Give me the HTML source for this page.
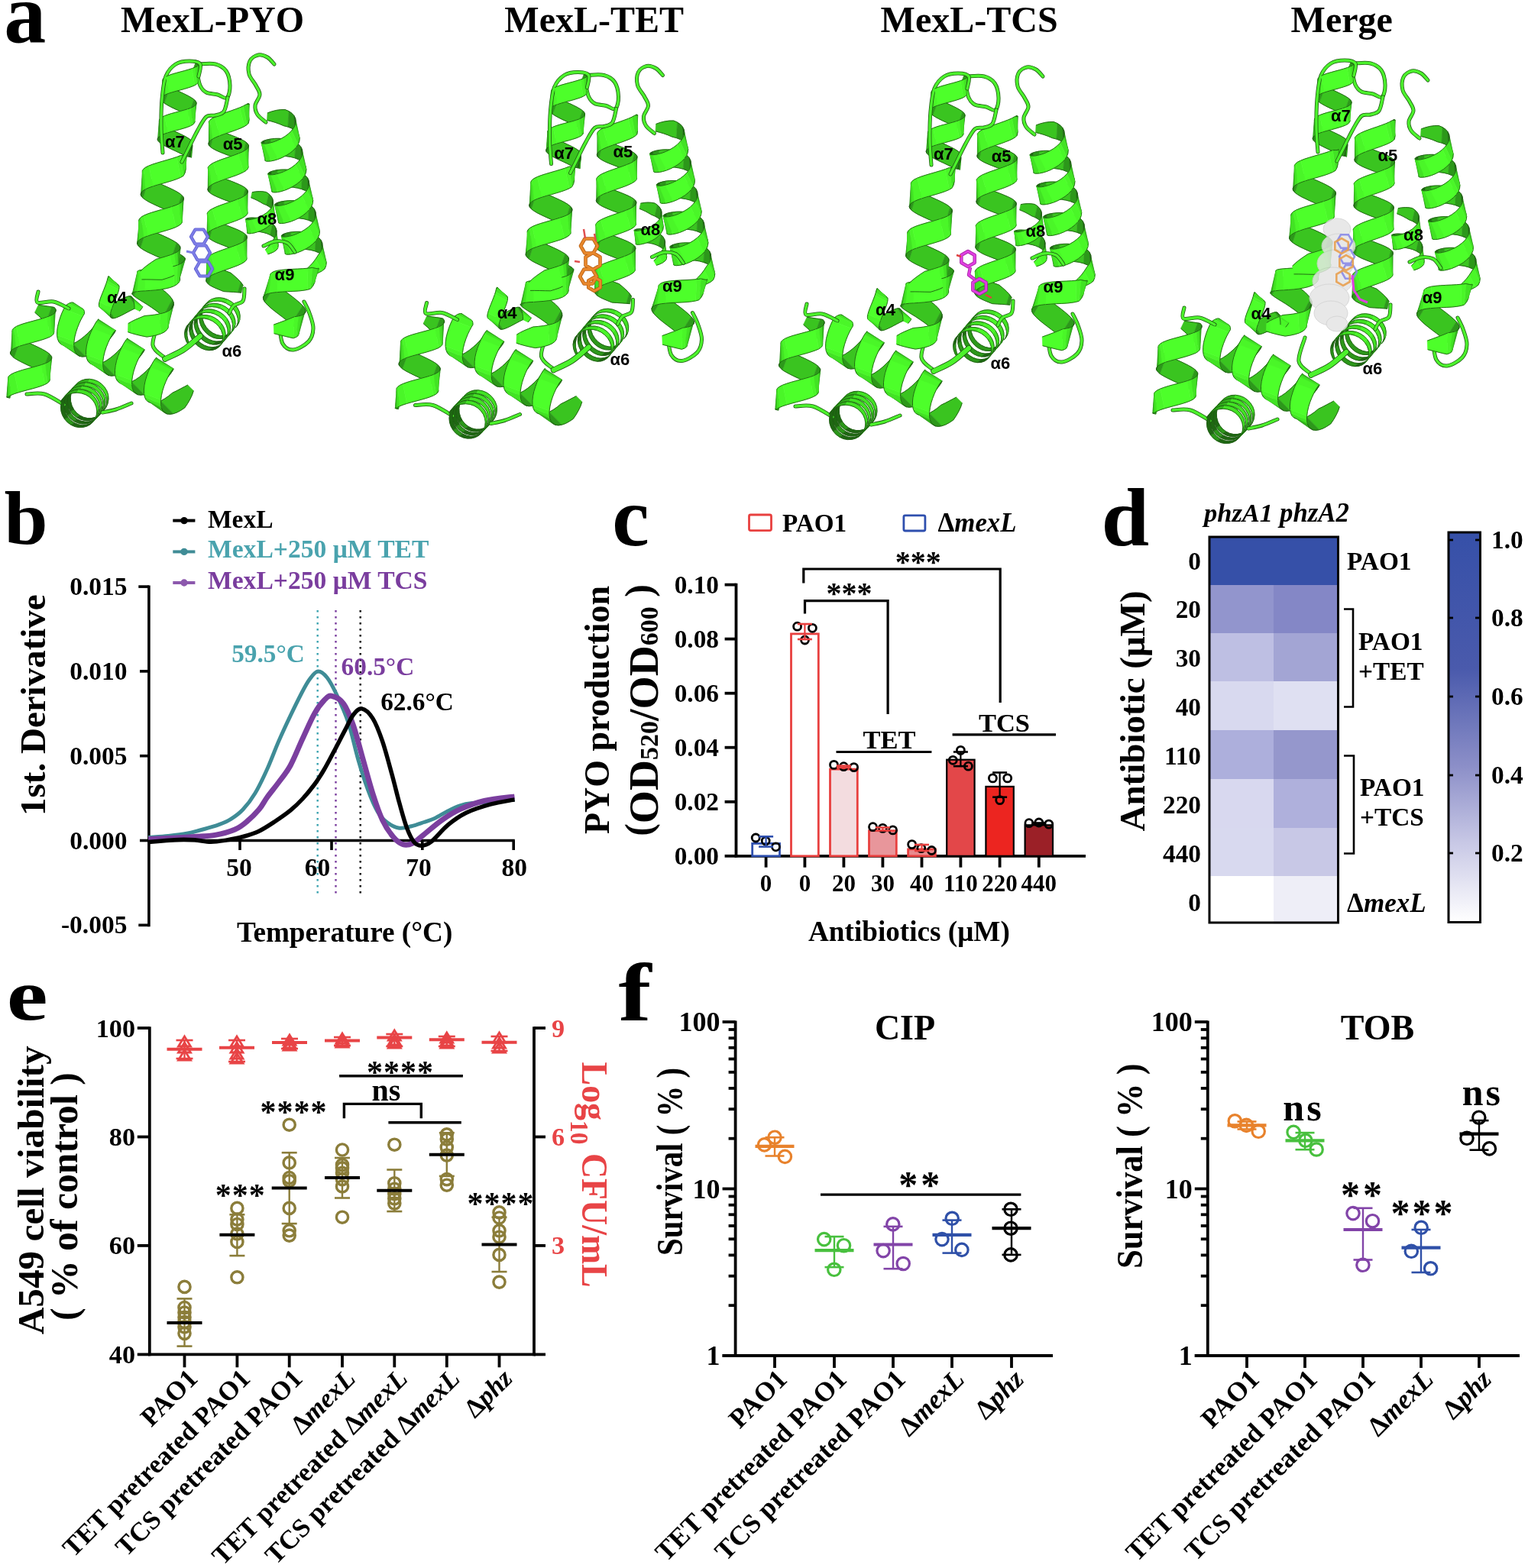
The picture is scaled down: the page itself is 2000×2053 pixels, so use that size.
<!DOCTYPE html>
<html><head><meta charset="utf-8"><title>Figure</title>
<style>html,body{margin:0;padding:0;background:#fff;} svg{display:block;}</style></head>
<body><svg width="2000" height="2053" viewBox="0 0 2000 2053">
<rect width="2000" height="2053" fill="#fff"/>
<text x="0" y="0" font-family="'Liberation Serif','Times New Roman',serif" font-size="110" font-weight="bold" fill="#000" transform="translate(5.3 54.9) scale(1.0 1)">a</text>
<text x="278.0" y="42.4" font-family="'Liberation Serif','Times New Roman',serif" font-size="48" font-weight="bold" fill="#000" text-anchor="middle">MexL-PYO</text>
<text x="777.7" y="42.4" font-family="'Liberation Serif','Times New Roman',serif" font-size="48" font-weight="bold" fill="#000" text-anchor="middle">MexL-TET</text>
<text x="1268.6" y="42.4" font-family="'Liberation Serif','Times New Roman',serif" font-size="48" font-weight="bold" fill="#000" text-anchor="middle">MexL-TCS</text>
<text x="1756.2" y="42.4" font-family="'Liberation Serif','Times New Roman',serif" font-size="48" font-weight="bold" fill="#000" text-anchor="middle">Merge</text>
<defs><g id="prot"><path d="M380.7,303.9 L386.0,303.4 L391.7,303.3 L397.6,303.7 L403.3,304.7 L408.7,306.3 L413.4,308.5 L412.4,328.9 L406.9,327.4 L401.1,326.6 L395.2,326.3 L389.6,326.5 L384.5,327.1 L380.1,328.0Z" fill="#3ac420" stroke="#3ac420" stroke-width="0.6" stroke-linejoin="round"/><path d="M380.7,303.9 L386.0,303.4 L391.7,303.3 L397.6,303.7 L403.3,304.7 L408.7,306.3 L413.4,308.5 M380.1,328.0 L384.5,327.1 L389.6,326.5 L395.2,326.3 L401.1,326.6 L406.9,327.4 L412.4,328.9" fill="none" stroke="#1c5a10" stroke-width="0.9" stroke-linejoin="round"/>
<path d="M413.4,308.5 L417.3,311.2 L420.1,314.4 L421.4,333.5 L417.3,330.9 L412.4,328.9Z" fill="#2c981a" stroke="#2c981a" stroke-width="0.6" stroke-linejoin="round"/><path d="M413.4,308.5 L417.3,311.2 L420.1,314.4 M412.4,328.9 L417.3,330.9 L421.4,333.5" fill="none" stroke="#1c5a10" stroke-width="0.9" stroke-linejoin="round"/>
<path d="M372.5,305.9 L376.2,304.8 L380.7,303.9 L380.1,328.0 L376.7,329.2 L374.4,330.4Z" fill="#2c981a" stroke="#2c981a" stroke-width="0.6" stroke-linejoin="round"/><path d="M372.5,305.9 L376.2,304.8 L380.7,303.9 M374.4,330.4 L376.7,329.2 L380.1,328.0" fill="none" stroke="#1c5a10" stroke-width="0.9" stroke-linejoin="round"/>
<path d="M420.1,314.4 L421.8,318.0 L422.2,321.9 L426.4,340.1 L424.5,336.6 L421.4,333.5Z" fill="#1e6812" stroke="#1e6812" stroke-width="0.6" stroke-linejoin="round"/><path d="M420.1,314.4 L421.8,318.0 L422.2,321.9 M421.4,333.5 L424.5,336.6 L426.4,340.1" fill="none" stroke="#1c5a10" stroke-width="0.9" stroke-linejoin="round"/>
<path d="M95.6,450.1 L100.7,447.4 L105.8,444.0 L110.7,440.1 L115.4,435.8 L119.5,431.5 L123.0,427.4 L125.8,423.8 L144.5,442.9 L140.9,447.0 L136.6,451.4 L131.9,455.6 L126.9,459.4 L121.8,462.7 L116.8,465.2 L112.0,466.7Z" fill="#3ac420" stroke="#3ac420" stroke-width="0.6" stroke-linejoin="round"/><path d="M95.6,450.1 L100.7,447.4 L105.8,444.0 L110.7,440.1 L115.4,435.8 L119.5,431.5 L123.0,427.4 L125.8,423.8 M112.0,466.7 L116.8,465.2 L121.8,462.7 L126.9,459.4 L131.9,455.6 L136.6,451.4 L140.9,447.0 L144.5,442.9" fill="none" stroke="#1c5a10" stroke-width="0.9" stroke-linejoin="round"/>
<path d="M422.2,321.9 L421.4,326.0 L427.2,344.0 L426.4,340.1Z" fill="#32b21c" stroke="#32b21c" stroke-width="0.6" stroke-linejoin="round"/><path d="M422.2,321.9 L421.4,326.0 M426.4,340.1 L427.2,344.0" fill="none" stroke="#1c5a10" stroke-width="0.9" stroke-linejoin="round"/>
<path d="M368.5,308.2 L369.9,307.1 L372.5,305.9 L374.4,330.4 L373.3,331.5 L373.4,332.4Z" fill="#1e6812" stroke="#1e6812" stroke-width="0.6" stroke-linejoin="round"/><path d="M368.5,308.2 L369.9,307.1 L372.5,305.9 M373.4,332.4 L373.3,331.5 L374.4,330.4" fill="none" stroke="#1c5a10" stroke-width="0.9" stroke-linejoin="round"/>
<path d="M371.9,263.3 L377.1,262.7 L382.8,262.6 L388.7,263.0 L394.4,264.0 L399.8,265.6 L404.6,267.8 L403.5,288.2 L398.0,286.7 L392.2,285.9 L386.3,285.6 L380.7,285.8 L375.6,286.5 L371.3,287.4Z" fill="#3ac420" stroke="#3ac420" stroke-width="0.6" stroke-linejoin="round"/><path d="M371.9,263.3 L377.1,262.7 L382.8,262.6 L388.7,263.0 L394.4,264.0 L399.8,265.6 L404.6,267.8 M371.3,287.4 L375.6,286.5 L380.7,285.8 L386.3,285.6 L392.2,285.9 L398.0,286.7 L403.5,288.2" fill="none" stroke="#1c5a10" stroke-width="0.9" stroke-linejoin="round"/>
<path d="M421.4,326.0 L419.4,330.1 L426.7,348.0 L427.2,344.0Z" fill="#42e224" stroke="#42e224" stroke-width="0.6" stroke-linejoin="round"/><path d="M421.4,326.0 L419.4,330.1 M427.2,344.0 L426.7,348.0" fill="none" stroke="#1c5a10" stroke-width="0.9" stroke-linejoin="round"/>
<path d="M86.4,452.4 L90.8,451.8 L95.6,450.1 L112.0,466.7 L107.7,467.1 L104.0,466.3Z" fill="#2c981a" stroke="#2c981a" stroke-width="0.6" stroke-linejoin="round"/><path d="M86.4,452.4 L90.8,451.8 L95.6,450.1 M104.0,466.3 L107.7,467.1 L112.0,466.7" fill="none" stroke="#1c5a10" stroke-width="0.9" stroke-linejoin="round"/>
<path d="M97.7,397.7 L95.9,396.2 L108.3,404.3 L106.4,404.1Z" fill="#1e6812" stroke="#1e6812" stroke-width="0.6" stroke-linejoin="round"/><path d="M97.7,397.7 L95.9,396.2 M106.4,404.1 L108.3,404.3" fill="none" stroke="#1c5a10" stroke-width="0.9" stroke-linejoin="round"/>
<path d="M404.6,267.8 L408.5,270.5 L411.3,273.7 L412.6,292.8 L408.4,290.2 L403.5,288.2Z" fill="#2c981a" stroke="#2c981a" stroke-width="0.6" stroke-linejoin="round"/><path d="M404.6,267.8 L408.5,270.5 L411.3,273.7 M403.5,288.2 L408.4,290.2 L412.6,292.8" fill="none" stroke="#1c5a10" stroke-width="0.9" stroke-linejoin="round"/>
<path d="M125.8,423.8 L127.7,420.9 L128.8,418.9 L149.6,436.1 L147.4,439.2 L144.5,442.9Z" fill="#2c981a" stroke="#2c981a" stroke-width="0.6" stroke-linejoin="round"/><path d="M125.8,423.8 L127.7,420.9 L128.8,418.9 M144.5,442.9 L147.4,439.2 L149.6,436.1" fill="none" stroke="#1c5a10" stroke-width="0.9" stroke-linejoin="round"/>
<path d="M264.5,413.1 L265.3,418.6 L267.2,423.9 L270.2,428.7 L274.1,432.9 L278.6,436.1 L283.6,438.4 L288.6,439.5 L293.6,439.4 L289.1,443.5 L284.1,443.3 L279.1,442.0 L274.2,439.5 L269.8,436.1 L266.1,431.8 L263.2,426.9 L261.4,421.6 L260.7,416.2Z" fill="#2c981a" stroke="#2c981a" stroke-width="0.6" stroke-linejoin="round"/><path d="M264.5,413.1 L265.3,418.6 L267.2,423.9 L270.2,428.7 L274.1,432.9 L278.6,436.1 L283.6,438.4 L288.6,439.5 L293.6,439.4 M260.7,416.2 L261.4,421.6 L263.2,426.9 L266.1,431.8 L269.8,436.1 L274.2,439.5 L279.1,442.0 L284.1,443.3 L289.1,443.5" fill="none" stroke="#1c5a10" stroke-width="0.9" stroke-linejoin="round"/>
<path d="M368.3,309.2 L368.5,308.2 L373.4,332.4 L374.7,333.0Z" fill="#32b21c" stroke="#32b21c" stroke-width="0.6" stroke-linejoin="round"/><path d="M368.3,309.2 L368.5,308.2 M374.7,333.0 L373.4,332.4" fill="none" stroke="#1c5a10" stroke-width="0.9" stroke-linejoin="round"/>
<path d="M419.4,330.1 L416.4,334.1 L413.1,339.2 L421.4,354.8 L425.0,352.1 L426.7,348.0Z" fill="#4af628" stroke="#4af628" stroke-width="0.6" stroke-linejoin="round"/><path d="M419.4,330.1 L416.4,334.1 L413.1,339.2 M426.7,348.0 L425.0,352.1 L421.4,354.8" fill="none" stroke="#1c5a10" stroke-width="0.9" stroke-linejoin="round"/>
<path d="M363.7,265.2 L367.3,264.1 L371.9,263.3 L371.3,287.4 L367.9,288.5 L365.6,289.7Z" fill="#2c981a" stroke="#2c981a" stroke-width="0.6" stroke-linejoin="round"/><path d="M363.7,265.2 L367.3,264.1 L371.9,263.3 M365.6,289.7 L367.9,288.5 L371.3,287.4" fill="none" stroke="#1c5a10" stroke-width="0.9" stroke-linejoin="round"/>
<path d="M309.8,427.3 L312.4,423.2 L313.9,418.4 L311.4,421.9 L310.3,425.8 L308.2,429.2Z" fill="#32b21c" stroke="#32b21c" stroke-width="0.6" stroke-linejoin="round"/><path d="M309.8,427.3 L312.4,423.2 L313.9,418.4 M308.2,429.2 L310.3,425.8 L311.4,421.9" fill="none" stroke="#1c5a10" stroke-width="0.9" stroke-linejoin="round"/>
<path d="M96.7,536.3 L100.3,540.6 L104.6,544.0 L100.3,546.5 L95.9,543.0 L92.3,538.6Z" fill="#2c981a" stroke="#2c981a" stroke-width="0.6" stroke-linejoin="round"/><path d="M96.7,536.3 L100.3,540.6 L104.6,544.0 M92.3,538.6 L95.9,543.0 L100.3,546.5" fill="none" stroke="#1c5a10" stroke-width="0.9" stroke-linejoin="round"/>
<path d="M95.9,396.2 L93.2,396.1 L109.6,405.5 L108.3,404.3Z" fill="#32b21c" stroke="#32b21c" stroke-width="0.6" stroke-linejoin="round"/><path d="M95.9,396.2 L93.2,396.1 M108.3,404.3 L109.6,405.5" fill="none" stroke="#1c5a10" stroke-width="0.9" stroke-linejoin="round"/>
<path d="M269.1,398.0 L266.4,402.5 L264.9,407.6 L264.5,413.1 L260.7,416.2 L261.2,411.0 L262.9,406.1 L265.8,401.8Z" fill="#1e6812" stroke="#1e6812" stroke-width="0.6" stroke-linejoin="round"/><path d="M269.1,398.0 L266.4,402.5 L264.9,407.6 L264.5,413.1 M265.8,401.8 L262.9,406.1 L261.2,411.0 L260.7,416.2" fill="none" stroke="#1c5a10" stroke-width="0.9" stroke-linejoin="round"/>
<path d="M135.9,537.4 L139.1,532.9 L141.2,527.9 L142.0,522.3 L141.6,516.7 L139.0,521.0 L139.6,525.9 L139.1,530.7 L137.3,535.1 L134.6,538.8Z" fill="#32b21c" stroke="#32b21c" stroke-width="0.6" stroke-linejoin="round"/><path d="M135.9,537.4 L139.1,532.9 L141.2,527.9 L142.0,522.3 L141.6,516.7 M134.6,538.8 L137.3,535.1 L139.1,530.7 L139.6,525.9 L139.0,521.0" fill="none" stroke="#1c5a10" stroke-width="0.9" stroke-linejoin="round"/>
<path d="M82.5,451.9 L86.4,452.4 L104.0,466.3 L100.9,464.4Z" fill="#1e6812" stroke="#1e6812" stroke-width="0.6" stroke-linejoin="round"/><path d="M82.5,451.9 L86.4,452.4 M100.9,464.4 L104.0,466.3" fill="none" stroke="#1c5a10" stroke-width="0.9" stroke-linejoin="round"/>
<path d="M133.9,475.0 L139.0,472.3 L144.1,468.8 L149.0,464.9 L153.6,460.6 L157.7,456.3 L161.2,452.2 L163.9,448.7 L182.7,467.7 L179.1,471.8 L174.9,476.1 L170.2,480.4 L165.2,484.3 L160.1,487.6 L155.1,490.1 L150.3,491.7Z" fill="#3ac420" stroke="#3ac420" stroke-width="0.6" stroke-linejoin="round"/><path d="M133.9,475.0 L139.0,472.3 L144.1,468.8 L149.0,464.9 L153.6,460.6 L157.7,456.3 L161.2,452.2 L163.9,448.7 M150.3,491.7 L155.1,490.1 L160.1,487.6 L165.2,484.3 L170.2,480.4 L174.9,476.1 L179.1,471.8 L182.7,467.7" fill="none" stroke="#1c5a10" stroke-width="0.9" stroke-linejoin="round"/>
<path d="M98.2,504.6 L95.1,509.2 L93.1,514.5 L92.3,520.1 L92.6,525.8 L94.1,531.3 L96.7,536.3 L92.3,538.6 L89.7,533.6 L88.2,528.2 L88.0,522.7 L89.0,517.4 L91.3,512.4 L94.7,508.2Z" fill="#1e6812" stroke="#1e6812" stroke-width="0.6" stroke-linejoin="round"/><path d="M98.2,504.6 L95.1,509.2 L93.1,514.5 L92.3,520.1 L92.6,525.8 L94.1,531.3 L96.7,536.3 M94.7,508.2 L91.3,512.4 L89.0,517.4 L88.0,522.7 L88.2,528.2 L89.7,533.6 L92.3,538.6" fill="none" stroke="#1c5a10" stroke-width="0.9" stroke-linejoin="round"/>
<path d="M187.1,362.3 L191.7,365.2 L196.9,368.5 L202.5,372.0 L208.2,375.9 L213.7,379.9 L218.5,383.9 L222.5,388.0 L225.5,392.0 L213.5,414.5 L209.1,410.4 L203.9,406.4 L198.3,402.5 L192.6,398.7 L187.1,395.3 L182.2,392.3 L178.1,389.6 L175.0,387.3Z" fill="#3ac420" stroke="#3ac420" stroke-width="0.6" stroke-linejoin="round"/><path d="M187.1,362.3 L191.7,365.2 L196.9,368.5 L202.5,372.0 L208.2,375.9 L213.7,379.9 L218.5,383.9 L222.5,388.0 L225.5,392.0 M175.0,387.3 L178.1,389.6 L182.2,392.3 L187.1,395.3 L192.6,398.7 L198.3,402.5 L203.9,406.4 L209.1,410.4 L213.5,414.5" fill="none" stroke="#1c5a10" stroke-width="0.9" stroke-linejoin="round"/>
<path d="M50.2,399.3 L56.7,400.2 L62.7,401.1 L67.6,401.8 L60.0,422.8 L55.5,418.2 L50.7,413.7 L45.6,409.1Z" fill="#3ac420" stroke="#3ac420" stroke-width="0.6" stroke-linejoin="round"/><path d="M50.2,399.3 L56.7,400.2 L62.7,401.1 L67.6,401.8 M45.6,409.1 L50.7,413.7 L55.5,418.2 L60.0,422.8" fill="none" stroke="#1c5a10" stroke-width="0.9" stroke-linejoin="round"/>
<path d="M411.3,273.7 L413.0,277.3 L413.5,281.2 L417.7,299.4 L415.7,295.9 L412.6,292.8Z" fill="#1e6812" stroke="#1e6812" stroke-width="0.6" stroke-linejoin="round"/><path d="M411.3,273.7 L413.0,277.3 L413.5,281.2 M412.6,292.8 L415.7,295.9 L417.7,299.4" fill="none" stroke="#1c5a10" stroke-width="0.9" stroke-linejoin="round"/>
<path d="M27.1,443.7 L32.4,446.4 L38.2,449.2 L44.2,451.9 L50.1,454.7 L55.5,457.4 L60.2,460.1 L63.9,462.7 L55.4,487.4 L50.3,484.7 L44.7,481.9 L38.7,479.2 L32.8,476.4 L27.2,473.6 L22.3,471.0 L18.2,468.4Z" fill="#3ac420" stroke="#3ac420" stroke-width="0.6" stroke-linejoin="round"/><path d="M27.1,443.7 L32.4,446.4 L38.2,449.2 L44.2,451.9 L50.1,454.7 L55.5,457.4 L60.2,460.1 L63.9,462.7 M18.2,468.4 L22.3,471.0 L27.2,473.6 L32.8,476.4 L38.7,479.2 L44.7,481.9 L50.3,484.7 L55.4,487.4" fill="none" stroke="#1c5a10" stroke-width="0.9" stroke-linejoin="round"/>
<path d="M413.1,339.2 L409.4,344.1 L405.2,348.6 L400.9,352.7 L405.5,360.6 L411.4,359.2 L416.8,357.2 L421.4,354.8Z" fill="#4dff2a" stroke="#4dff2a" stroke-width="0.6" stroke-linejoin="round"/><path d="M413.1,339.2 L409.4,344.1 L405.2,348.6 L400.9,352.7 M421.4,354.8 L416.8,357.2 L411.4,359.2 L405.5,360.6" fill="none" stroke="#1c5a10" stroke-width="0.9" stroke-linejoin="round"/>
<path d="M279.8,348.4 L284.8,350.6 L290.3,352.8 L296.2,355.1 L302.0,357.3 L306.9,361.4 L311.4,365.4 L315.2,369.5 L311.3,382.8 L305.6,382.4 L299.3,382.0 L292.7,381.6 L287.0,379.3 L281.7,377.1 L277.1,374.9 L273.5,372.7Z" fill="#3ac420" stroke="#3ac420" stroke-width="0.6" stroke-linejoin="round"/><path d="M279.8,348.4 L284.8,350.6 L290.3,352.8 L296.2,355.1 L302.0,357.3 L306.9,361.4 L311.4,365.4 L315.2,369.5 M273.5,372.7 L277.1,374.9 L281.7,377.1 L287.0,379.3 L292.7,381.6 L299.3,382.0 L305.6,382.4 L311.3,382.8" fill="none" stroke="#1c5a10" stroke-width="0.9" stroke-linejoin="round"/>
<path d="M280.8,228.3 L285.6,230.5 L291.0,232.7 L296.8,235.0 L302.7,237.2 L308.4,239.5 L313.5,241.7 L317.9,243.9 L321.3,246.1 L315.3,270.4 L310.5,268.2 L305.1,266.0 L299.3,263.7 L293.4,261.5 L287.7,259.2 L282.6,257.0 L278.2,254.8 L274.9,252.6Z" fill="#3ac420" stroke="#3ac420" stroke-width="0.6" stroke-linejoin="round"/><path d="M280.8,228.3 L285.6,230.5 L291.0,232.7 L296.8,235.0 L302.7,237.2 L308.4,239.5 L313.5,241.7 L317.9,243.9 L321.3,246.1 M274.9,252.6 L278.2,254.8 L282.6,257.0 L287.7,259.2 L293.4,261.5 L299.3,263.7 L305.1,266.0 L310.5,268.2 L315.3,270.4" fill="none" stroke="#1c5a10" stroke-width="0.9" stroke-linejoin="round"/>
<path d="M280.3,288.3 L285.2,290.5 L290.7,292.8 L296.5,295.0 L302.4,297.3 L308.0,299.5 L313.1,301.7 L317.4,304.0 L320.6,306.2 L314.8,330.5 L310.1,328.2 L304.7,326.0 L298.9,323.8 L293.0,321.5 L287.3,319.3 L282.1,317.1 L277.7,314.8 L274.2,312.6Z" fill="#3ac420" stroke="#3ac420" stroke-width="0.6" stroke-linejoin="round"/><path d="M280.3,288.3 L285.2,290.5 L290.7,292.8 L296.5,295.0 L302.4,297.3 L308.0,299.5 L313.1,301.7 L317.4,304.0 L320.6,306.2 M274.2,312.6 L277.7,314.8 L282.1,317.1 L287.3,319.3 L293.0,321.5 L298.9,323.8 L304.7,326.0 L310.1,328.2 L314.8,330.5" fill="none" stroke="#1c5a10" stroke-width="0.9" stroke-linejoin="round"/>
<path d="M281.3,168.2 L286.0,170.5 L291.4,172.7 L297.2,174.9 L303.1,177.2 L308.8,179.4 L314.0,181.6 L318.5,183.9 L322.0,186.1 L315.8,210.4 L310.9,208.2 L305.4,205.9 L299.6,203.7 L293.7,201.4 L288.1,199.2 L283.1,197.0 L278.8,194.7 L275.6,192.5Z" fill="#3ac420" stroke="#3ac420" stroke-width="0.6" stroke-linejoin="round"/><path d="M281.3,168.2 L286.0,170.5 L291.4,172.7 L297.2,174.9 L303.1,177.2 L308.8,179.4 L314.0,181.6 L318.5,183.9 L322.0,186.1 M275.6,192.5 L278.8,194.7 L283.1,197.0 L288.1,199.2 L293.7,201.4 L299.6,203.7 L305.4,205.9 L310.9,208.2 L315.8,210.4" fill="none" stroke="#1c5a10" stroke-width="0.9" stroke-linejoin="round"/>
<path d="M332.2,285.1 L336.3,285.3 L340.8,286.0 L345.2,287.1 L349.5,288.7 L353.5,290.7 L356.8,293.1 L353.6,307.6 L349.5,305.8 L345.1,304.5 L340.6,303.6 L336.3,303.1 L332.3,303.0 L329.0,303.2Z" fill="#3ac420" stroke="#3ac420" stroke-width="0.6" stroke-linejoin="round"/><path d="M332.2,285.1 L336.3,285.3 L340.8,286.0 L345.2,287.1 L349.5,288.7 L353.5,290.7 L356.8,293.1 M329.0,303.2 L332.3,303.0 L336.3,303.1 L340.6,303.6 L345.1,304.5 L349.5,305.8 L353.6,307.6" fill="none" stroke="#1c5a10" stroke-width="0.9" stroke-linejoin="round"/>
<path d="M360.9,371.4 L365.6,375.4 L370.9,379.6 L376.6,383.9 L382.3,388.2 L387.6,392.4 L392.4,396.5 L396.2,400.2 L381.1,424.0 L376.0,419.9 L370.4,415.6 L364.7,411.3 L359.1,407.0 L354.1,402.9 L349.9,399.0 L346.7,395.5Z" fill="#3ac420" stroke="#3ac420" stroke-width="0.6" stroke-linejoin="round"/><path d="M360.9,371.4 L365.6,375.4 L370.9,379.6 L376.6,383.9 L382.3,388.2 L387.6,392.4 L392.4,396.5 L396.2,400.2 M346.7,395.5 L349.9,399.0 L354.1,402.9 L359.1,407.0 L364.7,411.3 L370.4,415.6 L376.0,419.9 L381.1,424.0" fill="none" stroke="#1c5a10" stroke-width="0.9" stroke-linejoin="round"/>
<path d="M79.3,450.2 L82.5,451.9 L100.9,464.4 L98.7,461.4Z" fill="#32b21c" stroke="#32b21c" stroke-width="0.6" stroke-linejoin="round"/><path d="M79.3,450.2 L82.5,451.9 M98.7,461.4 L100.9,464.4" fill="none" stroke="#1c5a10" stroke-width="0.9" stroke-linejoin="round"/>
<path d="M222.6,114.0 L227.1,116.3 L232.1,118.7 L237.1,121.0 L242.1,123.4 L246.7,125.7 L250.7,128.0 L253.9,130.2 L246.7,151.2 L242.3,148.9 L237.5,146.6 L232.4,144.2 L227.4,141.9 L222.6,139.5 L218.4,137.2 L215.0,135.0Z" fill="#3ac420" stroke="#3ac420" stroke-width="0.6" stroke-linejoin="round"/><path d="M222.6,114.0 L227.1,116.3 L232.1,118.7 L237.1,121.0 L242.1,123.4 L246.7,125.7 L250.7,128.0 L253.9,130.2 M215.0,135.0 L218.4,137.2 L222.6,139.5 L227.4,141.9 L232.4,144.2 L237.5,146.6 L242.3,148.9 L246.7,151.2" fill="none" stroke="#1c5a10" stroke-width="0.9" stroke-linejoin="round"/>
<path d="M258.0,86.0 C258.7,85.7 258.0,84.3 262.0,84.0 C266.0,83.7 276.3,82.5 282.0,84.0 C287.7,85.5 292.8,88.3 296.0,93.0 C299.2,97.7 300.8,106.2 301.0,112.0 C301.2,117.8 299.7,126.0 297.0,128.0 C294.3,130.0 289.5,125.2 285.0,124.0 C280.5,122.8 273.8,123.0 270.0,121.0 C266.2,119.0 264.0,116.3 262.0,112.0 C260.0,107.7 258.7,97.8 258.0,95.0" fill="none" stroke="#1c5a10" stroke-width="5.0" stroke-linecap="round" stroke-linejoin="round"/><path d="M258.0,86.0 C258.7,85.7 258.0,84.3 262.0,84.0 C266.0,83.7 276.3,82.5 282.0,84.0 C287.7,85.5 292.8,88.3 296.0,93.0 C299.2,97.7 300.8,106.2 301.0,112.0 C301.2,117.8 299.7,126.0 297.0,128.0 C294.3,130.0 289.5,125.2 285.0,124.0 C280.5,122.8 273.8,123.0 270.0,121.0 C266.2,119.0 264.0,116.3 262.0,112.0 C260.0,107.7 258.7,97.8 258.0,95.0" fill="none" stroke="#4cf22c" stroke-width="3.4" stroke-linecap="round" stroke-linejoin="round"/>
<path d="M371.6,310.2 L369.3,309.9 L368.3,309.2 L374.7,333.0 L377.2,333.2 L380.7,332.9Z" fill="#42e224" stroke="#42e224" stroke-width="0.6" stroke-linejoin="round"/><path d="M371.6,310.2 L369.3,309.9 L368.3,309.2 M380.7,332.9 L377.2,333.2 L374.7,333.0" fill="none" stroke="#1c5a10" stroke-width="0.9" stroke-linejoin="round"/>
<path d="M277.1,391.7 L272.7,394.4 L269.1,398.0 L265.8,401.8 L269.6,398.3 L274.3,395.8Z" fill="#32b21c" stroke="#32b21c" stroke-width="0.6" stroke-linejoin="round"/><path d="M277.1,391.7 L272.7,394.4 L269.1,398.0 M274.3,395.8 L269.6,398.3 L265.8,401.8" fill="none" stroke="#1c5a10" stroke-width="0.9" stroke-linejoin="round"/>
<path d="M93.2,396.1 L89.8,397.4 L110.3,407.6 L109.6,405.5Z" fill="#42e224" stroke="#42e224" stroke-width="0.6" stroke-linejoin="round"/><path d="M93.2,396.1 L89.8,397.4 M109.6,405.5 L110.3,407.6" fill="none" stroke="#1c5a10" stroke-width="0.9" stroke-linejoin="round"/>
<path d="M104.6,544.0 L109.5,546.4 L114.7,547.6 L119.9,547.5 L124.9,546.2 L129.4,543.8 L133.1,540.4 L129.7,544.0 L125.8,547.3 L121.1,549.5 L116.0,550.6 L110.6,550.4 L105.3,549.1 L100.3,546.5Z" fill="#1e6812" stroke="#1e6812" stroke-width="0.6" stroke-linejoin="round"/><path d="M104.6,544.0 L109.5,546.4 L114.7,547.6 L119.9,547.5 L124.9,546.2 L129.4,543.8 L133.1,540.4 M100.3,546.5 L105.3,549.1 L110.6,550.4 L116.0,550.6 L121.1,549.5 L125.8,547.3 L129.7,544.0" fill="none" stroke="#1c5a10" stroke-width="0.9" stroke-linejoin="round"/>
<path d="M192.2,298.8 L197.6,301.5 L203.6,304.3 L209.8,307.0 L216.0,309.8 L221.9,312.6 L227.0,315.3 L231.2,317.9 L222.5,343.7 L216.9,340.9 L210.9,338.2 L204.6,335.4 L198.5,332.6 L192.8,329.9 L187.8,327.2 L183.8,324.5Z" fill="#3ac420" stroke="#3ac420" stroke-width="0.6" stroke-linejoin="round"/><path d="M192.2,298.8 L197.6,301.5 L203.6,304.3 L209.8,307.0 L216.0,309.8 L221.9,312.6 L227.0,315.3 L231.2,317.9 M183.8,324.5 L187.8,327.2 L192.8,329.9 L198.5,332.6 L204.6,335.4 L210.9,338.2 L216.9,340.9 L222.5,343.7" fill="none" stroke="#1c5a10" stroke-width="0.9" stroke-linejoin="round"/>
<path d="M117.5,496.3 L112.0,496.5 L106.8,498.1 L102.1,500.8 L98.2,504.6 L94.7,508.2 L99.1,504.8 L104.2,502.3 L109.7,501.0 L115.4,500.8Z" fill="#32b21c" stroke="#32b21c" stroke-width="0.6" stroke-linejoin="round"/><path d="M117.5,496.3 L112.0,496.5 L106.8,498.1 L102.1,500.8 L98.2,504.6 M115.4,500.8 L109.7,501.0 L104.2,502.3 L99.1,504.8 L94.7,508.2" fill="none" stroke="#1c5a10" stroke-width="0.9" stroke-linejoin="round"/>
<path d="M215.1,165.0 L219.1,167.3 L223.8,169.6 L228.8,172.0 L233.9,174.4 L238.8,176.7 L243.2,179.0 L247.0,181.3 L249.9,183.4 L243.1,204.5 L238.9,202.2 L234.2,199.9 L229.2,197.5 L224.1,195.2 L219.2,192.8 L214.9,190.5 L211.2,188.3 L208.4,186.1Z" fill="#3ac420" stroke="#3ac420" stroke-width="0.6" stroke-linejoin="round"/><path d="M215.1,165.0 L219.1,167.3 L223.8,169.6 L228.8,172.0 L233.9,174.4 L238.8,176.7 L243.2,179.0 L247.0,181.3 L249.9,183.4 M208.4,186.1 L211.2,188.3 L214.9,190.5 L219.2,192.8 L224.1,195.2 L229.2,197.5 L234.2,199.9 L238.9,202.2 L243.1,204.5" fill="none" stroke="#1c5a10" stroke-width="0.9" stroke-linejoin="round"/>
<path d="M128.8,418.9 L129.1,417.9 L128.6,418.1 L151.3,432.7 L150.8,433.9 L149.6,436.1Z" fill="#1e6812" stroke="#1e6812" stroke-width="0.6" stroke-linejoin="round"/><path d="M128.8,418.9 L129.1,417.9 L128.6,418.1 M149.6,436.1 L150.8,433.9 L151.3,432.7" fill="none" stroke="#1c5a10" stroke-width="0.9" stroke-linejoin="round"/>
<path d="M194.8,233.4 L199.8,236.1 L205.6,238.9 L211.8,241.7 L218.0,244.4 L224.1,247.2 L229.5,249.9 L234.1,252.6 L237.6,255.2 L229.9,281.0 L224.8,278.3 L219.0,275.6 L212.9,272.8 L206.6,270.0 L200.6,267.2 L195.1,264.5 L190.6,261.8 L187.1,259.3Z" fill="#3ac420" stroke="#3ac420" stroke-width="0.6" stroke-linejoin="round"/><path d="M194.8,233.4 L199.8,236.1 L205.6,238.9 L211.8,241.7 L218.0,244.4 L224.1,247.2 L229.5,249.9 L234.1,252.6 L237.6,255.2 M187.1,259.3 L190.6,261.8 L195.1,264.5 L200.6,267.2 L206.6,270.0 L212.9,272.8 L219.0,275.6 L224.8,278.3 L229.9,281.0" fill="none" stroke="#1c5a10" stroke-width="0.9" stroke-linejoin="round"/>
<path d="M356.8,293.1 L359.5,295.8 L361.2,298.9 L360.3,312.4 L357.3,309.8 L353.6,307.6Z" fill="#2c981a" stroke="#2c981a" stroke-width="0.6" stroke-linejoin="round"/><path d="M356.8,293.1 L359.5,295.8 L361.2,298.9 M353.6,307.6 L357.3,309.8 L360.3,312.4" fill="none" stroke="#1c5a10" stroke-width="0.9" stroke-linejoin="round"/>
<path d="M293.6,439.4 L298.1,438.2 L302.0,435.9 L305.1,432.7 L301.1,437.5 L297.8,440.5 L293.8,442.6 L289.1,443.5Z" fill="#1e6812" stroke="#1e6812" stroke-width="0.6" stroke-linejoin="round"/><path d="M293.6,439.4 L298.1,438.2 L302.0,435.9 L305.1,432.7 M289.1,443.5 L293.8,442.6 L297.8,440.5 L301.1,437.5" fill="none" stroke="#1c5a10" stroke-width="0.9" stroke-linejoin="round"/>
<path d="M141.6,516.7 L139.8,511.5 L136.8,506.7 L132.9,502.6 L128.3,499.4 L123.0,497.3 L117.5,496.3 L115.4,500.8 L121.0,501.8 L126.2,504.0 L130.8,507.2 L134.6,511.2 L137.4,515.9 L139.0,521.0Z" fill="#42e224" stroke="#42e224" stroke-width="0.6" stroke-linejoin="round"/><path d="M141.6,516.7 L139.8,511.5 L136.8,506.7 L132.9,502.6 L128.3,499.4 L123.0,497.3 L117.5,496.3 M139.0,521.0 L137.4,515.9 L134.6,511.2 L130.8,507.2 L126.2,504.0 L121.0,501.8 L115.4,500.8" fill="none" stroke="#1c5a10" stroke-width="0.9" stroke-linejoin="round"/>
<path d="M313.9,418.4 L314.2,413.2 L313.2,407.9 L310.9,403.2 L307.5,398.8 L304.9,403.7 L308.0,408.2 L310.2,413.0 L311.4,417.5 L311.4,421.9Z" fill="#42e224" stroke="#42e224" stroke-width="0.6" stroke-linejoin="round"/><path d="M313.9,418.4 L314.2,413.2 L313.2,407.9 L310.9,403.2 L307.5,398.8 M311.4,421.9 L311.4,417.5 L310.2,413.0 L308.0,408.2 L304.9,403.7" fill="none" stroke="#1c5a10" stroke-width="0.9" stroke-linejoin="round"/>
<path d="M225.5,392.0 L227.1,395.7 L217.0,418.5 L213.5,414.5Z" fill="#2c981a" stroke="#2c981a" stroke-width="0.6" stroke-linejoin="round"/><path d="M225.5,392.0 L227.1,395.7 M213.5,414.5 L217.0,418.5" fill="none" stroke="#1c5a10" stroke-width="0.9" stroke-linejoin="round"/>
<path d="M413.5,281.2 L412.7,285.2 L418.4,303.2 L417.7,299.4Z" fill="#32b21c" stroke="#32b21c" stroke-width="0.6" stroke-linejoin="round"/><path d="M413.5,281.2 L412.7,285.2 M417.7,299.4 L418.4,303.2" fill="none" stroke="#1c5a10" stroke-width="0.9" stroke-linejoin="round"/>
<path d="M315.2,369.5 L318.2,373.5 L316.0,383.2 L311.3,382.8Z" fill="#2c981a" stroke="#2c981a" stroke-width="0.6" stroke-linejoin="round"/><path d="M315.2,369.5 L318.2,373.5 M311.3,382.8 L316.0,383.2" fill="none" stroke="#1c5a10" stroke-width="0.9" stroke-linejoin="round"/>
<path d="M124.6,477.5 L129.1,476.8 L133.9,475.0 L150.3,491.7 L145.9,492.2 L142.1,491.5Z" fill="#2c981a" stroke="#2c981a" stroke-width="0.6" stroke-linejoin="round"/><path d="M124.6,477.5 L129.1,476.8 L133.9,475.0 M142.1,491.5 L145.9,492.2 L150.3,491.7" fill="none" stroke="#1c5a10" stroke-width="0.9" stroke-linejoin="round"/>
<path d="M359.7,267.6 L361.1,266.4 L363.7,265.2 L365.6,289.7 L364.5,290.9 L364.7,291.8Z" fill="#1e6812" stroke="#1e6812" stroke-width="0.6" stroke-linejoin="round"/><path d="M359.7,267.6 L361.1,266.4 L363.7,265.2 M364.7,291.8 L364.5,290.9 L365.6,289.7" fill="none" stroke="#1c5a10" stroke-width="0.9" stroke-linejoin="round"/>
<path d="M363.0,222.6 L368.2,222.1 L373.9,222.0 L379.8,222.4 L385.6,223.3 L391.0,224.9 L395.7,227.1 L394.6,247.5 L389.1,246.1 L383.3,245.2 L377.5,245.0 L371.9,245.2 L366.8,245.8 L362.5,246.8Z" fill="#3ac420" stroke="#3ac420" stroke-width="0.6" stroke-linejoin="round"/><path d="M363.0,222.6 L368.2,222.1 L373.9,222.0 L379.8,222.4 L385.6,223.3 L391.0,224.9 L395.7,227.1 M362.5,246.8 L366.8,245.8 L371.9,245.2 L377.5,245.0 L383.3,245.2 L389.1,246.1 L394.6,247.5" fill="none" stroke="#1c5a10" stroke-width="0.9" stroke-linejoin="round"/>
<path d="M67.6,401.8 L71.2,402.5 L72.9,404.9 L67.4,429.9 L63.9,427.3 L60.0,422.8Z" fill="#2c981a" stroke="#2c981a" stroke-width="0.6" stroke-linejoin="round"/><path d="M67.6,401.8 L71.2,402.5 L72.9,404.9 M60.0,422.8 L63.9,427.3 L67.4,429.9" fill="none" stroke="#1c5a10" stroke-width="0.9" stroke-linejoin="round"/>
<path d="M163.9,448.7 L165.8,445.8 L166.8,443.9 L187.6,461.0 L185.5,464.0 L182.7,467.7Z" fill="#2c981a" stroke="#2c981a" stroke-width="0.6" stroke-linejoin="round"/><path d="M163.9,448.7 L165.8,445.8 L166.8,443.9 M182.7,467.7 L185.5,464.0 L187.6,461.0" fill="none" stroke="#1c5a10" stroke-width="0.9" stroke-linejoin="round"/>
<path d="M298.3,392.4 L293.0,390.5 L287.5,389.7 L282.1,390.1 L277.1,391.7 L274.3,395.8 L279.5,394.4 L285.1,394.1 L290.6,394.9 L296.0,396.9Z" fill="#42e224" stroke="#42e224" stroke-width="0.6" stroke-linejoin="round"/><path d="M298.3,392.4 L293.0,390.5 L287.5,389.7 L282.1,390.1 L277.1,391.7 M296.0,396.9 L290.6,394.9 L285.1,394.1 L279.5,394.4 L274.3,395.8" fill="none" stroke="#1c5a10" stroke-width="0.9" stroke-linejoin="round"/>
<path d="M19.2,438.5 L22.6,441.0 L27.1,443.7 L18.2,468.4 L15.4,465.8 L13.7,463.5Z" fill="#2c981a" stroke="#2c981a" stroke-width="0.6" stroke-linejoin="round"/><path d="M19.2,438.5 L22.6,441.0 L27.1,443.7 M13.7,463.5 L15.4,465.8 L18.2,468.4" fill="none" stroke="#1c5a10" stroke-width="0.9" stroke-linejoin="round"/>
<path d="M325.5,285.4 L328.5,285.1 L332.2,285.1 L329.0,303.2 L326.3,303.7 L324.5,304.2Z" fill="#2c981a" stroke="#2c981a" stroke-width="0.6" stroke-linejoin="round"/><path d="M325.5,285.4 L328.5,285.1 L332.2,285.1 M324.5,304.2 L326.3,303.7 L329.0,303.2" fill="none" stroke="#1c5a10" stroke-width="0.9" stroke-linejoin="round"/>
<path d="M13.4,506.8 L16.2,511.2 L13.1,521.1 L10.1,520.5Z" fill="#2c981a" stroke="#2c981a" stroke-width="0.6" stroke-linejoin="round"/><path d="M13.4,506.8 L16.2,511.2 M10.1,520.5 L13.1,521.1" fill="none" stroke="#1c5a10" stroke-width="0.9" stroke-linejoin="round"/>
<path d="M321.3,246.1 L323.5,248.3 L319.3,272.6 L315.3,270.4Z" fill="#2c981a" stroke="#2c981a" stroke-width="0.6" stroke-linejoin="round"/><path d="M321.3,246.1 L323.5,248.3 M315.3,270.4 L319.3,272.6" fill="none" stroke="#1c5a10" stroke-width="0.9" stroke-linejoin="round"/>
<path d="M276.9,226.1 L280.8,228.3 L274.9,252.6 L272.7,250.4Z" fill="#2c981a" stroke="#2c981a" stroke-width="0.6" stroke-linejoin="round"/><path d="M276.9,226.1 L280.8,228.3 M272.7,250.4 L274.9,252.6" fill="none" stroke="#1c5a10" stroke-width="0.9" stroke-linejoin="round"/>
<path d="M232.4,331.5 L237.1,333.9 L230.2,346.3 L226.8,340.5Z" fill="#3ac420" stroke="#3ac420" stroke-width="0.6" stroke-linejoin="round"/><path d="M232.4,331.5 L237.1,333.9 M226.8,340.5 L230.2,346.3" fill="none" stroke="#1c5a10" stroke-width="0.9" stroke-linejoin="round"/>
<path d="M183.5,359.9 L187.1,362.3 L175.0,387.3 L173.2,385.5Z" fill="#2c981a" stroke="#2c981a" stroke-width="0.6" stroke-linejoin="round"/><path d="M183.5,359.9 L187.1,362.3 M173.2,385.5 L175.0,387.3" fill="none" stroke="#1c5a10" stroke-width="0.9" stroke-linejoin="round"/>
<path d="M412.7,285.2 L410.7,289.3 L417.9,307.2 L418.4,303.2Z" fill="#42e224" stroke="#42e224" stroke-width="0.6" stroke-linejoin="round"/><path d="M412.7,285.2 L410.7,289.3 M418.4,303.2 L417.9,307.2" fill="none" stroke="#1c5a10" stroke-width="0.9" stroke-linejoin="round"/>
<path d="M320.6,306.2 L322.7,308.3 L318.6,332.7 L314.8,330.5Z" fill="#2c981a" stroke="#2c981a" stroke-width="0.6" stroke-linejoin="round"/><path d="M320.6,306.2 L322.7,308.3 M314.8,330.5 L318.6,332.7" fill="none" stroke="#1c5a10" stroke-width="0.9" stroke-linejoin="round"/>
<path d="M258.1,421.8 L259.2,427.3 L261.3,432.5 L264.5,437.2 L268.5,441.2 L273.2,444.2 L278.2,446.2 L283.2,447.1 L278.7,451.0 L273.6,449.9 L268.7,447.7 L264.2,444.4 L260.3,440.3 L257.3,435.5 L255.2,430.3 L254.2,424.9Z" fill="#2c981a" stroke="#2c981a" stroke-width="0.6" stroke-linejoin="round"/><path d="M258.1,421.8 L259.2,427.3 L261.3,432.5 L264.5,437.2 L268.5,441.2 L273.2,444.2 L278.2,446.2 L283.2,447.1 M254.2,424.9 L255.2,430.3 L257.3,435.5 L260.3,440.3 L264.2,444.4 L268.7,447.7 L273.6,449.9 L278.7,451.0" fill="none" stroke="#1c5a10" stroke-width="0.9" stroke-linejoin="round"/>
<path d="M63.9,462.7 L66.5,465.2 L67.7,467.5 L62.9,492.5 L59.7,490.0 L55.4,487.4Z" fill="#2c981a" stroke="#2c981a" stroke-width="0.6" stroke-linejoin="round"/><path d="M63.9,462.7 L66.5,465.2 L67.7,467.5 M55.4,487.4 L59.7,490.0 L62.9,492.5" fill="none" stroke="#1c5a10" stroke-width="0.9" stroke-linejoin="round"/>
<path d="M307.5,398.8 L303.2,395.2 L298.3,392.4 L296.0,396.9 L300.8,399.9 L304.9,403.7Z" fill="#4af628" stroke="#4af628" stroke-width="0.6" stroke-linejoin="round"/><path d="M307.5,398.8 L303.2,395.2 L298.3,392.4 M304.9,403.7 L300.8,399.9 L296.0,396.9" fill="none" stroke="#1c5a10" stroke-width="0.9" stroke-linejoin="round"/>
<path d="M277.6,166.0 L281.3,168.2 L275.6,192.5 L273.5,190.4Z" fill="#2c981a" stroke="#2c981a" stroke-width="0.6" stroke-linejoin="round"/><path d="M277.6,166.0 L281.3,168.2 M273.5,190.4 L275.6,192.5" fill="none" stroke="#1c5a10" stroke-width="0.9" stroke-linejoin="round"/>
<path d="M361.2,298.9 L362.1,302.1 L362.0,305.5 L363.9,318.4 L362.5,315.3 L360.3,312.4Z" fill="#1e6812" stroke="#1e6812" stroke-width="0.6" stroke-linejoin="round"/><path d="M361.2,298.9 L362.1,302.1 L362.0,305.5 M360.3,312.4 L362.5,315.3 L363.9,318.4" fill="none" stroke="#1c5a10" stroke-width="0.9" stroke-linejoin="round"/>
<path d="M75.3,443.5 L76.9,447.4 L79.3,450.2 L98.7,461.4 L97.3,457.3 L96.7,452.4Z" fill="#42e224" stroke="#42e224" stroke-width="0.6" stroke-linejoin="round"/><path d="M75.3,443.5 L76.9,447.4 L79.3,450.2 M96.7,452.4 L97.3,457.3 L98.7,461.4" fill="none" stroke="#1c5a10" stroke-width="0.9" stroke-linejoin="round"/>
<path d="M215.8,109.6 L218.7,111.8 L222.6,114.0 L215.0,135.0 L212.5,132.9 L211.1,130.9Z" fill="#2c981a" stroke="#2c981a" stroke-width="0.6" stroke-linejoin="round"/><path d="M215.8,109.6 L218.7,111.8 L222.6,114.0 M211.1,130.9 L212.5,132.9 L215.0,135.0" fill="none" stroke="#1c5a10" stroke-width="0.9" stroke-linejoin="round"/>
<path d="M249.9,183.4 L251.4,187.1 L246.8,205.1 L243.1,204.5Z" fill="#2c981a" stroke="#2c981a" stroke-width="0.6" stroke-linejoin="round"/><path d="M249.9,183.4 L251.4,187.1 M243.1,204.5 L246.8,205.1" fill="none" stroke="#1c5a10" stroke-width="0.9" stroke-linejoin="round"/>
<path d="M255.5,83.2 L258.8,83.8 L260.8,84.2 L257.6,99.1 L255.4,95.4 L252.5,91.6Z" fill="#2c981a" stroke="#2c981a" stroke-width="0.6" stroke-linejoin="round"/><path d="M255.5,83.2 L258.8,83.8 L260.8,84.2 M252.5,91.6 L255.4,95.4 L257.6,99.1" fill="none" stroke="#1c5a10" stroke-width="0.9" stroke-linejoin="round"/>
<path d="M272.7,344.0 L275.7,346.1 L279.8,348.4 L273.5,372.7 L271.1,370.5 L269.9,368.3Z" fill="#2c981a" stroke="#2c981a" stroke-width="0.6" stroke-linejoin="round"/><path d="M272.7,344.0 L275.7,346.1 L279.8,348.4 M269.9,368.3 L271.1,370.5 L273.5,372.7" fill="none" stroke="#1c5a10" stroke-width="0.9" stroke-linejoin="round"/>
<path d="M395.7,227.1 L399.6,229.8 L402.5,232.9 L403.7,252.1 L399.6,249.5 L394.6,247.5Z" fill="#2c981a" stroke="#2c981a" stroke-width="0.6" stroke-linejoin="round"/><path d="M395.7,227.1 L399.6,229.8 L402.5,232.9 M394.6,247.5 L399.6,249.5 L403.7,252.1" fill="none" stroke="#1c5a10" stroke-width="0.9" stroke-linejoin="round"/>
<path d="M322.0,186.1 L324.4,188.3 L325.5,190.4 L322.8,214.8 L319.9,212.6 L315.8,210.4Z" fill="#2c981a" stroke="#2c981a" stroke-width="0.6" stroke-linejoin="round"/><path d="M322.0,186.1 L324.4,188.3 L325.5,190.4 M315.8,210.4 L319.9,212.6 L322.8,214.8" fill="none" stroke="#1c5a10" stroke-width="0.9" stroke-linejoin="round"/>
<path d="M211.8,162.9 L215.1,165.0 L208.4,186.1 L206.7,184.1Z" fill="#2c981a" stroke="#2c981a" stroke-width="0.6" stroke-linejoin="round"/><path d="M211.8,162.9 L215.1,165.0 M206.7,184.1 L208.4,186.1" fill="none" stroke="#1c5a10" stroke-width="0.9" stroke-linejoin="round"/>
<path d="M89.8,397.4 L85.9,400.0 L83.5,404.4 L108.5,413.9 L110.5,410.6 L110.3,407.6Z" fill="#4af628" stroke="#4af628" stroke-width="0.6" stroke-linejoin="round"/><path d="M89.8,397.4 L85.9,400.0 L83.5,404.4 M110.3,407.6 L110.5,410.6 L108.5,413.9" fill="none" stroke="#1c5a10" stroke-width="0.9" stroke-linejoin="round"/>
<path d="M273.4,283.9 L276.3,286.1 L280.3,288.3 L274.2,312.6 L271.9,310.4 L270.9,308.3Z" fill="#2c981a" stroke="#2c981a" stroke-width="0.6" stroke-linejoin="round"/><path d="M273.4,283.9 L276.3,286.1 L280.3,288.3 M270.9,308.3 L271.9,310.4 L274.2,312.6" fill="none" stroke="#1c5a10" stroke-width="0.9" stroke-linejoin="round"/>
<path d="M253.9,130.2 L256.0,132.3 L257.0,134.3 L252.9,155.6 L250.2,153.4 L246.7,151.2Z" fill="#2c981a" stroke="#2c981a" stroke-width="0.6" stroke-linejoin="round"/><path d="M253.9,130.2 L256.0,132.3 L257.0,134.3 M246.7,151.2 L250.2,153.4 L252.9,155.6" fill="none" stroke="#1c5a10" stroke-width="0.9" stroke-linejoin="round"/>
<path d="M396.2,400.2 L398.8,403.6 L400.1,406.5 L388.6,431.5 L385.4,427.9 L381.1,424.0Z" fill="#2c981a" stroke="#2c981a" stroke-width="0.6" stroke-linejoin="round"/><path d="M396.2,400.2 L398.8,403.6 L400.1,406.5 M381.1,424.0 L385.4,427.9 L388.6,431.5" fill="none" stroke="#1c5a10" stroke-width="0.9" stroke-linejoin="round"/>
<path d="M378.9,309.3 L374.8,310.0 L371.6,310.2 L380.7,332.9 L385.0,332.0 L389.9,330.6Z" fill="#4af628" stroke="#4af628" stroke-width="0.6" stroke-linejoin="round"/><path d="M378.9,309.3 L374.8,310.0 L371.6,310.2 M389.9,330.6 L385.0,332.0 L380.7,332.9" fill="none" stroke="#1c5a10" stroke-width="0.9" stroke-linejoin="round"/>
<path d="M120.7,477.1 L124.6,477.5 L142.1,491.5 L139.0,489.7Z" fill="#1e6812" stroke="#1e6812" stroke-width="0.6" stroke-linejoin="round"/><path d="M120.7,477.1 L124.6,477.5 M139.0,489.7 L142.1,491.5" fill="none" stroke="#1c5a10" stroke-width="0.9" stroke-linejoin="round"/>
<path d="M208.0,421.0 C206.7,426.2 198.8,444.2 200.0,452.0 C201.2,459.8 212.5,465.3 215.0,468.0" fill="none" stroke="#1c5a10" stroke-width="5.0" stroke-linecap="round" stroke-linejoin="round"/><path d="M208.0,421.0 C206.7,426.2 198.8,444.2 200.0,452.0 C201.2,459.8 212.5,465.3 215.0,468.0" fill="none" stroke="#4cf22c" stroke-width="3.4" stroke-linecap="round" stroke-linejoin="round"/>
<path d="M128.6,418.1 L127.5,419.4 L150.9,432.6 L151.3,432.7Z" fill="#32b21c" stroke="#32b21c" stroke-width="0.6" stroke-linejoin="round"/><path d="M128.6,418.1 L127.5,419.4 M151.3,432.7 L150.9,432.6" fill="none" stroke="#1c5a10" stroke-width="0.9" stroke-linejoin="round"/>
<path d="M231.2,317.9 L234.2,320.5 L235.8,322.9 L230.8,348.9 L227.2,346.3 L222.5,343.7Z" fill="#2c981a" stroke="#2c981a" stroke-width="0.6" stroke-linejoin="round"/><path d="M231.2,317.9 L234.2,320.5 L235.8,322.9 M222.5,343.7 L227.2,346.3 L230.8,348.9" fill="none" stroke="#1c5a10" stroke-width="0.9" stroke-linejoin="round"/>
<path d="M227.1,395.7 L227.4,399.2 L226.3,402.4 L220.3,426.1 L219.3,422.4 L217.0,418.5Z" fill="#1e6812" stroke="#1e6812" stroke-width="0.6" stroke-linejoin="round"/><path d="M227.1,395.7 L227.4,399.2 L226.3,402.4 M217.0,418.5 L219.3,422.4 L220.3,426.1" fill="none" stroke="#1c5a10" stroke-width="0.9" stroke-linejoin="round"/>
<path d="M323.8,135.5 L325.8,135.9 L324.2,149.3 L321.9,145.3Z" fill="#2c981a" stroke="#2c981a" stroke-width="0.6" stroke-linejoin="round"/><path d="M323.8,135.5 L325.8,135.9 M321.9,145.3 L324.2,149.3" fill="none" stroke="#1c5a10" stroke-width="0.9" stroke-linejoin="round"/>
<path d="M261.9,406.5 L259.5,411.1 L258.3,416.3 L258.1,421.8 L254.2,424.9 L254.5,419.6 L256.0,414.6 L258.6,410.2Z" fill="#1e6812" stroke="#1e6812" stroke-width="0.6" stroke-linejoin="round"/><path d="M261.9,406.5 L259.5,411.1 L258.3,416.3 L258.1,421.8 M258.6,410.2 L256.0,414.6 L254.5,419.6 L254.2,424.9" fill="none" stroke="#1c5a10" stroke-width="0.9" stroke-linejoin="round"/>
<path d="M172.2,499.9 L177.3,497.2 L182.4,493.7 L187.3,489.6 L191.9,485.4 L195.9,481.1 L199.3,477.1 L202.0,473.5 L220.8,492.5 L217.3,496.6 L213.1,500.9 L208.5,505.2 L203.5,509.1 L198.4,512.5 L193.4,515.1 L188.5,516.7Z" fill="#3ac420" stroke="#3ac420" stroke-width="0.6" stroke-linejoin="round"/><path d="M172.2,499.9 L177.3,497.2 L182.4,493.7 L187.3,489.6 L191.9,485.4 L195.9,481.1 L199.3,477.1 L202.0,473.5 M188.5,516.7 L193.4,515.1 L198.4,512.5 L203.5,509.1 L208.5,505.2 L213.1,500.9 L217.3,496.6 L220.8,492.5" fill="none" stroke="#1c5a10" stroke-width="0.9" stroke-linejoin="round"/>
<path d="M305.1,432.7 L307.2,428.7 L308.1,424.2 L304.5,429.2 L303.4,433.6 L301.1,437.5Z" fill="#32b21c" stroke="#32b21c" stroke-width="0.6" stroke-linejoin="round"/><path d="M305.1,432.7 L307.2,428.7 L308.1,424.2 M301.1,437.5 L303.4,433.6 L304.5,429.2" fill="none" stroke="#1c5a10" stroke-width="0.9" stroke-linejoin="round"/>
<path d="M237.6,255.2 L239.8,257.7 L234.0,283.6 L229.9,281.0Z" fill="#2c981a" stroke="#2c981a" stroke-width="0.6" stroke-linejoin="round"/><path d="M237.6,255.2 L239.8,257.7 M229.9,281.0 L234.0,283.6" fill="none" stroke="#1c5a10" stroke-width="0.9" stroke-linejoin="round"/>
<path d="M190.7,230.8 L194.8,233.4 L187.1,259.3 L184.9,256.8Z" fill="#2c981a" stroke="#2c981a" stroke-width="0.6" stroke-linejoin="round"/><path d="M190.7,230.8 L194.8,233.4 M184.9,256.8 L187.1,259.3" fill="none" stroke="#1c5a10" stroke-width="0.9" stroke-linejoin="round"/>
<path d="M184.4,293.5 L187.7,296.1 L192.2,298.8 L183.8,324.5 L181.1,322.0 L179.7,319.6Z" fill="#2c981a" stroke="#2c981a" stroke-width="0.6" stroke-linejoin="round"/><path d="M184.4,293.5 L187.7,296.1 L192.2,298.8 M179.7,319.6 L181.1,322.0 L183.8,324.5" fill="none" stroke="#1c5a10" stroke-width="0.9" stroke-linejoin="round"/>
<path d="M92.8,541.3 L96.5,545.5 L100.9,548.9 L96.6,551.4 L92.1,547.9 L88.4,543.6Z" fill="#2c981a" stroke="#2c981a" stroke-width="0.6" stroke-linejoin="round"/><path d="M92.8,541.3 L96.5,545.5 L100.9,548.9 M88.4,543.6 L92.1,547.9 L96.6,551.4" fill="none" stroke="#1c5a10" stroke-width="0.9" stroke-linejoin="round"/>
<path d="M359.6,268.6 L359.7,267.6 L364.7,291.8 L366.0,292.4Z" fill="#32b21c" stroke="#32b21c" stroke-width="0.6" stroke-linejoin="round"/><path d="M359.6,268.6 L359.7,267.6 M366.0,292.4 L364.7,291.8" fill="none" stroke="#1c5a10" stroke-width="0.9" stroke-linejoin="round"/>
<path d="M362.0,305.5 L360.9,308.8 L364.2,321.7 L363.9,318.4Z" fill="#32b21c" stroke="#32b21c" stroke-width="0.6" stroke-linejoin="round"/><path d="M362.0,305.5 L360.9,308.8 M363.9,318.4 L364.2,321.7" fill="none" stroke="#1c5a10" stroke-width="0.9" stroke-linejoin="round"/>
<path d="M133.1,540.4 L135.8,536.1 L137.5,531.2 L138.0,526.0 L137.2,520.6 L134.7,524.9 L135.2,530.2 L134.5,535.3 L132.6,540.0 L129.7,544.0Z" fill="#32b21c" stroke="#32b21c" stroke-width="0.6" stroke-linejoin="round"/><path d="M133.1,540.4 L135.8,536.1 L137.5,531.2 L138.0,526.0 L137.2,520.6 M129.7,544.0 L132.6,540.0 L134.5,535.3 L135.2,530.2 L134.7,524.9" fill="none" stroke="#1c5a10" stroke-width="0.9" stroke-linejoin="round"/>
<path d="M410.7,289.3 L407.7,293.3 L403.8,297.1 L413.5,315.4 L416.3,311.3 L417.9,307.2Z" fill="#4af628" stroke="#4af628" stroke-width="0.6" stroke-linejoin="round"/><path d="M410.7,289.3 L407.7,293.3 L403.8,297.1 M417.9,307.2 L416.3,311.3 L413.5,315.4" fill="none" stroke="#1c5a10" stroke-width="0.9" stroke-linejoin="round"/>
<path d="M354.7,364.3 L357.2,367.7 L360.9,371.4 L346.7,395.5 L344.8,392.4 L344.4,389.7Z" fill="#2c981a" stroke="#2c981a" stroke-width="0.6" stroke-linejoin="round"/><path d="M354.7,364.3 L357.2,367.7 L360.9,371.4 M344.4,389.7 L344.8,392.4 L346.7,395.5" fill="none" stroke="#1c5a10" stroke-width="0.9" stroke-linejoin="round"/>
<path d="M93.6,509.5 L90.6,514.2 L88.8,519.6 L88.0,525.2 L88.5,530.9 L90.1,536.4 L92.8,541.3 L88.4,543.6 L85.7,538.7 L84.1,533.3 L83.7,527.8 L84.6,522.4 L86.8,517.4 L90.1,513.1Z" fill="#1e6812" stroke="#1e6812" stroke-width="0.6" stroke-linejoin="round"/><path d="M93.6,509.5 L90.6,514.2 L88.8,519.6 L88.0,525.2 L88.5,530.9 L90.1,536.4 L92.8,541.3 M90.1,513.1 L86.8,517.4 L84.6,522.4 L83.7,527.8 L84.1,533.3 L85.7,538.7 L88.4,543.6" fill="none" stroke="#1c5a10" stroke-width="0.9" stroke-linejoin="round"/>
<path d="M354.9,224.6 L358.5,223.5 L363.0,222.6 L362.5,246.8 L359.1,247.9 L356.8,249.1Z" fill="#2c981a" stroke="#2c981a" stroke-width="0.6" stroke-linejoin="round"/><path d="M354.9,224.6 L358.5,223.5 L363.0,222.6 M356.8,249.1 L359.1,247.9 L362.5,246.8" fill="none" stroke="#1c5a10" stroke-width="0.9" stroke-linejoin="round"/>
<path d="M237.1,333.9 L240.5,336.1 L242.2,338.0 L234.7,357.6 L232.9,352.0 L230.2,346.3Z" fill="#2c981a" stroke="#2c981a" stroke-width="0.6" stroke-linejoin="round"/><path d="M237.1,333.9 L240.5,336.1 L242.2,338.0 M230.2,346.3 L232.9,352.0 L234.7,357.6" fill="none" stroke="#1c5a10" stroke-width="0.9" stroke-linejoin="round"/>
<path d="M74.6,438.8 L75.3,443.5 L96.7,452.4 L97.0,446.9Z" fill="#4af628" stroke="#4af628" stroke-width="0.6" stroke-linejoin="round"/><path d="M74.6,438.8 L75.3,443.5 M97.0,446.9 L96.7,452.4" fill="none" stroke="#1c5a10" stroke-width="0.9" stroke-linejoin="round"/>
<path d="M321.9,286.5 L323.2,285.9 L325.5,285.4 L324.5,304.2 L323.7,304.8 L323.8,305.3Z" fill="#1e6812" stroke="#1e6812" stroke-width="0.6" stroke-linejoin="round"/><path d="M321.9,286.5 L323.2,285.9 L325.5,285.4 M323.8,305.3 L323.7,304.8 L324.5,304.2" fill="none" stroke="#1c5a10" stroke-width="0.9" stroke-linejoin="round"/>
<path d="M323.5,248.3 L324.5,250.5 L324.1,252.6 L323.7,277.0 L322.1,274.8 L319.3,272.6Z" fill="#1e6812" stroke="#1e6812" stroke-width="0.6" stroke-linejoin="round"/><path d="M323.5,248.3 L324.5,250.5 L324.1,252.6 M319.3,272.6 L322.1,274.8 L323.7,277.0" fill="none" stroke="#1c5a10" stroke-width="0.9" stroke-linejoin="round"/>
<path d="M272.6,221.7 L274.1,223.9 L276.9,226.1 L272.7,250.4 L271.8,248.2 L272.3,246.1Z" fill="#1e6812" stroke="#1e6812" stroke-width="0.6" stroke-linejoin="round"/><path d="M272.6,221.7 L274.1,223.9 L276.9,226.1 M272.3,246.1 L271.8,248.2 L272.7,250.4" fill="none" stroke="#1c5a10" stroke-width="0.9" stroke-linejoin="round"/>
<path d="M360.9,308.8 L358.9,312.1 L363.6,325.1 L364.2,321.7Z" fill="#42e224" stroke="#42e224" stroke-width="0.6" stroke-linejoin="round"/><path d="M360.9,308.8 L358.9,312.1 M364.2,321.7 L363.6,325.1" fill="none" stroke="#1c5a10" stroke-width="0.9" stroke-linejoin="round"/>
<path d="M10.5,498.2 L11.4,502.4 L13.4,506.8 L10.1,520.5 L8.6,520.0 L8.9,519.7Z" fill="#1e6812" stroke="#1e6812" stroke-width="0.6" stroke-linejoin="round"/><path d="M10.5,498.2 L11.4,502.4 L13.4,506.8 M8.9,519.7 L8.6,520.0 L10.1,520.5" fill="none" stroke="#1c5a10" stroke-width="0.9" stroke-linejoin="round"/>
<path d="M251.4,187.1 L251.9,190.7 L251.6,194.2 L250.6,206.0 L249.4,205.6 L246.8,205.1Z" fill="#1e6812" stroke="#1e6812" stroke-width="0.6" stroke-linejoin="round"/><path d="M251.4,187.1 L251.9,190.7 L251.6,194.2 M246.8,205.1 L249.4,205.6 L250.6,206.0" fill="none" stroke="#1c5a10" stroke-width="0.9" stroke-linejoin="round"/>
<path d="M117.5,475.5 L120.7,477.1 L139.0,489.7 L136.7,486.7Z" fill="#32b21c" stroke="#32b21c" stroke-width="0.6" stroke-linejoin="round"/><path d="M117.5,475.5 L120.7,477.1 M136.7,486.7 L139.0,489.7" fill="none" stroke="#1c5a10" stroke-width="0.9" stroke-linejoin="round"/>
<path d="M322.7,308.3 L323.5,310.5 L323.0,312.6 L322.8,337.0 L321.3,334.9 L318.6,332.7Z" fill="#1e6812" stroke="#1e6812" stroke-width="0.6" stroke-linejoin="round"/><path d="M322.7,308.3 L323.5,310.5 L323.0,312.6 M318.6,332.7 L321.3,334.9 L322.8,337.0" fill="none" stroke="#1c5a10" stroke-width="0.9" stroke-linejoin="round"/>
<path d="M359.0,84.0 C357.5,82.5 353.5,77.0 350.0,75.0 C346.5,73.0 341.8,71.2 338.0,72.0 C334.2,72.8 329.0,75.8 327.0,80.0 C325.0,84.2 324.7,91.7 326.0,97.0 C327.3,102.3 332.7,107.5 335.0,112.0 C337.3,116.5 340.2,119.7 340.0,124.0 C339.8,128.3 334.5,133.7 334.0,138.0 C333.5,142.3 334.7,146.3 337.0,150.0 C339.3,153.7 346.2,158.3 348.0,160.0" fill="none" stroke="#1c5a10" stroke-width="5.0" stroke-linecap="round" stroke-linejoin="round"/><path d="M359.0,84.0 C357.5,82.5 353.5,77.0 350.0,75.0 C346.5,73.0 341.8,71.2 338.0,72.0 C334.2,72.8 329.0,75.8 327.0,80.0 C325.0,84.2 324.7,91.7 326.0,97.0 C327.3,102.3 332.7,107.5 335.0,112.0 C337.3,116.5 340.2,119.7 340.0,124.0 C339.8,128.3 334.5,133.7 334.0,138.0 C333.5,142.3 334.7,146.3 337.0,150.0 C339.3,153.7 346.2,158.3 348.0,160.0" fill="none" stroke="#4cf22c" stroke-width="3.4" stroke-linecap="round" stroke-linejoin="round"/>
<path d="M50.0,382.0 C49.8,384.3 45.7,393.8 49.0,396.0 C52.3,398.2 63.2,393.7 70.0,395.0 C76.8,396.3 86.7,402.5 90.0,404.0" fill="none" stroke="#1c5a10" stroke-width="5.0" stroke-linecap="round" stroke-linejoin="round"/><path d="M50.0,382.0 C49.8,384.3 45.7,393.8 49.0,396.0 C52.3,398.2 63.2,393.7 70.0,395.0 C76.8,396.3 86.7,402.5 90.0,404.0" fill="none" stroke="#4cf22c" stroke-width="3.4" stroke-linecap="round" stroke-linejoin="round"/>
<path d="M273.5,161.7 L274.9,163.8 L277.6,166.0 L273.5,190.4 L272.8,188.2 L273.4,186.1Z" fill="#1e6812" stroke="#1e6812" stroke-width="0.6" stroke-linejoin="round"/><path d="M273.5,161.7 L274.9,163.8 L277.6,166.0 M273.4,186.1 L272.8,188.2 L273.5,190.4" fill="none" stroke="#1c5a10" stroke-width="0.9" stroke-linejoin="round"/>
<path d="M67.7,467.5 L67.6,469.8 L64.8,495.0 L62.9,492.5Z" fill="#1e6812" stroke="#1e6812" stroke-width="0.6" stroke-linejoin="round"/><path d="M67.7,467.5 L67.6,469.8 M62.9,492.5 L64.8,495.0" fill="none" stroke="#1c5a10" stroke-width="0.9" stroke-linejoin="round"/>
<path d="M208.4,158.7 L209.6,160.7 L211.8,162.9 L206.7,184.1 L206.1,182.1 L206.8,180.3Z" fill="#1e6812" stroke="#1e6812" stroke-width="0.6" stroke-linejoin="round"/><path d="M208.4,158.7 L209.6,160.7 L211.8,162.9 M206.8,180.3 L206.1,182.1 L206.7,184.1" fill="none" stroke="#1c5a10" stroke-width="0.9" stroke-linejoin="round"/>
<path d="M402.5,232.9 L404.2,236.5 L404.7,240.4 L408.9,258.6 L406.9,255.1 L403.7,252.1Z" fill="#1e6812" stroke="#1e6812" stroke-width="0.6" stroke-linejoin="round"/><path d="M402.5,232.9 L404.2,236.5 L404.7,240.4 M403.7,252.1 L406.9,255.1 L408.9,258.6" fill="none" stroke="#1c5a10" stroke-width="0.9" stroke-linejoin="round"/>
<path d="M325.8,135.9 L326.2,136.2 L325.6,153.3 L324.2,149.3Z" fill="#1e6812" stroke="#1e6812" stroke-width="0.6" stroke-linejoin="round"/><path d="M325.8,135.9 L326.2,136.2 M324.2,149.3 L325.6,153.3" fill="none" stroke="#1c5a10" stroke-width="0.9" stroke-linejoin="round"/>
<path d="M403.8,297.1 L399.1,300.6 L394.1,303.6 L388.8,306.0 L383.7,308.0 L378.9,309.3 L389.9,330.6 L395.0,328.5 L400.3,325.9 L405.3,322.8 L409.7,319.2 L413.5,315.4Z" fill="#4dff2a" stroke="#4dff2a" stroke-width="0.6" stroke-linejoin="round"/><path d="M403.8,297.1 L399.1,300.6 L394.1,303.6 L388.8,306.0 L383.7,308.0 L378.9,309.3 M413.5,315.4 L409.7,319.2 L405.3,322.8 L400.3,325.9 L395.0,328.5 L389.9,330.6" fill="none" stroke="#1c5a10" stroke-width="0.9" stroke-linejoin="round"/>
<path d="M257.0,134.3 L256.9,136.2 L254.5,157.6 L252.9,155.6Z" fill="#1e6812" stroke="#1e6812" stroke-width="0.6" stroke-linejoin="round"/><path d="M257.0,134.3 L256.9,136.2 M252.9,155.6 L254.5,157.6" fill="none" stroke="#1c5a10" stroke-width="0.9" stroke-linejoin="round"/>
<path d="M270.8,341.8 L272.7,344.0 L269.9,368.3 L270.0,366.2Z" fill="#1e6812" stroke="#1e6812" stroke-width="0.6" stroke-linejoin="round"/><path d="M270.8,341.8 L272.7,344.0 M270.0,366.2 L269.9,368.3" fill="none" stroke="#1c5a10" stroke-width="0.9" stroke-linejoin="round"/>
<path d="M179.9,356.2 L181.0,357.8 L183.5,359.9 L173.2,385.5 L172.7,384.1 L173.7,383.0Z" fill="#1e6812" stroke="#1e6812" stroke-width="0.6" stroke-linejoin="round"/><path d="M179.9,356.2 L181.0,357.8 L183.5,359.9 M173.7,383.0 L172.7,384.1 L173.2,385.5" fill="none" stroke="#1c5a10" stroke-width="0.9" stroke-linejoin="round"/>
<path d="M139.2,401.6 L142.8,400.0 L146.7,398.0 L150.8,395.8 L154.9,393.7 L158.9,391.6 L162.6,389.9 L165.9,388.6 L168.6,387.8 L179.3,402.7 L175.8,404.2 L171.9,406.1 L167.9,408.2 L163.8,410.4 L159.8,412.5 L156.0,414.3 L152.6,415.7 L149.7,416.6Z" fill="#3ac420" stroke="#3ac420" stroke-width="0.6" stroke-linejoin="round"/><path d="M139.2,401.6 L142.8,400.0 L146.7,398.0 L150.8,395.8 L154.9,393.7 L158.9,391.6 L162.6,389.9 L165.9,388.6 L168.6,387.8 M149.7,416.6 L152.6,415.7 L156.0,414.3 L159.8,412.5 L163.8,410.4 L167.9,408.2 L171.9,406.1 L175.8,404.2 L179.3,402.7" fill="none" stroke="#1c5a10" stroke-width="0.9" stroke-linejoin="round"/>
<path d="M127.5,419.4 L125.7,421.9 L149.9,433.7 L150.9,432.6Z" fill="#42e224" stroke="#42e224" stroke-width="0.6" stroke-linejoin="round"/><path d="M127.5,419.4 L125.7,421.9 M150.9,432.6 L149.9,433.7" fill="none" stroke="#1c5a10" stroke-width="0.9" stroke-linejoin="round"/>
<path d="M72.9,404.9 L73.2,407.2 L72.1,409.3 L70.7,434.7 L69.7,432.3 L67.4,429.9Z" fill="#1e6812" stroke="#1e6812" stroke-width="0.6" stroke-linejoin="round"/><path d="M72.9,404.9 L73.2,407.2 L72.1,409.3 M67.4,429.9 L69.7,432.3 L70.7,434.7" fill="none" stroke="#1c5a10" stroke-width="0.9" stroke-linejoin="round"/>
<path d="M325.5,190.4 L325.2,192.6 L324.6,217.0 L322.8,214.8Z" fill="#1e6812" stroke="#1e6812" stroke-width="0.6" stroke-linejoin="round"/><path d="M325.5,190.4 L325.2,192.6 M322.8,214.8 L324.6,217.0" fill="none" stroke="#1c5a10" stroke-width="0.9" stroke-linejoin="round"/>
<path d="M16.0,433.7 L16.9,436.0 L19.2,438.5 L13.7,463.5 L13.5,461.2 L14.7,459.0Z" fill="#1e6812" stroke="#1e6812" stroke-width="0.6" stroke-linejoin="round"/><path d="M16.0,433.7 L16.9,436.0 L19.2,438.5 M14.7,459.0 L13.5,461.2 L13.7,463.5" fill="none" stroke="#1c5a10" stroke-width="0.9" stroke-linejoin="round"/>
<path d="M166.8,443.9 L167.0,443.0 L166.5,443.2 L189.2,457.8 L188.8,458.9 L187.6,461.0Z" fill="#1e6812" stroke="#1e6812" stroke-width="0.6" stroke-linejoin="round"/><path d="M166.8,443.9 L167.0,443.0 L166.5,443.2 M187.6,461.0 L188.8,458.9 L189.2,457.8" fill="none" stroke="#1c5a10" stroke-width="0.9" stroke-linejoin="round"/>
<path d="M271.7,281.7 L273.4,283.9 L270.9,308.3 L271.1,306.1Z" fill="#1e6812" stroke="#1e6812" stroke-width="0.6" stroke-linejoin="round"/><path d="M271.7,281.7 L273.4,283.9 M271.1,306.1 L270.9,308.3" fill="none" stroke="#1c5a10" stroke-width="0.9" stroke-linejoin="round"/>
<path d="M212.9,105.5 L213.8,107.5 L215.8,109.6 L211.1,130.9 L210.8,128.9 L211.8,127.1Z" fill="#1e6812" stroke="#1e6812" stroke-width="0.6" stroke-linejoin="round"/><path d="M212.9,105.5 L213.8,107.5 L215.8,109.6 M211.8,127.1 L210.8,128.9 L211.1,130.9" fill="none" stroke="#1c5a10" stroke-width="0.9" stroke-linejoin="round"/>
<path d="M274.5,397.9 L269.6,399.7 L265.4,402.6 L261.9,406.5 L258.6,410.2 L262.3,406.6 L266.8,403.8 L271.9,402.1Z" fill="#32b21c" stroke="#32b21c" stroke-width="0.6" stroke-linejoin="round"/><path d="M274.5,397.9 L269.6,399.7 L265.4,402.6 L261.9,406.5 M271.9,402.1 L266.8,403.8 L262.3,406.6 L258.6,410.2" fill="none" stroke="#1c5a10" stroke-width="0.9" stroke-linejoin="round"/>
<path d="M283.2,447.1 L288.1,446.8 L292.5,445.4 L296.3,442.9 L299.2,439.5 L295.2,444.3 L292.1,447.5 L288.2,449.8 L283.7,451.0 L278.7,451.0Z" fill="#1e6812" stroke="#1e6812" stroke-width="0.6" stroke-linejoin="round"/><path d="M283.2,447.1 L288.1,446.8 L292.5,445.4 L296.3,442.9 L299.2,439.5 M278.7,451.0 L283.7,451.0 L288.2,449.8 L292.1,447.5 L295.2,444.3" fill="none" stroke="#1c5a10" stroke-width="0.9" stroke-linejoin="round"/>
<path d="M260.8,84.2 L261.5,84.6 L260.6,84.8 L259.6,106.4 L259.0,102.8 L257.6,99.1Z" fill="#1e6812" stroke="#1e6812" stroke-width="0.6" stroke-linejoin="round"/><path d="M260.8,84.2 L261.5,84.6 L260.6,84.8 M257.6,99.1 L259.0,102.8 L259.6,106.4" fill="none" stroke="#1c5a10" stroke-width="0.9" stroke-linejoin="round"/>
<path d="M83.5,404.4 L81.1,409.6 L78.9,415.3 L77.0,421.4 L75.5,427.5 L74.7,433.4 L74.6,438.8 L97.0,446.9 L97.9,440.9 L99.5,434.8 L101.5,428.8 L103.8,423.1 L106.2,418.1 L108.5,413.9Z" fill="#4dff2a" stroke="#4dff2a" stroke-width="0.6" stroke-linejoin="round"/><path d="M83.5,404.4 L81.1,409.6 L78.9,415.3 L77.0,421.4 L75.5,427.5 L74.7,433.4 L74.6,438.8 M108.5,413.9 L106.2,418.1 L103.8,423.1 L101.5,428.8 L99.5,434.8 L97.9,440.9 L97.0,446.9" fill="none" stroke="#1c5a10" stroke-width="0.9" stroke-linejoin="round"/>
<path d="M112.7,500.8 L107.2,501.2 L102.1,502.8 L97.4,505.6 L93.6,509.5 L90.1,513.1 L94.4,509.6 L99.4,507.0 L104.9,505.6 L110.6,505.3Z" fill="#32b21c" stroke="#32b21c" stroke-width="0.6" stroke-linejoin="round"/><path d="M112.7,500.8 L107.2,501.2 L102.1,502.8 L97.4,505.6 L93.6,509.5 M110.6,505.3 L104.9,505.6 L99.4,507.0 L94.4,509.6 L90.1,513.1" fill="none" stroke="#1c5a10" stroke-width="0.9" stroke-linejoin="round"/>
<path d="M100.9,548.9 L105.8,551.1 L111.1,552.1 L116.3,551.9 L121.2,550.5 L125.6,548.0 L129.2,544.5 L125.8,548.2 L122.0,551.5 L117.4,553.8 L112.3,555.0 L107.0,555.0 L101.6,553.8 L96.6,551.4Z" fill="#1e6812" stroke="#1e6812" stroke-width="0.6" stroke-linejoin="round"/><path d="M100.9,548.9 L105.8,551.1 L111.1,552.1 L116.3,551.9 L121.2,550.5 L125.6,548.0 L129.2,544.5 M96.6,551.4 L101.6,553.8 L107.0,555.0 L112.3,555.0 L117.4,553.8 L122.0,551.5 L125.8,548.2" fill="none" stroke="#1c5a10" stroke-width="0.9" stroke-linejoin="round"/>
<path d="M330.0,251.7 L334.6,250.9 L339.4,250.6 L344.1,250.8 L348.4,251.5 L351.9,253.8 L348.5,268.4 L344.3,266.7 L340.2,264.3 L336.1,262.1 L332.2,260.3 L328.5,258.8Z" fill="#3ac420" stroke="#3ac420" stroke-width="0.6" stroke-linejoin="round"/><path d="M330.0,251.7 L334.6,250.9 L339.4,250.6 L344.1,250.8 L348.4,251.5 L351.9,253.8 M328.5,258.8 L332.2,260.3 L336.1,262.1 L340.2,264.3 L344.3,266.7 L348.5,268.4" fill="none" stroke="#1c5a10" stroke-width="0.9" stroke-linejoin="round"/>
<path d="M162.8,502.6 L167.3,501.8 L172.2,499.9 L188.5,516.7 L184.1,517.3 L180.3,516.7Z" fill="#2c981a" stroke="#2c981a" stroke-width="0.6" stroke-linejoin="round"/><path d="M162.8,502.6 L167.3,501.8 L172.2,499.9 M180.3,516.7 L184.1,517.3 L188.5,516.7" fill="none" stroke="#1c5a10" stroke-width="0.9" stroke-linejoin="round"/>
<path d="M308.1,424.2 L307.8,419.3 L306.4,414.4 L303.8,409.8 L301.0,414.7 L303.3,419.5 L304.5,424.4 L304.5,429.2Z" fill="#42e224" stroke="#42e224" stroke-width="0.6" stroke-linejoin="round"/><path d="M308.1,424.2 L307.8,419.3 L306.4,414.4 L303.8,409.8 M304.5,429.2 L304.5,424.4 L303.3,419.5 L301.0,414.7" fill="none" stroke="#1c5a10" stroke-width="0.9" stroke-linejoin="round"/>
<path d="M358.9,312.1 L356.6,316.2 L353.8,320.1 L358.7,329.6 L361.7,327.5 L363.6,325.1Z" fill="#4af628" stroke="#4af628" stroke-width="0.6" stroke-linejoin="round"/><path d="M358.9,312.1 L356.6,316.2 L353.8,320.1 M363.6,325.1 L361.7,327.5 L358.7,329.6" fill="none" stroke="#1c5a10" stroke-width="0.9" stroke-linejoin="round"/>
<path d="M235.8,322.9 L236.0,325.3 L233.1,351.4 L230.8,348.9Z" fill="#1e6812" stroke="#1e6812" stroke-width="0.6" stroke-linejoin="round"/><path d="M235.8,322.9 L236.0,325.3 M230.8,348.9 L233.1,351.4" fill="none" stroke="#1c5a10" stroke-width="0.9" stroke-linejoin="round"/>
<path d="M226.3,402.4 L223.8,405.1 L219.9,429.4 L220.3,426.1Z" fill="#32b21c" stroke="#32b21c" stroke-width="0.6" stroke-linejoin="round"/><path d="M226.3,402.4 L223.8,405.1 M220.3,426.1 L219.9,429.4" fill="none" stroke="#1c5a10" stroke-width="0.9" stroke-linejoin="round"/>
<path d="M137.2,520.6 L135.3,515.5 L132.2,510.8 L128.2,506.8 L123.5,503.6 L118.2,501.6 L112.7,500.8 L110.6,505.3 L116.2,506.2 L121.5,508.2 L126.2,511.3 L130.1,515.3 L132.9,519.9 L134.7,524.9Z" fill="#42e224" stroke="#42e224" stroke-width="0.6" stroke-linejoin="round"/><path d="M137.2,520.6 L135.3,515.5 L132.2,510.8 L128.2,506.8 L123.5,503.6 L118.2,501.6 L112.7,500.8 M134.7,524.9 L132.9,519.9 L130.1,515.3 L126.2,511.3 L121.5,508.2 L116.2,506.2 L110.6,505.3" fill="none" stroke="#1c5a10" stroke-width="0.9" stroke-linejoin="round"/>
<path d="M239.8,257.7 L240.6,260.1 L240.0,262.4 L238.3,288.6 L236.8,286.2 L234.0,283.6Z" fill="#1e6812" stroke="#1e6812" stroke-width="0.6" stroke-linejoin="round"/><path d="M239.8,257.7 L240.6,260.1 L240.0,262.4 M234.0,283.6 L236.8,286.2 L238.3,288.6" fill="none" stroke="#1c5a10" stroke-width="0.9" stroke-linejoin="round"/>
<path d="M186.4,225.8 L187.9,228.3 L190.7,230.8 L184.9,256.8 L184.1,254.4 L184.8,252.1Z" fill="#1e6812" stroke="#1e6812" stroke-width="0.6" stroke-linejoin="round"/><path d="M186.4,225.8 L187.9,228.3 L190.7,230.8 M184.8,252.1 L184.1,254.4 L184.9,256.8" fill="none" stroke="#1c5a10" stroke-width="0.9" stroke-linejoin="round"/>
<path d="M416.6,351.2 L417.3,351.8 L412.5,366.0 L412.3,361.2Z" fill="#1e6812" stroke="#1e6812" stroke-width="0.6" stroke-linejoin="round"/><path d="M416.6,351.2 L417.3,351.8 M412.3,361.2 L412.5,366.0" fill="none" stroke="#1c5a10" stroke-width="0.9" stroke-linejoin="round"/>
<path d="M362.9,269.5 L360.6,269.3 L359.6,268.6 L366.0,292.4 L368.5,292.6 L372.1,292.2Z" fill="#42e224" stroke="#42e224" stroke-width="0.6" stroke-linejoin="round"/><path d="M362.9,269.5 L360.6,269.3 L359.6,268.6 M372.1,292.2 L368.5,292.6 L366.0,292.4" fill="none" stroke="#1c5a10" stroke-width="0.9" stroke-linejoin="round"/>
<path d="M243.6,202.7 L244.4,203.1 L243.0,217.5 L241.7,213.1Z" fill="#1e6812" stroke="#1e6812" stroke-width="0.6" stroke-linejoin="round"/><path d="M243.6,202.7 L244.4,203.1 M241.7,213.1 L243.0,217.5" fill="none" stroke="#1c5a10" stroke-width="0.9" stroke-linejoin="round"/>
<path d="M182.3,291.1 L184.4,293.5 L179.7,319.6 L179.8,317.2Z" fill="#1e6812" stroke="#1e6812" stroke-width="0.6" stroke-linejoin="round"/><path d="M182.3,291.1 L184.4,293.5 M179.8,317.2 L179.7,319.6" fill="none" stroke="#1c5a10" stroke-width="0.9" stroke-linejoin="round"/>
<path d="M321.5,287.1 L321.9,286.5 L323.8,305.3 L324.9,305.7Z" fill="#32b21c" stroke="#32b21c" stroke-width="0.6" stroke-linejoin="round"/><path d="M321.5,287.1 L321.9,286.5 M324.9,305.7 L323.8,305.3" fill="none" stroke="#1c5a10" stroke-width="0.9" stroke-linejoin="round"/>
<path d="M351.9,253.8 L354.6,256.5 L356.5,259.6 L355.4,273.1 L352.3,270.6 L348.5,268.4Z" fill="#2c981a" stroke="#2c981a" stroke-width="0.6" stroke-linejoin="round"/><path d="M351.9,253.8 L354.6,256.5 L356.5,259.6 M348.5,268.4 L352.3,270.6 L355.4,273.1" fill="none" stroke="#1c5a10" stroke-width="0.9" stroke-linejoin="round"/>
<path d="M202.0,473.5 L203.8,470.8 L204.8,468.9 L225.6,485.9 L223.6,488.9 L220.8,492.5Z" fill="#2c981a" stroke="#2c981a" stroke-width="0.6" stroke-linejoin="round"/><path d="M202.0,473.5 L203.8,470.8 L204.8,468.9 M220.8,492.5 L223.6,488.9 L225.6,485.9" fill="none" stroke="#1c5a10" stroke-width="0.9" stroke-linejoin="round"/>
<path d="M400.1,406.5 L399.9,409.0 L398.2,411.1 L391.0,437.3 L390.5,434.6 L388.6,431.5Z" fill="#1e6812" stroke="#1e6812" stroke-width="0.6" stroke-linejoin="round"/><path d="M400.1,406.5 L399.9,409.0 L398.2,411.1 M388.6,431.5 L390.5,434.6 L391.0,437.3" fill="none" stroke="#1c5a10" stroke-width="0.9" stroke-linejoin="round"/>
<path d="M242.2,338.0 L242.3,339.6 L235.5,363.0 L234.7,357.6Z" fill="#1e6812" stroke="#1e6812" stroke-width="0.6" stroke-linejoin="round"/><path d="M242.2,338.0 L242.3,339.6 M234.7,357.6 L235.5,363.0" fill="none" stroke="#1c5a10" stroke-width="0.9" stroke-linejoin="round"/>
<path d="M256.9,136.2 L255.6,138.0 L255.0,159.6 L254.5,157.6Z" fill="#32b21c" stroke="#32b21c" stroke-width="0.6" stroke-linejoin="round"/><path d="M256.9,136.2 L255.6,138.0 M254.5,157.6 L255.0,159.6" fill="none" stroke="#1c5a10" stroke-width="0.9" stroke-linejoin="round"/>
<path d="M353.8,320.1 L350.7,323.7 L347.3,327.0 L350.6,332.9 L354.9,331.4 L358.7,329.6Z" fill="#4dff2a" stroke="#4dff2a" stroke-width="0.6" stroke-linejoin="round"/><path d="M353.8,320.1 L350.7,323.7 L347.3,327.0 M358.7,329.6 L354.9,331.4 L350.6,332.9" fill="none" stroke="#1c5a10" stroke-width="0.9" stroke-linejoin="round"/>
<path d="M67.6,469.8 L66.0,471.9 L65.3,497.3 L64.8,495.0Z" fill="#32b21c" stroke="#32b21c" stroke-width="0.6" stroke-linejoin="round"/><path d="M67.6,469.8 L66.0,471.9 M64.8,495.0 L65.3,497.3" fill="none" stroke="#1c5a10" stroke-width="0.9" stroke-linejoin="round"/>
<path d="M353.5,361.4 L354.7,364.3 L344.4,389.7 L345.4,387.4Z" fill="#1e6812" stroke="#1e6812" stroke-width="0.6" stroke-linejoin="round"/><path d="M353.5,361.4 L354.7,364.3 M345.4,387.4 L344.4,389.7" fill="none" stroke="#1c5a10" stroke-width="0.9" stroke-linejoin="round"/>
<path d="M326.2,136.2 L325.0,136.5 L326.0,157.2 L325.6,153.3Z" fill="#32b21c" stroke="#32b21c" stroke-width="0.6" stroke-linejoin="round"/><path d="M326.2,136.2 L325.0,136.5 M325.6,153.3 L326.0,157.2" fill="none" stroke="#1c5a10" stroke-width="0.9" stroke-linejoin="round"/>
<path d="M136.1,402.7 L139.2,401.6 L149.7,416.6 L147.4,416.8Z" fill="#2c981a" stroke="#2c981a" stroke-width="0.6" stroke-linejoin="round"/><path d="M136.1,402.7 L139.2,401.6 M147.4,416.8 L149.7,416.6" fill="none" stroke="#1c5a10" stroke-width="0.9" stroke-linejoin="round"/>
<path d="M270.3,339.6 L270.8,341.8 L270.0,366.2 L271.5,364.1Z" fill="#32b21c" stroke="#32b21c" stroke-width="0.6" stroke-linejoin="round"/><path d="M270.3,339.6 L270.8,341.8 M271.5,364.1 L270.0,366.2" fill="none" stroke="#1c5a10" stroke-width="0.9" stroke-linejoin="round"/>
<path d="M290.7,399.4 L285.3,397.8 L279.8,397.2 L274.5,397.9 L271.9,402.1 L277.4,401.6 L283.0,402.2 L288.4,403.9Z" fill="#42e224" stroke="#42e224" stroke-width="0.6" stroke-linejoin="round"/><path d="M290.7,399.4 L285.3,397.8 L279.8,397.2 L274.5,397.9 M288.4,403.9 L283.0,402.2 L277.4,401.6 L271.9,402.1" fill="none" stroke="#1c5a10" stroke-width="0.9" stroke-linejoin="round"/>
<path d="M404.7,240.4 L404.0,244.5 L409.7,262.5 L408.9,258.6Z" fill="#32b21c" stroke="#32b21c" stroke-width="0.6" stroke-linejoin="round"/><path d="M404.7,240.4 L404.0,244.5 M408.9,258.6 L409.7,262.5" fill="none" stroke="#1c5a10" stroke-width="0.9" stroke-linejoin="round"/>
<path d="M325.2,192.6 L323.7,194.7 L325.0,219.1 L324.6,217.0Z" fill="#32b21c" stroke="#32b21c" stroke-width="0.6" stroke-linejoin="round"/><path d="M325.2,192.6 L323.7,194.7 M324.6,217.0 L325.0,219.1" fill="none" stroke="#1c5a10" stroke-width="0.9" stroke-linejoin="round"/>
<path d="M113.4,469.0 L115.0,472.7 L117.5,475.5 L136.7,486.7 L135.3,482.8 L134.7,477.9Z" fill="#42e224" stroke="#42e224" stroke-width="0.6" stroke-linejoin="round"/><path d="M113.4,469.0 L115.0,472.7 L117.5,475.5 M134.7,477.9 L135.3,482.8 L136.7,486.7" fill="none" stroke="#1c5a10" stroke-width="0.9" stroke-linejoin="round"/>
<path d="M271.3,279.6 L271.7,281.7 L271.1,306.1 L272.7,304.0Z" fill="#32b21c" stroke="#32b21c" stroke-width="0.6" stroke-linejoin="round"/><path d="M271.3,279.6 L271.7,281.7 M272.7,304.0 L271.1,306.1" fill="none" stroke="#1c5a10" stroke-width="0.9" stroke-linejoin="round"/>
<path d="M168.6,387.8 L170.8,387.8 L182.4,401.6 L179.3,402.7Z" fill="#2c981a" stroke="#2c981a" stroke-width="0.6" stroke-linejoin="round"/><path d="M168.6,387.8 L170.8,387.8 M179.3,402.7 L182.4,401.6" fill="none" stroke="#1c5a10" stroke-width="0.9" stroke-linejoin="round"/>
<path d="M251.6,194.2 L250.4,197.6 L250.3,206.3 L250.6,206.0Z" fill="#32b21c" stroke="#32b21c" stroke-width="0.6" stroke-linejoin="round"/><path d="M251.6,194.2 L250.4,197.6 M250.6,206.0 L250.3,206.3" fill="none" stroke="#1c5a10" stroke-width="0.9" stroke-linejoin="round"/>
<path d="M303.8,409.8 L300.2,405.6 L295.8,402.1 L290.7,399.4 L288.4,403.9 L293.3,406.7 L297.6,410.4 L301.0,414.7Z" fill="#4af628" stroke="#4af628" stroke-width="0.6" stroke-linejoin="round"/><path d="M303.8,409.8 L300.2,405.6 L295.8,402.1 L290.7,399.4 M301.0,414.7 L297.6,410.4 L293.3,406.7 L288.4,403.9" fill="none" stroke="#1c5a10" stroke-width="0.9" stroke-linejoin="round"/>
<path d="M350.9,227.0 L352.3,225.8 L354.9,224.6 L356.8,249.1 L355.8,250.2 L355.9,251.1Z" fill="#1e6812" stroke="#1e6812" stroke-width="0.6" stroke-linejoin="round"/><path d="M350.9,227.0 L352.3,225.8 L354.9,224.6 M355.9,251.1 L355.8,250.2 L356.8,249.1" fill="none" stroke="#1c5a10" stroke-width="0.9" stroke-linejoin="round"/>
<path d="M324.1,252.6 L322.4,254.7 L324.0,279.2 L323.7,277.0Z" fill="#32b21c" stroke="#32b21c" stroke-width="0.6" stroke-linejoin="round"/><path d="M324.1,252.6 L322.4,254.7 M323.7,277.0 L324.0,279.2" fill="none" stroke="#1c5a10" stroke-width="0.9" stroke-linejoin="round"/>
<path d="M251.8,430.5 L253.0,436.0 L255.4,441.1 L258.8,445.7 L263.0,449.5 L267.7,452.3 L272.8,454.1 L277.8,454.7 L273.3,458.7 L268.2,457.8 L263.3,455.8 L258.6,452.7 L254.6,448.8 L251.4,444.1 L249.1,439.0 L247.9,433.6Z" fill="#2c981a" stroke="#2c981a" stroke-width="0.6" stroke-linejoin="round"/><path d="M251.8,430.5 L253.0,436.0 L255.4,441.1 L258.8,445.7 L263.0,449.5 L267.7,452.3 L272.8,454.1 L277.8,454.7 M247.9,433.6 L249.1,439.0 L251.4,444.1 L254.6,448.8 L258.6,452.7 L263.3,455.8 L268.2,457.8 L273.3,458.7" fill="none" stroke="#1c5a10" stroke-width="0.9" stroke-linejoin="round"/>
<path d="M272.3,219.5 L272.6,221.7 L272.3,246.1 L274.0,244.0Z" fill="#32b21c" stroke="#32b21c" stroke-width="0.6" stroke-linejoin="round"/><path d="M272.3,219.5 L272.6,221.7 M274.0,244.0 L272.3,246.1" fill="none" stroke="#1c5a10" stroke-width="0.9" stroke-linejoin="round"/>
<path d="M208.5,156.8 L208.4,158.7 L206.8,180.3 L208.6,178.5Z" fill="#32b21c" stroke="#32b21c" stroke-width="0.6" stroke-linejoin="round"/><path d="M208.5,156.8 L208.4,158.7 M208.6,178.5 L206.8,180.3" fill="none" stroke="#1c5a10" stroke-width="0.9" stroke-linejoin="round"/>
<path d="M354.2,182.0 L359.4,181.4 L365.0,181.3 L370.9,181.7 L376.7,182.7 L382.1,184.2 L386.9,186.3 L385.8,206.8 L380.2,205.4 L374.4,204.6 L368.6,204.3 L363.0,204.6 L357.9,205.2 L353.6,206.2Z" fill="#3ac420" stroke="#3ac420" stroke-width="0.6" stroke-linejoin="round"/><path d="M354.2,182.0 L359.4,181.4 L365.0,181.3 L370.9,181.7 L376.7,182.7 L382.1,184.2 L386.9,186.3 M353.6,206.2 L357.9,205.2 L363.0,204.6 L368.6,204.3 L374.4,204.6 L380.2,205.4 L385.8,206.8" fill="none" stroke="#1c5a10" stroke-width="0.9" stroke-linejoin="round"/>
<path d="M323.0,312.6 L321.1,314.7 L322.9,339.2 L322.8,337.0Z" fill="#32b21c" stroke="#32b21c" stroke-width="0.6" stroke-linejoin="round"/><path d="M323.0,312.6 L321.1,314.7 M322.8,337.0 L322.9,339.2" fill="none" stroke="#1c5a10" stroke-width="0.9" stroke-linejoin="round"/>
<path d="M10.7,494.0 L10.5,498.2 L8.9,519.7 L10.8,519.5Z" fill="#32b21c" stroke="#32b21c" stroke-width="0.6" stroke-linejoin="round"/><path d="M10.7,494.0 L10.5,498.2 M10.8,519.5 L8.9,519.7" fill="none" stroke="#1c5a10" stroke-width="0.9" stroke-linejoin="round"/>
<path d="M273.4,159.5 L273.5,161.7 L273.4,186.1 L275.3,184.0Z" fill="#32b21c" stroke="#32b21c" stroke-width="0.6" stroke-linejoin="round"/><path d="M273.4,159.5 L273.5,161.7 M275.3,184.0 L273.4,186.1" fill="none" stroke="#1c5a10" stroke-width="0.9" stroke-linejoin="round"/>
<path d="M125.7,421.9 L123.6,425.4 L121.3,429.9 L146.2,439.3 L148.3,435.9 L149.9,433.7Z" fill="#4af628" stroke="#4af628" stroke-width="0.6" stroke-linejoin="round"/><path d="M125.7,421.9 L123.6,425.4 L121.3,429.9 M149.9,433.7 L148.3,435.9 L146.2,439.3" fill="none" stroke="#1c5a10" stroke-width="0.9" stroke-linejoin="round"/>
<path d="M223.8,405.1 L220.0,407.5 L218.1,432.3 L219.9,429.4Z" fill="#42e224" stroke="#42e224" stroke-width="0.6" stroke-linejoin="round"/><path d="M223.8,405.1 L220.0,407.5 M219.9,429.4 L218.1,432.3" fill="none" stroke="#1c5a10" stroke-width="0.9" stroke-linejoin="round"/>
<path d="M213.3,103.6 L212.9,105.5 L211.8,127.1 L213.8,125.4Z" fill="#32b21c" stroke="#32b21c" stroke-width="0.6" stroke-linejoin="round"/><path d="M213.3,103.6 L212.9,105.5 M213.8,125.4 L211.8,127.1" fill="none" stroke="#1c5a10" stroke-width="0.9" stroke-linejoin="round"/>
<path d="M158.9,502.3 L162.8,502.6 L180.3,516.7 L177.2,515.0Z" fill="#1e6812" stroke="#1e6812" stroke-width="0.6" stroke-linejoin="round"/><path d="M158.9,502.3 L162.8,502.6 M177.2,515.0 L180.3,516.7" fill="none" stroke="#1c5a10" stroke-width="0.9" stroke-linejoin="round"/>
<path d="M140.9,362.8 L142.1,361.8 L148.7,369.1 L145.4,368.5Z" fill="#2c981a" stroke="#2c981a" stroke-width="0.6" stroke-linejoin="round"/><path d="M140.9,362.8 L142.1,361.8 M145.4,368.5 L148.7,369.1" fill="none" stroke="#1c5a10" stroke-width="0.9" stroke-linejoin="round"/>
<path d="M260.6,84.8 L258.5,86.5 L259.2,108.3 L259.6,106.4Z" fill="#32b21c" stroke="#32b21c" stroke-width="0.6" stroke-linejoin="round"/><path d="M260.6,84.8 L258.5,86.5 M259.6,106.4 L259.2,108.3" fill="none" stroke="#1c5a10" stroke-width="0.9" stroke-linejoin="round"/>
<path d="M366.0,428.0 C366.7,431.7 367.0,445.0 370.0,450.0 C373.0,455.0 378.3,458.5 384.0,458.0 C389.7,457.5 399.7,451.7 404.0,447.0 C408.3,442.3 409.8,436.2 410.0,430.0 C410.2,423.8 407.0,415.8 405.0,410.0 C403.0,404.2 399.2,397.5 398.0,395.0" fill="none" stroke="#1c5a10" stroke-width="5.0" stroke-linecap="round" stroke-linejoin="round"/><path d="M366.0,428.0 C366.7,431.7 367.0,445.0 370.0,450.0 C373.0,455.0 378.3,458.5 384.0,458.0 C389.7,457.5 399.7,451.7 404.0,447.0 C408.3,442.3 409.8,436.2 410.0,430.0 C410.2,423.8 407.0,415.8 405.0,410.0 C403.0,404.2 399.2,397.5 398.0,395.0" fill="none" stroke="#4cf22c" stroke-width="3.4" stroke-linecap="round" stroke-linejoin="round"/>
<path d="M320.0,378.0 C319.7,380.7 320.3,390.3 318.0,394.0 C315.7,397.7 309.0,397.3 306.0,400.0 C303.0,402.7 301.0,408.3 300.0,410.0" fill="none" stroke="#1c5a10" stroke-width="5.0" stroke-linecap="round" stroke-linejoin="round"/><path d="M320.0,378.0 C319.7,380.7 320.3,390.3 318.0,394.0 C315.7,397.7 309.0,397.3 306.0,400.0 C303.0,402.7 301.0,408.3 300.0,410.0" fill="none" stroke="#4cf22c" stroke-width="3.4" stroke-linecap="round" stroke-linejoin="round"/>
<path d="M35.0,516.0 C38.8,516.0 49.8,513.7 58.0,516.0 C66.2,518.3 79.7,527.7 84.0,530.0" fill="none" stroke="#1c5a10" stroke-width="5.0" stroke-linecap="round" stroke-linejoin="round"/><path d="M35.0,516.0 C38.8,516.0 49.8,513.7 58.0,516.0 C66.2,518.3 79.7,527.7 84.0,530.0" fill="none" stroke="#4cf22c" stroke-width="3.4" stroke-linecap="round" stroke-linejoin="round"/>
<path d="M134.0,540.0 C137.0,539.3 145.7,538.0 152.0,536.0 C158.3,534.0 168.7,529.3 172.0,528.0" fill="none" stroke="#1c5a10" stroke-width="5.0" stroke-linecap="round" stroke-linejoin="round"/><path d="M134.0,540.0 C137.0,539.3 145.7,538.0 152.0,536.0 C158.3,534.0 168.7,529.3 172.0,528.0" fill="none" stroke="#4cf22c" stroke-width="3.4" stroke-linecap="round" stroke-linejoin="round"/>
<path d="M345.0,322.0 C347.5,321.0 354.8,316.7 360.0,316.0 C365.2,315.3 371.7,315.7 376.0,318.0 C380.3,320.3 384.3,328.0 386.0,330.0" fill="none" stroke="#1c5a10" stroke-width="5.0" stroke-linecap="round" stroke-linejoin="round"/><path d="M345.0,322.0 C347.5,321.0 354.8,316.7 360.0,316.0 C365.2,315.3 371.7,315.7 376.0,318.0 C380.3,320.3 384.3,328.0 386.0,330.0" fill="none" stroke="#4cf22c" stroke-width="3.4" stroke-linecap="round" stroke-linejoin="round"/>
<path d="M72.1,409.3 L69.7,411.4 L70.3,436.9 L70.7,434.7Z" fill="#32b21c" stroke="#32b21c" stroke-width="0.6" stroke-linejoin="round"/><path d="M72.1,409.3 L69.7,411.4 M70.7,434.7 L70.3,436.9" fill="none" stroke="#1c5a10" stroke-width="0.9" stroke-linejoin="round"/>
<path d="M16.4,431.5 L16.0,433.7 L14.7,459.0 L17.2,457.0Z" fill="#32b21c" stroke="#32b21c" stroke-width="0.6" stroke-linejoin="round"/><path d="M16.4,431.5 L16.0,433.7 M17.2,457.0 L14.7,459.0" fill="none" stroke="#1c5a10" stroke-width="0.9" stroke-linejoin="round"/>
<path d="M210.5,524.9 L215.6,522.0 L220.7,518.5 L225.6,514.4 L231.4,511.6 L236.7,508.8 L241.5,506.3 L245.7,504.1 L253.3,511.6 L251.5,517.0 L248.8,522.7 L245.5,528.5 L241.8,533.9 L236.7,537.3 L231.7,540.0 L226.8,541.7Z" fill="#3ac420" stroke="#3ac420" stroke-width="0.6" stroke-linejoin="round"/><path d="M210.5,524.9 L215.6,522.0 L220.7,518.5 L225.6,514.4 L231.4,511.6 L236.7,508.8 L241.5,506.3 L245.7,504.1 M226.8,541.7 L231.7,540.0 L236.7,537.3 L241.8,533.9 L245.5,528.5 L248.8,522.7 L251.5,517.0 L253.3,511.6" fill="none" stroke="#1c5a10" stroke-width="0.9" stroke-linejoin="round"/>
<path d="M180.1,355.0 L179.9,356.2 L173.7,383.0 L176.0,382.2Z" fill="#32b21c" stroke="#32b21c" stroke-width="0.6" stroke-linejoin="round"/><path d="M180.1,355.0 L179.9,356.2 M176.0,382.2 L173.7,383.0" fill="none" stroke="#1c5a10" stroke-width="0.9" stroke-linejoin="round"/>
<path d="M166.5,443.2 L165.3,444.6 L188.8,457.8 L189.2,457.8Z" fill="#32b21c" stroke="#32b21c" stroke-width="0.6" stroke-linejoin="round"/><path d="M166.5,443.2 L165.3,444.6 M189.2,457.8 L188.8,457.8" fill="none" stroke="#1c5a10" stroke-width="0.9" stroke-linejoin="round"/>
<path d="M244.4,203.1 L243.4,203.4 L243.1,221.8 L243.0,217.5Z" fill="#32b21c" stroke="#32b21c" stroke-width="0.6" stroke-linejoin="round"/><path d="M244.4,203.1 L243.4,203.4 M243.0,217.5 L243.1,221.8" fill="none" stroke="#1c5a10" stroke-width="0.9" stroke-linejoin="round"/>
<path d="M356.5,259.6 L357.5,262.8 L357.5,266.1 L359.2,279.1 L357.8,276.0 L355.4,273.1Z" fill="#1e6812" stroke="#1e6812" stroke-width="0.6" stroke-linejoin="round"/><path d="M356.5,259.6 L357.5,262.8 L357.5,266.1 M355.4,273.1 L357.8,276.0 L359.2,279.1" fill="none" stroke="#1c5a10" stroke-width="0.9" stroke-linejoin="round"/>
<path d="M181.7,288.7 L182.3,291.1 L179.8,317.2 L181.4,315.0Z" fill="#32b21c" stroke="#32b21c" stroke-width="0.6" stroke-linejoin="round"/><path d="M181.7,288.7 L182.3,291.1 M181.4,315.0 L179.8,317.2" fill="none" stroke="#1c5a10" stroke-width="0.9" stroke-linejoin="round"/>
<path d="M417.3,351.8 L416.2,351.9 L411.6,370.4 L412.5,366.0Z" fill="#32b21c" stroke="#32b21c" stroke-width="0.6" stroke-linejoin="round"/><path d="M417.3,351.8 L416.2,351.9 M412.5,366.0 L411.6,370.4" fill="none" stroke="#1c5a10" stroke-width="0.9" stroke-linejoin="round"/>
<path d="M404.0,244.5 L402.1,248.6 L409.2,266.5 L409.7,262.5Z" fill="#42e224" stroke="#42e224" stroke-width="0.6" stroke-linejoin="round"/><path d="M404.0,244.5 L402.1,248.6 M409.7,262.5 L409.2,266.5" fill="none" stroke="#1c5a10" stroke-width="0.9" stroke-linejoin="round"/>
<path d="M323.6,287.8 L322.1,287.5 L321.5,287.1 L324.9,305.7 L326.8,305.8 L329.6,305.5Z" fill="#42e224" stroke="#42e224" stroke-width="0.6" stroke-linejoin="round"/><path d="M323.6,287.8 L322.1,287.5 L321.5,287.1 M329.6,305.5 L326.8,305.8 L324.9,305.7" fill="none" stroke="#1c5a10" stroke-width="0.9" stroke-linejoin="round"/>
<path d="M258.1,410.9 L254.9,415.0 L252.7,419.8 L251.7,425.0 L251.8,430.5 L247.9,433.6 L247.9,428.3 L249.1,423.2 L251.5,418.7 L254.9,414.8Z" fill="#1e6812" stroke="#1e6812" stroke-width="0.6" stroke-linejoin="round"/><path d="M258.1,410.9 L254.9,415.0 L252.7,419.8 L251.7,425.0 L251.8,430.5 M254.9,414.8 L251.5,418.7 L249.1,423.2 L247.9,428.3 L247.9,433.6" fill="none" stroke="#1c5a10" stroke-width="0.9" stroke-linejoin="round"/>
<path d="M299.2,439.5 L301.0,435.3 L301.6,430.7 L298.2,435.7 L297.2,440.3 L295.2,444.3Z" fill="#32b21c" stroke="#32b21c" stroke-width="0.6" stroke-linejoin="round"/><path d="M299.2,439.5 L301.0,435.3 L301.6,430.7 M295.2,444.3 L297.2,440.3 L298.2,435.7" fill="none" stroke="#1c5a10" stroke-width="0.9" stroke-linejoin="round"/>
<path d="M386.9,186.3 L390.8,189.0 L393.7,192.2 L394.9,211.3 L390.7,208.8 L385.8,206.8Z" fill="#2c981a" stroke="#2c981a" stroke-width="0.6" stroke-linejoin="round"/><path d="M386.9,186.3 L390.8,189.0 L393.7,192.2 M385.8,206.8 L390.7,208.8 L394.9,211.3" fill="none" stroke="#1c5a10" stroke-width="0.9" stroke-linejoin="round"/>
<path d="M131.5,403.1 L133.5,403.2 L136.1,402.7 L147.4,416.8 L145.8,416.3 L144.7,415.0Z" fill="#1e6812" stroke="#1e6812" stroke-width="0.6" stroke-linejoin="round"/><path d="M131.5,403.1 L133.5,403.2 L136.1,402.7 M144.7,415.0 L145.8,416.3 L147.4,416.8" fill="none" stroke="#1c5a10" stroke-width="0.9" stroke-linejoin="round"/>
<path d="M129.2,544.5 L131.8,540.1 L133.4,535.2 L133.7,529.9 L131.0,534.1 L130.4,539.2 L128.7,544.0 L125.8,548.2Z" fill="#32b21c" stroke="#32b21c" stroke-width="0.6" stroke-linejoin="round"/><path d="M129.2,544.5 L131.8,540.1 L133.4,535.2 L133.7,529.9 M125.8,548.2 L128.7,544.0 L130.4,539.2 L131.0,534.1" fill="none" stroke="#1c5a10" stroke-width="0.9" stroke-linejoin="round"/>
<path d="M323.7,194.7 L320.9,196.8 L324.2,221.2 L325.0,219.1Z" fill="#42e224" stroke="#42e224" stroke-width="0.6" stroke-linejoin="round"/><path d="M323.7,194.7 L320.9,196.8 M325.0,219.1 L324.2,221.2" fill="none" stroke="#1c5a10" stroke-width="0.9" stroke-linejoin="round"/>
<path d="M353.8,359.0 L353.5,361.4 L345.4,387.4 L347.9,385.6Z" fill="#32b21c" stroke="#32b21c" stroke-width="0.6" stroke-linejoin="round"/><path d="M353.8,359.0 L353.5,361.4 M347.9,385.6 L345.4,387.4" fill="none" stroke="#1c5a10" stroke-width="0.9" stroke-linejoin="round"/>
<path d="M236.0,325.3 L234.8,327.5 L232.1,329.7 L233.5,356.1 L234.0,353.8 L233.1,351.4Z" fill="#32b21c" stroke="#32b21c" stroke-width="0.6" stroke-linejoin="round"/><path d="M236.0,325.3 L234.8,327.5 L232.1,329.7 M233.1,351.4 L234.0,353.8 L233.5,356.1" fill="none" stroke="#1c5a10" stroke-width="0.9" stroke-linejoin="round"/>
<path d="M272.2,277.5 L271.3,279.6 L272.7,304.0 L275.6,301.9Z" fill="#42e224" stroke="#42e224" stroke-width="0.6" stroke-linejoin="round"/><path d="M272.2,277.5 L271.3,279.6 M275.6,301.9 L272.7,304.0" fill="none" stroke="#1c5a10" stroke-width="0.9" stroke-linejoin="round"/>
<path d="M88.9,546.3 L92.7,550.4 L97.2,553.6 L92.9,556.2 L88.3,552.9 L84.5,548.6Z" fill="#2c981a" stroke="#2c981a" stroke-width="0.6" stroke-linejoin="round"/><path d="M88.9,546.3 L92.7,550.4 L97.2,553.6 M84.5,548.6 L88.3,552.9 L92.9,556.2" fill="none" stroke="#1c5a10" stroke-width="0.9" stroke-linejoin="round"/>
<path d="M209.7,155.0 L208.5,156.8 L208.6,178.5 L211.4,176.8Z" fill="#42e224" stroke="#42e224" stroke-width="0.6" stroke-linejoin="round"/><path d="M209.7,155.0 L208.5,156.8 M211.4,176.8 L208.6,178.5" fill="none" stroke="#1c5a10" stroke-width="0.9" stroke-linejoin="round"/>
<path d="M170.8,387.8 L172.4,388.4 L173.3,389.8 L186.7,401.5 L184.8,401.2 L182.4,401.6Z" fill="#1e6812" stroke="#1e6812" stroke-width="0.6" stroke-linejoin="round"/><path d="M170.8,387.8 L172.4,388.4 L173.3,389.8 M182.4,401.6 L184.8,401.2 L186.7,401.5" fill="none" stroke="#1c5a10" stroke-width="0.9" stroke-linejoin="round"/>
<path d="M322.4,254.7 L319.5,256.8 L323.0,281.3 L324.0,279.2Z" fill="#42e224" stroke="#42e224" stroke-width="0.6" stroke-linejoin="round"/><path d="M322.4,254.7 L319.5,256.8 M324.0,279.2 L323.0,281.3" fill="none" stroke="#1c5a10" stroke-width="0.9" stroke-linejoin="round"/>
<path d="M255.6,138.0 L253.1,139.7 L249.7,141.3 L252.3,163.2 L254.2,161.4 L255.0,159.6Z" fill="#42e224" stroke="#42e224" stroke-width="0.6" stroke-linejoin="round"/><path d="M255.6,138.0 L253.1,139.7 L249.7,141.3 M255.0,159.6 L254.2,161.4 L252.3,163.2" fill="none" stroke="#1c5a10" stroke-width="0.9" stroke-linejoin="round"/>
<path d="M240.0,262.4 L237.9,264.6 L238.4,291.0 L238.3,288.6Z" fill="#32b21c" stroke="#32b21c" stroke-width="0.6" stroke-linejoin="round"/><path d="M240.0,262.4 L237.9,264.6 M238.3,288.6 L238.4,291.0" fill="none" stroke="#1c5a10" stroke-width="0.9" stroke-linejoin="round"/>
<path d="M112.6,464.3 L113.4,469.0 L134.7,477.9 L134.8,472.4Z" fill="#4af628" stroke="#4af628" stroke-width="0.6" stroke-linejoin="round"/><path d="M112.6,464.3 L113.4,469.0 M134.8,472.4 L134.7,477.9" fill="none" stroke="#1c5a10" stroke-width="0.9" stroke-linejoin="round"/>
<path d="M273.4,217.4 L272.3,219.5 L274.0,244.0 L277.0,241.9Z" fill="#42e224" stroke="#42e224" stroke-width="0.6" stroke-linejoin="round"/><path d="M273.4,217.4 L272.3,219.5 M277.0,241.9 L274.0,244.0" fill="none" stroke="#1c5a10" stroke-width="0.9" stroke-linejoin="round"/>
<path d="M186.4,223.5 L186.4,225.8 L184.8,252.1 L186.9,249.9Z" fill="#32b21c" stroke="#32b21c" stroke-width="0.6" stroke-linejoin="round"/><path d="M186.4,223.5 L186.4,225.8 M186.9,249.9 L184.8,252.1" fill="none" stroke="#1c5a10" stroke-width="0.9" stroke-linejoin="round"/>
<path d="M142.1,361.8 L142.5,361.8 L151.6,370.3 L148.7,369.1Z" fill="#1e6812" stroke="#1e6812" stroke-width="0.6" stroke-linejoin="round"/><path d="M142.1,361.8 L142.5,361.8 M148.7,369.1 L151.6,370.3" fill="none" stroke="#1c5a10" stroke-width="0.9" stroke-linejoin="round"/>
<path d="M89.0,514.5 L86.2,519.3 L84.4,524.7 L83.8,530.3 L84.4,536.0 L86.1,541.4 L88.9,546.3 L84.5,548.6 L81.7,543.7 L80.0,538.4 L79.5,532.9 L80.3,527.5 L82.3,522.5 L85.5,518.0Z" fill="#1e6812" stroke="#1e6812" stroke-width="0.6" stroke-linejoin="round"/><path d="M89.0,514.5 L86.2,519.3 L84.4,524.7 L83.8,530.3 L84.4,536.0 L86.1,541.4 L88.9,546.3 M85.5,518.0 L82.3,522.5 L80.3,527.5 L79.5,532.9 L80.0,538.4 L81.7,543.7 L84.5,548.6" fill="none" stroke="#1c5a10" stroke-width="0.9" stroke-linejoin="round"/>
<path d="M370.3,268.6 L366.2,269.3 L362.9,269.5 L372.1,292.2 L376.4,291.3 L381.2,289.9Z" fill="#4af628" stroke="#4af628" stroke-width="0.6" stroke-linejoin="round"/><path d="M370.3,268.6 L366.2,269.3 L362.9,269.5 M381.2,289.9 L376.4,291.3 L372.1,292.2" fill="none" stroke="#1c5a10" stroke-width="0.9" stroke-linejoin="round"/>
<path d="M321.1,314.7 L318.1,316.8 L321.8,341.3 L322.9,339.2Z" fill="#42e224" stroke="#42e224" stroke-width="0.6" stroke-linejoin="round"/><path d="M321.1,314.7 L318.1,316.8 M322.9,339.2 L321.8,341.3" fill="none" stroke="#1c5a10" stroke-width="0.9" stroke-linejoin="round"/>
<path d="M274.6,157.4 L273.4,159.5 L275.3,184.0 L278.4,181.9Z" fill="#42e224" stroke="#42e224" stroke-width="0.6" stroke-linejoin="round"/><path d="M274.6,157.4 L273.4,159.5 M278.4,181.9 L275.3,184.0" fill="none" stroke="#1c5a10" stroke-width="0.9" stroke-linejoin="round"/>
<path d="M214.8,101.8 L213.3,103.6 L213.8,125.4 L217.0,123.7Z" fill="#42e224" stroke="#42e224" stroke-width="0.6" stroke-linejoin="round"/><path d="M214.8,101.8 L213.3,103.6 M217.0,123.7 L213.8,125.4" fill="none" stroke="#1c5a10" stroke-width="0.9" stroke-linejoin="round"/>
<path d="M12.1,491.9 L10.7,494.0 L10.8,519.5 L14.2,517.5Z" fill="#42e224" stroke="#42e224" stroke-width="0.6" stroke-linejoin="round"/><path d="M12.1,491.9 L10.7,494.0 M14.2,517.5 L10.8,519.5" fill="none" stroke="#1c5a10" stroke-width="0.9" stroke-linejoin="round"/>
<path d="M242.3,339.6 L240.3,342.5 L237.0,345.0 L234.3,369.6 L235.6,366.5 L235.5,363.0Z" fill="#32b21c" stroke="#32b21c" stroke-width="0.6" stroke-linejoin="round"/><path d="M242.3,339.6 L240.3,342.5 L237.0,345.0 M235.5,363.0 L235.6,366.5 L234.3,369.6" fill="none" stroke="#1c5a10" stroke-width="0.9" stroke-linejoin="round"/>
<path d="M258.5,86.5 L255.3,88.2 L257.6,110.0 L259.2,108.3Z" fill="#42e224" stroke="#42e224" stroke-width="0.6" stroke-linejoin="round"/><path d="M258.5,86.5 L255.3,88.2 M259.2,108.3 L257.6,110.0" fill="none" stroke="#1c5a10" stroke-width="0.9" stroke-linejoin="round"/>
<path d="M155.6,500.8 L158.9,502.3 L177.2,515.0 L174.8,512.1Z" fill="#32b21c" stroke="#32b21c" stroke-width="0.6" stroke-linejoin="round"/><path d="M155.6,500.8 L158.9,502.3 M174.8,512.1 L177.2,515.0" fill="none" stroke="#1c5a10" stroke-width="0.9" stroke-linejoin="round"/>
<path d="M325.0,136.5 L322.2,136.7 L318.5,138.8 L323.3,163.3 L325.3,161.2 L326.0,157.2Z" fill="#42e224" stroke="#42e224" stroke-width="0.6" stroke-linejoin="round"/><path d="M325.0,136.5 L322.2,136.7 L318.5,138.8 M326.0,157.2 L325.3,161.2 L323.3,163.3" fill="none" stroke="#1c5a10" stroke-width="0.9" stroke-linejoin="round"/>
<path d="M66.0,471.9 L63.2,473.9 L59.1,475.8 L62.2,501.5 L64.5,499.4 L65.3,497.3Z" fill="#42e224" stroke="#42e224" stroke-width="0.6" stroke-linejoin="round"/><path d="M66.0,471.9 L63.2,473.9 L59.1,475.8 M65.3,497.3 L64.5,499.4 L62.2,501.5" fill="none" stroke="#1c5a10" stroke-width="0.9" stroke-linejoin="round"/>
<path d="M273.1,335.4 L271.1,337.5 L270.3,339.6 L271.5,364.1 L274.2,362.0 L278.0,359.9Z" fill="#42e224" stroke="#42e224" stroke-width="0.6" stroke-linejoin="round"/><path d="M273.1,335.4 L271.1,337.5 L270.3,339.6 M278.0,359.9 L274.2,362.0 L271.5,364.1" fill="none" stroke="#1c5a10" stroke-width="0.9" stroke-linejoin="round"/>
<path d="M357.5,266.1 L356.6,269.5 L359.7,282.4 L359.2,279.1Z" fill="#32b21c" stroke="#32b21c" stroke-width="0.6" stroke-linejoin="round"/><path d="M357.5,266.1 L356.6,269.5 M359.2,279.1 L359.7,282.4" fill="none" stroke="#1c5a10" stroke-width="0.9" stroke-linejoin="round"/>
<path d="M398.2,411.1 L395.2,412.7 L390.1,439.6 L391.0,437.3Z" fill="#32b21c" stroke="#32b21c" stroke-width="0.6" stroke-linejoin="round"/><path d="M398.2,411.1 L395.2,412.7 M391.0,437.3 L390.1,439.6" fill="none" stroke="#1c5a10" stroke-width="0.9" stroke-linejoin="round"/>
<path d="M172.1,421.0 L167.8,423.6 L167.4,434.7 L172.4,436.4Z" fill="#4af628" stroke="#4af628" stroke-width="0.6" stroke-linejoin="round"/><path d="M172.1,421.0 L167.8,423.6 M172.4,436.4 L167.4,434.7" fill="none" stroke="#1c5a10" stroke-width="0.9" stroke-linejoin="round"/>
<path d="M69.7,411.4 L66.0,413.3 L68.5,439.0 L70.3,436.9Z" fill="#42e224" stroke="#42e224" stroke-width="0.6" stroke-linejoin="round"/><path d="M69.7,411.4 L66.0,413.3 M70.3,436.9 L68.5,439.0" fill="none" stroke="#1c5a10" stroke-width="0.9" stroke-linejoin="round"/>
<path d="M350.8,227.9 L350.9,227.0 L355.9,251.1 L357.3,251.7Z" fill="#32b21c" stroke="#32b21c" stroke-width="0.6" stroke-linejoin="round"/><path d="M350.8,227.9 L350.9,227.0 M357.3,251.7 L355.9,251.1" fill="none" stroke="#1c5a10" stroke-width="0.9" stroke-linejoin="round"/>
<path d="M18.3,429.4 L16.4,431.5 L17.2,457.0 L20.9,455.1Z" fill="#42e224" stroke="#42e224" stroke-width="0.6" stroke-linejoin="round"/><path d="M18.3,429.4 L16.4,431.5 M20.9,455.1 L17.2,457.0" fill="none" stroke="#1c5a10" stroke-width="0.9" stroke-linejoin="round"/>
<path d="M402.1,248.6 L399.0,252.6 L395.1,256.4 L404.8,274.6 L407.6,270.6 L409.2,266.5Z" fill="#4af628" stroke="#4af628" stroke-width="0.6" stroke-linejoin="round"/><path d="M402.1,248.6 L399.0,252.6 L395.1,256.4 M409.2,266.5 L407.6,270.6 L404.8,274.6" fill="none" stroke="#1c5a10" stroke-width="0.9" stroke-linejoin="round"/>
<path d="M220.0,407.5 L215.0,409.4 L209.2,410.9 L210.5,437.0 L214.9,434.9 L218.1,432.3Z" fill="#4af628" stroke="#4af628" stroke-width="0.6" stroke-linejoin="round"/><path d="M220.0,407.5 L215.0,409.4 L209.2,410.9 M218.1,432.3 L214.9,434.9 L210.5,437.0" fill="none" stroke="#1c5a10" stroke-width="0.9" stroke-linejoin="round"/>
<path d="M165.3,444.6 L163.5,447.2 L187.7,458.9 L188.8,457.8Z" fill="#42e224" stroke="#42e224" stroke-width="0.6" stroke-linejoin="round"/><path d="M165.3,444.6 L163.5,447.2 M188.8,457.8 L187.7,458.9" fill="none" stroke="#1c5a10" stroke-width="0.9" stroke-linejoin="round"/>
<path d="M181.8,354.1 L180.1,355.0 L176.0,382.2 L179.7,381.7Z" fill="#42e224" stroke="#42e224" stroke-width="0.6" stroke-linejoin="round"/><path d="M181.8,354.1 L180.1,355.0 M179.7,381.7 L176.0,382.2" fill="none" stroke="#1c5a10" stroke-width="0.9" stroke-linejoin="round"/>
<path d="M277.8,454.7 L282.6,454.1 L286.9,452.5 L290.5,449.8 L286.4,454.4 L282.6,456.9 L278.2,458.4 L273.3,458.7Z" fill="#1e6812" stroke="#1e6812" stroke-width="0.6" stroke-linejoin="round"/><path d="M277.8,454.7 L282.6,454.1 L286.9,452.5 L290.5,449.8 M273.3,458.7 L278.2,458.4 L282.6,456.9 L286.4,454.4" fill="none" stroke="#1c5a10" stroke-width="0.9" stroke-linejoin="round"/>
<path d="M346.0,184.0 L349.6,182.9 L354.2,182.0 L353.6,206.2 L350.3,207.3 L348.0,208.5Z" fill="#2c981a" stroke="#2c981a" stroke-width="0.6" stroke-linejoin="round"/><path d="M346.0,184.0 L349.6,182.9 L354.2,182.0 M348.0,208.5 L350.3,207.3 L353.6,206.2" fill="none" stroke="#1c5a10" stroke-width="0.9" stroke-linejoin="round"/>
<path d="M204.8,468.9 L204.9,468.1 L204.3,468.4 L227.1,482.8 L226.8,483.9 L225.6,485.9Z" fill="#1e6812" stroke="#1e6812" stroke-width="0.6" stroke-linejoin="round"/><path d="M204.8,468.9 L204.9,468.1 L204.3,468.4 M225.6,485.9 L226.8,483.9 L227.1,482.8" fill="none" stroke="#1c5a10" stroke-width="0.9" stroke-linejoin="round"/>
<path d="M201.1,527.7 L205.6,526.8 L210.5,524.9 L226.8,541.7 L222.4,542.4 L218.5,541.9Z" fill="#2c981a" stroke="#2c981a" stroke-width="0.6" stroke-linejoin="round"/><path d="M201.1,527.7 L205.6,526.8 L210.5,524.9 M218.5,541.9 L222.4,542.4 L226.8,541.7" fill="none" stroke="#1c5a10" stroke-width="0.9" stroke-linejoin="round"/>
<path d="M121.3,429.9 L118.9,435.1 L116.6,440.9 L114.7,446.9 L113.3,453.0 L112.6,458.9 L112.6,464.3 L134.8,472.4 L135.7,466.5 L137.2,460.4 L139.2,454.4 L141.5,448.7 L143.9,443.6 L146.2,439.3Z" fill="#4dff2a" stroke="#4dff2a" stroke-width="0.6" stroke-linejoin="round"/><path d="M121.3,429.9 L118.9,435.1 L116.6,440.9 L114.7,446.9 L113.3,453.0 L112.6,458.9 L112.6,464.3 M146.2,439.3 L143.9,443.6 L141.5,448.7 L139.2,454.4 L137.2,460.4 L135.7,466.5 L134.8,472.4" fill="none" stroke="#1c5a10" stroke-width="0.9" stroke-linejoin="round"/>
<path d="M142.5,361.8 L142.1,362.6 L154.0,372.0 L151.6,370.3Z" fill="#32b21c" stroke="#32b21c" stroke-width="0.6" stroke-linejoin="round"/><path d="M142.5,361.8 L142.1,362.6 M151.6,370.3 L154.0,372.0" fill="none" stroke="#1c5a10" stroke-width="0.9" stroke-linejoin="round"/>
<path d="M267.0,405.7 L262.2,407.8 L258.1,410.9 L254.9,414.8 L259.3,411.9 L264.3,410.0Z" fill="#32b21c" stroke="#32b21c" stroke-width="0.6" stroke-linejoin="round"/><path d="M267.0,405.7 L262.2,407.8 L258.1,410.9 M264.3,410.0 L259.3,411.9 L254.9,414.8" fill="none" stroke="#1c5a10" stroke-width="0.9" stroke-linejoin="round"/>
<path d="M217.4,100.2 L214.8,101.8 L217.0,123.7 L221.0,122.2Z" fill="#4af628" stroke="#4af628" stroke-width="0.6" stroke-linejoin="round"/><path d="M217.4,100.2 L214.8,101.8 M221.0,122.2 L217.0,123.7" fill="none" stroke="#1c5a10" stroke-width="0.9" stroke-linejoin="round"/>
<path d="M130.1,402.2 L131.5,403.1 L144.7,415.0 L144.4,413.1Z" fill="#32b21c" stroke="#32b21c" stroke-width="0.6" stroke-linejoin="round"/><path d="M130.1,402.2 L131.5,403.1 M144.4,413.1 L144.7,415.0" fill="none" stroke="#1c5a10" stroke-width="0.9" stroke-linejoin="round"/>
<path d="M255.3,88.2 L251.2,89.7 L254.9,111.7 L257.6,110.0Z" fill="#4af628" stroke="#4af628" stroke-width="0.6" stroke-linejoin="round"/><path d="M255.3,88.2 L251.2,89.7 M257.6,110.0 L254.9,111.7" fill="none" stroke="#1c5a10" stroke-width="0.9" stroke-linejoin="round"/>
<path d="M107.9,505.2 L102.5,505.8 L97.3,507.6 L92.8,510.5 L89.0,514.5 L85.5,518.0 L89.7,514.4 L94.6,511.7 L100.1,510.2 L105.7,509.8Z" fill="#32b21c" stroke="#32b21c" stroke-width="0.6" stroke-linejoin="round"/><path d="M107.9,505.2 L102.5,505.8 L97.3,507.6 L92.8,510.5 L89.0,514.5 M105.7,509.8 L100.1,510.2 L94.6,511.7 L89.7,514.4 L85.5,518.0" fill="none" stroke="#1c5a10" stroke-width="0.9" stroke-linejoin="round"/>
<path d="M329.1,287.3 L326.0,287.7 L323.6,287.8 L329.6,305.5 L333.0,304.9 L336.8,303.8Z" fill="#4af628" stroke="#4af628" stroke-width="0.6" stroke-linejoin="round"/><path d="M329.1,287.3 L326.0,287.7 L323.6,287.8 M336.8,303.8 L333.0,304.9 L329.6,305.5" fill="none" stroke="#1c5a10" stroke-width="0.9" stroke-linejoin="round"/>
<path d="M355.6,357.0 L353.8,359.0 L347.9,385.6 L351.7,384.3Z" fill="#42e224" stroke="#42e224" stroke-width="0.6" stroke-linejoin="round"/><path d="M355.6,357.0 L353.8,359.0 M351.7,384.3 L347.9,385.6" fill="none" stroke="#1c5a10" stroke-width="0.9" stroke-linejoin="round"/>
<path d="M301.6,430.7 L301.1,425.8 L299.4,421.0 L296.6,416.4 L293.9,421.3 L296.4,426.0 L297.9,430.9 L298.2,435.7Z" fill="#42e224" stroke="#42e224" stroke-width="0.6" stroke-linejoin="round"/><path d="M301.6,430.7 L301.1,425.8 L299.4,421.0 L296.6,416.4 M298.2,435.7 L297.9,430.9 L296.4,426.0 L293.9,421.3" fill="none" stroke="#1c5a10" stroke-width="0.9" stroke-linejoin="round"/>
<path d="M97.2,553.6 L102.2,555.7 L107.4,556.7 L112.6,556.3 L117.4,554.8 L121.8,552.2 L125.3,548.6 L121.9,552.3 L118.2,555.7 L113.7,558.1 L108.6,559.4 L103.3,559.6 L97.9,558.5 L92.9,556.2Z" fill="#1e6812" stroke="#1e6812" stroke-width="0.6" stroke-linejoin="round"/><path d="M97.2,553.6 L102.2,555.7 L107.4,556.7 L112.6,556.3 L117.4,554.8 L121.8,552.2 L125.3,548.6 M92.9,556.2 L97.9,558.5 L103.3,559.6 L108.6,559.4 L113.7,558.1 L118.2,555.7 L121.9,552.3" fill="none" stroke="#1c5a10" stroke-width="0.9" stroke-linejoin="round"/>
<path d="M215.4,151.7 L212.0,153.3 L209.7,155.0 L211.4,176.8 L215.3,175.3 L219.8,173.7Z" fill="#4af628" stroke="#4af628" stroke-width="0.6" stroke-linejoin="round"/><path d="M215.4,151.7 L212.0,153.3 L209.7,155.0 M219.8,173.7 L215.3,175.3 L211.4,176.8" fill="none" stroke="#1c5a10" stroke-width="0.9" stroke-linejoin="round"/>
<path d="M237.9,264.6 L234.5,266.7 L237.0,293.2 L238.4,291.0Z" fill="#42e224" stroke="#42e224" stroke-width="0.6" stroke-linejoin="round"/><path d="M237.9,264.6 L234.5,266.7 M238.4,291.0 L237.0,293.2" fill="none" stroke="#1c5a10" stroke-width="0.9" stroke-linejoin="round"/>
<path d="M173.3,389.8 L174.6,392.7 L186.8,401.7 L186.7,401.5Z" fill="#32b21c" stroke="#32b21c" stroke-width="0.6" stroke-linejoin="round"/><path d="M173.3,389.8 L174.6,392.7 M186.7,401.5 L186.8,401.7" fill="none" stroke="#1c5a10" stroke-width="0.9" stroke-linejoin="round"/>
<path d="M187.8,221.3 L186.4,223.5 L186.9,249.9 L190.4,247.8Z" fill="#42e224" stroke="#42e224" stroke-width="0.6" stroke-linejoin="round"/><path d="M187.8,221.3 L186.4,223.5 M190.4,247.8 L186.9,249.9" fill="none" stroke="#1c5a10" stroke-width="0.9" stroke-linejoin="round"/>
<path d="M356.6,269.5 L354.7,272.8 L352.0,275.9 L357.8,289.1 L359.3,285.8 L359.7,282.4Z" fill="#42e224" stroke="#42e224" stroke-width="0.6" stroke-linejoin="round"/><path d="M356.6,269.5 L354.7,272.8 L352.0,275.9 M359.7,282.4 L359.3,285.8 L357.8,289.1" fill="none" stroke="#1c5a10" stroke-width="0.9" stroke-linejoin="round"/>
<path d="M249.7,141.3 L245.4,142.8 L249.4,164.8 L252.3,163.2Z" fill="#4af628" stroke="#4af628" stroke-width="0.6" stroke-linejoin="round"/><path d="M249.7,141.3 L245.4,142.8 M252.3,163.2 L249.4,164.8" fill="none" stroke="#1c5a10" stroke-width="0.9" stroke-linejoin="round"/>
<path d="M243.4,203.4 L240.7,203.6 L236.4,203.6 L240.1,230.2 L242.2,226.1 L243.1,221.8Z" fill="#42e224" stroke="#42e224" stroke-width="0.6" stroke-linejoin="round"/><path d="M243.4,203.4 L240.7,203.6 L236.4,203.6 M243.1,221.8 L242.2,226.1 L240.1,230.2" fill="none" stroke="#1c5a10" stroke-width="0.9" stroke-linejoin="round"/>
<path d="M393.7,192.2 L395.5,195.8 L396.0,199.7 L400.1,217.9 L398.1,214.4 L394.9,211.3Z" fill="#1e6812" stroke="#1e6812" stroke-width="0.6" stroke-linejoin="round"/><path d="M393.7,192.2 L395.5,195.8 L396.0,199.7 M394.9,211.3 L398.1,214.4 L400.1,217.9" fill="none" stroke="#1c5a10" stroke-width="0.9" stroke-linejoin="round"/>
<path d="M133.7,529.9 L132.8,524.6 L130.8,519.5 L127.6,514.8 L123.6,510.9 L118.7,507.9 L113.4,506.0 L107.9,505.2 L105.7,509.8 L111.4,510.5 L116.7,512.5 L121.5,515.4 L125.5,519.3 L128.5,523.9 L130.3,528.9 L131.0,534.1Z" fill="#42e224" stroke="#42e224" stroke-width="0.6" stroke-linejoin="round"/><path d="M133.7,529.9 L132.8,524.6 L130.8,519.5 L127.6,514.8 L123.6,510.9 L118.7,507.9 L113.4,506.0 L107.9,505.2 M131.0,534.1 L130.3,528.9 L128.5,523.9 L125.5,519.3 L121.5,515.4 L116.7,512.5 L111.4,510.5 L105.7,509.8" fill="none" stroke="#1c5a10" stroke-width="0.9" stroke-linejoin="round"/>
<path d="M184.8,284.2 L182.5,286.4 L181.7,288.7 L181.4,315.0 L184.3,312.9 L188.5,310.8Z" fill="#42e224" stroke="#42e224" stroke-width="0.6" stroke-linejoin="round"/><path d="M184.8,284.2 L182.5,286.4 L181.7,288.7 M188.5,310.8 L184.3,312.9 L181.4,315.0" fill="none" stroke="#1c5a10" stroke-width="0.9" stroke-linejoin="round"/>
<path d="M320.9,196.8 L317.0,198.9 L312.2,200.9 L318.6,225.4 L322.0,223.4 L324.2,221.2Z" fill="#4af628" stroke="#4af628" stroke-width="0.6" stroke-linejoin="round"/><path d="M320.9,196.8 L317.0,198.9 L312.2,200.9 M324.2,221.2 L322.0,223.4 L318.6,225.4" fill="none" stroke="#1c5a10" stroke-width="0.9" stroke-linejoin="round"/>
<path d="M395.1,256.4 L390.5,259.8 L385.4,262.8 L380.2,265.3 L375.1,267.3 L370.3,268.6 L381.2,289.9 L386.4,287.8 L391.7,285.2 L396.6,282.0 L401.1,278.5 L404.8,274.6Z" fill="#4dff2a" stroke="#4dff2a" stroke-width="0.6" stroke-linejoin="round"/><path d="M395.1,256.4 L390.5,259.8 L385.4,262.8 L380.2,265.3 L375.1,267.3 L370.3,268.6 M404.8,274.6 L401.1,278.5 L396.6,282.0 L391.7,285.2 L386.4,287.8 L381.2,289.9" fill="none" stroke="#1c5a10" stroke-width="0.9" stroke-linejoin="round"/>
<path d="M277.9,273.3 L274.5,275.3 L272.2,277.5 L275.6,301.9 L279.5,299.9 L284.4,297.8Z" fill="#4af628" stroke="#4af628" stroke-width="0.6" stroke-linejoin="round"/><path d="M277.9,273.3 L274.5,275.3 L272.2,277.5 M284.4,297.8 L279.5,299.9 L275.6,301.9" fill="none" stroke="#1c5a10" stroke-width="0.9" stroke-linejoin="round"/>
<path d="M416.2,351.9 L413.3,351.4 L408.9,350.4 L406.4,378.2 L409.6,374.5 L411.6,370.4Z" fill="#42e224" stroke="#42e224" stroke-width="0.6" stroke-linejoin="round"/><path d="M416.2,351.9 L413.3,351.4 L408.9,350.4 M411.6,370.4 L409.6,374.5 L406.4,378.2" fill="none" stroke="#1c5a10" stroke-width="0.9" stroke-linejoin="round"/>
<path d="M319.5,256.8 L315.5,258.9 L310.6,260.9 L317.2,285.5 L320.6,283.4 L323.0,281.3Z" fill="#4af628" stroke="#4af628" stroke-width="0.6" stroke-linejoin="round"/><path d="M319.5,256.8 L315.5,258.9 L310.6,260.9 M323.0,281.3 L320.6,283.4 L317.2,285.5" fill="none" stroke="#1c5a10" stroke-width="0.9" stroke-linejoin="round"/>
<path d="M279.3,213.2 L275.8,215.3 L273.4,217.4 L277.0,241.9 L281.0,239.8 L286.0,237.8Z" fill="#4af628" stroke="#4af628" stroke-width="0.6" stroke-linejoin="round"/><path d="M279.3,213.2 L275.8,215.3 L273.4,217.4 M286.0,237.8 L281.0,239.8 L277.0,241.9" fill="none" stroke="#1c5a10" stroke-width="0.9" stroke-linejoin="round"/>
<path d="M66.0,413.3 L61.2,415.1 L65.5,441.0 L68.5,439.0Z" fill="#4af628" stroke="#4af628" stroke-width="0.6" stroke-linejoin="round"/><path d="M66.0,413.3 L61.2,415.1 M68.5,439.0 L65.5,441.0" fill="none" stroke="#1c5a10" stroke-width="0.9" stroke-linejoin="round"/>
<path d="M318.1,316.8 L313.9,318.9 L308.9,321.0 L315.7,345.5 L319.3,343.4 L321.8,341.3Z" fill="#4af628" stroke="#4af628" stroke-width="0.6" stroke-linejoin="round"/><path d="M318.1,316.8 L313.9,318.9 L308.9,321.0 M321.8,341.3 L319.3,343.4 L315.7,345.5" fill="none" stroke="#1c5a10" stroke-width="0.9" stroke-linejoin="round"/>
<path d="M21.4,427.4 L18.3,429.4 L20.9,455.1 L25.7,453.2Z" fill="#4af628" stroke="#4af628" stroke-width="0.6" stroke-linejoin="round"/><path d="M21.4,427.4 L18.3,429.4 M25.7,453.2 L20.9,455.1" fill="none" stroke="#1c5a10" stroke-width="0.9" stroke-linejoin="round"/>
<path d="M280.8,153.2 L277.1,155.3 L274.6,157.4 L278.4,181.9 L282.6,179.8 L287.6,177.7Z" fill="#4af628" stroke="#4af628" stroke-width="0.6" stroke-linejoin="round"/><path d="M280.8,153.2 L277.1,155.3 L274.6,157.4 M287.6,177.7 L282.6,179.8 L278.4,181.9" fill="none" stroke="#1c5a10" stroke-width="0.9" stroke-linejoin="round"/>
<path d="M395.2,412.7 L390.8,413.9 L387.7,441.4 L390.1,439.6Z" fill="#42e224" stroke="#42e224" stroke-width="0.6" stroke-linejoin="round"/><path d="M395.2,412.7 L390.8,413.9 M390.1,439.6 L387.7,441.4" fill="none" stroke="#1c5a10" stroke-width="0.9" stroke-linejoin="round"/>
<path d="M232.1,329.7 L228.2,331.7 L231.5,358.3 L233.5,356.1Z" fill="#42e224" stroke="#42e224" stroke-width="0.6" stroke-linejoin="round"/><path d="M232.1,329.7 L228.2,331.7 M233.5,356.1 L231.5,358.3" fill="none" stroke="#1c5a10" stroke-width="0.9" stroke-linejoin="round"/>
<path d="M18.8,488.0 L14.9,489.9 L12.1,491.9 L14.2,517.5 L18.6,515.7 L24.0,513.9Z" fill="#4af628" stroke="#4af628" stroke-width="0.6" stroke-linejoin="round"/><path d="M18.8,488.0 L14.9,489.9 L12.1,491.9 M24.0,513.9 L18.6,515.7 L14.2,517.5" fill="none" stroke="#1c5a10" stroke-width="0.9" stroke-linejoin="round"/>
<path d="M151.4,494.4 L153.1,498.1 L155.6,500.8 L174.8,512.1 L173.3,508.2 L172.6,503.4Z" fill="#42e224" stroke="#42e224" stroke-width="0.6" stroke-linejoin="round"/><path d="M151.4,494.4 L153.1,498.1 L155.6,500.8 M172.6,503.4 L173.3,508.2 L174.8,512.1" fill="none" stroke="#1c5a10" stroke-width="0.9" stroke-linejoin="round"/>
<path d="M318.5,138.8 L313.7,140.9 L320.1,165.4 L323.3,163.3Z" fill="#4af628" stroke="#4af628" stroke-width="0.6" stroke-linejoin="round"/><path d="M318.5,138.8 L313.7,140.9 M323.3,163.3 L320.1,165.4" fill="none" stroke="#1c5a10" stroke-width="0.9" stroke-linejoin="round"/>
<path d="M276.4,333.3 L273.1,335.4 L278.0,359.9 L282.8,357.8Z" fill="#4af628" stroke="#4af628" stroke-width="0.6" stroke-linejoin="round"/><path d="M276.4,333.3 L273.1,335.4 M282.8,357.8 L278.0,359.9" fill="none" stroke="#1c5a10" stroke-width="0.9" stroke-linejoin="round"/>
<path d="M59.1,475.8 L54.1,477.6 L58.8,503.4 L62.2,501.5Z" fill="#4af628" stroke="#4af628" stroke-width="0.6" stroke-linejoin="round"/><path d="M59.1,475.8 L54.1,477.6 M62.2,501.5 L58.8,503.4" fill="none" stroke="#1c5a10" stroke-width="0.9" stroke-linejoin="round"/>
<path d="M283.1,406.6 L277.7,405.1 L272.2,404.8 L267.0,405.7 L264.3,410.0 L269.7,409.2 L275.3,409.5 L280.8,411.0Z" fill="#42e224" stroke="#42e224" stroke-width="0.6" stroke-linejoin="round"/><path d="M283.1,406.6 L277.7,405.1 L272.2,404.8 L267.0,405.7 M280.8,411.0 L275.3,409.5 L269.7,409.2 L264.3,410.0" fill="none" stroke="#1c5a10" stroke-width="0.9" stroke-linejoin="round"/>
<path d="M237.0,345.0 L232.4,347.1 L231.6,372.3 L234.3,369.6Z" fill="#42e224" stroke="#42e224" stroke-width="0.6" stroke-linejoin="round"/><path d="M237.0,345.0 L232.4,347.1 M234.3,369.6 L231.6,372.3" fill="none" stroke="#1c5a10" stroke-width="0.9" stroke-linejoin="round"/>
<path d="M129.5,400.6 L130.1,402.2 L144.4,413.1 L144.6,410.4Z" fill="#42e224" stroke="#42e224" stroke-width="0.6" stroke-linejoin="round"/><path d="M129.5,400.6 L130.1,402.2 M144.6,410.4 L144.4,413.1" fill="none" stroke="#1c5a10" stroke-width="0.9" stroke-linejoin="round"/>
<path d="M209.2,410.9 L202.7,412.1 L196.0,412.9 L189.2,413.5 L182.9,416.1 L177.2,418.5 L172.1,421.0 L172.4,436.4 L178.5,438.1 L185.2,439.7 L192.2,441.1 L198.9,440.1 L205.1,438.7 L210.5,437.0Z" fill="#4dff2a" stroke="#4dff2a" stroke-width="0.6" stroke-linejoin="round"/><path d="M209.2,410.9 L202.7,412.1 L196.0,412.9 L189.2,413.5 L182.9,416.1 L177.2,418.5 L172.1,421.0 M210.5,437.0 L205.1,438.7 L198.9,440.1 L192.2,441.1 L185.2,439.7 L178.5,438.1 L172.4,436.4" fill="none" stroke="#1c5a10" stroke-width="0.9" stroke-linejoin="round"/>
<path d="M352.0,275.9 L348.7,278.8 L355.6,292.3 L357.8,289.1Z" fill="#4af628" stroke="#4af628" stroke-width="0.6" stroke-linejoin="round"/><path d="M352.0,275.9 L348.7,278.8 M357.8,289.1 L355.6,292.3" fill="none" stroke="#1c5a10" stroke-width="0.9" stroke-linejoin="round"/>
<path d="M244.8,434.0 L244.9,439.7 L246.1,445.3 L248.4,450.6 L246.7,451.8 L243.9,447.0 L242.1,441.9 L241.6,436.7Z" fill="#2c981a" stroke="#2c981a" stroke-width="0.6" stroke-linejoin="round"/><path d="M244.8,434.0 L244.9,439.7 L246.1,445.3 L248.4,450.6 M241.6,436.7 L242.1,441.9 L243.9,447.0 L246.7,451.8" fill="none" stroke="#1c5a10" stroke-width="0.9" stroke-linejoin="round"/>
<path d="M296.6,416.4 L292.8,412.3 L288.3,409.0 L283.1,406.6 L280.8,411.0 L285.9,413.6 L290.3,417.1 L293.9,421.3Z" fill="#4af628" stroke="#4af628" stroke-width="0.6" stroke-linejoin="round"/><path d="M296.6,416.4 L292.8,412.3 L288.3,409.0 L283.1,406.6 M293.9,421.3 L290.3,417.1 L285.9,413.6 L280.8,411.0" fill="none" stroke="#1c5a10" stroke-width="0.9" stroke-linejoin="round"/>
<path d="M174.6,392.7 L175.4,396.1 L186.2,402.8 L186.8,401.7Z" fill="#42e224" stroke="#42e224" stroke-width="0.6" stroke-linejoin="round"/><path d="M174.6,392.7 L175.4,396.1 M186.8,401.7 L186.2,402.8" fill="none" stroke="#1c5a10" stroke-width="0.9" stroke-linejoin="round"/>
<path d="M142.1,362.6 L140.9,364.3 L140.2,367.4 L156.0,376.5 L155.9,374.3 L154.0,372.0Z" fill="#42e224" stroke="#42e224" stroke-width="0.6" stroke-linejoin="round"/><path d="M142.1,362.6 L140.9,364.3 L140.2,367.4 M154.0,372.0 L155.9,374.3 L156.0,376.5" fill="none" stroke="#1c5a10" stroke-width="0.9" stroke-linejoin="round"/>
<path d="M354.2,228.9 L351.9,228.6 L350.8,227.9 L357.3,251.7 L359.9,251.9 L363.4,251.6Z" fill="#42e224" stroke="#42e224" stroke-width="0.6" stroke-linejoin="round"/><path d="M354.2,228.9 L351.9,228.6 L350.8,227.9 M363.4,251.6 L359.9,251.9 L357.3,251.7" fill="none" stroke="#1c5a10" stroke-width="0.9" stroke-linejoin="round"/>
<path d="M197.1,527.4 L201.1,527.7 L218.5,541.9 L215.3,540.3Z" fill="#1e6812" stroke="#1e6812" stroke-width="0.6" stroke-linejoin="round"/><path d="M197.1,527.4 L201.1,527.7 M215.3,540.3 L218.5,541.9" fill="none" stroke="#1c5a10" stroke-width="0.9" stroke-linejoin="round"/>
<path d="M163.5,447.2 L161.3,450.8 L159.0,455.4 L184.0,464.7 L186.0,461.3 L187.7,458.9Z" fill="#4af628" stroke="#4af628" stroke-width="0.6" stroke-linejoin="round"/><path d="M163.5,447.2 L161.3,450.8 L159.0,455.4 M187.7,458.9 L186.0,461.3 L184.0,464.7" fill="none" stroke="#1c5a10" stroke-width="0.9" stroke-linejoin="round"/>
<path d="M348.7,278.8 L344.9,281.3 L340.8,283.5 L336.7,285.2 L332.7,286.5 L329.1,287.3 L336.8,303.8 L340.9,302.3 L345.0,300.4 L349.0,298.1 L352.6,295.3 L355.6,292.3Z" fill="#4dff2a" stroke="#4dff2a" stroke-width="0.6" stroke-linejoin="round"/><path d="M348.7,278.8 L344.9,281.3 L340.8,283.5 L336.7,285.2 L332.7,286.5 L329.1,287.3 M355.6,292.3 L352.6,295.3 L349.0,298.1 L345.0,300.4 L340.9,302.3 L336.8,303.8" fill="none" stroke="#1c5a10" stroke-width="0.9" stroke-linejoin="round"/>
<path d="M213.0,200.0 C212.7,195.0 211.2,181.7 211.0,170.0 C210.8,158.3 211.0,141.7 212.0,130.0 C213.0,118.3 214.0,107.7 217.0,100.0 C220.0,92.3 224.8,87.3 230.0,84.0 C235.2,80.7 242.7,80.0 248.0,80.0 C253.3,80.0 260.0,80.7 262.0,84.0 C264.0,87.3 260.3,97.3 260.0,100.0" fill="none" stroke="#1c5a10" stroke-width="5.0" stroke-linecap="round" stroke-linejoin="round"/><path d="M213.0,200.0 C212.7,195.0 211.2,181.7 211.0,170.0 C210.8,158.3 211.0,141.7 212.0,130.0 C213.0,118.3 214.0,107.7 217.0,100.0 C220.0,92.3 224.8,87.3 230.0,84.0 C235.2,80.7 242.7,80.0 248.0,80.0 C253.3,80.0 260.0,80.7 262.0,84.0 C264.0,87.3 260.3,97.3 260.0,100.0" fill="none" stroke="#4cf22c" stroke-width="3.4" stroke-linecap="round" stroke-linejoin="round"/>
<path d="M262.0,440.0 C258.3,443.0 247.7,453.0 240.0,458.0 C232.3,463.0 220.0,468.0 216.0,470.0" fill="none" stroke="#1c5a10" stroke-width="7.6" stroke-linecap="round" stroke-linejoin="round"/><path d="M262.0,440.0 C258.3,443.0 247.7,453.0 240.0,458.0 C232.3,463.0 220.0,468.0 216.0,470.0" fill="none" stroke="#4cf22c" stroke-width="6" stroke-linecap="round" stroke-linejoin="round"/>
<path d="M251.2,89.7 L246.4,91.2 L241.2,92.7 L235.8,94.1 L230.4,95.6 L225.4,97.0 L221.0,98.6 L217.4,100.2 L221.0,122.2 L225.8,120.7 L231.0,119.2 L236.4,117.8 L241.7,116.3 L246.7,114.8 L251.2,113.3 L254.9,111.7Z" fill="#4dff2a" stroke="#4dff2a" stroke-width="0.6" stroke-linejoin="round"/><path d="M251.2,89.7 L246.4,91.2 L241.2,92.7 L235.8,94.1 L230.4,95.6 L225.4,97.0 L221.0,98.6 L217.4,100.2 M254.9,111.7 L251.2,113.3 L246.7,114.8 L241.7,116.3 L236.4,117.8 L231.0,119.2 L225.8,120.7 L221.0,122.2" fill="none" stroke="#1c5a10" stroke-width="0.9" stroke-linejoin="round"/>
<path d="M189.1,352.9 L184.8,353.4 L181.8,354.1 L179.7,381.7 L184.5,381.2 L190.2,380.9Z" fill="#4af628" stroke="#4af628" stroke-width="0.6" stroke-linejoin="round"/><path d="M189.1,352.9 L184.8,353.4 L181.8,354.1 M190.2,380.9 L184.5,381.2 L179.7,381.7" fill="none" stroke="#1c5a10" stroke-width="0.9" stroke-linejoin="round"/>
<path d="M245.4,142.8 L240.4,144.3 L235.1,145.7 L229.7,147.2 L224.4,148.6 L219.6,150.1 L215.4,151.7 L219.8,173.7 L224.9,172.3 L230.3,170.8 L235.7,169.4 L240.8,167.9 L245.5,166.4 L249.4,164.8Z" fill="#4dff2a" stroke="#4dff2a" stroke-width="0.6" stroke-linejoin="round"/><path d="M245.4,142.8 L240.4,144.3 L235.1,145.7 L229.7,147.2 L224.4,148.6 L219.6,150.1 L215.4,151.7 M249.4,164.8 L245.5,166.4 L240.8,167.9 L235.7,169.4 L230.3,170.8 L224.9,172.3 L219.8,173.7" fill="none" stroke="#1c5a10" stroke-width="0.9" stroke-linejoin="round"/>
<path d="M396.0,199.7 L395.3,203.7 L400.9,221.7 L400.1,217.9Z" fill="#32b21c" stroke="#32b21c" stroke-width="0.6" stroke-linejoin="round"/><path d="M396.0,199.7 L395.3,203.7 M400.1,217.9 L400.9,221.7" fill="none" stroke="#1c5a10" stroke-width="0.9" stroke-linejoin="round"/>
<path d="M204.3,468.4 L203.1,469.9 L226.7,482.9 L227.1,482.8Z" fill="#32b21c" stroke="#32b21c" stroke-width="0.6" stroke-linejoin="round"/><path d="M204.3,468.4 L203.1,469.9 M227.1,482.8 L226.7,482.9" fill="none" stroke="#1c5a10" stroke-width="0.9" stroke-linejoin="round"/>
<path d="M290.5,449.8 L293.2,446.2 L294.7,441.9 L295.2,437.2 L291.7,442.3 L291.1,446.9 L289.2,451.0 L286.4,454.4Z" fill="#32b21c" stroke="#32b21c" stroke-width="0.6" stroke-linejoin="round"/><path d="M290.5,449.8 L293.2,446.2 L294.7,441.9 L295.2,437.2 M286.4,454.4 L289.2,451.0 L291.1,446.9 L291.7,442.3" fill="none" stroke="#1c5a10" stroke-width="0.9" stroke-linejoin="round"/>
<path d="M350.1,147.9 L355.7,145.9 L361.7,144.4 L367.6,143.6 L373.2,143.5 L378.0,145.6 L376.9,166.1 L371.4,164.7 L365.7,162.3 L360.1,160.3 L354.6,158.7 L349.5,157.4Z" fill="#3ac420" stroke="#3ac420" stroke-width="0.6" stroke-linejoin="round"/><path d="M350.1,147.9 L355.7,145.9 L361.7,144.4 L367.6,143.6 L373.2,143.5 L378.0,145.6 M349.5,157.4 L354.6,158.7 L360.1,160.3 L365.7,162.3 L371.4,164.7 L376.9,166.1" fill="none" stroke="#1c5a10" stroke-width="0.9" stroke-linejoin="round"/>
<path d="M228.2,331.7 L223.1,333.7 L228.2,360.4 L231.5,358.3Z" fill="#4af628" stroke="#4af628" stroke-width="0.6" stroke-linejoin="round"/><path d="M228.2,331.7 L223.1,333.7 M231.5,358.3 L228.2,360.4" fill="none" stroke="#1c5a10" stroke-width="0.9" stroke-linejoin="round"/>
<path d="M342.2,186.3 L343.5,185.2 L346.0,184.0 L348.0,208.5 L347.0,209.6 L347.2,210.5Z" fill="#1e6812" stroke="#1e6812" stroke-width="0.6" stroke-linejoin="round"/><path d="M342.2,186.3 L343.5,185.2 L346.0,184.0 M347.2,210.5 L347.0,209.6 L348.0,208.5" fill="none" stroke="#1c5a10" stroke-width="0.9" stroke-linejoin="round"/>
<path d="M390.8,413.9 L385.3,414.7 L383.9,442.8 L387.7,441.4Z" fill="#4af628" stroke="#4af628" stroke-width="0.6" stroke-linejoin="round"/><path d="M390.8,413.9 L385.3,414.7 M387.7,441.4 L383.9,442.8" fill="none" stroke="#1c5a10" stroke-width="0.9" stroke-linejoin="round"/>
<path d="M234.5,266.7 L229.9,268.7 L224.3,270.6 L230.2,297.4 L234.2,295.3 L237.0,293.2Z" fill="#4af628" stroke="#4af628" stroke-width="0.6" stroke-linejoin="round"/><path d="M234.5,266.7 L229.9,268.7 L224.3,270.6 M237.0,293.2 L234.2,295.3 L230.2,297.4" fill="none" stroke="#1c5a10" stroke-width="0.9" stroke-linejoin="round"/>
<path d="M194.7,217.1 L190.6,219.1 L187.8,221.3 L190.4,247.8 L195.0,245.8 L200.6,243.8Z" fill="#4af628" stroke="#4af628" stroke-width="0.6" stroke-linejoin="round"/><path d="M194.7,217.1 L190.6,219.1 L187.8,221.3 M200.6,243.8 L195.0,245.8 L190.4,247.8" fill="none" stroke="#1c5a10" stroke-width="0.9" stroke-linejoin="round"/>
<path d="M363.3,354.2 L358.8,355.4 L355.6,357.0 L351.7,384.3 L356.8,383.3 L362.8,382.6Z" fill="#4af628" stroke="#4af628" stroke-width="0.6" stroke-linejoin="round"/><path d="M363.3,354.2 L358.8,355.4 L355.6,357.0 M362.8,382.6 L356.8,383.3 L351.7,384.3" fill="none" stroke="#1c5a10" stroke-width="0.9" stroke-linejoin="round"/>
<path d="M232.4,347.1 L226.9,348.7 L227.7,374.6 L231.6,372.3Z" fill="#4af628" stroke="#4af628" stroke-width="0.6" stroke-linejoin="round"/><path d="M232.4,347.1 L226.9,348.7 M231.6,372.3 L227.7,374.6" fill="none" stroke="#1c5a10" stroke-width="0.9" stroke-linejoin="round"/>
<path d="M313.7,140.9 L308.3,142.9 L302.5,145.0 L296.5,147.0 L290.7,149.1 L285.4,151.1 L280.8,153.2 L287.6,177.7 L293.2,175.7 L299.1,173.6 L305.1,171.6 L310.7,169.5 L315.8,167.5 L320.1,165.4Z" fill="#4dff2a" stroke="#4dff2a" stroke-width="0.6" stroke-linejoin="round"/><path d="M313.7,140.9 L308.3,142.9 L302.5,145.0 L296.5,147.0 L290.7,149.1 L285.4,151.1 L280.8,153.2 M320.1,165.4 L315.8,167.5 L310.7,169.5 L305.1,171.6 L299.1,173.6 L293.2,175.7 L287.6,177.7" fill="none" stroke="#1c5a10" stroke-width="0.9" stroke-linejoin="round"/>
<path d="M308.9,321.0 L303.4,323.0 L297.4,325.1 L291.5,327.1 L285.8,329.2 L280.7,331.2 L276.4,333.3 L282.8,357.8 L288.2,355.8 L294.1,353.7 L300.0,351.7 L305.8,349.6 L311.1,347.6 L315.7,345.5Z" fill="#4dff2a" stroke="#4dff2a" stroke-width="0.6" stroke-linejoin="round"/><path d="M308.9,321.0 L303.4,323.0 L297.4,325.1 L291.5,327.1 L285.8,329.2 L280.7,331.2 L276.4,333.3 M315.7,345.5 L311.1,347.6 L305.8,349.6 L300.0,351.7 L294.1,353.7 L288.2,355.8 L282.8,357.8" fill="none" stroke="#1c5a10" stroke-width="0.9" stroke-linejoin="round"/>
<path d="M312.2,200.9 L306.7,203.0 L300.8,205.0 L294.9,207.1 L289.1,209.1 L283.8,211.2 L279.3,213.2 L286.0,237.8 L291.5,235.7 L297.4,233.7 L303.4,231.6 L309.1,229.6 L314.2,227.5 L318.6,225.4Z" fill="#4dff2a" stroke="#4dff2a" stroke-width="0.6" stroke-linejoin="round"/><path d="M312.2,200.9 L306.7,203.0 L300.8,205.0 L294.9,207.1 L289.1,209.1 L283.8,211.2 L279.3,213.2 M318.6,225.4 L314.2,227.5 L309.1,229.6 L303.4,231.6 L297.4,233.7 L291.5,235.7 L286.0,237.8" fill="none" stroke="#1c5a10" stroke-width="0.9" stroke-linejoin="round"/>
<path d="M310.6,260.9 L305.0,263.0 L299.1,265.0 L293.2,267.1 L287.5,269.1 L282.3,271.2 L277.9,273.3 L284.4,297.8 L289.9,295.7 L295.7,293.7 L301.7,291.6 L307.4,289.6 L312.7,287.5 L317.2,285.5Z" fill="#4dff2a" stroke="#4dff2a" stroke-width="0.6" stroke-linejoin="round"/><path d="M310.6,260.9 L305.0,263.0 L299.1,265.0 L293.2,267.1 L287.5,269.1 L282.3,271.2 L277.9,273.3 M317.2,285.5 L312.7,287.5 L307.4,289.6 L301.7,291.6 L295.7,293.7 L289.9,295.7 L284.4,297.8" fill="none" stroke="#1c5a10" stroke-width="0.9" stroke-linejoin="round"/>
<path d="M236.4,203.6 L231.2,205.6 L236.5,232.3 L240.1,230.2Z" fill="#4af628" stroke="#4af628" stroke-width="0.6" stroke-linejoin="round"/><path d="M236.4,203.6 L231.2,205.6 M240.1,230.2 L236.5,232.3" fill="none" stroke="#1c5a10" stroke-width="0.9" stroke-linejoin="round"/>
<path d="M61.2,415.1 L55.7,416.9 L49.5,418.6 L43.2,420.3 L36.9,422.0 L31.0,423.7 L25.7,425.5 L21.4,427.4 L25.7,453.2 L31.3,451.5 L37.5,449.8 L43.9,448.1 L50.1,446.4 L56.0,444.6 L61.2,442.8 L65.5,441.0Z" fill="#4dff2a" stroke="#4dff2a" stroke-width="0.6" stroke-linejoin="round"/><path d="M61.2,415.1 L55.7,416.9 L49.5,418.6 L43.2,420.3 L36.9,422.0 L31.0,423.7 L25.7,425.5 L21.4,427.4 M65.5,441.0 L61.2,442.8 L56.0,444.6 L50.1,446.4 L43.9,448.1 L37.5,449.8 L31.3,451.5 L25.7,453.2" fill="none" stroke="#1c5a10" stroke-width="0.9" stroke-linejoin="round"/>
<path d="M188.4,282.1 L184.8,284.2 L188.5,310.8 L193.7,308.9Z" fill="#4af628" stroke="#4af628" stroke-width="0.6" stroke-linejoin="round"/><path d="M188.4,282.1 L184.8,284.2 M193.7,308.9 L188.5,310.8" fill="none" stroke="#1c5a10" stroke-width="0.9" stroke-linejoin="round"/>
<path d="M130.0,395.3 L129.4,398.3 L129.5,400.6 L144.6,410.4 L145.4,407.2 L146.7,403.4Z" fill="#4af628" stroke="#4af628" stroke-width="0.6" stroke-linejoin="round"/><path d="M130.0,395.3 L129.4,398.3 L129.5,400.6 M146.7,403.4 L145.4,407.2 L144.6,410.4" fill="none" stroke="#1c5a10" stroke-width="0.9" stroke-linejoin="round"/>
<path d="M250.8,419.3 L247.8,423.5 L245.9,428.4 L244.8,434.0 L241.6,436.7 L242.3,431.8 L244.4,427.1 L247.7,423.1Z" fill="#1e6812" stroke="#1e6812" stroke-width="0.6" stroke-linejoin="round"/><path d="M250.8,419.3 L247.8,423.5 L245.9,428.4 L244.8,434.0 M247.7,423.1 L244.4,427.1 L242.3,431.8 L241.6,436.7" fill="none" stroke="#1c5a10" stroke-width="0.9" stroke-linejoin="round"/>
<path d="M150.5,489.8 L151.4,494.4 L172.6,503.4 L172.7,498.0Z" fill="#4af628" stroke="#4af628" stroke-width="0.6" stroke-linejoin="round"/><path d="M150.5,489.8 L151.4,494.4 M172.7,498.0 L172.6,503.4" fill="none" stroke="#1c5a10" stroke-width="0.9" stroke-linejoin="round"/>
<path d="M54.1,477.6 L48.3,479.3 L42.1,481.0 L35.7,482.7 L29.5,484.4 L23.8,486.2 L18.8,488.0 L24.0,513.9 L30.0,512.2 L36.4,510.5 L42.7,508.8 L48.7,507.1 L54.2,505.3 L58.8,503.4Z" fill="#4dff2a" stroke="#4dff2a" stroke-width="0.6" stroke-linejoin="round"/><path d="M54.1,477.6 L48.3,479.3 L42.1,481.0 L35.7,482.7 L29.5,484.4 L23.8,486.2 L18.8,488.0 M58.8,503.4 L54.2,505.3 L48.7,507.1 L42.7,508.8 L36.4,510.5 L30.0,512.2 L24.0,513.9" fill="none" stroke="#1c5a10" stroke-width="0.9" stroke-linejoin="round"/>
<path d="M408.9,350.4 L403.1,351.2 L402.2,379.4 L406.4,378.2Z" fill="#4af628" stroke="#4af628" stroke-width="0.6" stroke-linejoin="round"/><path d="M408.9,350.4 L403.1,351.2 M406.4,378.2 L402.2,379.4" fill="none" stroke="#1c5a10" stroke-width="0.9" stroke-linejoin="round"/>
<path d="M175.4,396.1 L175.9,400.0 L176.0,404.2 L182.7,407.4 L184.8,404.8 L186.2,402.8Z" fill="#4af628" stroke="#4af628" stroke-width="0.6" stroke-linejoin="round"/><path d="M175.4,396.1 L175.9,400.0 L176.0,404.2 M186.2,402.8 L184.8,404.8 L182.7,407.4" fill="none" stroke="#1c5a10" stroke-width="0.9" stroke-linejoin="round"/>
<path d="M140.2,367.4 L139.0,371.1 L155.6,379.3 L156.0,376.5Z" fill="#4af628" stroke="#4af628" stroke-width="0.6" stroke-linejoin="round"/><path d="M140.2,367.4 L139.0,371.1 M156.0,376.5 L155.6,379.3" fill="none" stroke="#1c5a10" stroke-width="0.9" stroke-linejoin="round"/>
<path d="M298.0,128.0 C297.2,131.0 295.7,142.2 293.0,146.0 C290.3,149.8 285.8,149.8 282.0,151.0 C278.2,152.2 274.0,149.5 270.0,153.0 C266.0,156.5 262.0,164.8 258.0,172.0 C254.0,179.2 249.3,189.3 246.0,196.0 C242.7,202.7 239.3,209.3 238.0,212.0" fill="none" stroke="#1c5a10" stroke-width="5.0" stroke-linecap="round" stroke-linejoin="round"/><path d="M298.0,128.0 C297.2,131.0 295.7,142.2 293.0,146.0 C290.3,149.8 285.8,149.8 282.0,151.0 C278.2,152.2 274.0,149.5 270.0,153.0 C266.0,156.5 262.0,164.8 258.0,172.0 C254.0,179.2 249.3,189.3 246.0,196.0 C242.7,202.7 239.3,209.3 238.0,212.0" fill="none" stroke="#4cf22c" stroke-width="3.4" stroke-linecap="round" stroke-linejoin="round"/>
<path d="M125.3,548.6 L127.8,544.1 L129.2,539.2 L129.5,533.9 L126.8,538.1 L126.3,543.2 L124.7,548.0 L121.9,552.3Z" fill="#32b21c" stroke="#32b21c" stroke-width="0.6" stroke-linejoin="round"/><path d="M125.3,548.6 L127.8,544.1 L129.2,539.2 L129.5,533.9 M121.9,552.3 L124.7,548.0 L126.3,543.2 L126.8,538.1" fill="none" stroke="#1c5a10" stroke-width="0.9" stroke-linejoin="round"/>
<path d="M378.0,145.6 L382.0,148.3 L384.9,151.5 L386.1,170.6 L381.9,168.1 L376.9,166.1Z" fill="#2c981a" stroke="#2c981a" stroke-width="0.6" stroke-linejoin="round"/><path d="M378.0,145.6 L382.0,148.3 L384.9,151.5 M376.9,166.1 L381.9,168.1 L386.1,170.6" fill="none" stroke="#1c5a10" stroke-width="0.9" stroke-linejoin="round"/>
<path d="M191.1,523.4 L193.7,526.0 L197.1,527.4 L215.3,540.3 L212.9,537.5 L211.3,533.6Z" fill="#32b21c" stroke="#32b21c" stroke-width="0.6" stroke-linejoin="round"/><path d="M191.1,523.4 L193.7,526.0 L197.1,527.4 M211.3,533.6 L212.9,537.5 L215.3,540.3" fill="none" stroke="#1c5a10" stroke-width="0.9" stroke-linejoin="round"/>
<path d="M395.3,203.7 L393.4,207.8 L390.4,211.8 L398.9,229.8 L400.5,225.7 L400.9,221.7Z" fill="#42e224" stroke="#42e224" stroke-width="0.6" stroke-linejoin="round"/><path d="M395.3,203.7 L393.4,207.8 L390.4,211.8 M400.9,221.7 L400.5,225.7 L398.9,229.8" fill="none" stroke="#1c5a10" stroke-width="0.9" stroke-linejoin="round"/>
<path d="M203.1,469.9 L201.3,472.5 L225.5,484.2 L226.7,482.9Z" fill="#42e224" stroke="#42e224" stroke-width="0.6" stroke-linejoin="round"/><path d="M203.1,469.9 L201.3,472.5 M226.7,482.9 L225.5,484.2" fill="none" stroke="#1c5a10" stroke-width="0.9" stroke-linejoin="round"/>
<path d="M83.6,520.3 L80.5,525.3 L79.0,526.5 L81.7,522.2Z" fill="#1e6812" stroke="#1e6812" stroke-width="0.6" stroke-linejoin="round"/><path d="M83.6,520.3 L80.5,525.3 M81.7,522.2 L79.0,526.5" fill="none" stroke="#1c5a10" stroke-width="0.9" stroke-linejoin="round"/>
<path d="M159.0,455.4 L156.6,460.6 L154.4,466.4 L152.5,472.5 L151.2,478.6 L150.5,484.4 L150.5,489.8 L172.7,498.0 L173.6,492.1 L175.0,486.0 L177.0,479.9 L179.2,474.2 L181.6,469.0 L184.0,464.7Z" fill="#4dff2a" stroke="#4dff2a" stroke-width="0.6" stroke-linejoin="round"/><path d="M159.0,455.4 L156.6,460.6 L154.4,466.4 L152.5,472.5 L151.2,478.6 L150.5,484.4 L150.5,489.8 M184.0,464.7 L181.6,469.0 L179.2,474.2 L177.0,479.9 L175.0,486.0 L173.6,492.1 L172.7,498.0" fill="none" stroke="#1c5a10" stroke-width="0.9" stroke-linejoin="round"/>
<path d="M226.9,348.7 L220.6,350.0 L213.9,351.0 L207.1,351.6 L200.5,352.1 L194.4,352.5 L189.1,352.9 L190.2,380.9 L196.6,380.4 L203.4,379.9 L210.2,379.1 L216.7,377.9 L222.6,376.5 L227.7,374.6Z" fill="#4dff2a" stroke="#4dff2a" stroke-width="0.6" stroke-linejoin="round"/><path d="M226.9,348.7 L220.6,350.0 L213.9,351.0 L207.1,351.6 L200.5,352.1 L194.4,352.5 L189.1,352.9 M227.7,374.6 L222.6,376.5 L216.7,377.9 L210.2,379.1 L203.4,379.9 L196.6,380.4 L190.2,380.9" fill="none" stroke="#1c5a10" stroke-width="0.9" stroke-linejoin="round"/>
<path d="M361.7,227.9 L357.5,228.7 L354.2,228.9 L363.4,251.6 L367.7,250.7 L372.6,249.2Z" fill="#4af628" stroke="#4af628" stroke-width="0.6" stroke-linejoin="round"/><path d="M361.7,227.9 L357.5,228.7 L354.2,228.9 M372.6,249.2 L367.7,250.7 L363.4,251.6" fill="none" stroke="#1c5a10" stroke-width="0.9" stroke-linejoin="round"/>
<path d="M139.0,371.1 L137.5,375.1 L135.8,379.4 L134.1,383.7 L132.4,387.9 L131.0,391.8 L130.0,395.3 L146.7,403.4 L148.2,399.3 L149.9,395.1 L151.7,390.8 L153.3,386.6 L154.7,382.7 L155.6,379.3Z" fill="#4dff2a" stroke="#4dff2a" stroke-width="0.6" stroke-linejoin="round"/><path d="M139.0,371.1 L137.5,375.1 L135.8,379.4 L134.1,383.7 L132.4,387.9 L131.0,391.8 L130.0,395.3 M155.6,379.3 L154.7,382.7 L153.3,386.6 L151.7,390.8 L149.9,395.1 L148.2,399.3 L146.7,403.4" fill="none" stroke="#1c5a10" stroke-width="0.9" stroke-linejoin="round"/>
<path d="M223.1,333.7 L217.3,335.6 L210.9,337.5 L204.3,339.4 L198.4,343.3 L192.9,347.2 L187.9,351.2 L183.6,355.2 L185.5,365.9 L191.2,365.9 L197.8,366.0 L204.9,366.2 L212.0,366.3 L218.2,364.4 L223.7,362.5 L228.2,360.4Z" fill="#4dff2a" stroke="#4dff2a" stroke-width="0.6" stroke-linejoin="round"/><path d="M223.1,333.7 L217.3,335.6 L210.9,337.5 L204.3,339.4 L198.4,343.3 L192.9,347.2 L187.9,351.2 L183.6,355.2 M228.2,360.4 L223.7,362.5 L218.2,364.4 L212.0,366.3 L204.9,366.2 L197.8,366.0 L191.2,365.9 L185.5,365.9" fill="none" stroke="#1c5a10" stroke-width="0.9" stroke-linejoin="round"/>
<path d="M259.4,413.6 L254.8,415.9 L250.8,419.3 L247.7,423.1 L251.8,420.0 L256.7,417.8Z" fill="#32b21c" stroke="#32b21c" stroke-width="0.6" stroke-linejoin="round"/><path d="M259.4,413.6 L254.8,415.9 L250.8,419.3 M256.7,417.8 L251.8,420.0 L247.7,423.1" fill="none" stroke="#1c5a10" stroke-width="0.9" stroke-linejoin="round"/>
<path d="M231.2,205.6 L225.2,207.5 L218.8,209.4 L212.2,211.3 L205.8,213.2 L199.8,215.1 L194.7,217.1 L200.6,243.8 L206.8,241.9 L213.4,240.1 L219.9,238.2 L226.2,236.3 L231.8,234.3 L236.5,232.3Z" fill="#4dff2a" stroke="#4dff2a" stroke-width="0.6" stroke-linejoin="round"/><path d="M231.2,205.6 L225.2,207.5 L218.8,209.4 L212.2,211.3 L205.8,213.2 L199.8,215.1 L194.7,217.1 M236.5,232.3 L231.8,234.3 L226.2,236.3 L219.9,238.2 L213.4,240.1 L206.8,241.9 L200.6,243.8" fill="none" stroke="#1c5a10" stroke-width="0.9" stroke-linejoin="round"/>
<path d="M224.3,270.6 L218.1,272.5 L211.6,274.4 L205.0,276.3 L198.7,278.2 L193.1,280.1 L188.4,282.1 L193.7,308.9 L199.7,306.9 L206.1,305.1 L212.7,303.2 L219.1,301.3 L225.1,299.4 L230.2,297.4Z" fill="#4dff2a" stroke="#4dff2a" stroke-width="0.6" stroke-linejoin="round"/><path d="M224.3,270.6 L218.1,272.5 L211.6,274.4 L205.0,276.3 L198.7,278.2 L193.1,280.1 L188.4,282.1 M230.2,297.4 L225.1,299.4 L219.1,301.3 L212.7,303.2 L206.1,305.1 L199.7,306.9 L193.7,308.9" fill="none" stroke="#1c5a10" stroke-width="0.9" stroke-linejoin="round"/>
<path d="M385.3,414.7 L378.9,417.4 L372.1,420.0 L365.1,422.6 L358.2,425.1 L358.7,436.7 L365.9,438.5 L372.8,440.2 L378.9,441.7 L383.9,442.8Z" fill="#4dff2a" stroke="#4dff2a" stroke-width="0.6" stroke-linejoin="round"/><path d="M385.3,414.7 L378.9,417.4 L372.1,420.0 L365.1,422.6 L358.2,425.1 M383.9,442.8 L378.9,441.7 L372.8,440.2 L365.9,438.5 L358.7,436.7" fill="none" stroke="#1c5a10" stroke-width="0.9" stroke-linejoin="round"/>
<path d="M403.1,351.2 L396.5,351.7 L389.5,352.1 L382.3,352.4 L375.4,352.8 L368.9,353.4 L363.3,354.2 L362.8,382.6 L369.5,382.1 L376.6,381.7 L383.8,381.4 L390.6,381.0 L396.9,380.3 L402.2,379.4Z" fill="#4dff2a" stroke="#4dff2a" stroke-width="0.6" stroke-linejoin="round"/><path d="M403.1,351.2 L396.5,351.7 L389.5,352.1 L382.3,352.4 L375.4,352.8 L368.9,353.4 L363.3,354.2 M402.2,379.4 L396.9,380.3 L390.6,381.0 L383.8,381.4 L376.6,381.7 L369.5,382.1 L362.8,382.6" fill="none" stroke="#1c5a10" stroke-width="0.9" stroke-linejoin="round"/>
<path d="M103.1,509.8 L97.7,510.4 L92.4,512.6 L87.6,516.0 L83.6,520.3 L81.7,522.2 L85.4,518.7 L90.0,516.2 L95.2,514.8 L100.9,514.2Z" fill="#32b21c" stroke="#32b21c" stroke-width="0.6" stroke-linejoin="round"/><path d="M103.1,509.8 L97.7,510.4 L92.4,512.6 L87.6,516.0 L83.6,520.3 M100.9,514.2 L95.2,514.8 L90.0,516.2 L85.4,518.7 L81.7,522.2" fill="none" stroke="#1c5a10" stroke-width="0.9" stroke-linejoin="round"/>
<path d="M342.1,187.3 L342.2,186.3 L347.2,210.5 L348.6,211.1Z" fill="#32b21c" stroke="#32b21c" stroke-width="0.6" stroke-linejoin="round"/><path d="M342.1,187.3 L342.2,186.3 M348.6,211.1 L347.2,210.5" fill="none" stroke="#1c5a10" stroke-width="0.9" stroke-linejoin="round"/>
<path d="M295.2,437.2 L294.4,432.3 L292.4,427.5 L289.4,423.0 L286.7,427.9 L289.5,432.5 L291.2,437.4 L291.7,442.3Z" fill="#42e224" stroke="#42e224" stroke-width="0.6" stroke-linejoin="round"/><path d="M295.2,437.2 L294.4,432.3 L292.4,427.5 L289.4,423.0 M291.7,442.3 L291.2,437.4 L289.5,432.5 L286.7,427.9" fill="none" stroke="#1c5a10" stroke-width="0.9" stroke-linejoin="round"/>
<path d="M129.5,533.9 L128.5,528.5 L126.3,523.5 L123.0,518.9 L118.9,515.0 L114.0,512.1 L108.6,510.3 L103.1,509.8 L100.9,514.2 L106.6,514.9 L112.0,516.7 L116.8,519.6 L120.9,523.4 L124.0,527.9 L126.0,532.9 L126.8,538.1Z" fill="#42e224" stroke="#42e224" stroke-width="0.6" stroke-linejoin="round"/><path d="M129.5,533.9 L128.5,528.5 L126.3,523.5 L123.0,518.9 L118.9,515.0 L114.0,512.1 L108.6,510.3 L103.1,509.8 M126.8,538.1 L126.0,532.9 L124.0,527.9 L120.9,523.4 L116.8,519.6 L112.0,516.7 L106.6,514.9 L100.9,514.2" fill="none" stroke="#1c5a10" stroke-width="0.9" stroke-linejoin="round"/>
<path d="M390.4,211.8 L386.5,215.6 L396.1,233.9 L398.9,229.8Z" fill="#4af628" stroke="#4af628" stroke-width="0.6" stroke-linejoin="round"/><path d="M390.4,211.8 L386.5,215.6 M398.9,229.8 L396.1,233.9" fill="none" stroke="#1c5a10" stroke-width="0.9" stroke-linejoin="round"/>
<path d="M275.5,413.7 L270.1,412.5 L264.6,412.5 L259.4,413.6 L256.7,417.8 L262.1,416.8 L267.7,416.9 L273.2,418.2Z" fill="#42e224" stroke="#42e224" stroke-width="0.6" stroke-linejoin="round"/><path d="M275.5,413.7 L270.1,412.5 L264.6,412.5 L259.4,413.6 M273.2,418.2 L267.7,416.9 L262.1,416.8 L256.7,417.8" fill="none" stroke="#1c5a10" stroke-width="0.9" stroke-linejoin="round"/>
<path d="M189.4,519.8 L191.1,523.4 L211.3,533.6 L210.5,528.9Z" fill="#42e224" stroke="#42e224" stroke-width="0.6" stroke-linejoin="round"/><path d="M189.4,519.8 L191.1,523.4 M210.5,528.9 L211.3,533.6" fill="none" stroke="#1c5a10" stroke-width="0.9" stroke-linejoin="round"/>
<path d="M384.9,151.5 L386.7,155.1 L387.3,158.9 L391.3,177.2 L389.3,173.7 L386.1,170.6Z" fill="#1e6812" stroke="#1e6812" stroke-width="0.6" stroke-linejoin="round"/><path d="M384.9,151.5 L386.7,155.1 L387.3,158.9 M386.1,170.6 L389.3,173.7 L391.3,177.2" fill="none" stroke="#1c5a10" stroke-width="0.9" stroke-linejoin="round"/>
<path d="M386.5,215.6 L381.9,219.1 L376.8,222.1 L371.6,224.6 L366.4,226.6 L361.7,227.9 L372.6,249.2 L377.8,247.1 L383.0,244.4 L388.0,241.3 L392.5,237.7 L396.1,233.9Z" fill="#4dff2a" stroke="#4dff2a" stroke-width="0.6" stroke-linejoin="round"/><path d="M386.5,215.6 L381.9,219.1 L376.8,222.1 L371.6,224.6 L366.4,226.6 L361.7,227.9 M396.1,233.9 L392.5,237.7 L388.0,241.3 L383.0,244.4 L377.8,247.1 L372.6,249.2" fill="none" stroke="#1c5a10" stroke-width="0.9" stroke-linejoin="round"/>
<path d="M289.4,423.0 L285.4,419.1 L280.7,415.9 L275.5,413.7 L273.2,418.2 L278.3,420.5 L282.9,423.9 L286.7,427.9Z" fill="#4af628" stroke="#4af628" stroke-width="0.6" stroke-linejoin="round"/><path d="M289.4,423.0 L285.4,419.1 L280.7,415.9 L275.5,413.7 M286.7,427.9 L282.9,423.9 L278.3,420.5 L273.2,418.2" fill="none" stroke="#1c5a10" stroke-width="0.9" stroke-linejoin="round"/>
<path d="M201.3,472.5 L199.1,476.2 L196.7,480.8 L221.7,490.1 L223.8,486.6 L225.5,484.2Z" fill="#4af628" stroke="#4af628" stroke-width="0.6" stroke-linejoin="round"/><path d="M201.3,472.5 L199.1,476.2 L196.7,480.8 M225.5,484.2 L223.8,486.6 L221.7,490.1" fill="none" stroke="#1c5a10" stroke-width="0.9" stroke-linejoin="round"/>
<path d="M188.5,515.3 L189.4,519.8 L210.5,528.9 L210.6,523.5Z" fill="#4af628" stroke="#4af628" stroke-width="0.6" stroke-linejoin="round"/><path d="M188.5,515.3 L189.4,519.8 M210.6,523.5 L210.5,528.9" fill="none" stroke="#1c5a10" stroke-width="0.9" stroke-linejoin="round"/>
<path d="M345.5,188.2 L343.2,188.0 L342.1,187.3 L348.6,211.1 L351.2,211.2 L354.8,210.9Z" fill="#42e224" stroke="#42e224" stroke-width="0.6" stroke-linejoin="round"/><path d="M345.5,188.2 L343.2,188.0 L342.1,187.3 M354.8,210.9 L351.2,211.2 L348.6,211.1" fill="none" stroke="#1c5a10" stroke-width="0.9" stroke-linejoin="round"/>
<path d="M387.3,158.9 L386.6,163.0 L392.2,181.0 L391.3,177.2Z" fill="#32b21c" stroke="#32b21c" stroke-width="0.6" stroke-linejoin="round"/><path d="M387.3,158.9 L386.6,163.0 M391.3,177.2 L392.2,181.0" fill="none" stroke="#1c5a10" stroke-width="0.9" stroke-linejoin="round"/>
<path d="M196.7,480.8 L194.3,486.2 L192.2,492.0 L190.3,498.1 L189.0,504.2 L188.4,510.0 L188.5,515.3 L210.6,523.5 L211.4,517.6 L212.8,511.5 L214.7,505.5 L217.0,499.7 L219.4,494.5 L221.7,490.1Z" fill="#4dff2a" stroke="#4dff2a" stroke-width="0.6" stroke-linejoin="round"/><path d="M196.7,480.8 L194.3,486.2 L192.2,492.0 L190.3,498.1 L189.0,504.2 L188.4,510.0 L188.5,515.3 M221.7,490.1 L219.4,494.5 L217.0,499.7 L214.7,505.5 L212.8,511.5 L211.4,517.6 L210.6,523.5" fill="none" stroke="#1c5a10" stroke-width="0.9" stroke-linejoin="round"/>
<path d="M386.6,163.0 L384.7,167.1 L381.7,171.1 L390.2,189.1 L391.8,185.0 L392.2,181.0Z" fill="#42e224" stroke="#42e224" stroke-width="0.6" stroke-linejoin="round"/><path d="M386.6,163.0 L384.7,167.1 L381.7,171.1 M392.2,181.0 L391.8,185.0 L390.2,189.1" fill="none" stroke="#1c5a10" stroke-width="0.9" stroke-linejoin="round"/>
<path d="M353.0,187.2 L348.9,188.0 L345.5,188.2 L354.8,210.9 L359.1,210.0 L364.0,208.5Z" fill="#4af628" stroke="#4af628" stroke-width="0.6" stroke-linejoin="round"/><path d="M353.0,187.2 L348.9,188.0 L345.5,188.2 M364.0,208.5 L359.1,210.0 L354.8,210.9" fill="none" stroke="#1c5a10" stroke-width="0.9" stroke-linejoin="round"/>
<path d="M381.7,171.1 L377.8,174.9 L387.5,193.1 L390.2,189.1Z" fill="#4af628" stroke="#4af628" stroke-width="0.6" stroke-linejoin="round"/><path d="M381.7,171.1 L377.8,174.9 M390.2,189.1 L387.5,193.1" fill="none" stroke="#1c5a10" stroke-width="0.9" stroke-linejoin="round"/>
<path d="M377.8,174.9 L373.3,178.4 L368.2,181.4 L363.0,183.9 L357.8,185.9 L353.0,187.2 L364.0,208.5 L369.2,206.4 L374.4,203.7 L379.4,200.6 L383.8,197.0 L387.5,193.1Z" fill="#4dff2a" stroke="#4dff2a" stroke-width="0.6" stroke-linejoin="round"/><path d="M377.8,174.9 L373.3,178.4 L368.2,181.4 L363.0,183.9 L357.8,185.9 L353.0,187.2 M387.5,193.1 L383.8,197.0 L379.4,200.6 L374.4,203.7 L369.2,206.4 L364.0,208.5" fill="none" stroke="#1c5a10" stroke-width="0.9" stroke-linejoin="round"/></g></defs><use href="#prot" transform="translate(0,0)"/><use href="#prot" transform="translate(508.5,14.5)"/><use href="#prot" transform="translate(1006,16)"/><g transform="translate(1500,21)"><path d="M390.7,303.9 L396.0,303.4 L401.7,303.3 L407.6,303.7 L413.3,304.7 L418.7,306.3 L423.4,308.5 L422.4,328.9 L416.9,327.4 L411.1,326.6 L405.2,326.3 L399.6,326.5 L394.5,327.1 L390.1,328.0Z" fill="#3ac420" stroke="#3ac420" stroke-width="0.6" stroke-linejoin="round"/><path d="M390.7,303.9 L396.0,303.4 L401.7,303.3 L407.6,303.7 L413.3,304.7 L418.7,306.3 L423.4,308.5 M390.1,328.0 L394.5,327.1 L399.6,326.5 L405.2,326.3 L411.1,326.6 L416.9,327.4 L422.4,328.9" fill="none" stroke="#1c5a10" stroke-width="0.9" stroke-linejoin="round"/>
<path d="M423.4,308.5 L427.3,311.2 L430.1,314.4 L431.4,333.5 L427.3,330.9 L422.4,328.9Z" fill="#2c981a" stroke="#2c981a" stroke-width="0.6" stroke-linejoin="round"/><path d="M423.4,308.5 L427.3,311.2 L430.1,314.4 M422.4,328.9 L427.3,330.9 L431.4,333.5" fill="none" stroke="#1c5a10" stroke-width="0.9" stroke-linejoin="round"/>
<path d="M382.5,305.9 L386.2,304.8 L390.7,303.9 L390.1,328.0 L386.7,329.2 L384.4,330.4Z" fill="#2c981a" stroke="#2c981a" stroke-width="0.6" stroke-linejoin="round"/><path d="M382.5,305.9 L386.2,304.8 L390.7,303.9 M384.4,330.4 L386.7,329.2 L390.1,328.0" fill="none" stroke="#1c5a10" stroke-width="0.9" stroke-linejoin="round"/>
<path d="M430.1,314.4 L431.8,318.0 L432.2,321.9 L436.4,340.1 L434.5,336.6 L431.4,333.5Z" fill="#1e6812" stroke="#1e6812" stroke-width="0.6" stroke-linejoin="round"/><path d="M430.1,314.4 L431.8,318.0 L432.2,321.9 M431.4,333.5 L434.5,336.6 L436.4,340.1" fill="none" stroke="#1c5a10" stroke-width="0.9" stroke-linejoin="round"/>
<path d="M95.6,450.1 L100.7,447.4 L105.8,444.0 L110.7,440.1 L115.4,435.8 L119.5,431.5 L123.0,427.4 L125.8,423.8 L144.5,442.9 L140.9,447.0 L136.6,451.4 L131.9,455.6 L126.9,459.4 L121.8,462.7 L116.8,465.2 L112.0,466.7Z" fill="#3ac420" stroke="#3ac420" stroke-width="0.6" stroke-linejoin="round"/><path d="M95.6,450.1 L100.7,447.4 L105.8,444.0 L110.7,440.1 L115.4,435.8 L119.5,431.5 L123.0,427.4 L125.8,423.8 M112.0,466.7 L116.8,465.2 L121.8,462.7 L126.9,459.4 L131.9,455.6 L136.6,451.4 L140.9,447.0 L144.5,442.9" fill="none" stroke="#1c5a10" stroke-width="0.9" stroke-linejoin="round"/>
<path d="M432.2,321.9 L431.4,326.0 L437.2,344.0 L436.4,340.1Z" fill="#32b21c" stroke="#32b21c" stroke-width="0.6" stroke-linejoin="round"/><path d="M432.2,321.9 L431.4,326.0 M436.4,340.1 L437.2,344.0" fill="none" stroke="#1c5a10" stroke-width="0.9" stroke-linejoin="round"/>
<path d="M378.5,308.2 L379.9,307.1 L382.5,305.9 L384.4,330.4 L383.3,331.5 L383.4,332.4Z" fill="#1e6812" stroke="#1e6812" stroke-width="0.6" stroke-linejoin="round"/><path d="M378.5,308.2 L379.9,307.1 L382.5,305.9 M383.4,332.4 L383.3,331.5 L384.4,330.4" fill="none" stroke="#1c5a10" stroke-width="0.9" stroke-linejoin="round"/>
<path d="M381.9,263.3 L387.1,262.7 L392.8,262.6 L398.7,263.0 L404.4,264.0 L409.8,265.6 L414.6,267.8 L413.5,288.2 L408.0,286.7 L402.2,285.9 L396.3,285.6 L390.7,285.8 L385.6,286.5 L381.3,287.4Z" fill="#3ac420" stroke="#3ac420" stroke-width="0.6" stroke-linejoin="round"/><path d="M381.9,263.3 L387.1,262.7 L392.8,262.6 L398.7,263.0 L404.4,264.0 L409.8,265.6 L414.6,267.8 M381.3,287.4 L385.6,286.5 L390.7,285.8 L396.3,285.6 L402.2,285.9 L408.0,286.7 L413.5,288.2" fill="none" stroke="#1c5a10" stroke-width="0.9" stroke-linejoin="round"/>
<path d="M431.4,326.0 L429.4,330.1 L436.7,348.0 L437.2,344.0Z" fill="#42e224" stroke="#42e224" stroke-width="0.6" stroke-linejoin="round"/><path d="M431.4,326.0 L429.4,330.1 M437.2,344.0 L436.7,348.0" fill="none" stroke="#1c5a10" stroke-width="0.9" stroke-linejoin="round"/>
<path d="M86.4,452.4 L90.8,451.8 L95.6,450.1 L112.0,466.7 L107.7,467.1 L104.0,466.3Z" fill="#2c981a" stroke="#2c981a" stroke-width="0.6" stroke-linejoin="round"/><path d="M86.4,452.4 L90.8,451.8 L95.6,450.1 M104.0,466.3 L107.7,467.1 L112.0,466.7" fill="none" stroke="#1c5a10" stroke-width="0.9" stroke-linejoin="round"/>
<path d="M97.7,397.7 L95.9,396.2 L108.3,404.3 L106.4,404.1Z" fill="#1e6812" stroke="#1e6812" stroke-width="0.6" stroke-linejoin="round"/><path d="M97.7,397.7 L95.9,396.2 M106.4,404.1 L108.3,404.3" fill="none" stroke="#1c5a10" stroke-width="0.9" stroke-linejoin="round"/>
<path d="M414.6,267.8 L418.5,270.5 L421.3,273.7 L422.6,292.8 L418.4,290.2 L413.5,288.2Z" fill="#2c981a" stroke="#2c981a" stroke-width="0.6" stroke-linejoin="round"/><path d="M414.6,267.8 L418.5,270.5 L421.3,273.7 M413.5,288.2 L418.4,290.2 L422.6,292.8" fill="none" stroke="#1c5a10" stroke-width="0.9" stroke-linejoin="round"/>
<path d="M125.8,423.8 L127.7,420.9 L128.8,418.9 L149.6,436.1 L147.4,439.2 L144.5,442.9Z" fill="#2c981a" stroke="#2c981a" stroke-width="0.6" stroke-linejoin="round"/><path d="M125.8,423.8 L127.7,420.9 L128.8,418.9 M144.5,442.9 L147.4,439.2 L149.6,436.1" fill="none" stroke="#1c5a10" stroke-width="0.9" stroke-linejoin="round"/>
<path d="M264.5,413.1 L265.3,418.6 L267.2,423.9 L270.2,428.7 L274.1,432.9 L278.6,436.1 L283.6,438.4 L288.6,439.5 L293.6,439.4 L289.1,443.5 L284.1,443.3 L279.1,442.0 L274.2,439.5 L269.8,436.1 L266.1,431.8 L263.2,426.9 L261.4,421.6 L260.7,416.2Z" fill="#2c981a" stroke="#2c981a" stroke-width="0.6" stroke-linejoin="round"/><path d="M264.5,413.1 L265.3,418.6 L267.2,423.9 L270.2,428.7 L274.1,432.9 L278.6,436.1 L283.6,438.4 L288.6,439.5 L293.6,439.4 M260.7,416.2 L261.4,421.6 L263.2,426.9 L266.1,431.8 L269.8,436.1 L274.2,439.5 L279.1,442.0 L284.1,443.3 L289.1,443.5" fill="none" stroke="#1c5a10" stroke-width="0.9" stroke-linejoin="round"/>
<path d="M378.3,309.2 L378.5,308.2 L383.4,332.4 L384.7,333.0Z" fill="#32b21c" stroke="#32b21c" stroke-width="0.6" stroke-linejoin="round"/><path d="M378.3,309.2 L378.5,308.2 M384.7,333.0 L383.4,332.4" fill="none" stroke="#1c5a10" stroke-width="0.9" stroke-linejoin="round"/>
<path d="M429.4,330.1 L426.4,334.1 L423.1,339.2 L431.4,354.8 L435.0,352.1 L436.7,348.0Z" fill="#4af628" stroke="#4af628" stroke-width="0.6" stroke-linejoin="round"/><path d="M429.4,330.1 L426.4,334.1 L423.1,339.2 M436.7,348.0 L435.0,352.1 L431.4,354.8" fill="none" stroke="#1c5a10" stroke-width="0.9" stroke-linejoin="round"/>
<path d="M373.7,265.2 L377.3,264.1 L381.9,263.3 L381.3,287.4 L377.9,288.5 L375.6,289.7Z" fill="#2c981a" stroke="#2c981a" stroke-width="0.6" stroke-linejoin="round"/><path d="M373.7,265.2 L377.3,264.1 L381.9,263.3 M375.6,289.7 L377.9,288.5 L381.3,287.4" fill="none" stroke="#1c5a10" stroke-width="0.9" stroke-linejoin="round"/>
<path d="M309.8,427.3 L312.4,423.2 L313.9,418.4 L311.4,421.9 L310.3,425.8 L308.2,429.2Z" fill="#32b21c" stroke="#32b21c" stroke-width="0.6" stroke-linejoin="round"/><path d="M309.8,427.3 L312.4,423.2 L313.9,418.4 M308.2,429.2 L310.3,425.8 L311.4,421.9" fill="none" stroke="#1c5a10" stroke-width="0.9" stroke-linejoin="round"/>
<path d="M96.7,536.3 L100.3,540.6 L104.6,544.0 L100.3,546.5 L95.9,543.0 L92.3,538.6Z" fill="#2c981a" stroke="#2c981a" stroke-width="0.6" stroke-linejoin="round"/><path d="M96.7,536.3 L100.3,540.6 L104.6,544.0 M92.3,538.6 L95.9,543.0 L100.3,546.5" fill="none" stroke="#1c5a10" stroke-width="0.9" stroke-linejoin="round"/>
<path d="M95.9,396.2 L93.2,396.1 L109.6,405.5 L108.3,404.3Z" fill="#32b21c" stroke="#32b21c" stroke-width="0.6" stroke-linejoin="round"/><path d="M95.9,396.2 L93.2,396.1 M108.3,404.3 L109.6,405.5" fill="none" stroke="#1c5a10" stroke-width="0.9" stroke-linejoin="round"/>
<path d="M269.1,398.0 L266.4,402.5 L264.9,407.6 L264.5,413.1 L260.7,416.2 L261.2,411.0 L262.9,406.1 L265.8,401.8Z" fill="#1e6812" stroke="#1e6812" stroke-width="0.6" stroke-linejoin="round"/><path d="M269.1,398.0 L266.4,402.5 L264.9,407.6 L264.5,413.1 M265.8,401.8 L262.9,406.1 L261.2,411.0 L260.7,416.2" fill="none" stroke="#1c5a10" stroke-width="0.9" stroke-linejoin="round"/>
<path d="M135.9,537.4 L139.1,532.9 L141.2,527.9 L142.0,522.3 L141.6,516.7 L139.0,521.0 L139.6,525.9 L139.1,530.7 L137.3,535.1 L134.6,538.8Z" fill="#32b21c" stroke="#32b21c" stroke-width="0.6" stroke-linejoin="round"/><path d="M135.9,537.4 L139.1,532.9 L141.2,527.9 L142.0,522.3 L141.6,516.7 M134.6,538.8 L137.3,535.1 L139.1,530.7 L139.6,525.9 L139.0,521.0" fill="none" stroke="#1c5a10" stroke-width="0.9" stroke-linejoin="round"/>
<path d="M82.5,451.9 L86.4,452.4 L104.0,466.3 L100.9,464.4Z" fill="#1e6812" stroke="#1e6812" stroke-width="0.6" stroke-linejoin="round"/><path d="M82.5,451.9 L86.4,452.4 M100.9,464.4 L104.0,466.3" fill="none" stroke="#1c5a10" stroke-width="0.9" stroke-linejoin="round"/>
<path d="M133.9,475.0 L139.0,472.3 L144.1,468.8 L149.0,464.9 L153.6,460.6 L157.7,456.3 L161.2,452.2 L163.9,448.7 L182.7,467.7 L179.1,471.8 L174.9,476.1 L170.2,480.4 L165.2,484.3 L160.1,487.6 L155.1,490.1 L150.3,491.7Z" fill="#3ac420" stroke="#3ac420" stroke-width="0.6" stroke-linejoin="round"/><path d="M133.9,475.0 L139.0,472.3 L144.1,468.8 L149.0,464.9 L153.6,460.6 L157.7,456.3 L161.2,452.2 L163.9,448.7 M150.3,491.7 L155.1,490.1 L160.1,487.6 L165.2,484.3 L170.2,480.4 L174.9,476.1 L179.1,471.8 L182.7,467.7" fill="none" stroke="#1c5a10" stroke-width="0.9" stroke-linejoin="round"/>
<path d="M98.2,504.6 L95.1,509.2 L93.1,514.5 L92.3,520.1 L92.6,525.8 L94.1,531.3 L96.7,536.3 L92.3,538.6 L89.7,533.6 L88.2,528.2 L88.0,522.7 L89.0,517.4 L91.3,512.4 L94.7,508.2Z" fill="#1e6812" stroke="#1e6812" stroke-width="0.6" stroke-linejoin="round"/><path d="M98.2,504.6 L95.1,509.2 L93.1,514.5 L92.3,520.1 L92.6,525.8 L94.1,531.3 L96.7,536.3 M94.7,508.2 L91.3,512.4 L89.0,517.4 L88.0,522.7 L88.2,528.2 L89.7,533.6 L92.3,538.6" fill="none" stroke="#1c5a10" stroke-width="0.9" stroke-linejoin="round"/>
<path d="M177.1,340.3 L181.7,343.2 L186.9,346.5 L192.5,350.0 L198.2,353.9 L203.7,357.9 L208.5,361.9 L212.5,366.0 L215.5,370.0 L203.5,392.5 L199.1,388.4 L193.9,384.4 L188.3,380.5 L182.6,376.7 L177.1,373.3 L172.2,370.3 L168.1,367.6 L165.0,365.3Z" fill="#3ac420" stroke="#3ac420" stroke-width="0.6" stroke-linejoin="round"/><path d="M177.1,340.3 L181.7,343.2 L186.9,346.5 L192.5,350.0 L198.2,353.9 L203.7,357.9 L208.5,361.9 L212.5,366.0 L215.5,370.0 M165.0,365.3 L168.1,367.6 L172.2,370.3 L177.1,373.3 L182.6,376.7 L188.3,380.5 L193.9,384.4 L199.1,388.4 L203.5,392.5" fill="none" stroke="#1c5a10" stroke-width="0.9" stroke-linejoin="round"/>
<path d="M50.2,399.3 L56.7,400.2 L62.7,401.1 L67.6,401.8 L60.0,422.8 L55.5,418.2 L50.7,413.7 L45.6,409.1Z" fill="#3ac420" stroke="#3ac420" stroke-width="0.6" stroke-linejoin="round"/><path d="M50.2,399.3 L56.7,400.2 L62.7,401.1 L67.6,401.8 M45.6,409.1 L50.7,413.7 L55.5,418.2 L60.0,422.8" fill="none" stroke="#1c5a10" stroke-width="0.9" stroke-linejoin="round"/>
<path d="M421.3,273.7 L423.0,277.3 L423.5,281.2 L427.7,299.4 L425.7,295.9 L422.6,292.8Z" fill="#1e6812" stroke="#1e6812" stroke-width="0.6" stroke-linejoin="round"/><path d="M421.3,273.7 L423.0,277.3 L423.5,281.2 M422.6,292.8 L425.7,295.9 L427.7,299.4" fill="none" stroke="#1c5a10" stroke-width="0.9" stroke-linejoin="round"/>
<path d="M27.1,443.7 L32.4,446.4 L38.2,449.2 L44.2,451.9 L50.1,454.7 L55.5,457.4 L60.2,460.1 L63.9,462.7 L55.4,487.4 L50.3,484.7 L44.7,481.9 L38.7,479.2 L32.8,476.4 L27.2,473.6 L22.3,471.0 L18.2,468.4Z" fill="#3ac420" stroke="#3ac420" stroke-width="0.6" stroke-linejoin="round"/><path d="M27.1,443.7 L32.4,446.4 L38.2,449.2 L44.2,451.9 L50.1,454.7 L55.5,457.4 L60.2,460.1 L63.9,462.7 M18.2,468.4 L22.3,471.0 L27.2,473.6 L32.8,476.4 L38.7,479.2 L44.7,481.9 L50.3,484.7 L55.4,487.4" fill="none" stroke="#1c5a10" stroke-width="0.9" stroke-linejoin="round"/>
<path d="M423.1,339.2 L419.4,344.1 L415.2,348.6 L410.9,352.7 L415.5,360.6 L421.4,359.2 L426.8,357.2 L431.4,354.8Z" fill="#4dff2a" stroke="#4dff2a" stroke-width="0.6" stroke-linejoin="round"/><path d="M423.1,339.2 L419.4,344.1 L415.2,348.6 L410.9,352.7 M431.4,354.8 L426.8,357.2 L421.4,359.2 L415.5,360.6" fill="none" stroke="#1c5a10" stroke-width="0.9" stroke-linejoin="round"/>
<path d="M279.8,348.4 L284.8,350.6 L290.3,352.8 L296.2,355.1 L302.0,357.3 L306.9,361.4 L311.4,365.4 L315.2,369.5 L311.3,382.8 L305.6,382.4 L299.3,382.0 L292.7,381.6 L287.0,379.3 L281.7,377.1 L277.1,374.9 L273.5,372.7Z" fill="#3ac420" stroke="#3ac420" stroke-width="0.6" stroke-linejoin="round"/><path d="M279.8,348.4 L284.8,350.6 L290.3,352.8 L296.2,355.1 L302.0,357.3 L306.9,361.4 L311.4,365.4 L315.2,369.5 M273.5,372.7 L277.1,374.9 L281.7,377.1 L287.0,379.3 L292.7,381.6 L299.3,382.0 L305.6,382.4 L311.3,382.8" fill="none" stroke="#1c5a10" stroke-width="0.9" stroke-linejoin="round"/>
<path d="M280.8,228.3 L285.6,230.5 L291.0,232.7 L296.8,235.0 L302.7,237.2 L308.4,239.5 L313.5,241.7 L317.9,243.9 L321.3,246.1 L315.3,270.4 L310.5,268.2 L305.1,266.0 L299.3,263.7 L293.4,261.5 L287.7,259.2 L282.6,257.0 L278.2,254.8 L274.9,252.6Z" fill="#3ac420" stroke="#3ac420" stroke-width="0.6" stroke-linejoin="round"/><path d="M280.8,228.3 L285.6,230.5 L291.0,232.7 L296.8,235.0 L302.7,237.2 L308.4,239.5 L313.5,241.7 L317.9,243.9 L321.3,246.1 M274.9,252.6 L278.2,254.8 L282.6,257.0 L287.7,259.2 L293.4,261.5 L299.3,263.7 L305.1,266.0 L310.5,268.2 L315.3,270.4" fill="none" stroke="#1c5a10" stroke-width="0.9" stroke-linejoin="round"/>
<path d="M280.3,288.3 L285.2,290.5 L290.7,292.8 L296.5,295.0 L302.4,297.3 L308.0,299.5 L313.1,301.7 L317.4,304.0 L320.6,306.2 L314.8,330.5 L310.1,328.2 L304.7,326.0 L298.9,323.8 L293.0,321.5 L287.3,319.3 L282.1,317.1 L277.7,314.8 L274.2,312.6Z" fill="#3ac420" stroke="#3ac420" stroke-width="0.6" stroke-linejoin="round"/><path d="M280.3,288.3 L285.2,290.5 L290.7,292.8 L296.5,295.0 L302.4,297.3 L308.0,299.5 L313.1,301.7 L317.4,304.0 L320.6,306.2 M274.2,312.6 L277.7,314.8 L282.1,317.1 L287.3,319.3 L293.0,321.5 L298.9,323.8 L304.7,326.0 L310.1,328.2 L314.8,330.5" fill="none" stroke="#1c5a10" stroke-width="0.9" stroke-linejoin="round"/>
<path d="M281.3,168.2 L286.0,170.5 L291.4,172.7 L297.2,174.9 L303.1,177.2 L308.8,179.4 L314.0,181.6 L318.5,183.9 L322.0,186.1 L315.8,210.4 L310.9,208.2 L305.4,205.9 L299.6,203.7 L293.7,201.4 L288.1,199.2 L283.1,197.0 L278.8,194.7 L275.6,192.5Z" fill="#3ac420" stroke="#3ac420" stroke-width="0.6" stroke-linejoin="round"/><path d="M281.3,168.2 L286.0,170.5 L291.4,172.7 L297.2,174.9 L303.1,177.2 L308.8,179.4 L314.0,181.6 L318.5,183.9 L322.0,186.1 M275.6,192.5 L278.8,194.7 L283.1,197.0 L288.1,199.2 L293.7,201.4 L299.6,203.7 L305.4,205.9 L310.9,208.2 L315.8,210.4" fill="none" stroke="#1c5a10" stroke-width="0.9" stroke-linejoin="round"/>
<path d="M332.2,285.1 L336.3,285.3 L340.8,286.0 L345.2,287.1 L349.5,288.7 L353.5,290.7 L356.8,293.1 L353.6,307.6 L349.5,305.8 L345.1,304.5 L340.6,303.6 L336.3,303.1 L332.3,303.0 L329.0,303.2Z" fill="#3ac420" stroke="#3ac420" stroke-width="0.6" stroke-linejoin="round"/><path d="M332.2,285.1 L336.3,285.3 L340.8,286.0 L345.2,287.1 L349.5,288.7 L353.5,290.7 L356.8,293.1 M329.0,303.2 L332.3,303.0 L336.3,303.1 L340.6,303.6 L345.1,304.5 L349.5,305.8 L353.6,307.6" fill="none" stroke="#1c5a10" stroke-width="0.9" stroke-linejoin="round"/>
<path d="M370.9,371.4 L375.6,375.4 L380.9,379.6 L386.6,383.9 L392.3,388.2 L397.6,392.4 L402.4,396.5 L406.2,400.2 L391.1,424.0 L386.0,419.9 L380.4,415.6 L374.7,411.3 L369.1,407.0 L364.1,402.9 L359.9,399.0 L356.7,395.5Z" fill="#3ac420" stroke="#3ac420" stroke-width="0.6" stroke-linejoin="round"/><path d="M370.9,371.4 L375.6,375.4 L380.9,379.6 L386.6,383.9 L392.3,388.2 L397.6,392.4 L402.4,396.5 L406.2,400.2 M356.7,395.5 L359.9,399.0 L364.1,402.9 L369.1,407.0 L374.7,411.3 L380.4,415.6 L386.0,419.9 L391.1,424.0" fill="none" stroke="#1c5a10" stroke-width="0.9" stroke-linejoin="round"/>
<path d="M79.3,450.2 L82.5,451.9 L100.9,464.4 L98.7,461.4Z" fill="#32b21c" stroke="#32b21c" stroke-width="0.6" stroke-linejoin="round"/><path d="M79.3,450.2 L82.5,451.9 M98.7,461.4 L100.9,464.4" fill="none" stroke="#1c5a10" stroke-width="0.9" stroke-linejoin="round"/>
<path d="M234.6,92.0 L239.1,94.3 L244.1,96.7 L249.1,99.0 L254.1,101.4 L258.7,103.7 L262.7,106.0 L265.9,108.2 L258.7,129.2 L254.3,126.9 L249.5,124.6 L244.4,122.2 L239.4,119.9 L234.6,117.5 L230.4,115.2 L227.0,113.0Z" fill="#3ac420" stroke="#3ac420" stroke-width="0.6" stroke-linejoin="round"/><path d="M234.6,92.0 L239.1,94.3 L244.1,96.7 L249.1,99.0 L254.1,101.4 L258.7,103.7 L262.7,106.0 L265.9,108.2 M227.0,113.0 L230.4,115.2 L234.6,117.5 L239.4,119.9 L244.4,122.2 L249.5,124.6 L254.3,126.9 L258.7,129.2" fill="none" stroke="#1c5a10" stroke-width="0.9" stroke-linejoin="round"/>
<path d="M270.0,64.0 C270.7,63.7 270.0,62.3 274.0,62.0 C278.0,61.7 288.3,60.5 294.0,62.0 C299.7,63.5 304.8,66.3 308.0,71.0 C311.2,75.7 312.8,84.2 313.0,90.0 C313.2,95.8 311.7,104.0 309.0,106.0 C306.3,108.0 301.5,103.2 297.0,102.0 C292.5,100.8 285.8,101.0 282.0,99.0 C278.2,97.0 276.0,94.3 274.0,90.0 C272.0,85.7 270.7,75.8 270.0,73.0" fill="none" stroke="#1c5a10" stroke-width="5.0" stroke-linecap="round" stroke-linejoin="round"/><path d="M270.0,64.0 C270.7,63.7 270.0,62.3 274.0,62.0 C278.0,61.7 288.3,60.5 294.0,62.0 C299.7,63.5 304.8,66.3 308.0,71.0 C311.2,75.7 312.8,84.2 313.0,90.0 C313.2,95.8 311.7,104.0 309.0,106.0 C306.3,108.0 301.5,103.2 297.0,102.0 C292.5,100.8 285.8,101.0 282.0,99.0 C278.2,97.0 276.0,94.3 274.0,90.0 C272.0,85.7 270.7,75.8 270.0,73.0" fill="none" stroke="#4cf22c" stroke-width="3.4" stroke-linecap="round" stroke-linejoin="round"/>
<path d="M381.6,310.2 L379.3,309.9 L378.3,309.2 L384.7,333.0 L387.2,333.2 L390.7,332.9Z" fill="#42e224" stroke="#42e224" stroke-width="0.6" stroke-linejoin="round"/><path d="M381.6,310.2 L379.3,309.9 L378.3,309.2 M390.7,332.9 L387.2,333.2 L384.7,333.0" fill="none" stroke="#1c5a10" stroke-width="0.9" stroke-linejoin="round"/>
<path d="M277.1,391.7 L272.7,394.4 L269.1,398.0 L265.8,401.8 L269.6,398.3 L274.3,395.8Z" fill="#32b21c" stroke="#32b21c" stroke-width="0.6" stroke-linejoin="round"/><path d="M277.1,391.7 L272.7,394.4 L269.1,398.0 M274.3,395.8 L269.6,398.3 L265.8,401.8" fill="none" stroke="#1c5a10" stroke-width="0.9" stroke-linejoin="round"/>
<path d="M93.2,396.1 L89.8,397.4 L110.3,407.6 L109.6,405.5Z" fill="#42e224" stroke="#42e224" stroke-width="0.6" stroke-linejoin="round"/><path d="M93.2,396.1 L89.8,397.4 M109.6,405.5 L110.3,407.6" fill="none" stroke="#1c5a10" stroke-width="0.9" stroke-linejoin="round"/>
<path d="M104.6,544.0 L109.5,546.4 L114.7,547.6 L119.9,547.5 L124.9,546.2 L129.4,543.8 L133.1,540.4 L129.7,544.0 L125.8,547.3 L121.1,549.5 L116.0,550.6 L110.6,550.4 L105.3,549.1 L100.3,546.5Z" fill="#1e6812" stroke="#1e6812" stroke-width="0.6" stroke-linejoin="round"/><path d="M104.6,544.0 L109.5,546.4 L114.7,547.6 L119.9,547.5 L124.9,546.2 L129.4,543.8 L133.1,540.4 M100.3,546.5 L105.3,549.1 L110.6,550.4 L116.0,550.6 L121.1,549.5 L125.8,547.3 L129.7,544.0" fill="none" stroke="#1c5a10" stroke-width="0.9" stroke-linejoin="round"/>
<path d="M200.2,270.8 L205.6,273.5 L211.6,276.3 L217.8,279.0 L224.0,281.8 L229.9,284.6 L235.0,287.3 L239.2,289.9 L230.5,315.7 L224.9,312.9 L218.9,310.2 L212.6,307.4 L206.5,304.6 L200.8,301.9 L195.8,299.2 L191.8,296.5Z" fill="#3ac420" stroke="#3ac420" stroke-width="0.6" stroke-linejoin="round"/><path d="M200.2,270.8 L205.6,273.5 L211.6,276.3 L217.8,279.0 L224.0,281.8 L229.9,284.6 L235.0,287.3 L239.2,289.9 M191.8,296.5 L195.8,299.2 L200.8,301.9 L206.5,304.6 L212.6,307.4 L218.9,310.2 L224.9,312.9 L230.5,315.7" fill="none" stroke="#1c5a10" stroke-width="0.9" stroke-linejoin="round"/>
<path d="M117.5,496.3 L112.0,496.5 L106.8,498.1 L102.1,500.8 L98.2,504.6 L94.7,508.2 L99.1,504.8 L104.2,502.3 L109.7,501.0 L115.4,500.8Z" fill="#32b21c" stroke="#32b21c" stroke-width="0.6" stroke-linejoin="round"/><path d="M117.5,496.3 L112.0,496.5 L106.8,498.1 L102.1,500.8 L98.2,504.6 M115.4,500.8 L109.7,501.0 L104.2,502.3 L99.1,504.8 L94.7,508.2" fill="none" stroke="#1c5a10" stroke-width="0.9" stroke-linejoin="round"/>
<path d="M227.1,143.0 L231.1,145.3 L235.8,147.6 L240.8,150.0 L245.9,152.4 L250.8,154.7 L255.2,157.0 L259.0,159.3 L261.9,161.4 L255.1,182.5 L250.9,180.2 L246.2,177.9 L241.2,175.5 L236.1,173.2 L231.2,170.8 L226.9,168.5 L223.2,166.3 L220.4,164.1Z" fill="#3ac420" stroke="#3ac420" stroke-width="0.6" stroke-linejoin="round"/><path d="M227.1,143.0 L231.1,145.3 L235.8,147.6 L240.8,150.0 L245.9,152.4 L250.8,154.7 L255.2,157.0 L259.0,159.3 L261.9,161.4 M220.4,164.1 L223.2,166.3 L226.9,168.5 L231.2,170.8 L236.1,173.2 L241.2,175.5 L246.2,177.9 L250.9,180.2 L255.1,182.5" fill="none" stroke="#1c5a10" stroke-width="0.9" stroke-linejoin="round"/>
<path d="M128.8,418.9 L129.1,417.9 L128.6,418.1 L151.3,432.7 L150.8,433.9 L149.6,436.1Z" fill="#1e6812" stroke="#1e6812" stroke-width="0.6" stroke-linejoin="round"/><path d="M128.8,418.9 L129.1,417.9 L128.6,418.1 M149.6,436.1 L150.8,433.9 L151.3,432.7" fill="none" stroke="#1c5a10" stroke-width="0.9" stroke-linejoin="round"/>
<path d="M202.8,205.4 L207.8,208.1 L213.6,210.9 L219.8,213.7 L226.0,216.4 L232.1,219.2 L237.5,221.9 L242.1,224.6 L245.6,227.2 L237.9,253.0 L232.8,250.3 L227.0,247.6 L220.9,244.8 L214.6,242.0 L208.6,239.2 L203.1,236.5 L198.6,233.8 L195.1,231.3Z" fill="#3ac420" stroke="#3ac420" stroke-width="0.6" stroke-linejoin="round"/><path d="M202.8,205.4 L207.8,208.1 L213.6,210.9 L219.8,213.7 L226.0,216.4 L232.1,219.2 L237.5,221.9 L242.1,224.6 L245.6,227.2 M195.1,231.3 L198.6,233.8 L203.1,236.5 L208.6,239.2 L214.6,242.0 L220.9,244.8 L227.0,247.6 L232.8,250.3 L237.9,253.0" fill="none" stroke="#1c5a10" stroke-width="0.9" stroke-linejoin="round"/>
<path d="M356.8,293.1 L359.5,295.8 L361.2,298.9 L360.3,312.4 L357.3,309.8 L353.6,307.6Z" fill="#2c981a" stroke="#2c981a" stroke-width="0.6" stroke-linejoin="round"/><path d="M356.8,293.1 L359.5,295.8 L361.2,298.9 M353.6,307.6 L357.3,309.8 L360.3,312.4" fill="none" stroke="#1c5a10" stroke-width="0.9" stroke-linejoin="round"/>
<path d="M293.6,439.4 L298.1,438.2 L302.0,435.9 L305.1,432.7 L301.1,437.5 L297.8,440.5 L293.8,442.6 L289.1,443.5Z" fill="#1e6812" stroke="#1e6812" stroke-width="0.6" stroke-linejoin="round"/><path d="M293.6,439.4 L298.1,438.2 L302.0,435.9 L305.1,432.7 M289.1,443.5 L293.8,442.6 L297.8,440.5 L301.1,437.5" fill="none" stroke="#1c5a10" stroke-width="0.9" stroke-linejoin="round"/>
<path d="M141.6,516.7 L139.8,511.5 L136.8,506.7 L132.9,502.6 L128.3,499.4 L123.0,497.3 L117.5,496.3 L115.4,500.8 L121.0,501.8 L126.2,504.0 L130.8,507.2 L134.6,511.2 L137.4,515.9 L139.0,521.0Z" fill="#42e224" stroke="#42e224" stroke-width="0.6" stroke-linejoin="round"/><path d="M141.6,516.7 L139.8,511.5 L136.8,506.7 L132.9,502.6 L128.3,499.4 L123.0,497.3 L117.5,496.3 M139.0,521.0 L137.4,515.9 L134.6,511.2 L130.8,507.2 L126.2,504.0 L121.0,501.8 L115.4,500.8" fill="none" stroke="#1c5a10" stroke-width="0.9" stroke-linejoin="round"/>
<path d="M313.9,418.4 L314.2,413.2 L313.2,407.9 L310.9,403.2 L307.5,398.8 L304.9,403.7 L308.0,408.2 L310.2,413.0 L311.4,417.5 L311.4,421.9Z" fill="#42e224" stroke="#42e224" stroke-width="0.6" stroke-linejoin="round"/><path d="M313.9,418.4 L314.2,413.2 L313.2,407.9 L310.9,403.2 L307.5,398.8 M311.4,421.9 L311.4,417.5 L310.2,413.0 L308.0,408.2 L304.9,403.7" fill="none" stroke="#1c5a10" stroke-width="0.9" stroke-linejoin="round"/>
<path d="M215.5,370.0 L217.1,373.7 L207.0,396.5 L203.5,392.5Z" fill="#2c981a" stroke="#2c981a" stroke-width="0.6" stroke-linejoin="round"/><path d="M215.5,370.0 L217.1,373.7 M203.5,392.5 L207.0,396.5" fill="none" stroke="#1c5a10" stroke-width="0.9" stroke-linejoin="round"/>
<path d="M423.5,281.2 L422.7,285.2 L428.4,303.2 L427.7,299.4Z" fill="#32b21c" stroke="#32b21c" stroke-width="0.6" stroke-linejoin="round"/><path d="M423.5,281.2 L422.7,285.2 M427.7,299.4 L428.4,303.2" fill="none" stroke="#1c5a10" stroke-width="0.9" stroke-linejoin="round"/>
<path d="M315.2,369.5 L318.2,373.5 L316.0,383.2 L311.3,382.8Z" fill="#2c981a" stroke="#2c981a" stroke-width="0.6" stroke-linejoin="round"/><path d="M315.2,369.5 L318.2,373.5 M311.3,382.8 L316.0,383.2" fill="none" stroke="#1c5a10" stroke-width="0.9" stroke-linejoin="round"/>
<path d="M124.6,477.5 L129.1,476.8 L133.9,475.0 L150.3,491.7 L145.9,492.2 L142.1,491.5Z" fill="#2c981a" stroke="#2c981a" stroke-width="0.6" stroke-linejoin="round"/><path d="M124.6,477.5 L129.1,476.8 L133.9,475.0 M142.1,491.5 L145.9,492.2 L150.3,491.7" fill="none" stroke="#1c5a10" stroke-width="0.9" stroke-linejoin="round"/>
<path d="M369.7,267.6 L371.1,266.4 L373.7,265.2 L375.6,289.7 L374.5,290.9 L374.7,291.8Z" fill="#1e6812" stroke="#1e6812" stroke-width="0.6" stroke-linejoin="round"/><path d="M369.7,267.6 L371.1,266.4 L373.7,265.2 M374.7,291.8 L374.5,290.9 L375.6,289.7" fill="none" stroke="#1c5a10" stroke-width="0.9" stroke-linejoin="round"/>
<path d="M373.0,222.6 L378.2,222.1 L383.9,222.0 L389.8,222.4 L395.6,223.3 L401.0,224.9 L405.7,227.1 L404.6,247.5 L399.1,246.1 L393.3,245.2 L387.5,245.0 L381.9,245.2 L376.8,245.8 L372.5,246.8Z" fill="#3ac420" stroke="#3ac420" stroke-width="0.6" stroke-linejoin="round"/><path d="M373.0,222.6 L378.2,222.1 L383.9,222.0 L389.8,222.4 L395.6,223.3 L401.0,224.9 L405.7,227.1 M372.5,246.8 L376.8,245.8 L381.9,245.2 L387.5,245.0 L393.3,245.2 L399.1,246.1 L404.6,247.5" fill="none" stroke="#1c5a10" stroke-width="0.9" stroke-linejoin="round"/>
<path d="M67.6,401.8 L71.2,402.5 L72.9,404.9 L67.4,429.9 L63.9,427.3 L60.0,422.8Z" fill="#2c981a" stroke="#2c981a" stroke-width="0.6" stroke-linejoin="round"/><path d="M67.6,401.8 L71.2,402.5 L72.9,404.9 M60.0,422.8 L63.9,427.3 L67.4,429.9" fill="none" stroke="#1c5a10" stroke-width="0.9" stroke-linejoin="round"/>
<path d="M163.9,448.7 L165.8,445.8 L166.8,443.9 L187.6,461.0 L185.5,464.0 L182.7,467.7Z" fill="#2c981a" stroke="#2c981a" stroke-width="0.6" stroke-linejoin="round"/><path d="M163.9,448.7 L165.8,445.8 L166.8,443.9 M182.7,467.7 L185.5,464.0 L187.6,461.0" fill="none" stroke="#1c5a10" stroke-width="0.9" stroke-linejoin="round"/>
<path d="M298.3,392.4 L293.0,390.5 L287.5,389.7 L282.1,390.1 L277.1,391.7 L274.3,395.8 L279.5,394.4 L285.1,394.1 L290.6,394.9 L296.0,396.9Z" fill="#42e224" stroke="#42e224" stroke-width="0.6" stroke-linejoin="round"/><path d="M298.3,392.4 L293.0,390.5 L287.5,389.7 L282.1,390.1 L277.1,391.7 M296.0,396.9 L290.6,394.9 L285.1,394.1 L279.5,394.4 L274.3,395.8" fill="none" stroke="#1c5a10" stroke-width="0.9" stroke-linejoin="round"/>
<path d="M19.2,438.5 L22.6,441.0 L27.1,443.7 L18.2,468.4 L15.4,465.8 L13.7,463.5Z" fill="#2c981a" stroke="#2c981a" stroke-width="0.6" stroke-linejoin="round"/><path d="M19.2,438.5 L22.6,441.0 L27.1,443.7 M13.7,463.5 L15.4,465.8 L18.2,468.4" fill="none" stroke="#1c5a10" stroke-width="0.9" stroke-linejoin="round"/>
<path d="M325.5,285.4 L328.5,285.1 L332.2,285.1 L329.0,303.2 L326.3,303.7 L324.5,304.2Z" fill="#2c981a" stroke="#2c981a" stroke-width="0.6" stroke-linejoin="round"/><path d="M325.5,285.4 L328.5,285.1 L332.2,285.1 M324.5,304.2 L326.3,303.7 L329.0,303.2" fill="none" stroke="#1c5a10" stroke-width="0.9" stroke-linejoin="round"/>
<path d="M13.4,506.8 L16.2,511.2 L13.1,521.1 L10.1,520.5Z" fill="#2c981a" stroke="#2c981a" stroke-width="0.6" stroke-linejoin="round"/><path d="M13.4,506.8 L16.2,511.2 M10.1,520.5 L13.1,521.1" fill="none" stroke="#1c5a10" stroke-width="0.9" stroke-linejoin="round"/>
<path d="M321.3,246.1 L323.5,248.3 L319.3,272.6 L315.3,270.4Z" fill="#2c981a" stroke="#2c981a" stroke-width="0.6" stroke-linejoin="round"/><path d="M321.3,246.1 L323.5,248.3 M315.3,270.4 L319.3,272.6" fill="none" stroke="#1c5a10" stroke-width="0.9" stroke-linejoin="round"/>
<path d="M276.9,226.1 L280.8,228.3 L274.9,252.6 L272.7,250.4Z" fill="#2c981a" stroke="#2c981a" stroke-width="0.6" stroke-linejoin="round"/><path d="M276.9,226.1 L280.8,228.3 M272.7,250.4 L274.9,252.6" fill="none" stroke="#1c5a10" stroke-width="0.9" stroke-linejoin="round"/>
<path d="M222.4,309.5 L227.1,311.9 L220.2,324.3 L216.8,318.5Z" fill="#3ac420" stroke="#3ac420" stroke-width="0.6" stroke-linejoin="round"/><path d="M222.4,309.5 L227.1,311.9 M216.8,318.5 L220.2,324.3" fill="none" stroke="#1c5a10" stroke-width="0.9" stroke-linejoin="round"/>
<path d="M173.5,337.9 L177.1,340.3 L165.0,365.3 L163.2,363.5Z" fill="#2c981a" stroke="#2c981a" stroke-width="0.6" stroke-linejoin="round"/><path d="M173.5,337.9 L177.1,340.3 M163.2,363.5 L165.0,365.3" fill="none" stroke="#1c5a10" stroke-width="0.9" stroke-linejoin="round"/>
<path d="M422.7,285.2 L420.7,289.3 L427.9,307.2 L428.4,303.2Z" fill="#42e224" stroke="#42e224" stroke-width="0.6" stroke-linejoin="round"/><path d="M422.7,285.2 L420.7,289.3 M428.4,303.2 L427.9,307.2" fill="none" stroke="#1c5a10" stroke-width="0.9" stroke-linejoin="round"/>
<path d="M320.6,306.2 L322.7,308.3 L318.6,332.7 L314.8,330.5Z" fill="#2c981a" stroke="#2c981a" stroke-width="0.6" stroke-linejoin="round"/><path d="M320.6,306.2 L322.7,308.3 M314.8,330.5 L318.6,332.7" fill="none" stroke="#1c5a10" stroke-width="0.9" stroke-linejoin="round"/>
<path d="M258.1,421.8 L259.2,427.3 L261.3,432.5 L264.5,437.2 L268.5,441.2 L273.2,444.2 L278.2,446.2 L283.2,447.1 L278.7,451.0 L273.6,449.9 L268.7,447.7 L264.2,444.4 L260.3,440.3 L257.3,435.5 L255.2,430.3 L254.2,424.9Z" fill="#2c981a" stroke="#2c981a" stroke-width="0.6" stroke-linejoin="round"/><path d="M258.1,421.8 L259.2,427.3 L261.3,432.5 L264.5,437.2 L268.5,441.2 L273.2,444.2 L278.2,446.2 L283.2,447.1 M254.2,424.9 L255.2,430.3 L257.3,435.5 L260.3,440.3 L264.2,444.4 L268.7,447.7 L273.6,449.9 L278.7,451.0" fill="none" stroke="#1c5a10" stroke-width="0.9" stroke-linejoin="round"/>
<path d="M63.9,462.7 L66.5,465.2 L67.7,467.5 L62.9,492.5 L59.7,490.0 L55.4,487.4Z" fill="#2c981a" stroke="#2c981a" stroke-width="0.6" stroke-linejoin="round"/><path d="M63.9,462.7 L66.5,465.2 L67.7,467.5 M55.4,487.4 L59.7,490.0 L62.9,492.5" fill="none" stroke="#1c5a10" stroke-width="0.9" stroke-linejoin="round"/>
<path d="M307.5,398.8 L303.2,395.2 L298.3,392.4 L296.0,396.9 L300.8,399.9 L304.9,403.7Z" fill="#4af628" stroke="#4af628" stroke-width="0.6" stroke-linejoin="round"/><path d="M307.5,398.8 L303.2,395.2 L298.3,392.4 M304.9,403.7 L300.8,399.9 L296.0,396.9" fill="none" stroke="#1c5a10" stroke-width="0.9" stroke-linejoin="round"/>
<path d="M277.6,166.0 L281.3,168.2 L275.6,192.5 L273.5,190.4Z" fill="#2c981a" stroke="#2c981a" stroke-width="0.6" stroke-linejoin="round"/><path d="M277.6,166.0 L281.3,168.2 M273.5,190.4 L275.6,192.5" fill="none" stroke="#1c5a10" stroke-width="0.9" stroke-linejoin="round"/>
<path d="M361.2,298.9 L362.1,302.1 L362.0,305.5 L363.9,318.4 L362.5,315.3 L360.3,312.4Z" fill="#1e6812" stroke="#1e6812" stroke-width="0.6" stroke-linejoin="round"/><path d="M361.2,298.9 L362.1,302.1 L362.0,305.5 M360.3,312.4 L362.5,315.3 L363.9,318.4" fill="none" stroke="#1c5a10" stroke-width="0.9" stroke-linejoin="round"/>
<path d="M75.3,443.5 L76.9,447.4 L79.3,450.2 L98.7,461.4 L97.3,457.3 L96.7,452.4Z" fill="#42e224" stroke="#42e224" stroke-width="0.6" stroke-linejoin="round"/><path d="M75.3,443.5 L76.9,447.4 L79.3,450.2 M96.7,452.4 L97.3,457.3 L98.7,461.4" fill="none" stroke="#1c5a10" stroke-width="0.9" stroke-linejoin="round"/>
<path d="M227.8,87.6 L230.7,89.8 L234.6,92.0 L227.0,113.0 L224.5,110.9 L223.1,108.9Z" fill="#2c981a" stroke="#2c981a" stroke-width="0.6" stroke-linejoin="round"/><path d="M227.8,87.6 L230.7,89.8 L234.6,92.0 M223.1,108.9 L224.5,110.9 L227.0,113.0" fill="none" stroke="#1c5a10" stroke-width="0.9" stroke-linejoin="round"/>
<path d="M261.9,161.4 L263.4,165.1 L258.8,183.1 L255.1,182.5Z" fill="#2c981a" stroke="#2c981a" stroke-width="0.6" stroke-linejoin="round"/><path d="M261.9,161.4 L263.4,165.1 M255.1,182.5 L258.8,183.1" fill="none" stroke="#1c5a10" stroke-width="0.9" stroke-linejoin="round"/>
<path d="M267.5,61.2 L270.8,61.8 L272.8,62.2 L269.6,77.1 L267.4,73.4 L264.5,69.6Z" fill="#2c981a" stroke="#2c981a" stroke-width="0.6" stroke-linejoin="round"/><path d="M267.5,61.2 L270.8,61.8 L272.8,62.2 M264.5,69.6 L267.4,73.4 L269.6,77.1" fill="none" stroke="#1c5a10" stroke-width="0.9" stroke-linejoin="round"/>
<path d="M272.7,344.0 L275.7,346.1 L279.8,348.4 L273.5,372.7 L271.1,370.5 L269.9,368.3Z" fill="#2c981a" stroke="#2c981a" stroke-width="0.6" stroke-linejoin="round"/><path d="M272.7,344.0 L275.7,346.1 L279.8,348.4 M269.9,368.3 L271.1,370.5 L273.5,372.7" fill="none" stroke="#1c5a10" stroke-width="0.9" stroke-linejoin="round"/>
<path d="M405.7,227.1 L409.6,229.8 L412.5,232.9 L413.7,252.1 L409.6,249.5 L404.6,247.5Z" fill="#2c981a" stroke="#2c981a" stroke-width="0.6" stroke-linejoin="round"/><path d="M405.7,227.1 L409.6,229.8 L412.5,232.9 M404.6,247.5 L409.6,249.5 L413.7,252.1" fill="none" stroke="#1c5a10" stroke-width="0.9" stroke-linejoin="round"/>
<path d="M322.0,186.1 L324.4,188.3 L325.5,190.4 L322.8,214.8 L319.9,212.6 L315.8,210.4Z" fill="#2c981a" stroke="#2c981a" stroke-width="0.6" stroke-linejoin="round"/><path d="M322.0,186.1 L324.4,188.3 L325.5,190.4 M315.8,210.4 L319.9,212.6 L322.8,214.8" fill="none" stroke="#1c5a10" stroke-width="0.9" stroke-linejoin="round"/>
<path d="M223.8,140.9 L227.1,143.0 L220.4,164.1 L218.7,162.1Z" fill="#2c981a" stroke="#2c981a" stroke-width="0.6" stroke-linejoin="round"/><path d="M223.8,140.9 L227.1,143.0 M218.7,162.1 L220.4,164.1" fill="none" stroke="#1c5a10" stroke-width="0.9" stroke-linejoin="round"/>
<path d="M89.8,397.4 L85.9,400.0 L83.5,404.4 L108.5,413.9 L110.5,410.6 L110.3,407.6Z" fill="#4af628" stroke="#4af628" stroke-width="0.6" stroke-linejoin="round"/><path d="M89.8,397.4 L85.9,400.0 L83.5,404.4 M110.3,407.6 L110.5,410.6 L108.5,413.9" fill="none" stroke="#1c5a10" stroke-width="0.9" stroke-linejoin="round"/>
<path d="M273.4,283.9 L276.3,286.1 L280.3,288.3 L274.2,312.6 L271.9,310.4 L270.9,308.3Z" fill="#2c981a" stroke="#2c981a" stroke-width="0.6" stroke-linejoin="round"/><path d="M273.4,283.9 L276.3,286.1 L280.3,288.3 M270.9,308.3 L271.9,310.4 L274.2,312.6" fill="none" stroke="#1c5a10" stroke-width="0.9" stroke-linejoin="round"/>
<path d="M265.9,108.2 L268.0,110.3 L269.0,112.3 L264.9,133.6 L262.2,131.4 L258.7,129.2Z" fill="#2c981a" stroke="#2c981a" stroke-width="0.6" stroke-linejoin="round"/><path d="M265.9,108.2 L268.0,110.3 L269.0,112.3 M258.7,129.2 L262.2,131.4 L264.9,133.6" fill="none" stroke="#1c5a10" stroke-width="0.9" stroke-linejoin="round"/>
<path d="M406.2,400.2 L408.8,403.6 L410.1,406.5 L398.6,431.5 L395.4,427.9 L391.1,424.0Z" fill="#2c981a" stroke="#2c981a" stroke-width="0.6" stroke-linejoin="round"/><path d="M406.2,400.2 L408.8,403.6 L410.1,406.5 M391.1,424.0 L395.4,427.9 L398.6,431.5" fill="none" stroke="#1c5a10" stroke-width="0.9" stroke-linejoin="round"/>
<path d="M388.9,309.3 L384.8,310.0 L381.6,310.2 L390.7,332.9 L395.0,332.0 L399.9,330.6Z" fill="#4af628" stroke="#4af628" stroke-width="0.6" stroke-linejoin="round"/><path d="M388.9,309.3 L384.8,310.0 L381.6,310.2 M399.9,330.6 L395.0,332.0 L390.7,332.9" fill="none" stroke="#1c5a10" stroke-width="0.9" stroke-linejoin="round"/>
<path d="M120.7,477.1 L124.6,477.5 L142.1,491.5 L139.0,489.7Z" fill="#1e6812" stroke="#1e6812" stroke-width="0.6" stroke-linejoin="round"/><path d="M120.7,477.1 L124.6,477.5 M139.0,489.7 L142.1,491.5" fill="none" stroke="#1c5a10" stroke-width="0.9" stroke-linejoin="round"/>
<path d="M208.0,421.0 C206.7,426.2 198.8,444.2 200.0,452.0 C201.2,459.8 212.5,465.3 215.0,468.0" fill="none" stroke="#1c5a10" stroke-width="5.0" stroke-linecap="round" stroke-linejoin="round"/><path d="M208.0,421.0 C206.7,426.2 198.8,444.2 200.0,452.0 C201.2,459.8 212.5,465.3 215.0,468.0" fill="none" stroke="#4cf22c" stroke-width="3.4" stroke-linecap="round" stroke-linejoin="round"/>
<path d="M128.6,418.1 L127.5,419.4 L150.9,432.6 L151.3,432.7Z" fill="#32b21c" stroke="#32b21c" stroke-width="0.6" stroke-linejoin="round"/><path d="M128.6,418.1 L127.5,419.4 M151.3,432.7 L150.9,432.6" fill="none" stroke="#1c5a10" stroke-width="0.9" stroke-linejoin="round"/>
<path d="M239.2,289.9 L242.2,292.5 L243.8,294.9 L238.8,320.9 L235.2,318.3 L230.5,315.7Z" fill="#2c981a" stroke="#2c981a" stroke-width="0.6" stroke-linejoin="round"/><path d="M239.2,289.9 L242.2,292.5 L243.8,294.9 M230.5,315.7 L235.2,318.3 L238.8,320.9" fill="none" stroke="#1c5a10" stroke-width="0.9" stroke-linejoin="round"/>
<path d="M217.1,373.7 L217.4,377.2 L216.3,380.4 L210.3,404.1 L209.3,400.4 L207.0,396.5Z" fill="#1e6812" stroke="#1e6812" stroke-width="0.6" stroke-linejoin="round"/><path d="M217.1,373.7 L217.4,377.2 L216.3,380.4 M207.0,396.5 L209.3,400.4 L210.3,404.1" fill="none" stroke="#1c5a10" stroke-width="0.9" stroke-linejoin="round"/>
<path d="M323.8,135.5 L325.8,135.9 L324.2,149.3 L321.9,145.3Z" fill="#2c981a" stroke="#2c981a" stroke-width="0.6" stroke-linejoin="round"/><path d="M323.8,135.5 L325.8,135.9 M321.9,145.3 L324.2,149.3" fill="none" stroke="#1c5a10" stroke-width="0.9" stroke-linejoin="round"/>
<path d="M261.9,406.5 L259.5,411.1 L258.3,416.3 L258.1,421.8 L254.2,424.9 L254.5,419.6 L256.0,414.6 L258.6,410.2Z" fill="#1e6812" stroke="#1e6812" stroke-width="0.6" stroke-linejoin="round"/><path d="M261.9,406.5 L259.5,411.1 L258.3,416.3 L258.1,421.8 M258.6,410.2 L256.0,414.6 L254.5,419.6 L254.2,424.9" fill="none" stroke="#1c5a10" stroke-width="0.9" stroke-linejoin="round"/>
<path d="M172.2,499.9 L177.3,497.2 L182.4,493.7 L187.3,489.6 L191.9,485.4 L195.9,481.1 L199.3,477.1 L202.0,473.5 L220.8,492.5 L217.3,496.6 L213.1,500.9 L208.5,505.2 L203.5,509.1 L198.4,512.5 L193.4,515.1 L188.5,516.7Z" fill="#3ac420" stroke="#3ac420" stroke-width="0.6" stroke-linejoin="round"/><path d="M172.2,499.9 L177.3,497.2 L182.4,493.7 L187.3,489.6 L191.9,485.4 L195.9,481.1 L199.3,477.1 L202.0,473.5 M188.5,516.7 L193.4,515.1 L198.4,512.5 L203.5,509.1 L208.5,505.2 L213.1,500.9 L217.3,496.6 L220.8,492.5" fill="none" stroke="#1c5a10" stroke-width="0.9" stroke-linejoin="round"/>
<path d="M305.1,432.7 L307.2,428.7 L308.1,424.2 L304.5,429.2 L303.4,433.6 L301.1,437.5Z" fill="#32b21c" stroke="#32b21c" stroke-width="0.6" stroke-linejoin="round"/><path d="M305.1,432.7 L307.2,428.7 L308.1,424.2 M301.1,437.5 L303.4,433.6 L304.5,429.2" fill="none" stroke="#1c5a10" stroke-width="0.9" stroke-linejoin="round"/>
<path d="M245.6,227.2 L247.8,229.7 L242.0,255.6 L237.9,253.0Z" fill="#2c981a" stroke="#2c981a" stroke-width="0.6" stroke-linejoin="round"/><path d="M245.6,227.2 L247.8,229.7 M237.9,253.0 L242.0,255.6" fill="none" stroke="#1c5a10" stroke-width="0.9" stroke-linejoin="round"/>
<path d="M198.7,202.8 L202.8,205.4 L195.1,231.3 L192.9,228.8Z" fill="#2c981a" stroke="#2c981a" stroke-width="0.6" stroke-linejoin="round"/><path d="M198.7,202.8 L202.8,205.4 M192.9,228.8 L195.1,231.3" fill="none" stroke="#1c5a10" stroke-width="0.9" stroke-linejoin="round"/>
<path d="M192.4,265.5 L195.7,268.1 L200.2,270.8 L191.8,296.5 L189.1,294.0 L187.7,291.6Z" fill="#2c981a" stroke="#2c981a" stroke-width="0.6" stroke-linejoin="round"/><path d="M192.4,265.5 L195.7,268.1 L200.2,270.8 M187.7,291.6 L189.1,294.0 L191.8,296.5" fill="none" stroke="#1c5a10" stroke-width="0.9" stroke-linejoin="round"/>
<path d="M92.8,541.3 L96.5,545.5 L100.9,548.9 L96.6,551.4 L92.1,547.9 L88.4,543.6Z" fill="#2c981a" stroke="#2c981a" stroke-width="0.6" stroke-linejoin="round"/><path d="M92.8,541.3 L96.5,545.5 L100.9,548.9 M88.4,543.6 L92.1,547.9 L96.6,551.4" fill="none" stroke="#1c5a10" stroke-width="0.9" stroke-linejoin="round"/>
<path d="M369.6,268.6 L369.7,267.6 L374.7,291.8 L376.0,292.4Z" fill="#32b21c" stroke="#32b21c" stroke-width="0.6" stroke-linejoin="round"/><path d="M369.6,268.6 L369.7,267.6 M376.0,292.4 L374.7,291.8" fill="none" stroke="#1c5a10" stroke-width="0.9" stroke-linejoin="round"/>
<path d="M362.0,305.5 L360.9,308.8 L364.2,321.7 L363.9,318.4Z" fill="#32b21c" stroke="#32b21c" stroke-width="0.6" stroke-linejoin="round"/><path d="M362.0,305.5 L360.9,308.8 M363.9,318.4 L364.2,321.7" fill="none" stroke="#1c5a10" stroke-width="0.9" stroke-linejoin="round"/>
<path d="M133.1,540.4 L135.8,536.1 L137.5,531.2 L138.0,526.0 L137.2,520.6 L134.7,524.9 L135.2,530.2 L134.5,535.3 L132.6,540.0 L129.7,544.0Z" fill="#32b21c" stroke="#32b21c" stroke-width="0.6" stroke-linejoin="round"/><path d="M133.1,540.4 L135.8,536.1 L137.5,531.2 L138.0,526.0 L137.2,520.6 M129.7,544.0 L132.6,540.0 L134.5,535.3 L135.2,530.2 L134.7,524.9" fill="none" stroke="#1c5a10" stroke-width="0.9" stroke-linejoin="round"/>
<path d="M420.7,289.3 L417.7,293.3 L413.8,297.1 L423.5,315.4 L426.3,311.3 L427.9,307.2Z" fill="#4af628" stroke="#4af628" stroke-width="0.6" stroke-linejoin="round"/><path d="M420.7,289.3 L417.7,293.3 L413.8,297.1 M427.9,307.2 L426.3,311.3 L423.5,315.4" fill="none" stroke="#1c5a10" stroke-width="0.9" stroke-linejoin="round"/>
<path d="M364.7,364.3 L367.2,367.7 L370.9,371.4 L356.7,395.5 L354.8,392.4 L354.4,389.7Z" fill="#2c981a" stroke="#2c981a" stroke-width="0.6" stroke-linejoin="round"/><path d="M364.7,364.3 L367.2,367.7 L370.9,371.4 M354.4,389.7 L354.8,392.4 L356.7,395.5" fill="none" stroke="#1c5a10" stroke-width="0.9" stroke-linejoin="round"/>
<path d="M93.6,509.5 L90.6,514.2 L88.8,519.6 L88.0,525.2 L88.5,530.9 L90.1,536.4 L92.8,541.3 L88.4,543.6 L85.7,538.7 L84.1,533.3 L83.7,527.8 L84.6,522.4 L86.8,517.4 L90.1,513.1Z" fill="#1e6812" stroke="#1e6812" stroke-width="0.6" stroke-linejoin="round"/><path d="M93.6,509.5 L90.6,514.2 L88.8,519.6 L88.0,525.2 L88.5,530.9 L90.1,536.4 L92.8,541.3 M90.1,513.1 L86.8,517.4 L84.6,522.4 L83.7,527.8 L84.1,533.3 L85.7,538.7 L88.4,543.6" fill="none" stroke="#1c5a10" stroke-width="0.9" stroke-linejoin="round"/>
<path d="M364.9,224.6 L368.5,223.5 L373.0,222.6 L372.5,246.8 L369.1,247.9 L366.8,249.1Z" fill="#2c981a" stroke="#2c981a" stroke-width="0.6" stroke-linejoin="round"/><path d="M364.9,224.6 L368.5,223.5 L373.0,222.6 M366.8,249.1 L369.1,247.9 L372.5,246.8" fill="none" stroke="#1c5a10" stroke-width="0.9" stroke-linejoin="round"/>
<path d="M227.1,311.9 L230.5,314.1 L232.2,316.0 L224.7,335.6 L222.9,330.0 L220.2,324.3Z" fill="#2c981a" stroke="#2c981a" stroke-width="0.6" stroke-linejoin="round"/><path d="M227.1,311.9 L230.5,314.1 L232.2,316.0 M220.2,324.3 L222.9,330.0 L224.7,335.6" fill="none" stroke="#1c5a10" stroke-width="0.9" stroke-linejoin="round"/>
<path d="M74.6,438.8 L75.3,443.5 L96.7,452.4 L97.0,446.9Z" fill="#4af628" stroke="#4af628" stroke-width="0.6" stroke-linejoin="round"/><path d="M74.6,438.8 L75.3,443.5 M97.0,446.9 L96.7,452.4" fill="none" stroke="#1c5a10" stroke-width="0.9" stroke-linejoin="round"/>
<path d="M321.9,286.5 L323.2,285.9 L325.5,285.4 L324.5,304.2 L323.7,304.8 L323.8,305.3Z" fill="#1e6812" stroke="#1e6812" stroke-width="0.6" stroke-linejoin="round"/><path d="M321.9,286.5 L323.2,285.9 L325.5,285.4 M323.8,305.3 L323.7,304.8 L324.5,304.2" fill="none" stroke="#1c5a10" stroke-width="0.9" stroke-linejoin="round"/>
<path d="M323.5,248.3 L324.5,250.5 L324.1,252.6 L323.7,277.0 L322.1,274.8 L319.3,272.6Z" fill="#1e6812" stroke="#1e6812" stroke-width="0.6" stroke-linejoin="round"/><path d="M323.5,248.3 L324.5,250.5 L324.1,252.6 M319.3,272.6 L322.1,274.8 L323.7,277.0" fill="none" stroke="#1c5a10" stroke-width="0.9" stroke-linejoin="round"/>
<path d="M272.6,221.7 L274.1,223.9 L276.9,226.1 L272.7,250.4 L271.8,248.2 L272.3,246.1Z" fill="#1e6812" stroke="#1e6812" stroke-width="0.6" stroke-linejoin="round"/><path d="M272.6,221.7 L274.1,223.9 L276.9,226.1 M272.3,246.1 L271.8,248.2 L272.7,250.4" fill="none" stroke="#1c5a10" stroke-width="0.9" stroke-linejoin="round"/>
<path d="M360.9,308.8 L358.9,312.1 L363.6,325.1 L364.2,321.7Z" fill="#42e224" stroke="#42e224" stroke-width="0.6" stroke-linejoin="round"/><path d="M360.9,308.8 L358.9,312.1 M364.2,321.7 L363.6,325.1" fill="none" stroke="#1c5a10" stroke-width="0.9" stroke-linejoin="round"/>
<path d="M10.5,498.2 L11.4,502.4 L13.4,506.8 L10.1,520.5 L8.6,520.0 L8.9,519.7Z" fill="#1e6812" stroke="#1e6812" stroke-width="0.6" stroke-linejoin="round"/><path d="M10.5,498.2 L11.4,502.4 L13.4,506.8 M8.9,519.7 L8.6,520.0 L10.1,520.5" fill="none" stroke="#1c5a10" stroke-width="0.9" stroke-linejoin="round"/>
<path d="M263.4,165.1 L263.9,168.7 L263.6,172.2 L262.6,184.0 L261.4,183.6 L258.8,183.1Z" fill="#1e6812" stroke="#1e6812" stroke-width="0.6" stroke-linejoin="round"/><path d="M263.4,165.1 L263.9,168.7 L263.6,172.2 M258.8,183.1 L261.4,183.6 L262.6,184.0" fill="none" stroke="#1c5a10" stroke-width="0.9" stroke-linejoin="round"/>
<path d="M117.5,475.5 L120.7,477.1 L139.0,489.7 L136.7,486.7Z" fill="#32b21c" stroke="#32b21c" stroke-width="0.6" stroke-linejoin="round"/><path d="M117.5,475.5 L120.7,477.1 M136.7,486.7 L139.0,489.7" fill="none" stroke="#1c5a10" stroke-width="0.9" stroke-linejoin="round"/>
<path d="M322.7,308.3 L323.5,310.5 L323.0,312.6 L322.8,337.0 L321.3,334.9 L318.6,332.7Z" fill="#1e6812" stroke="#1e6812" stroke-width="0.6" stroke-linejoin="round"/><path d="M322.7,308.3 L323.5,310.5 L323.0,312.6 M318.6,332.7 L321.3,334.9 L322.8,337.0" fill="none" stroke="#1c5a10" stroke-width="0.9" stroke-linejoin="round"/>
<path d="M369.0,84.0 C367.5,82.5 363.5,77.0 360.0,75.0 C356.5,73.0 351.8,71.2 348.0,72.0 C344.2,72.8 339.0,75.8 337.0,80.0 C335.0,84.2 334.7,91.7 336.0,97.0 C337.3,102.3 342.7,107.5 345.0,112.0 C347.3,116.5 350.2,119.7 350.0,124.0 C349.8,128.3 344.5,133.7 344.0,138.0 C343.5,142.3 344.7,146.3 347.0,150.0 C349.3,153.7 356.2,158.3 358.0,160.0" fill="none" stroke="#1c5a10" stroke-width="5.0" stroke-linecap="round" stroke-linejoin="round"/><path d="M369.0,84.0 C367.5,82.5 363.5,77.0 360.0,75.0 C356.5,73.0 351.8,71.2 348.0,72.0 C344.2,72.8 339.0,75.8 337.0,80.0 C335.0,84.2 334.7,91.7 336.0,97.0 C337.3,102.3 342.7,107.5 345.0,112.0 C347.3,116.5 350.2,119.7 350.0,124.0 C349.8,128.3 344.5,133.7 344.0,138.0 C343.5,142.3 344.7,146.3 347.0,150.0 C349.3,153.7 356.2,158.3 358.0,160.0" fill="none" stroke="#4cf22c" stroke-width="3.4" stroke-linecap="round" stroke-linejoin="round"/>
<path d="M50.0,382.0 C49.8,384.3 45.7,393.8 49.0,396.0 C52.3,398.2 63.2,393.7 70.0,395.0 C76.8,396.3 86.7,402.5 90.0,404.0" fill="none" stroke="#1c5a10" stroke-width="5.0" stroke-linecap="round" stroke-linejoin="round"/><path d="M50.0,382.0 C49.8,384.3 45.7,393.8 49.0,396.0 C52.3,398.2 63.2,393.7 70.0,395.0 C76.8,396.3 86.7,402.5 90.0,404.0" fill="none" stroke="#4cf22c" stroke-width="3.4" stroke-linecap="round" stroke-linejoin="round"/>
<path d="M273.5,161.7 L274.9,163.8 L277.6,166.0 L273.5,190.4 L272.8,188.2 L273.4,186.1Z" fill="#1e6812" stroke="#1e6812" stroke-width="0.6" stroke-linejoin="round"/><path d="M273.5,161.7 L274.9,163.8 L277.6,166.0 M273.4,186.1 L272.8,188.2 L273.5,190.4" fill="none" stroke="#1c5a10" stroke-width="0.9" stroke-linejoin="round"/>
<path d="M67.7,467.5 L67.6,469.8 L64.8,495.0 L62.9,492.5Z" fill="#1e6812" stroke="#1e6812" stroke-width="0.6" stroke-linejoin="round"/><path d="M67.7,467.5 L67.6,469.8 M62.9,492.5 L64.8,495.0" fill="none" stroke="#1c5a10" stroke-width="0.9" stroke-linejoin="round"/>
<path d="M220.4,136.7 L221.6,138.7 L223.8,140.9 L218.7,162.1 L218.1,160.1 L218.8,158.3Z" fill="#1e6812" stroke="#1e6812" stroke-width="0.6" stroke-linejoin="round"/><path d="M220.4,136.7 L221.6,138.7 L223.8,140.9 M218.8,158.3 L218.1,160.1 L218.7,162.1" fill="none" stroke="#1c5a10" stroke-width="0.9" stroke-linejoin="round"/>
<path d="M412.5,232.9 L414.2,236.5 L414.7,240.4 L418.9,258.6 L416.9,255.1 L413.7,252.1Z" fill="#1e6812" stroke="#1e6812" stroke-width="0.6" stroke-linejoin="round"/><path d="M412.5,232.9 L414.2,236.5 L414.7,240.4 M413.7,252.1 L416.9,255.1 L418.9,258.6" fill="none" stroke="#1c5a10" stroke-width="0.9" stroke-linejoin="round"/>
<path d="M325.8,135.9 L326.2,136.2 L325.6,153.3 L324.2,149.3Z" fill="#1e6812" stroke="#1e6812" stroke-width="0.6" stroke-linejoin="round"/><path d="M325.8,135.9 L326.2,136.2 M324.2,149.3 L325.6,153.3" fill="none" stroke="#1c5a10" stroke-width="0.9" stroke-linejoin="round"/>
<path d="M413.8,297.1 L409.1,300.6 L404.1,303.6 L398.8,306.0 L393.7,308.0 L388.9,309.3 L399.9,330.6 L405.0,328.5 L410.3,325.9 L415.3,322.8 L419.7,319.2 L423.5,315.4Z" fill="#4dff2a" stroke="#4dff2a" stroke-width="0.6" stroke-linejoin="round"/><path d="M413.8,297.1 L409.1,300.6 L404.1,303.6 L398.8,306.0 L393.7,308.0 L388.9,309.3 M423.5,315.4 L419.7,319.2 L415.3,322.8 L410.3,325.9 L405.0,328.5 L399.9,330.6" fill="none" stroke="#1c5a10" stroke-width="0.9" stroke-linejoin="round"/>
<path d="M269.0,112.3 L268.9,114.2 L266.5,135.6 L264.9,133.6Z" fill="#1e6812" stroke="#1e6812" stroke-width="0.6" stroke-linejoin="round"/><path d="M269.0,112.3 L268.9,114.2 M264.9,133.6 L266.5,135.6" fill="none" stroke="#1c5a10" stroke-width="0.9" stroke-linejoin="round"/>
<path d="M270.8,341.8 L272.7,344.0 L269.9,368.3 L270.0,366.2Z" fill="#1e6812" stroke="#1e6812" stroke-width="0.6" stroke-linejoin="round"/><path d="M270.8,341.8 L272.7,344.0 M270.0,366.2 L269.9,368.3" fill="none" stroke="#1c5a10" stroke-width="0.9" stroke-linejoin="round"/>
<path d="M169.9,334.2 L171.0,335.8 L173.5,337.9 L163.2,363.5 L162.7,362.1 L163.7,361.0Z" fill="#1e6812" stroke="#1e6812" stroke-width="0.6" stroke-linejoin="round"/><path d="M169.9,334.2 L171.0,335.8 L173.5,337.9 M163.7,361.0 L162.7,362.1 L163.2,363.5" fill="none" stroke="#1c5a10" stroke-width="0.9" stroke-linejoin="round"/>
<path d="M139.2,401.6 L142.8,400.0 L146.7,398.0 L150.8,395.8 L154.9,393.7 L158.9,391.6 L162.6,389.9 L165.9,388.6 L168.6,387.8 L179.3,402.7 L175.8,404.2 L171.9,406.1 L167.9,408.2 L163.8,410.4 L159.8,412.5 L156.0,414.3 L152.6,415.7 L149.7,416.6Z" fill="#3ac420" stroke="#3ac420" stroke-width="0.6" stroke-linejoin="round"/><path d="M139.2,401.6 L142.8,400.0 L146.7,398.0 L150.8,395.8 L154.9,393.7 L158.9,391.6 L162.6,389.9 L165.9,388.6 L168.6,387.8 M149.7,416.6 L152.6,415.7 L156.0,414.3 L159.8,412.5 L163.8,410.4 L167.9,408.2 L171.9,406.1 L175.8,404.2 L179.3,402.7" fill="none" stroke="#1c5a10" stroke-width="0.9" stroke-linejoin="round"/>
<path d="M127.5,419.4 L125.7,421.9 L149.9,433.7 L150.9,432.6Z" fill="#42e224" stroke="#42e224" stroke-width="0.6" stroke-linejoin="round"/><path d="M127.5,419.4 L125.7,421.9 M150.9,432.6 L149.9,433.7" fill="none" stroke="#1c5a10" stroke-width="0.9" stroke-linejoin="round"/>
<path d="M72.9,404.9 L73.2,407.2 L72.1,409.3 L70.7,434.7 L69.7,432.3 L67.4,429.9Z" fill="#1e6812" stroke="#1e6812" stroke-width="0.6" stroke-linejoin="round"/><path d="M72.9,404.9 L73.2,407.2 L72.1,409.3 M67.4,429.9 L69.7,432.3 L70.7,434.7" fill="none" stroke="#1c5a10" stroke-width="0.9" stroke-linejoin="round"/>
<path d="M325.5,190.4 L325.2,192.6 L324.6,217.0 L322.8,214.8Z" fill="#1e6812" stroke="#1e6812" stroke-width="0.6" stroke-linejoin="round"/><path d="M325.5,190.4 L325.2,192.6 M322.8,214.8 L324.6,217.0" fill="none" stroke="#1c5a10" stroke-width="0.9" stroke-linejoin="round"/>
<path d="M16.0,433.7 L16.9,436.0 L19.2,438.5 L13.7,463.5 L13.5,461.2 L14.7,459.0Z" fill="#1e6812" stroke="#1e6812" stroke-width="0.6" stroke-linejoin="round"/><path d="M16.0,433.7 L16.9,436.0 L19.2,438.5 M14.7,459.0 L13.5,461.2 L13.7,463.5" fill="none" stroke="#1c5a10" stroke-width="0.9" stroke-linejoin="round"/>
<path d="M166.8,443.9 L167.0,443.0 L166.5,443.2 L189.2,457.8 L188.8,458.9 L187.6,461.0Z" fill="#1e6812" stroke="#1e6812" stroke-width="0.6" stroke-linejoin="round"/><path d="M166.8,443.9 L167.0,443.0 L166.5,443.2 M187.6,461.0 L188.8,458.9 L189.2,457.8" fill="none" stroke="#1c5a10" stroke-width="0.9" stroke-linejoin="round"/>
<path d="M271.7,281.7 L273.4,283.9 L270.9,308.3 L271.1,306.1Z" fill="#1e6812" stroke="#1e6812" stroke-width="0.6" stroke-linejoin="round"/><path d="M271.7,281.7 L273.4,283.9 M271.1,306.1 L270.9,308.3" fill="none" stroke="#1c5a10" stroke-width="0.9" stroke-linejoin="round"/>
<path d="M224.9,83.5 L225.8,85.5 L227.8,87.6 L223.1,108.9 L222.8,106.9 L223.8,105.1Z" fill="#1e6812" stroke="#1e6812" stroke-width="0.6" stroke-linejoin="round"/><path d="M224.9,83.5 L225.8,85.5 L227.8,87.6 M223.8,105.1 L222.8,106.9 L223.1,108.9" fill="none" stroke="#1c5a10" stroke-width="0.9" stroke-linejoin="round"/>
<path d="M274.5,397.9 L269.6,399.7 L265.4,402.6 L261.9,406.5 L258.6,410.2 L262.3,406.6 L266.8,403.8 L271.9,402.1Z" fill="#32b21c" stroke="#32b21c" stroke-width="0.6" stroke-linejoin="round"/><path d="M274.5,397.9 L269.6,399.7 L265.4,402.6 L261.9,406.5 M271.9,402.1 L266.8,403.8 L262.3,406.6 L258.6,410.2" fill="none" stroke="#1c5a10" stroke-width="0.9" stroke-linejoin="round"/>
<path d="M283.2,447.1 L288.1,446.8 L292.5,445.4 L296.3,442.9 L299.2,439.5 L295.2,444.3 L292.1,447.5 L288.2,449.8 L283.7,451.0 L278.7,451.0Z" fill="#1e6812" stroke="#1e6812" stroke-width="0.6" stroke-linejoin="round"/><path d="M283.2,447.1 L288.1,446.8 L292.5,445.4 L296.3,442.9 L299.2,439.5 M278.7,451.0 L283.7,451.0 L288.2,449.8 L292.1,447.5 L295.2,444.3" fill="none" stroke="#1c5a10" stroke-width="0.9" stroke-linejoin="round"/>
<path d="M272.8,62.2 L273.5,62.6 L272.6,62.8 L271.6,84.4 L271.0,80.8 L269.6,77.1Z" fill="#1e6812" stroke="#1e6812" stroke-width="0.6" stroke-linejoin="round"/><path d="M272.8,62.2 L273.5,62.6 L272.6,62.8 M269.6,77.1 L271.0,80.8 L271.6,84.4" fill="none" stroke="#1c5a10" stroke-width="0.9" stroke-linejoin="round"/>
<path d="M83.5,404.4 L81.1,409.6 L78.9,415.3 L77.0,421.4 L75.5,427.5 L74.7,433.4 L74.6,438.8 L97.0,446.9 L97.9,440.9 L99.5,434.8 L101.5,428.8 L103.8,423.1 L106.2,418.1 L108.5,413.9Z" fill="#4dff2a" stroke="#4dff2a" stroke-width="0.6" stroke-linejoin="round"/><path d="M83.5,404.4 L81.1,409.6 L78.9,415.3 L77.0,421.4 L75.5,427.5 L74.7,433.4 L74.6,438.8 M108.5,413.9 L106.2,418.1 L103.8,423.1 L101.5,428.8 L99.5,434.8 L97.9,440.9 L97.0,446.9" fill="none" stroke="#1c5a10" stroke-width="0.9" stroke-linejoin="round"/>
<path d="M112.7,500.8 L107.2,501.2 L102.1,502.8 L97.4,505.6 L93.6,509.5 L90.1,513.1 L94.4,509.6 L99.4,507.0 L104.9,505.6 L110.6,505.3Z" fill="#32b21c" stroke="#32b21c" stroke-width="0.6" stroke-linejoin="round"/><path d="M112.7,500.8 L107.2,501.2 L102.1,502.8 L97.4,505.6 L93.6,509.5 M110.6,505.3 L104.9,505.6 L99.4,507.0 L94.4,509.6 L90.1,513.1" fill="none" stroke="#1c5a10" stroke-width="0.9" stroke-linejoin="round"/>
<path d="M100.9,548.9 L105.8,551.1 L111.1,552.1 L116.3,551.9 L121.2,550.5 L125.6,548.0 L129.2,544.5 L125.8,548.2 L122.0,551.5 L117.4,553.8 L112.3,555.0 L107.0,555.0 L101.6,553.8 L96.6,551.4Z" fill="#1e6812" stroke="#1e6812" stroke-width="0.6" stroke-linejoin="round"/><path d="M100.9,548.9 L105.8,551.1 L111.1,552.1 L116.3,551.9 L121.2,550.5 L125.6,548.0 L129.2,544.5 M96.6,551.4 L101.6,553.8 L107.0,555.0 L112.3,555.0 L117.4,553.8 L122.0,551.5 L125.8,548.2" fill="none" stroke="#1c5a10" stroke-width="0.9" stroke-linejoin="round"/>
<path d="M330.0,251.7 L334.6,250.9 L339.4,250.6 L344.1,250.8 L348.4,251.5 L351.9,253.8 L348.5,268.4 L344.3,266.7 L340.2,264.3 L336.1,262.1 L332.2,260.3 L328.5,258.8Z" fill="#3ac420" stroke="#3ac420" stroke-width="0.6" stroke-linejoin="round"/><path d="M330.0,251.7 L334.6,250.9 L339.4,250.6 L344.1,250.8 L348.4,251.5 L351.9,253.8 M328.5,258.8 L332.2,260.3 L336.1,262.1 L340.2,264.3 L344.3,266.7 L348.5,268.4" fill="none" stroke="#1c5a10" stroke-width="0.9" stroke-linejoin="round"/>
<path d="M162.8,502.6 L167.3,501.8 L172.2,499.9 L188.5,516.7 L184.1,517.3 L180.3,516.7Z" fill="#2c981a" stroke="#2c981a" stroke-width="0.6" stroke-linejoin="round"/><path d="M162.8,502.6 L167.3,501.8 L172.2,499.9 M180.3,516.7 L184.1,517.3 L188.5,516.7" fill="none" stroke="#1c5a10" stroke-width="0.9" stroke-linejoin="round"/>
<path d="M308.1,424.2 L307.8,419.3 L306.4,414.4 L303.8,409.8 L301.0,414.7 L303.3,419.5 L304.5,424.4 L304.5,429.2Z" fill="#42e224" stroke="#42e224" stroke-width="0.6" stroke-linejoin="round"/><path d="M308.1,424.2 L307.8,419.3 L306.4,414.4 L303.8,409.8 M304.5,429.2 L304.5,424.4 L303.3,419.5 L301.0,414.7" fill="none" stroke="#1c5a10" stroke-width="0.9" stroke-linejoin="round"/>
<path d="M358.9,312.1 L356.6,316.2 L353.8,320.1 L358.7,329.6 L361.7,327.5 L363.6,325.1Z" fill="#4af628" stroke="#4af628" stroke-width="0.6" stroke-linejoin="round"/><path d="M358.9,312.1 L356.6,316.2 L353.8,320.1 M363.6,325.1 L361.7,327.5 L358.7,329.6" fill="none" stroke="#1c5a10" stroke-width="0.9" stroke-linejoin="round"/>
<path d="M243.8,294.9 L244.0,297.3 L241.1,323.4 L238.8,320.9Z" fill="#1e6812" stroke="#1e6812" stroke-width="0.6" stroke-linejoin="round"/><path d="M243.8,294.9 L244.0,297.3 M238.8,320.9 L241.1,323.4" fill="none" stroke="#1c5a10" stroke-width="0.9" stroke-linejoin="round"/>
<path d="M216.3,380.4 L213.8,383.1 L209.9,407.4 L210.3,404.1Z" fill="#32b21c" stroke="#32b21c" stroke-width="0.6" stroke-linejoin="round"/><path d="M216.3,380.4 L213.8,383.1 M210.3,404.1 L209.9,407.4" fill="none" stroke="#1c5a10" stroke-width="0.9" stroke-linejoin="round"/>
<path d="M137.2,520.6 L135.3,515.5 L132.2,510.8 L128.2,506.8 L123.5,503.6 L118.2,501.6 L112.7,500.8 L110.6,505.3 L116.2,506.2 L121.5,508.2 L126.2,511.3 L130.1,515.3 L132.9,519.9 L134.7,524.9Z" fill="#42e224" stroke="#42e224" stroke-width="0.6" stroke-linejoin="round"/><path d="M137.2,520.6 L135.3,515.5 L132.2,510.8 L128.2,506.8 L123.5,503.6 L118.2,501.6 L112.7,500.8 M134.7,524.9 L132.9,519.9 L130.1,515.3 L126.2,511.3 L121.5,508.2 L116.2,506.2 L110.6,505.3" fill="none" stroke="#1c5a10" stroke-width="0.9" stroke-linejoin="round"/>
<path d="M247.8,229.7 L248.6,232.1 L248.0,234.4 L246.3,260.6 L244.8,258.2 L242.0,255.6Z" fill="#1e6812" stroke="#1e6812" stroke-width="0.6" stroke-linejoin="round"/><path d="M247.8,229.7 L248.6,232.1 L248.0,234.4 M242.0,255.6 L244.8,258.2 L246.3,260.6" fill="none" stroke="#1c5a10" stroke-width="0.9" stroke-linejoin="round"/>
<path d="M194.4,197.8 L195.9,200.3 L198.7,202.8 L192.9,228.8 L192.1,226.4 L192.8,224.1Z" fill="#1e6812" stroke="#1e6812" stroke-width="0.6" stroke-linejoin="round"/><path d="M194.4,197.8 L195.9,200.3 L198.7,202.8 M192.8,224.1 L192.1,226.4 L192.9,228.8" fill="none" stroke="#1c5a10" stroke-width="0.9" stroke-linejoin="round"/>
<path d="M426.6,351.2 L427.3,351.8 L422.5,366.0 L422.3,361.2Z" fill="#1e6812" stroke="#1e6812" stroke-width="0.6" stroke-linejoin="round"/><path d="M426.6,351.2 L427.3,351.8 M422.3,361.2 L422.5,366.0" fill="none" stroke="#1c5a10" stroke-width="0.9" stroke-linejoin="round"/>
<path d="M372.9,269.5 L370.6,269.3 L369.6,268.6 L376.0,292.4 L378.5,292.6 L382.1,292.2Z" fill="#42e224" stroke="#42e224" stroke-width="0.6" stroke-linejoin="round"/><path d="M372.9,269.5 L370.6,269.3 L369.6,268.6 M382.1,292.2 L378.5,292.6 L376.0,292.4" fill="none" stroke="#1c5a10" stroke-width="0.9" stroke-linejoin="round"/>
<path d="M251.6,174.7 L252.4,175.1 L251.0,189.5 L249.7,185.1Z" fill="#1e6812" stroke="#1e6812" stroke-width="0.6" stroke-linejoin="round"/><path d="M251.6,174.7 L252.4,175.1 M249.7,185.1 L251.0,189.5" fill="none" stroke="#1c5a10" stroke-width="0.9" stroke-linejoin="round"/>
<path d="M190.3,263.1 L192.4,265.5 L187.7,291.6 L187.8,289.2Z" fill="#1e6812" stroke="#1e6812" stroke-width="0.6" stroke-linejoin="round"/><path d="M190.3,263.1 L192.4,265.5 M187.8,289.2 L187.7,291.6" fill="none" stroke="#1c5a10" stroke-width="0.9" stroke-linejoin="round"/>
<path d="M321.5,287.1 L321.9,286.5 L323.8,305.3 L324.9,305.7Z" fill="#32b21c" stroke="#32b21c" stroke-width="0.6" stroke-linejoin="round"/><path d="M321.5,287.1 L321.9,286.5 M324.9,305.7 L323.8,305.3" fill="none" stroke="#1c5a10" stroke-width="0.9" stroke-linejoin="round"/>
<path d="M351.9,253.8 L354.6,256.5 L356.5,259.6 L355.4,273.1 L352.3,270.6 L348.5,268.4Z" fill="#2c981a" stroke="#2c981a" stroke-width="0.6" stroke-linejoin="round"/><path d="M351.9,253.8 L354.6,256.5 L356.5,259.6 M348.5,268.4 L352.3,270.6 L355.4,273.1" fill="none" stroke="#1c5a10" stroke-width="0.9" stroke-linejoin="round"/>
<path d="M202.0,473.5 L203.8,470.8 L204.8,468.9 L225.6,485.9 L223.6,488.9 L220.8,492.5Z" fill="#2c981a" stroke="#2c981a" stroke-width="0.6" stroke-linejoin="round"/><path d="M202.0,473.5 L203.8,470.8 L204.8,468.9 M220.8,492.5 L223.6,488.9 L225.6,485.9" fill="none" stroke="#1c5a10" stroke-width="0.9" stroke-linejoin="round"/>
<path d="M410.1,406.5 L409.9,409.0 L408.2,411.1 L401.0,437.3 L400.5,434.6 L398.6,431.5Z" fill="#1e6812" stroke="#1e6812" stroke-width="0.6" stroke-linejoin="round"/><path d="M410.1,406.5 L409.9,409.0 L408.2,411.1 M398.6,431.5 L400.5,434.6 L401.0,437.3" fill="none" stroke="#1c5a10" stroke-width="0.9" stroke-linejoin="round"/>
<path d="M232.2,316.0 L232.3,317.6 L225.5,341.0 L224.7,335.6Z" fill="#1e6812" stroke="#1e6812" stroke-width="0.6" stroke-linejoin="round"/><path d="M232.2,316.0 L232.3,317.6 M224.7,335.6 L225.5,341.0" fill="none" stroke="#1c5a10" stroke-width="0.9" stroke-linejoin="round"/>
<path d="M268.9,114.2 L267.6,116.0 L267.0,137.6 L266.5,135.6Z" fill="#32b21c" stroke="#32b21c" stroke-width="0.6" stroke-linejoin="round"/><path d="M268.9,114.2 L267.6,116.0 M266.5,135.6 L267.0,137.6" fill="none" stroke="#1c5a10" stroke-width="0.9" stroke-linejoin="round"/>
<path d="M353.8,320.1 L350.7,323.7 L347.3,327.0 L350.6,332.9 L354.9,331.4 L358.7,329.6Z" fill="#4dff2a" stroke="#4dff2a" stroke-width="0.6" stroke-linejoin="round"/><path d="M353.8,320.1 L350.7,323.7 L347.3,327.0 M358.7,329.6 L354.9,331.4 L350.6,332.9" fill="none" stroke="#1c5a10" stroke-width="0.9" stroke-linejoin="round"/>
<path d="M67.6,469.8 L66.0,471.9 L65.3,497.3 L64.8,495.0Z" fill="#32b21c" stroke="#32b21c" stroke-width="0.6" stroke-linejoin="round"/><path d="M67.6,469.8 L66.0,471.9 M64.8,495.0 L65.3,497.3" fill="none" stroke="#1c5a10" stroke-width="0.9" stroke-linejoin="round"/>
<path d="M363.5,361.4 L364.7,364.3 L354.4,389.7 L355.4,387.4Z" fill="#1e6812" stroke="#1e6812" stroke-width="0.6" stroke-linejoin="round"/><path d="M363.5,361.4 L364.7,364.3 M355.4,387.4 L354.4,389.7" fill="none" stroke="#1c5a10" stroke-width="0.9" stroke-linejoin="round"/>
<path d="M326.2,136.2 L325.0,136.5 L326.0,157.2 L325.6,153.3Z" fill="#32b21c" stroke="#32b21c" stroke-width="0.6" stroke-linejoin="round"/><path d="M326.2,136.2 L325.0,136.5 M325.6,153.3 L326.0,157.2" fill="none" stroke="#1c5a10" stroke-width="0.9" stroke-linejoin="round"/>
<path d="M136.1,402.7 L139.2,401.6 L149.7,416.6 L147.4,416.8Z" fill="#2c981a" stroke="#2c981a" stroke-width="0.6" stroke-linejoin="round"/><path d="M136.1,402.7 L139.2,401.6 M147.4,416.8 L149.7,416.6" fill="none" stroke="#1c5a10" stroke-width="0.9" stroke-linejoin="round"/>
<path d="M270.3,339.6 L270.8,341.8 L270.0,366.2 L271.5,364.1Z" fill="#32b21c" stroke="#32b21c" stroke-width="0.6" stroke-linejoin="round"/><path d="M270.3,339.6 L270.8,341.8 M271.5,364.1 L270.0,366.2" fill="none" stroke="#1c5a10" stroke-width="0.9" stroke-linejoin="round"/>
<path d="M290.7,399.4 L285.3,397.8 L279.8,397.2 L274.5,397.9 L271.9,402.1 L277.4,401.6 L283.0,402.2 L288.4,403.9Z" fill="#42e224" stroke="#42e224" stroke-width="0.6" stroke-linejoin="round"/><path d="M290.7,399.4 L285.3,397.8 L279.8,397.2 L274.5,397.9 M288.4,403.9 L283.0,402.2 L277.4,401.6 L271.9,402.1" fill="none" stroke="#1c5a10" stroke-width="0.9" stroke-linejoin="round"/>
<path d="M414.7,240.4 L414.0,244.5 L419.7,262.5 L418.9,258.6Z" fill="#32b21c" stroke="#32b21c" stroke-width="0.6" stroke-linejoin="round"/><path d="M414.7,240.4 L414.0,244.5 M418.9,258.6 L419.7,262.5" fill="none" stroke="#1c5a10" stroke-width="0.9" stroke-linejoin="round"/>
<path d="M325.2,192.6 L323.7,194.7 L325.0,219.1 L324.6,217.0Z" fill="#32b21c" stroke="#32b21c" stroke-width="0.6" stroke-linejoin="round"/><path d="M325.2,192.6 L323.7,194.7 M324.6,217.0 L325.0,219.1" fill="none" stroke="#1c5a10" stroke-width="0.9" stroke-linejoin="round"/>
<path d="M113.4,469.0 L115.0,472.7 L117.5,475.5 L136.7,486.7 L135.3,482.8 L134.7,477.9Z" fill="#42e224" stroke="#42e224" stroke-width="0.6" stroke-linejoin="round"/><path d="M113.4,469.0 L115.0,472.7 L117.5,475.5 M134.7,477.9 L135.3,482.8 L136.7,486.7" fill="none" stroke="#1c5a10" stroke-width="0.9" stroke-linejoin="round"/>
<path d="M271.3,279.6 L271.7,281.7 L271.1,306.1 L272.7,304.0Z" fill="#32b21c" stroke="#32b21c" stroke-width="0.6" stroke-linejoin="round"/><path d="M271.3,279.6 L271.7,281.7 M272.7,304.0 L271.1,306.1" fill="none" stroke="#1c5a10" stroke-width="0.9" stroke-linejoin="round"/>
<path d="M168.6,387.8 L170.8,387.8 L182.4,401.6 L179.3,402.7Z" fill="#2c981a" stroke="#2c981a" stroke-width="0.6" stroke-linejoin="round"/><path d="M168.6,387.8 L170.8,387.8 M179.3,402.7 L182.4,401.6" fill="none" stroke="#1c5a10" stroke-width="0.9" stroke-linejoin="round"/>
<path d="M263.6,172.2 L262.4,175.6 L262.3,184.3 L262.6,184.0Z" fill="#32b21c" stroke="#32b21c" stroke-width="0.6" stroke-linejoin="round"/><path d="M263.6,172.2 L262.4,175.6 M262.6,184.0 L262.3,184.3" fill="none" stroke="#1c5a10" stroke-width="0.9" stroke-linejoin="round"/>
<path d="M303.8,409.8 L300.2,405.6 L295.8,402.1 L290.7,399.4 L288.4,403.9 L293.3,406.7 L297.6,410.4 L301.0,414.7Z" fill="#4af628" stroke="#4af628" stroke-width="0.6" stroke-linejoin="round"/><path d="M303.8,409.8 L300.2,405.6 L295.8,402.1 L290.7,399.4 M301.0,414.7 L297.6,410.4 L293.3,406.7 L288.4,403.9" fill="none" stroke="#1c5a10" stroke-width="0.9" stroke-linejoin="round"/>
<path d="M360.9,227.0 L362.3,225.8 L364.9,224.6 L366.8,249.1 L365.8,250.2 L365.9,251.1Z" fill="#1e6812" stroke="#1e6812" stroke-width="0.6" stroke-linejoin="round"/><path d="M360.9,227.0 L362.3,225.8 L364.9,224.6 M365.9,251.1 L365.8,250.2 L366.8,249.1" fill="none" stroke="#1c5a10" stroke-width="0.9" stroke-linejoin="round"/>
<path d="M324.1,252.6 L322.4,254.7 L324.0,279.2 L323.7,277.0Z" fill="#32b21c" stroke="#32b21c" stroke-width="0.6" stroke-linejoin="round"/><path d="M324.1,252.6 L322.4,254.7 M323.7,277.0 L324.0,279.2" fill="none" stroke="#1c5a10" stroke-width="0.9" stroke-linejoin="round"/>
<path d="M251.8,430.5 L253.0,436.0 L255.4,441.1 L258.8,445.7 L263.0,449.5 L267.7,452.3 L272.8,454.1 L277.8,454.7 L273.3,458.7 L268.2,457.8 L263.3,455.8 L258.6,452.7 L254.6,448.8 L251.4,444.1 L249.1,439.0 L247.9,433.6Z" fill="#2c981a" stroke="#2c981a" stroke-width="0.6" stroke-linejoin="round"/><path d="M251.8,430.5 L253.0,436.0 L255.4,441.1 L258.8,445.7 L263.0,449.5 L267.7,452.3 L272.8,454.1 L277.8,454.7 M247.9,433.6 L249.1,439.0 L251.4,444.1 L254.6,448.8 L258.6,452.7 L263.3,455.8 L268.2,457.8 L273.3,458.7" fill="none" stroke="#1c5a10" stroke-width="0.9" stroke-linejoin="round"/>
<path d="M272.3,219.5 L272.6,221.7 L272.3,246.1 L274.0,244.0Z" fill="#32b21c" stroke="#32b21c" stroke-width="0.6" stroke-linejoin="round"/><path d="M272.3,219.5 L272.6,221.7 M274.0,244.0 L272.3,246.1" fill="none" stroke="#1c5a10" stroke-width="0.9" stroke-linejoin="round"/>
<path d="M220.5,134.8 L220.4,136.7 L218.8,158.3 L220.6,156.5Z" fill="#32b21c" stroke="#32b21c" stroke-width="0.6" stroke-linejoin="round"/><path d="M220.5,134.8 L220.4,136.7 M220.6,156.5 L218.8,158.3" fill="none" stroke="#1c5a10" stroke-width="0.9" stroke-linejoin="round"/>
<path d="M364.2,182.0 L369.4,181.4 L375.0,181.3 L380.9,181.7 L386.7,182.7 L392.1,184.2 L396.9,186.3 L395.8,206.8 L390.2,205.4 L384.4,204.6 L378.6,204.3 L373.0,204.6 L367.9,205.2 L363.6,206.2Z" fill="#3ac420" stroke="#3ac420" stroke-width="0.6" stroke-linejoin="round"/><path d="M364.2,182.0 L369.4,181.4 L375.0,181.3 L380.9,181.7 L386.7,182.7 L392.1,184.2 L396.9,186.3 M363.6,206.2 L367.9,205.2 L373.0,204.6 L378.6,204.3 L384.4,204.6 L390.2,205.4 L395.8,206.8" fill="none" stroke="#1c5a10" stroke-width="0.9" stroke-linejoin="round"/>
<path d="M323.0,312.6 L321.1,314.7 L322.9,339.2 L322.8,337.0Z" fill="#32b21c" stroke="#32b21c" stroke-width="0.6" stroke-linejoin="round"/><path d="M323.0,312.6 L321.1,314.7 M322.8,337.0 L322.9,339.2" fill="none" stroke="#1c5a10" stroke-width="0.9" stroke-linejoin="round"/>
<path d="M10.7,494.0 L10.5,498.2 L8.9,519.7 L10.8,519.5Z" fill="#32b21c" stroke="#32b21c" stroke-width="0.6" stroke-linejoin="round"/><path d="M10.7,494.0 L10.5,498.2 M10.8,519.5 L8.9,519.7" fill="none" stroke="#1c5a10" stroke-width="0.9" stroke-linejoin="round"/>
<path d="M273.4,159.5 L273.5,161.7 L273.4,186.1 L275.3,184.0Z" fill="#32b21c" stroke="#32b21c" stroke-width="0.6" stroke-linejoin="round"/><path d="M273.4,159.5 L273.5,161.7 M275.3,184.0 L273.4,186.1" fill="none" stroke="#1c5a10" stroke-width="0.9" stroke-linejoin="round"/>
<path d="M125.7,421.9 L123.6,425.4 L121.3,429.9 L146.2,439.3 L148.3,435.9 L149.9,433.7Z" fill="#4af628" stroke="#4af628" stroke-width="0.6" stroke-linejoin="round"/><path d="M125.7,421.9 L123.6,425.4 L121.3,429.9 M149.9,433.7 L148.3,435.9 L146.2,439.3" fill="none" stroke="#1c5a10" stroke-width="0.9" stroke-linejoin="round"/>
<path d="M213.8,383.1 L210.0,385.5 L208.1,410.3 L209.9,407.4Z" fill="#42e224" stroke="#42e224" stroke-width="0.6" stroke-linejoin="round"/><path d="M213.8,383.1 L210.0,385.5 M209.9,407.4 L208.1,410.3" fill="none" stroke="#1c5a10" stroke-width="0.9" stroke-linejoin="round"/>
<path d="M225.3,81.6 L224.9,83.5 L223.8,105.1 L225.8,103.4Z" fill="#32b21c" stroke="#32b21c" stroke-width="0.6" stroke-linejoin="round"/><path d="M225.3,81.6 L224.9,83.5 M225.8,103.4 L223.8,105.1" fill="none" stroke="#1c5a10" stroke-width="0.9" stroke-linejoin="round"/>
<path d="M158.9,502.3 L162.8,502.6 L180.3,516.7 L177.2,515.0Z" fill="#1e6812" stroke="#1e6812" stroke-width="0.6" stroke-linejoin="round"/><path d="M158.9,502.3 L162.8,502.6 M177.2,515.0 L180.3,516.7" fill="none" stroke="#1c5a10" stroke-width="0.9" stroke-linejoin="round"/>
<path d="M140.9,362.8 L142.1,361.8 L148.7,369.1 L145.4,368.5Z" fill="#2c981a" stroke="#2c981a" stroke-width="0.6" stroke-linejoin="round"/><path d="M140.9,362.8 L142.1,361.8 M145.4,368.5 L148.7,369.1" fill="none" stroke="#1c5a10" stroke-width="0.9" stroke-linejoin="round"/>
<path d="M272.6,62.8 L270.5,64.5 L271.2,86.3 L271.6,84.4Z" fill="#32b21c" stroke="#32b21c" stroke-width="0.6" stroke-linejoin="round"/><path d="M272.6,62.8 L270.5,64.5 M271.6,84.4 L271.2,86.3" fill="none" stroke="#1c5a10" stroke-width="0.9" stroke-linejoin="round"/>
<path d="M376.0,428.0 C376.7,431.7 377.0,445.0 380.0,450.0 C383.0,455.0 388.3,458.5 394.0,458.0 C399.7,457.5 409.7,451.7 414.0,447.0 C418.3,442.3 419.8,436.2 420.0,430.0 C420.2,423.8 417.0,415.8 415.0,410.0 C413.0,404.2 409.2,397.5 408.0,395.0" fill="none" stroke="#1c5a10" stroke-width="5.0" stroke-linecap="round" stroke-linejoin="round"/><path d="M376.0,428.0 C376.7,431.7 377.0,445.0 380.0,450.0 C383.0,455.0 388.3,458.5 394.0,458.0 C399.7,457.5 409.7,451.7 414.0,447.0 C418.3,442.3 419.8,436.2 420.0,430.0 C420.2,423.8 417.0,415.8 415.0,410.0 C413.0,404.2 409.2,397.5 408.0,395.0" fill="none" stroke="#4cf22c" stroke-width="3.4" stroke-linecap="round" stroke-linejoin="round"/>
<path d="M320.0,378.0 C319.7,380.7 320.3,390.3 318.0,394.0 C315.7,397.7 309.0,397.3 306.0,400.0 C303.0,402.7 301.0,408.3 300.0,410.0" fill="none" stroke="#1c5a10" stroke-width="5.0" stroke-linecap="round" stroke-linejoin="round"/><path d="M320.0,378.0 C319.7,380.7 320.3,390.3 318.0,394.0 C315.7,397.7 309.0,397.3 306.0,400.0 C303.0,402.7 301.0,408.3 300.0,410.0" fill="none" stroke="#4cf22c" stroke-width="3.4" stroke-linecap="round" stroke-linejoin="round"/>
<path d="M35.0,516.0 C38.8,516.0 49.8,513.7 58.0,516.0 C66.2,518.3 79.7,527.7 84.0,530.0" fill="none" stroke="#1c5a10" stroke-width="5.0" stroke-linecap="round" stroke-linejoin="round"/><path d="M35.0,516.0 C38.8,516.0 49.8,513.7 58.0,516.0 C66.2,518.3 79.7,527.7 84.0,530.0" fill="none" stroke="#4cf22c" stroke-width="3.4" stroke-linecap="round" stroke-linejoin="round"/>
<path d="M134.0,540.0 C137.0,539.3 145.7,538.0 152.0,536.0 C158.3,534.0 168.7,529.3 172.0,528.0" fill="none" stroke="#1c5a10" stroke-width="5.0" stroke-linecap="round" stroke-linejoin="round"/><path d="M134.0,540.0 C137.0,539.3 145.7,538.0 152.0,536.0 C158.3,534.0 168.7,529.3 172.0,528.0" fill="none" stroke="#4cf22c" stroke-width="3.4" stroke-linecap="round" stroke-linejoin="round"/>
<path d="M345.0,322.0 C347.5,321.0 354.8,316.7 360.0,316.0 C365.2,315.3 371.7,315.7 376.0,318.0 C380.3,320.3 384.3,328.0 386.0,330.0" fill="none" stroke="#1c5a10" stroke-width="5.0" stroke-linecap="round" stroke-linejoin="round"/><path d="M345.0,322.0 C347.5,321.0 354.8,316.7 360.0,316.0 C365.2,315.3 371.7,315.7 376.0,318.0 C380.3,320.3 384.3,328.0 386.0,330.0" fill="none" stroke="#4cf22c" stroke-width="3.4" stroke-linecap="round" stroke-linejoin="round"/>
<path d="M72.1,409.3 L69.7,411.4 L70.3,436.9 L70.7,434.7Z" fill="#32b21c" stroke="#32b21c" stroke-width="0.6" stroke-linejoin="round"/><path d="M72.1,409.3 L69.7,411.4 M70.7,434.7 L70.3,436.9" fill="none" stroke="#1c5a10" stroke-width="0.9" stroke-linejoin="round"/>
<path d="M16.4,431.5 L16.0,433.7 L14.7,459.0 L17.2,457.0Z" fill="#32b21c" stroke="#32b21c" stroke-width="0.6" stroke-linejoin="round"/><path d="M16.4,431.5 L16.0,433.7 M17.2,457.0 L14.7,459.0" fill="none" stroke="#1c5a10" stroke-width="0.9" stroke-linejoin="round"/>
<path d="M210.5,524.9 L215.6,522.0 L220.7,518.5 L225.6,514.4 L231.4,511.6 L236.7,508.8 L241.5,506.3 L245.7,504.1 L253.3,511.6 L251.5,517.0 L248.8,522.7 L245.5,528.5 L241.8,533.9 L236.7,537.3 L231.7,540.0 L226.8,541.7Z" fill="#3ac420" stroke="#3ac420" stroke-width="0.6" stroke-linejoin="round"/><path d="M210.5,524.9 L215.6,522.0 L220.7,518.5 L225.6,514.4 L231.4,511.6 L236.7,508.8 L241.5,506.3 L245.7,504.1 M226.8,541.7 L231.7,540.0 L236.7,537.3 L241.8,533.9 L245.5,528.5 L248.8,522.7 L251.5,517.0 L253.3,511.6" fill="none" stroke="#1c5a10" stroke-width="0.9" stroke-linejoin="round"/>
<path d="M170.1,333.0 L169.9,334.2 L163.7,361.0 L166.0,360.2Z" fill="#32b21c" stroke="#32b21c" stroke-width="0.6" stroke-linejoin="round"/><path d="M170.1,333.0 L169.9,334.2 M166.0,360.2 L163.7,361.0" fill="none" stroke="#1c5a10" stroke-width="0.9" stroke-linejoin="round"/>
<path d="M166.5,443.2 L165.3,444.6 L188.8,457.8 L189.2,457.8Z" fill="#32b21c" stroke="#32b21c" stroke-width="0.6" stroke-linejoin="round"/><path d="M166.5,443.2 L165.3,444.6 M189.2,457.8 L188.8,457.8" fill="none" stroke="#1c5a10" stroke-width="0.9" stroke-linejoin="round"/>
<path d="M252.4,175.1 L251.4,175.4 L251.1,193.8 L251.0,189.5Z" fill="#32b21c" stroke="#32b21c" stroke-width="0.6" stroke-linejoin="round"/><path d="M252.4,175.1 L251.4,175.4 M251.0,189.5 L251.1,193.8" fill="none" stroke="#1c5a10" stroke-width="0.9" stroke-linejoin="round"/>
<path d="M356.5,259.6 L357.5,262.8 L357.5,266.1 L359.2,279.1 L357.8,276.0 L355.4,273.1Z" fill="#1e6812" stroke="#1e6812" stroke-width="0.6" stroke-linejoin="round"/><path d="M356.5,259.6 L357.5,262.8 L357.5,266.1 M355.4,273.1 L357.8,276.0 L359.2,279.1" fill="none" stroke="#1c5a10" stroke-width="0.9" stroke-linejoin="round"/>
<path d="M189.7,260.7 L190.3,263.1 L187.8,289.2 L189.4,287.0Z" fill="#32b21c" stroke="#32b21c" stroke-width="0.6" stroke-linejoin="round"/><path d="M189.7,260.7 L190.3,263.1 M189.4,287.0 L187.8,289.2" fill="none" stroke="#1c5a10" stroke-width="0.9" stroke-linejoin="round"/>
<path d="M427.3,351.8 L426.2,351.9 L421.6,370.4 L422.5,366.0Z" fill="#32b21c" stroke="#32b21c" stroke-width="0.6" stroke-linejoin="round"/><path d="M427.3,351.8 L426.2,351.9 M422.5,366.0 L421.6,370.4" fill="none" stroke="#1c5a10" stroke-width="0.9" stroke-linejoin="round"/>
<path d="M414.0,244.5 L412.1,248.6 L419.2,266.5 L419.7,262.5Z" fill="#42e224" stroke="#42e224" stroke-width="0.6" stroke-linejoin="round"/><path d="M414.0,244.5 L412.1,248.6 M419.7,262.5 L419.2,266.5" fill="none" stroke="#1c5a10" stroke-width="0.9" stroke-linejoin="round"/>
<path d="M323.6,287.8 L322.1,287.5 L321.5,287.1 L324.9,305.7 L326.8,305.8 L329.6,305.5Z" fill="#42e224" stroke="#42e224" stroke-width="0.6" stroke-linejoin="round"/><path d="M323.6,287.8 L322.1,287.5 L321.5,287.1 M329.6,305.5 L326.8,305.8 L324.9,305.7" fill="none" stroke="#1c5a10" stroke-width="0.9" stroke-linejoin="round"/>
<path d="M258.1,410.9 L254.9,415.0 L252.7,419.8 L251.7,425.0 L251.8,430.5 L247.9,433.6 L247.9,428.3 L249.1,423.2 L251.5,418.7 L254.9,414.8Z" fill="#1e6812" stroke="#1e6812" stroke-width="0.6" stroke-linejoin="round"/><path d="M258.1,410.9 L254.9,415.0 L252.7,419.8 L251.7,425.0 L251.8,430.5 M254.9,414.8 L251.5,418.7 L249.1,423.2 L247.9,428.3 L247.9,433.6" fill="none" stroke="#1c5a10" stroke-width="0.9" stroke-linejoin="round"/>
<path d="M299.2,439.5 L301.0,435.3 L301.6,430.7 L298.2,435.7 L297.2,440.3 L295.2,444.3Z" fill="#32b21c" stroke="#32b21c" stroke-width="0.6" stroke-linejoin="round"/><path d="M299.2,439.5 L301.0,435.3 L301.6,430.7 M295.2,444.3 L297.2,440.3 L298.2,435.7" fill="none" stroke="#1c5a10" stroke-width="0.9" stroke-linejoin="round"/>
<path d="M396.9,186.3 L400.8,189.0 L403.7,192.2 L404.9,211.3 L400.7,208.8 L395.8,206.8Z" fill="#2c981a" stroke="#2c981a" stroke-width="0.6" stroke-linejoin="round"/><path d="M396.9,186.3 L400.8,189.0 L403.7,192.2 M395.8,206.8 L400.7,208.8 L404.9,211.3" fill="none" stroke="#1c5a10" stroke-width="0.9" stroke-linejoin="round"/>
<path d="M131.5,403.1 L133.5,403.2 L136.1,402.7 L147.4,416.8 L145.8,416.3 L144.7,415.0Z" fill="#1e6812" stroke="#1e6812" stroke-width="0.6" stroke-linejoin="round"/><path d="M131.5,403.1 L133.5,403.2 L136.1,402.7 M144.7,415.0 L145.8,416.3 L147.4,416.8" fill="none" stroke="#1c5a10" stroke-width="0.9" stroke-linejoin="round"/>
<path d="M129.2,544.5 L131.8,540.1 L133.4,535.2 L133.7,529.9 L131.0,534.1 L130.4,539.2 L128.7,544.0 L125.8,548.2Z" fill="#32b21c" stroke="#32b21c" stroke-width="0.6" stroke-linejoin="round"/><path d="M129.2,544.5 L131.8,540.1 L133.4,535.2 L133.7,529.9 M125.8,548.2 L128.7,544.0 L130.4,539.2 L131.0,534.1" fill="none" stroke="#1c5a10" stroke-width="0.9" stroke-linejoin="round"/>
<path d="M323.7,194.7 L320.9,196.8 L324.2,221.2 L325.0,219.1Z" fill="#42e224" stroke="#42e224" stroke-width="0.6" stroke-linejoin="round"/><path d="M323.7,194.7 L320.9,196.8 M325.0,219.1 L324.2,221.2" fill="none" stroke="#1c5a10" stroke-width="0.9" stroke-linejoin="round"/>
<path d="M363.8,359.0 L363.5,361.4 L355.4,387.4 L357.9,385.6Z" fill="#32b21c" stroke="#32b21c" stroke-width="0.6" stroke-linejoin="round"/><path d="M363.8,359.0 L363.5,361.4 M357.9,385.6 L355.4,387.4" fill="none" stroke="#1c5a10" stroke-width="0.9" stroke-linejoin="round"/>
<path d="M244.0,297.3 L242.8,299.5 L240.1,301.7 L241.5,328.1 L242.0,325.8 L241.1,323.4Z" fill="#32b21c" stroke="#32b21c" stroke-width="0.6" stroke-linejoin="round"/><path d="M244.0,297.3 L242.8,299.5 L240.1,301.7 M241.1,323.4 L242.0,325.8 L241.5,328.1" fill="none" stroke="#1c5a10" stroke-width="0.9" stroke-linejoin="round"/>
<path d="M272.2,277.5 L271.3,279.6 L272.7,304.0 L275.6,301.9Z" fill="#42e224" stroke="#42e224" stroke-width="0.6" stroke-linejoin="round"/><path d="M272.2,277.5 L271.3,279.6 M275.6,301.9 L272.7,304.0" fill="none" stroke="#1c5a10" stroke-width="0.9" stroke-linejoin="round"/>
<path d="M88.9,546.3 L92.7,550.4 L97.2,553.6 L92.9,556.2 L88.3,552.9 L84.5,548.6Z" fill="#2c981a" stroke="#2c981a" stroke-width="0.6" stroke-linejoin="round"/><path d="M88.9,546.3 L92.7,550.4 L97.2,553.6 M84.5,548.6 L88.3,552.9 L92.9,556.2" fill="none" stroke="#1c5a10" stroke-width="0.9" stroke-linejoin="round"/>
<path d="M221.7,133.0 L220.5,134.8 L220.6,156.5 L223.4,154.8Z" fill="#42e224" stroke="#42e224" stroke-width="0.6" stroke-linejoin="round"/><path d="M221.7,133.0 L220.5,134.8 M223.4,154.8 L220.6,156.5" fill="none" stroke="#1c5a10" stroke-width="0.9" stroke-linejoin="round"/>
<path d="M170.8,387.8 L172.4,388.4 L173.3,389.8 L186.7,401.5 L184.8,401.2 L182.4,401.6Z" fill="#1e6812" stroke="#1e6812" stroke-width="0.6" stroke-linejoin="round"/><path d="M170.8,387.8 L172.4,388.4 L173.3,389.8 M182.4,401.6 L184.8,401.2 L186.7,401.5" fill="none" stroke="#1c5a10" stroke-width="0.9" stroke-linejoin="round"/>
<path d="M322.4,254.7 L319.5,256.8 L323.0,281.3 L324.0,279.2Z" fill="#42e224" stroke="#42e224" stroke-width="0.6" stroke-linejoin="round"/><path d="M322.4,254.7 L319.5,256.8 M324.0,279.2 L323.0,281.3" fill="none" stroke="#1c5a10" stroke-width="0.9" stroke-linejoin="round"/>
<path d="M267.6,116.0 L265.1,117.7 L261.7,119.3 L264.3,141.2 L266.2,139.4 L267.0,137.6Z" fill="#42e224" stroke="#42e224" stroke-width="0.6" stroke-linejoin="round"/><path d="M267.6,116.0 L265.1,117.7 L261.7,119.3 M267.0,137.6 L266.2,139.4 L264.3,141.2" fill="none" stroke="#1c5a10" stroke-width="0.9" stroke-linejoin="round"/>
<path d="M248.0,234.4 L245.9,236.6 L246.4,263.0 L246.3,260.6Z" fill="#32b21c" stroke="#32b21c" stroke-width="0.6" stroke-linejoin="round"/><path d="M248.0,234.4 L245.9,236.6 M246.3,260.6 L246.4,263.0" fill="none" stroke="#1c5a10" stroke-width="0.9" stroke-linejoin="round"/>
<path d="M112.6,464.3 L113.4,469.0 L134.7,477.9 L134.8,472.4Z" fill="#4af628" stroke="#4af628" stroke-width="0.6" stroke-linejoin="round"/><path d="M112.6,464.3 L113.4,469.0 M134.8,472.4 L134.7,477.9" fill="none" stroke="#1c5a10" stroke-width="0.9" stroke-linejoin="round"/>
<path d="M273.4,217.4 L272.3,219.5 L274.0,244.0 L277.0,241.9Z" fill="#42e224" stroke="#42e224" stroke-width="0.6" stroke-linejoin="round"/><path d="M273.4,217.4 L272.3,219.5 M277.0,241.9 L274.0,244.0" fill="none" stroke="#1c5a10" stroke-width="0.9" stroke-linejoin="round"/>
<path d="M194.4,195.5 L194.4,197.8 L192.8,224.1 L194.9,221.9Z" fill="#32b21c" stroke="#32b21c" stroke-width="0.6" stroke-linejoin="round"/><path d="M194.4,195.5 L194.4,197.8 M194.9,221.9 L192.8,224.1" fill="none" stroke="#1c5a10" stroke-width="0.9" stroke-linejoin="round"/>
<path d="M142.1,361.8 L142.5,361.8 L151.6,370.3 L148.7,369.1Z" fill="#1e6812" stroke="#1e6812" stroke-width="0.6" stroke-linejoin="round"/><path d="M142.1,361.8 L142.5,361.8 M148.7,369.1 L151.6,370.3" fill="none" stroke="#1c5a10" stroke-width="0.9" stroke-linejoin="round"/>
<path d="M89.0,514.5 L86.2,519.3 L84.4,524.7 L83.8,530.3 L84.4,536.0 L86.1,541.4 L88.9,546.3 L84.5,548.6 L81.7,543.7 L80.0,538.4 L79.5,532.9 L80.3,527.5 L82.3,522.5 L85.5,518.0Z" fill="#1e6812" stroke="#1e6812" stroke-width="0.6" stroke-linejoin="round"/><path d="M89.0,514.5 L86.2,519.3 L84.4,524.7 L83.8,530.3 L84.4,536.0 L86.1,541.4 L88.9,546.3 M85.5,518.0 L82.3,522.5 L80.3,527.5 L79.5,532.9 L80.0,538.4 L81.7,543.7 L84.5,548.6" fill="none" stroke="#1c5a10" stroke-width="0.9" stroke-linejoin="round"/>
<path d="M380.3,268.6 L376.2,269.3 L372.9,269.5 L382.1,292.2 L386.4,291.3 L391.2,289.9Z" fill="#4af628" stroke="#4af628" stroke-width="0.6" stroke-linejoin="round"/><path d="M380.3,268.6 L376.2,269.3 L372.9,269.5 M391.2,289.9 L386.4,291.3 L382.1,292.2" fill="none" stroke="#1c5a10" stroke-width="0.9" stroke-linejoin="round"/>
<path d="M321.1,314.7 L318.1,316.8 L321.8,341.3 L322.9,339.2Z" fill="#42e224" stroke="#42e224" stroke-width="0.6" stroke-linejoin="round"/><path d="M321.1,314.7 L318.1,316.8 M322.9,339.2 L321.8,341.3" fill="none" stroke="#1c5a10" stroke-width="0.9" stroke-linejoin="round"/>
<path d="M274.6,157.4 L273.4,159.5 L275.3,184.0 L278.4,181.9Z" fill="#42e224" stroke="#42e224" stroke-width="0.6" stroke-linejoin="round"/><path d="M274.6,157.4 L273.4,159.5 M278.4,181.9 L275.3,184.0" fill="none" stroke="#1c5a10" stroke-width="0.9" stroke-linejoin="round"/>
<path d="M226.8,79.8 L225.3,81.6 L225.8,103.4 L229.0,101.7Z" fill="#42e224" stroke="#42e224" stroke-width="0.6" stroke-linejoin="round"/><path d="M226.8,79.8 L225.3,81.6 M229.0,101.7 L225.8,103.4" fill="none" stroke="#1c5a10" stroke-width="0.9" stroke-linejoin="round"/>
<path d="M12.1,491.9 L10.7,494.0 L10.8,519.5 L14.2,517.5Z" fill="#42e224" stroke="#42e224" stroke-width="0.6" stroke-linejoin="round"/><path d="M12.1,491.9 L10.7,494.0 M14.2,517.5 L10.8,519.5" fill="none" stroke="#1c5a10" stroke-width="0.9" stroke-linejoin="round"/>
<path d="M232.3,317.6 L230.3,320.5 L227.0,323.0 L224.3,347.6 L225.6,344.5 L225.5,341.0Z" fill="#32b21c" stroke="#32b21c" stroke-width="0.6" stroke-linejoin="round"/><path d="M232.3,317.6 L230.3,320.5 L227.0,323.0 M225.5,341.0 L225.6,344.5 L224.3,347.6" fill="none" stroke="#1c5a10" stroke-width="0.9" stroke-linejoin="round"/>
<path d="M270.5,64.5 L267.3,66.2 L269.6,88.0 L271.2,86.3Z" fill="#42e224" stroke="#42e224" stroke-width="0.6" stroke-linejoin="round"/><path d="M270.5,64.5 L267.3,66.2 M271.2,86.3 L269.6,88.0" fill="none" stroke="#1c5a10" stroke-width="0.9" stroke-linejoin="round"/>
<path d="M155.6,500.8 L158.9,502.3 L177.2,515.0 L174.8,512.1Z" fill="#32b21c" stroke="#32b21c" stroke-width="0.6" stroke-linejoin="round"/><path d="M155.6,500.8 L158.9,502.3 M174.8,512.1 L177.2,515.0" fill="none" stroke="#1c5a10" stroke-width="0.9" stroke-linejoin="round"/>
<path d="M325.0,136.5 L322.2,136.7 L318.5,138.8 L323.3,163.3 L325.3,161.2 L326.0,157.2Z" fill="#42e224" stroke="#42e224" stroke-width="0.6" stroke-linejoin="round"/><path d="M325.0,136.5 L322.2,136.7 L318.5,138.8 M326.0,157.2 L325.3,161.2 L323.3,163.3" fill="none" stroke="#1c5a10" stroke-width="0.9" stroke-linejoin="round"/>
<path d="M66.0,471.9 L63.2,473.9 L59.1,475.8 L62.2,501.5 L64.5,499.4 L65.3,497.3Z" fill="#42e224" stroke="#42e224" stroke-width="0.6" stroke-linejoin="round"/><path d="M66.0,471.9 L63.2,473.9 L59.1,475.8 M65.3,497.3 L64.5,499.4 L62.2,501.5" fill="none" stroke="#1c5a10" stroke-width="0.9" stroke-linejoin="round"/>
<path d="M273.1,335.4 L271.1,337.5 L270.3,339.6 L271.5,364.1 L274.2,362.0 L278.0,359.9Z" fill="#42e224" stroke="#42e224" stroke-width="0.6" stroke-linejoin="round"/><path d="M273.1,335.4 L271.1,337.5 L270.3,339.6 M278.0,359.9 L274.2,362.0 L271.5,364.1" fill="none" stroke="#1c5a10" stroke-width="0.9" stroke-linejoin="round"/>
<path d="M357.5,266.1 L356.6,269.5 L359.7,282.4 L359.2,279.1Z" fill="#32b21c" stroke="#32b21c" stroke-width="0.6" stroke-linejoin="round"/><path d="M357.5,266.1 L356.6,269.5 M359.2,279.1 L359.7,282.4" fill="none" stroke="#1c5a10" stroke-width="0.9" stroke-linejoin="round"/>
<path d="M408.2,411.1 L405.2,412.7 L400.1,439.6 L401.0,437.3Z" fill="#32b21c" stroke="#32b21c" stroke-width="0.6" stroke-linejoin="round"/><path d="M408.2,411.1 L405.2,412.7 M401.0,437.3 L400.1,439.6" fill="none" stroke="#1c5a10" stroke-width="0.9" stroke-linejoin="round"/>
<path d="M162.1,399.0 L157.8,401.6 L157.4,412.7 L162.4,414.4Z" fill="#4af628" stroke="#4af628" stroke-width="0.6" stroke-linejoin="round"/><path d="M162.1,399.0 L157.8,401.6 M162.4,414.4 L157.4,412.7" fill="none" stroke="#1c5a10" stroke-width="0.9" stroke-linejoin="round"/>
<path d="M69.7,411.4 L66.0,413.3 L68.5,439.0 L70.3,436.9Z" fill="#42e224" stroke="#42e224" stroke-width="0.6" stroke-linejoin="round"/><path d="M69.7,411.4 L66.0,413.3 M70.3,436.9 L68.5,439.0" fill="none" stroke="#1c5a10" stroke-width="0.9" stroke-linejoin="round"/>
<path d="M360.8,227.9 L360.9,227.0 L365.9,251.1 L367.3,251.7Z" fill="#32b21c" stroke="#32b21c" stroke-width="0.6" stroke-linejoin="round"/><path d="M360.8,227.9 L360.9,227.0 M367.3,251.7 L365.9,251.1" fill="none" stroke="#1c5a10" stroke-width="0.9" stroke-linejoin="round"/>
<path d="M18.3,429.4 L16.4,431.5 L17.2,457.0 L20.9,455.1Z" fill="#42e224" stroke="#42e224" stroke-width="0.6" stroke-linejoin="round"/><path d="M18.3,429.4 L16.4,431.5 M20.9,455.1 L17.2,457.0" fill="none" stroke="#1c5a10" stroke-width="0.9" stroke-linejoin="round"/>
<path d="M412.1,248.6 L409.0,252.6 L405.1,256.4 L414.8,274.6 L417.6,270.6 L419.2,266.5Z" fill="#4af628" stroke="#4af628" stroke-width="0.6" stroke-linejoin="round"/><path d="M412.1,248.6 L409.0,252.6 L405.1,256.4 M419.2,266.5 L417.6,270.6 L414.8,274.6" fill="none" stroke="#1c5a10" stroke-width="0.9" stroke-linejoin="round"/>
<path d="M210.0,385.5 L205.0,387.4 L199.2,388.9 L200.5,415.0 L204.9,412.9 L208.1,410.3Z" fill="#4af628" stroke="#4af628" stroke-width="0.6" stroke-linejoin="round"/><path d="M210.0,385.5 L205.0,387.4 L199.2,388.9 M208.1,410.3 L204.9,412.9 L200.5,415.0" fill="none" stroke="#1c5a10" stroke-width="0.9" stroke-linejoin="round"/>
<path d="M165.3,444.6 L163.5,447.2 L187.7,458.9 L188.8,457.8Z" fill="#42e224" stroke="#42e224" stroke-width="0.6" stroke-linejoin="round"/><path d="M165.3,444.6 L163.5,447.2 M188.8,457.8 L187.7,458.9" fill="none" stroke="#1c5a10" stroke-width="0.9" stroke-linejoin="round"/>
<path d="M171.8,332.1 L170.1,333.0 L166.0,360.2 L169.7,359.7Z" fill="#42e224" stroke="#42e224" stroke-width="0.6" stroke-linejoin="round"/><path d="M171.8,332.1 L170.1,333.0 M169.7,359.7 L166.0,360.2" fill="none" stroke="#1c5a10" stroke-width="0.9" stroke-linejoin="round"/>
<path d="M277.8,454.7 L282.6,454.1 L286.9,452.5 L290.5,449.8 L286.4,454.4 L282.6,456.9 L278.2,458.4 L273.3,458.7Z" fill="#1e6812" stroke="#1e6812" stroke-width="0.6" stroke-linejoin="round"/><path d="M277.8,454.7 L282.6,454.1 L286.9,452.5 L290.5,449.8 M273.3,458.7 L278.2,458.4 L282.6,456.9 L286.4,454.4" fill="none" stroke="#1c5a10" stroke-width="0.9" stroke-linejoin="round"/>
<path d="M356.0,184.0 L359.6,182.9 L364.2,182.0 L363.6,206.2 L360.3,207.3 L358.0,208.5Z" fill="#2c981a" stroke="#2c981a" stroke-width="0.6" stroke-linejoin="round"/><path d="M356.0,184.0 L359.6,182.9 L364.2,182.0 M358.0,208.5 L360.3,207.3 L363.6,206.2" fill="none" stroke="#1c5a10" stroke-width="0.9" stroke-linejoin="round"/>
<path d="M204.8,468.9 L204.9,468.1 L204.3,468.4 L227.1,482.8 L226.8,483.9 L225.6,485.9Z" fill="#1e6812" stroke="#1e6812" stroke-width="0.6" stroke-linejoin="round"/><path d="M204.8,468.9 L204.9,468.1 L204.3,468.4 M225.6,485.9 L226.8,483.9 L227.1,482.8" fill="none" stroke="#1c5a10" stroke-width="0.9" stroke-linejoin="round"/>
<path d="M201.1,527.7 L205.6,526.8 L210.5,524.9 L226.8,541.7 L222.4,542.4 L218.5,541.9Z" fill="#2c981a" stroke="#2c981a" stroke-width="0.6" stroke-linejoin="round"/><path d="M201.1,527.7 L205.6,526.8 L210.5,524.9 M218.5,541.9 L222.4,542.4 L226.8,541.7" fill="none" stroke="#1c5a10" stroke-width="0.9" stroke-linejoin="round"/>
<path d="M121.3,429.9 L118.9,435.1 L116.6,440.9 L114.7,446.9 L113.3,453.0 L112.6,458.9 L112.6,464.3 L134.8,472.4 L135.7,466.5 L137.2,460.4 L139.2,454.4 L141.5,448.7 L143.9,443.6 L146.2,439.3Z" fill="#4dff2a" stroke="#4dff2a" stroke-width="0.6" stroke-linejoin="round"/><path d="M121.3,429.9 L118.9,435.1 L116.6,440.9 L114.7,446.9 L113.3,453.0 L112.6,458.9 L112.6,464.3 M146.2,439.3 L143.9,443.6 L141.5,448.7 L139.2,454.4 L137.2,460.4 L135.7,466.5 L134.8,472.4" fill="none" stroke="#1c5a10" stroke-width="0.9" stroke-linejoin="round"/>
<path d="M142.5,361.8 L142.1,362.6 L154.0,372.0 L151.6,370.3Z" fill="#32b21c" stroke="#32b21c" stroke-width="0.6" stroke-linejoin="round"/><path d="M142.5,361.8 L142.1,362.6 M151.6,370.3 L154.0,372.0" fill="none" stroke="#1c5a10" stroke-width="0.9" stroke-linejoin="round"/>
<path d="M267.0,405.7 L262.2,407.8 L258.1,410.9 L254.9,414.8 L259.3,411.9 L264.3,410.0Z" fill="#32b21c" stroke="#32b21c" stroke-width="0.6" stroke-linejoin="round"/><path d="M267.0,405.7 L262.2,407.8 L258.1,410.9 M264.3,410.0 L259.3,411.9 L254.9,414.8" fill="none" stroke="#1c5a10" stroke-width="0.9" stroke-linejoin="round"/>
<path d="M229.4,78.2 L226.8,79.8 L229.0,101.7 L233.0,100.2Z" fill="#4af628" stroke="#4af628" stroke-width="0.6" stroke-linejoin="round"/><path d="M229.4,78.2 L226.8,79.8 M233.0,100.2 L229.0,101.7" fill="none" stroke="#1c5a10" stroke-width="0.9" stroke-linejoin="round"/>
<path d="M130.1,402.2 L131.5,403.1 L144.7,415.0 L144.4,413.1Z" fill="#32b21c" stroke="#32b21c" stroke-width="0.6" stroke-linejoin="round"/><path d="M130.1,402.2 L131.5,403.1 M144.4,413.1 L144.7,415.0" fill="none" stroke="#1c5a10" stroke-width="0.9" stroke-linejoin="round"/>
<path d="M267.3,66.2 L263.2,67.7 L266.9,89.7 L269.6,88.0Z" fill="#4af628" stroke="#4af628" stroke-width="0.6" stroke-linejoin="round"/><path d="M267.3,66.2 L263.2,67.7 M269.6,88.0 L266.9,89.7" fill="none" stroke="#1c5a10" stroke-width="0.9" stroke-linejoin="round"/>
<path d="M107.9,505.2 L102.5,505.8 L97.3,507.6 L92.8,510.5 L89.0,514.5 L85.5,518.0 L89.7,514.4 L94.6,511.7 L100.1,510.2 L105.7,509.8Z" fill="#32b21c" stroke="#32b21c" stroke-width="0.6" stroke-linejoin="round"/><path d="M107.9,505.2 L102.5,505.8 L97.3,507.6 L92.8,510.5 L89.0,514.5 M105.7,509.8 L100.1,510.2 L94.6,511.7 L89.7,514.4 L85.5,518.0" fill="none" stroke="#1c5a10" stroke-width="0.9" stroke-linejoin="round"/>
<path d="M329.1,287.3 L326.0,287.7 L323.6,287.8 L329.6,305.5 L333.0,304.9 L336.8,303.8Z" fill="#4af628" stroke="#4af628" stroke-width="0.6" stroke-linejoin="round"/><path d="M329.1,287.3 L326.0,287.7 L323.6,287.8 M336.8,303.8 L333.0,304.9 L329.6,305.5" fill="none" stroke="#1c5a10" stroke-width="0.9" stroke-linejoin="round"/>
<path d="M365.6,357.0 L363.8,359.0 L357.9,385.6 L361.7,384.3Z" fill="#42e224" stroke="#42e224" stroke-width="0.6" stroke-linejoin="round"/><path d="M365.6,357.0 L363.8,359.0 M361.7,384.3 L357.9,385.6" fill="none" stroke="#1c5a10" stroke-width="0.9" stroke-linejoin="round"/>
<path d="M301.6,430.7 L301.1,425.8 L299.4,421.0 L296.6,416.4 L293.9,421.3 L296.4,426.0 L297.9,430.9 L298.2,435.7Z" fill="#42e224" stroke="#42e224" stroke-width="0.6" stroke-linejoin="round"/><path d="M301.6,430.7 L301.1,425.8 L299.4,421.0 L296.6,416.4 M298.2,435.7 L297.9,430.9 L296.4,426.0 L293.9,421.3" fill="none" stroke="#1c5a10" stroke-width="0.9" stroke-linejoin="round"/>
<path d="M97.2,553.6 L102.2,555.7 L107.4,556.7 L112.6,556.3 L117.4,554.8 L121.8,552.2 L125.3,548.6 L121.9,552.3 L118.2,555.7 L113.7,558.1 L108.6,559.4 L103.3,559.6 L97.9,558.5 L92.9,556.2Z" fill="#1e6812" stroke="#1e6812" stroke-width="0.6" stroke-linejoin="round"/><path d="M97.2,553.6 L102.2,555.7 L107.4,556.7 L112.6,556.3 L117.4,554.8 L121.8,552.2 L125.3,548.6 M92.9,556.2 L97.9,558.5 L103.3,559.6 L108.6,559.4 L113.7,558.1 L118.2,555.7 L121.9,552.3" fill="none" stroke="#1c5a10" stroke-width="0.9" stroke-linejoin="round"/>
<path d="M227.4,129.7 L224.0,131.3 L221.7,133.0 L223.4,154.8 L227.3,153.3 L231.8,151.7Z" fill="#4af628" stroke="#4af628" stroke-width="0.6" stroke-linejoin="round"/><path d="M227.4,129.7 L224.0,131.3 L221.7,133.0 M231.8,151.7 L227.3,153.3 L223.4,154.8" fill="none" stroke="#1c5a10" stroke-width="0.9" stroke-linejoin="round"/>
<path d="M245.9,236.6 L242.5,238.7 L245.0,265.2 L246.4,263.0Z" fill="#42e224" stroke="#42e224" stroke-width="0.6" stroke-linejoin="round"/><path d="M245.9,236.6 L242.5,238.7 M246.4,263.0 L245.0,265.2" fill="none" stroke="#1c5a10" stroke-width="0.9" stroke-linejoin="round"/>
<path d="M173.3,389.8 L174.6,392.7 L186.8,401.7 L186.7,401.5Z" fill="#32b21c" stroke="#32b21c" stroke-width="0.6" stroke-linejoin="round"/><path d="M173.3,389.8 L174.6,392.7 M186.7,401.5 L186.8,401.7" fill="none" stroke="#1c5a10" stroke-width="0.9" stroke-linejoin="round"/>
<path d="M195.8,193.3 L194.4,195.5 L194.9,221.9 L198.4,219.8Z" fill="#42e224" stroke="#42e224" stroke-width="0.6" stroke-linejoin="round"/><path d="M195.8,193.3 L194.4,195.5 M198.4,219.8 L194.9,221.9" fill="none" stroke="#1c5a10" stroke-width="0.9" stroke-linejoin="round"/>
<path d="M356.6,269.5 L354.7,272.8 L352.0,275.9 L357.8,289.1 L359.3,285.8 L359.7,282.4Z" fill="#42e224" stroke="#42e224" stroke-width="0.6" stroke-linejoin="round"/><path d="M356.6,269.5 L354.7,272.8 L352.0,275.9 M359.7,282.4 L359.3,285.8 L357.8,289.1" fill="none" stroke="#1c5a10" stroke-width="0.9" stroke-linejoin="round"/>
<path d="M261.7,119.3 L257.4,120.8 L261.4,142.8 L264.3,141.2Z" fill="#4af628" stroke="#4af628" stroke-width="0.6" stroke-linejoin="round"/><path d="M261.7,119.3 L257.4,120.8 M264.3,141.2 L261.4,142.8" fill="none" stroke="#1c5a10" stroke-width="0.9" stroke-linejoin="round"/>
<path d="M251.4,175.4 L248.7,175.6 L244.4,175.6 L248.1,202.2 L250.2,198.1 L251.1,193.8Z" fill="#42e224" stroke="#42e224" stroke-width="0.6" stroke-linejoin="round"/><path d="M251.4,175.4 L248.7,175.6 L244.4,175.6 M251.1,193.8 L250.2,198.1 L248.1,202.2" fill="none" stroke="#1c5a10" stroke-width="0.9" stroke-linejoin="round"/>
<path d="M403.7,192.2 L405.5,195.8 L406.0,199.7 L410.1,217.9 L408.1,214.4 L404.9,211.3Z" fill="#1e6812" stroke="#1e6812" stroke-width="0.6" stroke-linejoin="round"/><path d="M403.7,192.2 L405.5,195.8 L406.0,199.7 M404.9,211.3 L408.1,214.4 L410.1,217.9" fill="none" stroke="#1c5a10" stroke-width="0.9" stroke-linejoin="round"/>
<path d="M133.7,529.9 L132.8,524.6 L130.8,519.5 L127.6,514.8 L123.6,510.9 L118.7,507.9 L113.4,506.0 L107.9,505.2 L105.7,509.8 L111.4,510.5 L116.7,512.5 L121.5,515.4 L125.5,519.3 L128.5,523.9 L130.3,528.9 L131.0,534.1Z" fill="#42e224" stroke="#42e224" stroke-width="0.6" stroke-linejoin="round"/><path d="M133.7,529.9 L132.8,524.6 L130.8,519.5 L127.6,514.8 L123.6,510.9 L118.7,507.9 L113.4,506.0 L107.9,505.2 M131.0,534.1 L130.3,528.9 L128.5,523.9 L125.5,519.3 L121.5,515.4 L116.7,512.5 L111.4,510.5 L105.7,509.8" fill="none" stroke="#1c5a10" stroke-width="0.9" stroke-linejoin="round"/>
<path d="M192.8,256.2 L190.5,258.4 L189.7,260.7 L189.4,287.0 L192.3,284.9 L196.5,282.8Z" fill="#42e224" stroke="#42e224" stroke-width="0.6" stroke-linejoin="round"/><path d="M192.8,256.2 L190.5,258.4 L189.7,260.7 M196.5,282.8 L192.3,284.9 L189.4,287.0" fill="none" stroke="#1c5a10" stroke-width="0.9" stroke-linejoin="round"/>
<path d="M320.9,196.8 L317.0,198.9 L312.2,200.9 L318.6,225.4 L322.0,223.4 L324.2,221.2Z" fill="#4af628" stroke="#4af628" stroke-width="0.6" stroke-linejoin="round"/><path d="M320.9,196.8 L317.0,198.9 L312.2,200.9 M324.2,221.2 L322.0,223.4 L318.6,225.4" fill="none" stroke="#1c5a10" stroke-width="0.9" stroke-linejoin="round"/>
<path d="M405.1,256.4 L400.5,259.8 L395.4,262.8 L390.2,265.3 L385.1,267.3 L380.3,268.6 L391.2,289.9 L396.4,287.8 L401.7,285.2 L406.6,282.0 L411.1,278.5 L414.8,274.6Z" fill="#4dff2a" stroke="#4dff2a" stroke-width="0.6" stroke-linejoin="round"/><path d="M405.1,256.4 L400.5,259.8 L395.4,262.8 L390.2,265.3 L385.1,267.3 L380.3,268.6 M414.8,274.6 L411.1,278.5 L406.6,282.0 L401.7,285.2 L396.4,287.8 L391.2,289.9" fill="none" stroke="#1c5a10" stroke-width="0.9" stroke-linejoin="round"/>
<path d="M277.9,273.3 L274.5,275.3 L272.2,277.5 L275.6,301.9 L279.5,299.9 L284.4,297.8Z" fill="#4af628" stroke="#4af628" stroke-width="0.6" stroke-linejoin="round"/><path d="M277.9,273.3 L274.5,275.3 L272.2,277.5 M284.4,297.8 L279.5,299.9 L275.6,301.9" fill="none" stroke="#1c5a10" stroke-width="0.9" stroke-linejoin="round"/>
<path d="M426.2,351.9 L423.3,351.4 L418.9,350.4 L416.4,378.2 L419.6,374.5 L421.6,370.4Z" fill="#42e224" stroke="#42e224" stroke-width="0.6" stroke-linejoin="round"/><path d="M426.2,351.9 L423.3,351.4 L418.9,350.4 M421.6,370.4 L419.6,374.5 L416.4,378.2" fill="none" stroke="#1c5a10" stroke-width="0.9" stroke-linejoin="round"/>
<path d="M319.5,256.8 L315.5,258.9 L310.6,260.9 L317.2,285.5 L320.6,283.4 L323.0,281.3Z" fill="#4af628" stroke="#4af628" stroke-width="0.6" stroke-linejoin="round"/><path d="M319.5,256.8 L315.5,258.9 L310.6,260.9 M323.0,281.3 L320.6,283.4 L317.2,285.5" fill="none" stroke="#1c5a10" stroke-width="0.9" stroke-linejoin="round"/>
<path d="M279.3,213.2 L275.8,215.3 L273.4,217.4 L277.0,241.9 L281.0,239.8 L286.0,237.8Z" fill="#4af628" stroke="#4af628" stroke-width="0.6" stroke-linejoin="round"/><path d="M279.3,213.2 L275.8,215.3 L273.4,217.4 M286.0,237.8 L281.0,239.8 L277.0,241.9" fill="none" stroke="#1c5a10" stroke-width="0.9" stroke-linejoin="round"/>
<path d="M66.0,413.3 L61.2,415.1 L65.5,441.0 L68.5,439.0Z" fill="#4af628" stroke="#4af628" stroke-width="0.6" stroke-linejoin="round"/><path d="M66.0,413.3 L61.2,415.1 M68.5,439.0 L65.5,441.0" fill="none" stroke="#1c5a10" stroke-width="0.9" stroke-linejoin="round"/>
<path d="M318.1,316.8 L313.9,318.9 L308.9,321.0 L315.7,345.5 L319.3,343.4 L321.8,341.3Z" fill="#4af628" stroke="#4af628" stroke-width="0.6" stroke-linejoin="round"/><path d="M318.1,316.8 L313.9,318.9 L308.9,321.0 M321.8,341.3 L319.3,343.4 L315.7,345.5" fill="none" stroke="#1c5a10" stroke-width="0.9" stroke-linejoin="round"/>
<path d="M21.4,427.4 L18.3,429.4 L20.9,455.1 L25.7,453.2Z" fill="#4af628" stroke="#4af628" stroke-width="0.6" stroke-linejoin="round"/><path d="M21.4,427.4 L18.3,429.4 M25.7,453.2 L20.9,455.1" fill="none" stroke="#1c5a10" stroke-width="0.9" stroke-linejoin="round"/>
<path d="M280.8,153.2 L277.1,155.3 L274.6,157.4 L278.4,181.9 L282.6,179.8 L287.6,177.7Z" fill="#4af628" stroke="#4af628" stroke-width="0.6" stroke-linejoin="round"/><path d="M280.8,153.2 L277.1,155.3 L274.6,157.4 M287.6,177.7 L282.6,179.8 L278.4,181.9" fill="none" stroke="#1c5a10" stroke-width="0.9" stroke-linejoin="round"/>
<path d="M405.2,412.7 L400.8,413.9 L397.7,441.4 L400.1,439.6Z" fill="#42e224" stroke="#42e224" stroke-width="0.6" stroke-linejoin="round"/><path d="M405.2,412.7 L400.8,413.9 M400.1,439.6 L397.7,441.4" fill="none" stroke="#1c5a10" stroke-width="0.9" stroke-linejoin="round"/>
<path d="M240.1,301.7 L236.2,303.7 L239.5,330.3 L241.5,328.1Z" fill="#42e224" stroke="#42e224" stroke-width="0.6" stroke-linejoin="round"/><path d="M240.1,301.7 L236.2,303.7 M241.5,328.1 L239.5,330.3" fill="none" stroke="#1c5a10" stroke-width="0.9" stroke-linejoin="round"/>
<path d="M18.8,488.0 L14.9,489.9 L12.1,491.9 L14.2,517.5 L18.6,515.7 L24.0,513.9Z" fill="#4af628" stroke="#4af628" stroke-width="0.6" stroke-linejoin="round"/><path d="M18.8,488.0 L14.9,489.9 L12.1,491.9 M24.0,513.9 L18.6,515.7 L14.2,517.5" fill="none" stroke="#1c5a10" stroke-width="0.9" stroke-linejoin="round"/>
<path d="M151.4,494.4 L153.1,498.1 L155.6,500.8 L174.8,512.1 L173.3,508.2 L172.6,503.4Z" fill="#42e224" stroke="#42e224" stroke-width="0.6" stroke-linejoin="round"/><path d="M151.4,494.4 L153.1,498.1 L155.6,500.8 M172.6,503.4 L173.3,508.2 L174.8,512.1" fill="none" stroke="#1c5a10" stroke-width="0.9" stroke-linejoin="round"/>
<path d="M318.5,138.8 L313.7,140.9 L320.1,165.4 L323.3,163.3Z" fill="#4af628" stroke="#4af628" stroke-width="0.6" stroke-linejoin="round"/><path d="M318.5,138.8 L313.7,140.9 M323.3,163.3 L320.1,165.4" fill="none" stroke="#1c5a10" stroke-width="0.9" stroke-linejoin="round"/>
<path d="M276.4,333.3 L273.1,335.4 L278.0,359.9 L282.8,357.8Z" fill="#4af628" stroke="#4af628" stroke-width="0.6" stroke-linejoin="round"/><path d="M276.4,333.3 L273.1,335.4 M282.8,357.8 L278.0,359.9" fill="none" stroke="#1c5a10" stroke-width="0.9" stroke-linejoin="round"/>
<path d="M59.1,475.8 L54.1,477.6 L58.8,503.4 L62.2,501.5Z" fill="#4af628" stroke="#4af628" stroke-width="0.6" stroke-linejoin="round"/><path d="M59.1,475.8 L54.1,477.6 M62.2,501.5 L58.8,503.4" fill="none" stroke="#1c5a10" stroke-width="0.9" stroke-linejoin="round"/>
<path d="M283.1,406.6 L277.7,405.1 L272.2,404.8 L267.0,405.7 L264.3,410.0 L269.7,409.2 L275.3,409.5 L280.8,411.0Z" fill="#42e224" stroke="#42e224" stroke-width="0.6" stroke-linejoin="round"/><path d="M283.1,406.6 L277.7,405.1 L272.2,404.8 L267.0,405.7 M280.8,411.0 L275.3,409.5 L269.7,409.2 L264.3,410.0" fill="none" stroke="#1c5a10" stroke-width="0.9" stroke-linejoin="round"/>
<path d="M227.0,323.0 L222.4,325.1 L221.6,350.3 L224.3,347.6Z" fill="#42e224" stroke="#42e224" stroke-width="0.6" stroke-linejoin="round"/><path d="M227.0,323.0 L222.4,325.1 M224.3,347.6 L221.6,350.3" fill="none" stroke="#1c5a10" stroke-width="0.9" stroke-linejoin="round"/>
<path d="M129.5,400.6 L130.1,402.2 L144.4,413.1 L144.6,410.4Z" fill="#42e224" stroke="#42e224" stroke-width="0.6" stroke-linejoin="round"/><path d="M129.5,400.6 L130.1,402.2 M144.6,410.4 L144.4,413.1" fill="none" stroke="#1c5a10" stroke-width="0.9" stroke-linejoin="round"/>
<path d="M199.2,388.9 L192.7,390.1 L186.0,390.9 L179.2,391.5 L172.9,394.1 L167.2,396.5 L162.1,399.0 L162.4,414.4 L168.5,416.1 L175.2,417.7 L182.2,419.1 L188.9,418.1 L195.1,416.7 L200.5,415.0Z" fill="#4dff2a" stroke="#4dff2a" stroke-width="0.6" stroke-linejoin="round"/><path d="M199.2,388.9 L192.7,390.1 L186.0,390.9 L179.2,391.5 L172.9,394.1 L167.2,396.5 L162.1,399.0 M200.5,415.0 L195.1,416.7 L188.9,418.1 L182.2,419.1 L175.2,417.7 L168.5,416.1 L162.4,414.4" fill="none" stroke="#1c5a10" stroke-width="0.9" stroke-linejoin="round"/>
<path d="M352.0,275.9 L348.7,278.8 L355.6,292.3 L357.8,289.1Z" fill="#4af628" stroke="#4af628" stroke-width="0.6" stroke-linejoin="round"/><path d="M352.0,275.9 L348.7,278.8 M357.8,289.1 L355.6,292.3" fill="none" stroke="#1c5a10" stroke-width="0.9" stroke-linejoin="round"/>
<path d="M244.8,434.0 L244.9,439.7 L246.1,445.3 L248.4,450.6 L246.7,451.8 L243.9,447.0 L242.1,441.9 L241.6,436.7Z" fill="#2c981a" stroke="#2c981a" stroke-width="0.6" stroke-linejoin="round"/><path d="M244.8,434.0 L244.9,439.7 L246.1,445.3 L248.4,450.6 M241.6,436.7 L242.1,441.9 L243.9,447.0 L246.7,451.8" fill="none" stroke="#1c5a10" stroke-width="0.9" stroke-linejoin="round"/>
<path d="M296.6,416.4 L292.8,412.3 L288.3,409.0 L283.1,406.6 L280.8,411.0 L285.9,413.6 L290.3,417.1 L293.9,421.3Z" fill="#4af628" stroke="#4af628" stroke-width="0.6" stroke-linejoin="round"/><path d="M296.6,416.4 L292.8,412.3 L288.3,409.0 L283.1,406.6 M293.9,421.3 L290.3,417.1 L285.9,413.6 L280.8,411.0" fill="none" stroke="#1c5a10" stroke-width="0.9" stroke-linejoin="round"/>
<path d="M174.6,392.7 L175.4,396.1 L186.2,402.8 L186.8,401.7Z" fill="#42e224" stroke="#42e224" stroke-width="0.6" stroke-linejoin="round"/><path d="M174.6,392.7 L175.4,396.1 M186.8,401.7 L186.2,402.8" fill="none" stroke="#1c5a10" stroke-width="0.9" stroke-linejoin="round"/>
<path d="M142.1,362.6 L140.9,364.3 L140.2,367.4 L156.0,376.5 L155.9,374.3 L154.0,372.0Z" fill="#42e224" stroke="#42e224" stroke-width="0.6" stroke-linejoin="round"/><path d="M142.1,362.6 L140.9,364.3 L140.2,367.4 M154.0,372.0 L155.9,374.3 L156.0,376.5" fill="none" stroke="#1c5a10" stroke-width="0.9" stroke-linejoin="round"/>
<path d="M364.2,228.9 L361.9,228.6 L360.8,227.9 L367.3,251.7 L369.9,251.9 L373.4,251.6Z" fill="#42e224" stroke="#42e224" stroke-width="0.6" stroke-linejoin="round"/><path d="M364.2,228.9 L361.9,228.6 L360.8,227.9 M373.4,251.6 L369.9,251.9 L367.3,251.7" fill="none" stroke="#1c5a10" stroke-width="0.9" stroke-linejoin="round"/>
<path d="M197.1,527.4 L201.1,527.7 L218.5,541.9 L215.3,540.3Z" fill="#1e6812" stroke="#1e6812" stroke-width="0.6" stroke-linejoin="round"/><path d="M197.1,527.4 L201.1,527.7 M215.3,540.3 L218.5,541.9" fill="none" stroke="#1c5a10" stroke-width="0.9" stroke-linejoin="round"/>
<path d="M163.5,447.2 L161.3,450.8 L159.0,455.4 L184.0,464.7 L186.0,461.3 L187.7,458.9Z" fill="#4af628" stroke="#4af628" stroke-width="0.6" stroke-linejoin="round"/><path d="M163.5,447.2 L161.3,450.8 L159.0,455.4 M187.7,458.9 L186.0,461.3 L184.0,464.7" fill="none" stroke="#1c5a10" stroke-width="0.9" stroke-linejoin="round"/>
<path d="M348.7,278.8 L344.9,281.3 L340.8,283.5 L336.7,285.2 L332.7,286.5 L329.1,287.3 L336.8,303.8 L340.9,302.3 L345.0,300.4 L349.0,298.1 L352.6,295.3 L355.6,292.3Z" fill="#4dff2a" stroke="#4dff2a" stroke-width="0.6" stroke-linejoin="round"/><path d="M348.7,278.8 L344.9,281.3 L340.8,283.5 L336.7,285.2 L332.7,286.5 L329.1,287.3 M355.6,292.3 L352.6,295.3 L349.0,298.1 L345.0,300.4 L340.9,302.3 L336.8,303.8" fill="none" stroke="#1c5a10" stroke-width="0.9" stroke-linejoin="round"/>
<path d="M225.0,178.0 C224.7,173.0 223.2,159.7 223.0,148.0 C222.8,136.3 223.0,119.7 224.0,108.0 C225.0,96.3 226.0,85.7 229.0,78.0 C232.0,70.3 236.8,65.3 242.0,62.0 C247.2,58.7 254.7,58.0 260.0,58.0 C265.3,58.0 272.0,58.7 274.0,62.0 C276.0,65.3 272.3,75.3 272.0,78.0" fill="none" stroke="#1c5a10" stroke-width="5.0" stroke-linecap="round" stroke-linejoin="round"/><path d="M225.0,178.0 C224.7,173.0 223.2,159.7 223.0,148.0 C222.8,136.3 223.0,119.7 224.0,108.0 C225.0,96.3 226.0,85.7 229.0,78.0 C232.0,70.3 236.8,65.3 242.0,62.0 C247.2,58.7 254.7,58.0 260.0,58.0 C265.3,58.0 272.0,58.7 274.0,62.0 C276.0,65.3 272.3,75.3 272.0,78.0" fill="none" stroke="#4cf22c" stroke-width="3.4" stroke-linecap="round" stroke-linejoin="round"/>
<path d="M262.0,440.0 C258.3,443.0 247.7,453.0 240.0,458.0 C232.3,463.0 220.0,468.0 216.0,470.0" fill="none" stroke="#1c5a10" stroke-width="7.6" stroke-linecap="round" stroke-linejoin="round"/><path d="M262.0,440.0 C258.3,443.0 247.7,453.0 240.0,458.0 C232.3,463.0 220.0,468.0 216.0,470.0" fill="none" stroke="#4cf22c" stroke-width="6" stroke-linecap="round" stroke-linejoin="round"/>
<path d="M263.2,67.7 L258.4,69.2 L253.2,70.7 L247.8,72.1 L242.4,73.6 L237.4,75.0 L233.0,76.6 L229.4,78.2 L233.0,100.2 L237.8,98.7 L243.0,97.2 L248.4,95.8 L253.7,94.3 L258.7,92.8 L263.2,91.3 L266.9,89.7Z" fill="#4dff2a" stroke="#4dff2a" stroke-width="0.6" stroke-linejoin="round"/><path d="M263.2,67.7 L258.4,69.2 L253.2,70.7 L247.8,72.1 L242.4,73.6 L237.4,75.0 L233.0,76.6 L229.4,78.2 M266.9,89.7 L263.2,91.3 L258.7,92.8 L253.7,94.3 L248.4,95.8 L243.0,97.2 L237.8,98.7 L233.0,100.2" fill="none" stroke="#1c5a10" stroke-width="0.9" stroke-linejoin="round"/>
<path d="M179.1,330.9 L174.8,331.4 L171.8,332.1 L169.7,359.7 L174.5,359.2 L180.2,358.9Z" fill="#4af628" stroke="#4af628" stroke-width="0.6" stroke-linejoin="round"/><path d="M179.1,330.9 L174.8,331.4 L171.8,332.1 M180.2,358.9 L174.5,359.2 L169.7,359.7" fill="none" stroke="#1c5a10" stroke-width="0.9" stroke-linejoin="round"/>
<path d="M257.4,120.8 L252.4,122.3 L247.1,123.7 L241.7,125.2 L236.4,126.6 L231.6,128.1 L227.4,129.7 L231.8,151.7 L236.9,150.3 L242.3,148.8 L247.7,147.4 L252.8,145.9 L257.5,144.4 L261.4,142.8Z" fill="#4dff2a" stroke="#4dff2a" stroke-width="0.6" stroke-linejoin="round"/><path d="M257.4,120.8 L252.4,122.3 L247.1,123.7 L241.7,125.2 L236.4,126.6 L231.6,128.1 L227.4,129.7 M261.4,142.8 L257.5,144.4 L252.8,145.9 L247.7,147.4 L242.3,148.8 L236.9,150.3 L231.8,151.7" fill="none" stroke="#1c5a10" stroke-width="0.9" stroke-linejoin="round"/>
<path d="M406.0,199.7 L405.3,203.7 L410.9,221.7 L410.1,217.9Z" fill="#32b21c" stroke="#32b21c" stroke-width="0.6" stroke-linejoin="round"/><path d="M406.0,199.7 L405.3,203.7 M410.1,217.9 L410.9,221.7" fill="none" stroke="#1c5a10" stroke-width="0.9" stroke-linejoin="round"/>
<path d="M204.3,468.4 L203.1,469.9 L226.7,482.9 L227.1,482.8Z" fill="#32b21c" stroke="#32b21c" stroke-width="0.6" stroke-linejoin="round"/><path d="M204.3,468.4 L203.1,469.9 M227.1,482.8 L226.7,482.9" fill="none" stroke="#1c5a10" stroke-width="0.9" stroke-linejoin="round"/>
<path d="M290.5,449.8 L293.2,446.2 L294.7,441.9 L295.2,437.2 L291.7,442.3 L291.1,446.9 L289.2,451.0 L286.4,454.4Z" fill="#32b21c" stroke="#32b21c" stroke-width="0.6" stroke-linejoin="round"/><path d="M290.5,449.8 L293.2,446.2 L294.7,441.9 L295.2,437.2 M286.4,454.4 L289.2,451.0 L291.1,446.9 L291.7,442.3" fill="none" stroke="#1c5a10" stroke-width="0.9" stroke-linejoin="round"/>
<path d="M360.1,147.9 L365.7,145.9 L371.7,144.4 L377.6,143.6 L383.2,143.5 L388.0,145.6 L386.9,166.1 L381.4,164.7 L375.7,162.3 L370.1,160.3 L364.6,158.7 L359.5,157.4Z" fill="#3ac420" stroke="#3ac420" stroke-width="0.6" stroke-linejoin="round"/><path d="M360.1,147.9 L365.7,145.9 L371.7,144.4 L377.6,143.6 L383.2,143.5 L388.0,145.6 M359.5,157.4 L364.6,158.7 L370.1,160.3 L375.7,162.3 L381.4,164.7 L386.9,166.1" fill="none" stroke="#1c5a10" stroke-width="0.9" stroke-linejoin="round"/>
<path d="M236.2,303.7 L231.1,305.7 L236.2,332.4 L239.5,330.3Z" fill="#4af628" stroke="#4af628" stroke-width="0.6" stroke-linejoin="round"/><path d="M236.2,303.7 L231.1,305.7 M239.5,330.3 L236.2,332.4" fill="none" stroke="#1c5a10" stroke-width="0.9" stroke-linejoin="round"/>
<path d="M352.2,186.3 L353.5,185.2 L356.0,184.0 L358.0,208.5 L357.0,209.6 L357.2,210.5Z" fill="#1e6812" stroke="#1e6812" stroke-width="0.6" stroke-linejoin="round"/><path d="M352.2,186.3 L353.5,185.2 L356.0,184.0 M357.2,210.5 L357.0,209.6 L358.0,208.5" fill="none" stroke="#1c5a10" stroke-width="0.9" stroke-linejoin="round"/>
<path d="M400.8,413.9 L395.3,414.7 L393.9,442.8 L397.7,441.4Z" fill="#4af628" stroke="#4af628" stroke-width="0.6" stroke-linejoin="round"/><path d="M400.8,413.9 L395.3,414.7 M397.7,441.4 L393.9,442.8" fill="none" stroke="#1c5a10" stroke-width="0.9" stroke-linejoin="round"/>
<path d="M242.5,238.7 L237.9,240.7 L232.3,242.6 L238.2,269.4 L242.2,267.3 L245.0,265.2Z" fill="#4af628" stroke="#4af628" stroke-width="0.6" stroke-linejoin="round"/><path d="M242.5,238.7 L237.9,240.7 L232.3,242.6 M245.0,265.2 L242.2,267.3 L238.2,269.4" fill="none" stroke="#1c5a10" stroke-width="0.9" stroke-linejoin="round"/>
<path d="M202.7,189.1 L198.6,191.1 L195.8,193.3 L198.4,219.8 L203.0,217.8 L208.6,215.8Z" fill="#4af628" stroke="#4af628" stroke-width="0.6" stroke-linejoin="round"/><path d="M202.7,189.1 L198.6,191.1 L195.8,193.3 M208.6,215.8 L203.0,217.8 L198.4,219.8" fill="none" stroke="#1c5a10" stroke-width="0.9" stroke-linejoin="round"/>
<path d="M373.3,354.2 L368.8,355.4 L365.6,357.0 L361.7,384.3 L366.8,383.3 L372.8,382.6Z" fill="#4af628" stroke="#4af628" stroke-width="0.6" stroke-linejoin="round"/><path d="M373.3,354.2 L368.8,355.4 L365.6,357.0 M372.8,382.6 L366.8,383.3 L361.7,384.3" fill="none" stroke="#1c5a10" stroke-width="0.9" stroke-linejoin="round"/>
<path d="M222.4,325.1 L216.9,326.7 L217.7,352.6 L221.6,350.3Z" fill="#4af628" stroke="#4af628" stroke-width="0.6" stroke-linejoin="round"/><path d="M222.4,325.1 L216.9,326.7 M221.6,350.3 L217.7,352.6" fill="none" stroke="#1c5a10" stroke-width="0.9" stroke-linejoin="round"/>
<path d="M313.7,140.9 L308.3,142.9 L302.5,145.0 L296.5,147.0 L290.7,149.1 L285.4,151.1 L280.8,153.2 L287.6,177.7 L293.2,175.7 L299.1,173.6 L305.1,171.6 L310.7,169.5 L315.8,167.5 L320.1,165.4Z" fill="#4dff2a" stroke="#4dff2a" stroke-width="0.6" stroke-linejoin="round"/><path d="M313.7,140.9 L308.3,142.9 L302.5,145.0 L296.5,147.0 L290.7,149.1 L285.4,151.1 L280.8,153.2 M320.1,165.4 L315.8,167.5 L310.7,169.5 L305.1,171.6 L299.1,173.6 L293.2,175.7 L287.6,177.7" fill="none" stroke="#1c5a10" stroke-width="0.9" stroke-linejoin="round"/>
<path d="M308.9,321.0 L303.4,323.0 L297.4,325.1 L291.5,327.1 L285.8,329.2 L280.7,331.2 L276.4,333.3 L282.8,357.8 L288.2,355.8 L294.1,353.7 L300.0,351.7 L305.8,349.6 L311.1,347.6 L315.7,345.5Z" fill="#4dff2a" stroke="#4dff2a" stroke-width="0.6" stroke-linejoin="round"/><path d="M308.9,321.0 L303.4,323.0 L297.4,325.1 L291.5,327.1 L285.8,329.2 L280.7,331.2 L276.4,333.3 M315.7,345.5 L311.1,347.6 L305.8,349.6 L300.0,351.7 L294.1,353.7 L288.2,355.8 L282.8,357.8" fill="none" stroke="#1c5a10" stroke-width="0.9" stroke-linejoin="round"/>
<path d="M312.2,200.9 L306.7,203.0 L300.8,205.0 L294.9,207.1 L289.1,209.1 L283.8,211.2 L279.3,213.2 L286.0,237.8 L291.5,235.7 L297.4,233.7 L303.4,231.6 L309.1,229.6 L314.2,227.5 L318.6,225.4Z" fill="#4dff2a" stroke="#4dff2a" stroke-width="0.6" stroke-linejoin="round"/><path d="M312.2,200.9 L306.7,203.0 L300.8,205.0 L294.9,207.1 L289.1,209.1 L283.8,211.2 L279.3,213.2 M318.6,225.4 L314.2,227.5 L309.1,229.6 L303.4,231.6 L297.4,233.7 L291.5,235.7 L286.0,237.8" fill="none" stroke="#1c5a10" stroke-width="0.9" stroke-linejoin="round"/>
<path d="M310.6,260.9 L305.0,263.0 L299.1,265.0 L293.2,267.1 L287.5,269.1 L282.3,271.2 L277.9,273.3 L284.4,297.8 L289.9,295.7 L295.7,293.7 L301.7,291.6 L307.4,289.6 L312.7,287.5 L317.2,285.5Z" fill="#4dff2a" stroke="#4dff2a" stroke-width="0.6" stroke-linejoin="round"/><path d="M310.6,260.9 L305.0,263.0 L299.1,265.0 L293.2,267.1 L287.5,269.1 L282.3,271.2 L277.9,273.3 M317.2,285.5 L312.7,287.5 L307.4,289.6 L301.7,291.6 L295.7,293.7 L289.9,295.7 L284.4,297.8" fill="none" stroke="#1c5a10" stroke-width="0.9" stroke-linejoin="round"/>
<path d="M244.4,175.6 L239.2,177.6 L244.5,204.3 L248.1,202.2Z" fill="#4af628" stroke="#4af628" stroke-width="0.6" stroke-linejoin="round"/><path d="M244.4,175.6 L239.2,177.6 M248.1,202.2 L244.5,204.3" fill="none" stroke="#1c5a10" stroke-width="0.9" stroke-linejoin="round"/>
<path d="M61.2,415.1 L55.7,416.9 L49.5,418.6 L43.2,420.3 L36.9,422.0 L31.0,423.7 L25.7,425.5 L21.4,427.4 L25.7,453.2 L31.3,451.5 L37.5,449.8 L43.9,448.1 L50.1,446.4 L56.0,444.6 L61.2,442.8 L65.5,441.0Z" fill="#4dff2a" stroke="#4dff2a" stroke-width="0.6" stroke-linejoin="round"/><path d="M61.2,415.1 L55.7,416.9 L49.5,418.6 L43.2,420.3 L36.9,422.0 L31.0,423.7 L25.7,425.5 L21.4,427.4 M65.5,441.0 L61.2,442.8 L56.0,444.6 L50.1,446.4 L43.9,448.1 L37.5,449.8 L31.3,451.5 L25.7,453.2" fill="none" stroke="#1c5a10" stroke-width="0.9" stroke-linejoin="round"/>
<path d="M196.4,254.1 L192.8,256.2 L196.5,282.8 L201.7,280.9Z" fill="#4af628" stroke="#4af628" stroke-width="0.6" stroke-linejoin="round"/><path d="M196.4,254.1 L192.8,256.2 M201.7,280.9 L196.5,282.8" fill="none" stroke="#1c5a10" stroke-width="0.9" stroke-linejoin="round"/>
<path d="M130.0,395.3 L129.4,398.3 L129.5,400.6 L144.6,410.4 L145.4,407.2 L146.7,403.4Z" fill="#4af628" stroke="#4af628" stroke-width="0.6" stroke-linejoin="round"/><path d="M130.0,395.3 L129.4,398.3 L129.5,400.6 M146.7,403.4 L145.4,407.2 L144.6,410.4" fill="none" stroke="#1c5a10" stroke-width="0.9" stroke-linejoin="round"/>
<path d="M250.8,419.3 L247.8,423.5 L245.9,428.4 L244.8,434.0 L241.6,436.7 L242.3,431.8 L244.4,427.1 L247.7,423.1Z" fill="#1e6812" stroke="#1e6812" stroke-width="0.6" stroke-linejoin="round"/><path d="M250.8,419.3 L247.8,423.5 L245.9,428.4 L244.8,434.0 M247.7,423.1 L244.4,427.1 L242.3,431.8 L241.6,436.7" fill="none" stroke="#1c5a10" stroke-width="0.9" stroke-linejoin="round"/>
<path d="M150.5,489.8 L151.4,494.4 L172.6,503.4 L172.7,498.0Z" fill="#4af628" stroke="#4af628" stroke-width="0.6" stroke-linejoin="round"/><path d="M150.5,489.8 L151.4,494.4 M172.7,498.0 L172.6,503.4" fill="none" stroke="#1c5a10" stroke-width="0.9" stroke-linejoin="round"/>
<path d="M54.1,477.6 L48.3,479.3 L42.1,481.0 L35.7,482.7 L29.5,484.4 L23.8,486.2 L18.8,488.0 L24.0,513.9 L30.0,512.2 L36.4,510.5 L42.7,508.8 L48.7,507.1 L54.2,505.3 L58.8,503.4Z" fill="#4dff2a" stroke="#4dff2a" stroke-width="0.6" stroke-linejoin="round"/><path d="M54.1,477.6 L48.3,479.3 L42.1,481.0 L35.7,482.7 L29.5,484.4 L23.8,486.2 L18.8,488.0 M58.8,503.4 L54.2,505.3 L48.7,507.1 L42.7,508.8 L36.4,510.5 L30.0,512.2 L24.0,513.9" fill="none" stroke="#1c5a10" stroke-width="0.9" stroke-linejoin="round"/>
<path d="M418.9,350.4 L413.1,351.2 L412.2,379.4 L416.4,378.2Z" fill="#4af628" stroke="#4af628" stroke-width="0.6" stroke-linejoin="round"/><path d="M418.9,350.4 L413.1,351.2 M416.4,378.2 L412.2,379.4" fill="none" stroke="#1c5a10" stroke-width="0.9" stroke-linejoin="round"/>
<path d="M175.4,396.1 L175.9,400.0 L176.0,404.2 L182.7,407.4 L184.8,404.8 L186.2,402.8Z" fill="#4af628" stroke="#4af628" stroke-width="0.6" stroke-linejoin="round"/><path d="M175.4,396.1 L175.9,400.0 L176.0,404.2 M186.2,402.8 L184.8,404.8 L182.7,407.4" fill="none" stroke="#1c5a10" stroke-width="0.9" stroke-linejoin="round"/>
<path d="M140.2,367.4 L139.0,371.1 L155.6,379.3 L156.0,376.5Z" fill="#4af628" stroke="#4af628" stroke-width="0.6" stroke-linejoin="round"/><path d="M140.2,367.4 L139.0,371.1 M156.0,376.5 L155.6,379.3" fill="none" stroke="#1c5a10" stroke-width="0.9" stroke-linejoin="round"/>
<path d="M310.0,106.0 C309.2,109.0 307.7,120.2 305.0,124.0 C302.3,127.8 297.8,127.8 294.0,129.0 C290.2,130.2 286.0,127.5 282.0,131.0 C278.0,134.5 274.0,142.8 270.0,150.0 C266.0,157.2 261.3,167.3 258.0,174.0 C254.7,180.7 251.3,187.3 250.0,190.0" fill="none" stroke="#1c5a10" stroke-width="5.0" stroke-linecap="round" stroke-linejoin="round"/><path d="M310.0,106.0 C309.2,109.0 307.7,120.2 305.0,124.0 C302.3,127.8 297.8,127.8 294.0,129.0 C290.2,130.2 286.0,127.5 282.0,131.0 C278.0,134.5 274.0,142.8 270.0,150.0 C266.0,157.2 261.3,167.3 258.0,174.0 C254.7,180.7 251.3,187.3 250.0,190.0" fill="none" stroke="#4cf22c" stroke-width="3.4" stroke-linecap="round" stroke-linejoin="round"/>
<path d="M125.3,548.6 L127.8,544.1 L129.2,539.2 L129.5,533.9 L126.8,538.1 L126.3,543.2 L124.7,548.0 L121.9,552.3Z" fill="#32b21c" stroke="#32b21c" stroke-width="0.6" stroke-linejoin="round"/><path d="M125.3,548.6 L127.8,544.1 L129.2,539.2 L129.5,533.9 M121.9,552.3 L124.7,548.0 L126.3,543.2 L126.8,538.1" fill="none" stroke="#1c5a10" stroke-width="0.9" stroke-linejoin="round"/>
<path d="M388.0,145.6 L392.0,148.3 L394.9,151.5 L396.1,170.6 L391.9,168.1 L386.9,166.1Z" fill="#2c981a" stroke="#2c981a" stroke-width="0.6" stroke-linejoin="round"/><path d="M388.0,145.6 L392.0,148.3 L394.9,151.5 M386.9,166.1 L391.9,168.1 L396.1,170.6" fill="none" stroke="#1c5a10" stroke-width="0.9" stroke-linejoin="round"/>
<path d="M191.1,523.4 L193.7,526.0 L197.1,527.4 L215.3,540.3 L212.9,537.5 L211.3,533.6Z" fill="#32b21c" stroke="#32b21c" stroke-width="0.6" stroke-linejoin="round"/><path d="M191.1,523.4 L193.7,526.0 L197.1,527.4 M211.3,533.6 L212.9,537.5 L215.3,540.3" fill="none" stroke="#1c5a10" stroke-width="0.9" stroke-linejoin="round"/>
<path d="M405.3,203.7 L403.4,207.8 L400.4,211.8 L408.9,229.8 L410.5,225.7 L410.9,221.7Z" fill="#42e224" stroke="#42e224" stroke-width="0.6" stroke-linejoin="round"/><path d="M405.3,203.7 L403.4,207.8 L400.4,211.8 M410.9,221.7 L410.5,225.7 L408.9,229.8" fill="none" stroke="#1c5a10" stroke-width="0.9" stroke-linejoin="round"/>
<path d="M203.1,469.9 L201.3,472.5 L225.5,484.2 L226.7,482.9Z" fill="#42e224" stroke="#42e224" stroke-width="0.6" stroke-linejoin="round"/><path d="M203.1,469.9 L201.3,472.5 M226.7,482.9 L225.5,484.2" fill="none" stroke="#1c5a10" stroke-width="0.9" stroke-linejoin="round"/>
<path d="M83.6,520.3 L80.5,525.3 L79.0,526.5 L81.7,522.2Z" fill="#1e6812" stroke="#1e6812" stroke-width="0.6" stroke-linejoin="round"/><path d="M83.6,520.3 L80.5,525.3 M81.7,522.2 L79.0,526.5" fill="none" stroke="#1c5a10" stroke-width="0.9" stroke-linejoin="round"/>
<path d="M159.0,455.4 L156.6,460.6 L154.4,466.4 L152.5,472.5 L151.2,478.6 L150.5,484.4 L150.5,489.8 L172.7,498.0 L173.6,492.1 L175.0,486.0 L177.0,479.9 L179.2,474.2 L181.6,469.0 L184.0,464.7Z" fill="#4dff2a" stroke="#4dff2a" stroke-width="0.6" stroke-linejoin="round"/><path d="M159.0,455.4 L156.6,460.6 L154.4,466.4 L152.5,472.5 L151.2,478.6 L150.5,484.4 L150.5,489.8 M184.0,464.7 L181.6,469.0 L179.2,474.2 L177.0,479.9 L175.0,486.0 L173.6,492.1 L172.7,498.0" fill="none" stroke="#1c5a10" stroke-width="0.9" stroke-linejoin="round"/>
<path d="M216.9,326.7 L210.6,328.0 L203.9,329.0 L197.1,329.6 L190.5,330.1 L184.4,330.5 L179.1,330.9 L180.2,358.9 L186.6,358.4 L193.4,357.9 L200.2,357.1 L206.7,355.9 L212.6,354.5 L217.7,352.6Z" fill="#4dff2a" stroke="#4dff2a" stroke-width="0.6" stroke-linejoin="round"/><path d="M216.9,326.7 L210.6,328.0 L203.9,329.0 L197.1,329.6 L190.5,330.1 L184.4,330.5 L179.1,330.9 M217.7,352.6 L212.6,354.5 L206.7,355.9 L200.2,357.1 L193.4,357.9 L186.6,358.4 L180.2,358.9" fill="none" stroke="#1c5a10" stroke-width="0.9" stroke-linejoin="round"/>
<path d="M371.7,227.9 L367.5,228.7 L364.2,228.9 L373.4,251.6 L377.7,250.7 L382.6,249.2Z" fill="#4af628" stroke="#4af628" stroke-width="0.6" stroke-linejoin="round"/><path d="M371.7,227.9 L367.5,228.7 L364.2,228.9 M382.6,249.2 L377.7,250.7 L373.4,251.6" fill="none" stroke="#1c5a10" stroke-width="0.9" stroke-linejoin="round"/>
<path d="M139.0,371.1 L137.5,375.1 L135.8,379.4 L134.1,383.7 L132.4,387.9 L131.0,391.8 L130.0,395.3 L146.7,403.4 L148.2,399.3 L149.9,395.1 L151.7,390.8 L153.3,386.6 L154.7,382.7 L155.6,379.3Z" fill="#4dff2a" stroke="#4dff2a" stroke-width="0.6" stroke-linejoin="round"/><path d="M139.0,371.1 L137.5,375.1 L135.8,379.4 L134.1,383.7 L132.4,387.9 L131.0,391.8 L130.0,395.3 M155.6,379.3 L154.7,382.7 L153.3,386.6 L151.7,390.8 L149.9,395.1 L148.2,399.3 L146.7,403.4" fill="none" stroke="#1c5a10" stroke-width="0.9" stroke-linejoin="round"/>
<path d="M231.1,305.7 L225.3,307.6 L218.9,309.5 L212.3,311.4 L206.4,315.3 L200.9,319.2 L195.9,323.2 L191.6,327.2 L193.5,337.9 L199.2,337.9 L205.8,338.0 L212.9,338.2 L220.0,338.3 L226.2,336.4 L231.7,334.5 L236.2,332.4Z" fill="#4dff2a" stroke="#4dff2a" stroke-width="0.6" stroke-linejoin="round"/><path d="M231.1,305.7 L225.3,307.6 L218.9,309.5 L212.3,311.4 L206.4,315.3 L200.9,319.2 L195.9,323.2 L191.6,327.2 M236.2,332.4 L231.7,334.5 L226.2,336.4 L220.0,338.3 L212.9,338.2 L205.8,338.0 L199.2,337.9 L193.5,337.9" fill="none" stroke="#1c5a10" stroke-width="0.9" stroke-linejoin="round"/>
<path d="M259.4,413.6 L254.8,415.9 L250.8,419.3 L247.7,423.1 L251.8,420.0 L256.7,417.8Z" fill="#32b21c" stroke="#32b21c" stroke-width="0.6" stroke-linejoin="round"/><path d="M259.4,413.6 L254.8,415.9 L250.8,419.3 M256.7,417.8 L251.8,420.0 L247.7,423.1" fill="none" stroke="#1c5a10" stroke-width="0.9" stroke-linejoin="round"/>
<path d="M239.2,177.6 L233.2,179.5 L226.8,181.4 L220.2,183.3 L213.8,185.2 L207.8,187.1 L202.7,189.1 L208.6,215.8 L214.8,213.9 L221.4,212.1 L227.9,210.2 L234.2,208.3 L239.8,206.3 L244.5,204.3Z" fill="#4dff2a" stroke="#4dff2a" stroke-width="0.6" stroke-linejoin="round"/><path d="M239.2,177.6 L233.2,179.5 L226.8,181.4 L220.2,183.3 L213.8,185.2 L207.8,187.1 L202.7,189.1 M244.5,204.3 L239.8,206.3 L234.2,208.3 L227.9,210.2 L221.4,212.1 L214.8,213.9 L208.6,215.8" fill="none" stroke="#1c5a10" stroke-width="0.9" stroke-linejoin="round"/>
<path d="M232.3,242.6 L226.1,244.5 L219.6,246.4 L213.0,248.3 L206.7,250.2 L201.1,252.1 L196.4,254.1 L201.7,280.9 L207.7,278.9 L214.1,277.1 L220.7,275.2 L227.1,273.3 L233.1,271.4 L238.2,269.4Z" fill="#4dff2a" stroke="#4dff2a" stroke-width="0.6" stroke-linejoin="round"/><path d="M232.3,242.6 L226.1,244.5 L219.6,246.4 L213.0,248.3 L206.7,250.2 L201.1,252.1 L196.4,254.1 M238.2,269.4 L233.1,271.4 L227.1,273.3 L220.7,275.2 L214.1,277.1 L207.7,278.9 L201.7,280.9" fill="none" stroke="#1c5a10" stroke-width="0.9" stroke-linejoin="round"/>
<path d="M395.3,414.7 L388.9,417.4 L382.1,420.0 L375.1,422.6 L368.2,425.1 L368.7,436.7 L375.9,438.5 L382.8,440.2 L388.9,441.7 L393.9,442.8Z" fill="#4dff2a" stroke="#4dff2a" stroke-width="0.6" stroke-linejoin="round"/><path d="M395.3,414.7 L388.9,417.4 L382.1,420.0 L375.1,422.6 L368.2,425.1 M393.9,442.8 L388.9,441.7 L382.8,440.2 L375.9,438.5 L368.7,436.7" fill="none" stroke="#1c5a10" stroke-width="0.9" stroke-linejoin="round"/>
<path d="M413.1,351.2 L406.5,351.7 L399.5,352.1 L392.3,352.4 L385.4,352.8 L378.9,353.4 L373.3,354.2 L372.8,382.6 L379.5,382.1 L386.6,381.7 L393.8,381.4 L400.6,381.0 L406.9,380.3 L412.2,379.4Z" fill="#4dff2a" stroke="#4dff2a" stroke-width="0.6" stroke-linejoin="round"/><path d="M413.1,351.2 L406.5,351.7 L399.5,352.1 L392.3,352.4 L385.4,352.8 L378.9,353.4 L373.3,354.2 M412.2,379.4 L406.9,380.3 L400.6,381.0 L393.8,381.4 L386.6,381.7 L379.5,382.1 L372.8,382.6" fill="none" stroke="#1c5a10" stroke-width="0.9" stroke-linejoin="round"/>
<path d="M103.1,509.8 L97.7,510.4 L92.4,512.6 L87.6,516.0 L83.6,520.3 L81.7,522.2 L85.4,518.7 L90.0,516.2 L95.2,514.8 L100.9,514.2Z" fill="#32b21c" stroke="#32b21c" stroke-width="0.6" stroke-linejoin="round"/><path d="M103.1,509.8 L97.7,510.4 L92.4,512.6 L87.6,516.0 L83.6,520.3 M100.9,514.2 L95.2,514.8 L90.0,516.2 L85.4,518.7 L81.7,522.2" fill="none" stroke="#1c5a10" stroke-width="0.9" stroke-linejoin="round"/>
<path d="M352.1,187.3 L352.2,186.3 L357.2,210.5 L358.6,211.1Z" fill="#32b21c" stroke="#32b21c" stroke-width="0.6" stroke-linejoin="round"/><path d="M352.1,187.3 L352.2,186.3 M358.6,211.1 L357.2,210.5" fill="none" stroke="#1c5a10" stroke-width="0.9" stroke-linejoin="round"/>
<path d="M295.2,437.2 L294.4,432.3 L292.4,427.5 L289.4,423.0 L286.7,427.9 L289.5,432.5 L291.2,437.4 L291.7,442.3Z" fill="#42e224" stroke="#42e224" stroke-width="0.6" stroke-linejoin="round"/><path d="M295.2,437.2 L294.4,432.3 L292.4,427.5 L289.4,423.0 M291.7,442.3 L291.2,437.4 L289.5,432.5 L286.7,427.9" fill="none" stroke="#1c5a10" stroke-width="0.9" stroke-linejoin="round"/>
<path d="M129.5,533.9 L128.5,528.5 L126.3,523.5 L123.0,518.9 L118.9,515.0 L114.0,512.1 L108.6,510.3 L103.1,509.8 L100.9,514.2 L106.6,514.9 L112.0,516.7 L116.8,519.6 L120.9,523.4 L124.0,527.9 L126.0,532.9 L126.8,538.1Z" fill="#42e224" stroke="#42e224" stroke-width="0.6" stroke-linejoin="round"/><path d="M129.5,533.9 L128.5,528.5 L126.3,523.5 L123.0,518.9 L118.9,515.0 L114.0,512.1 L108.6,510.3 L103.1,509.8 M126.8,538.1 L126.0,532.9 L124.0,527.9 L120.9,523.4 L116.8,519.6 L112.0,516.7 L106.6,514.9 L100.9,514.2" fill="none" stroke="#1c5a10" stroke-width="0.9" stroke-linejoin="round"/>
<path d="M400.4,211.8 L396.5,215.6 L406.1,233.9 L408.9,229.8Z" fill="#4af628" stroke="#4af628" stroke-width="0.6" stroke-linejoin="round"/><path d="M400.4,211.8 L396.5,215.6 M408.9,229.8 L406.1,233.9" fill="none" stroke="#1c5a10" stroke-width="0.9" stroke-linejoin="round"/>
<path d="M275.5,413.7 L270.1,412.5 L264.6,412.5 L259.4,413.6 L256.7,417.8 L262.1,416.8 L267.7,416.9 L273.2,418.2Z" fill="#42e224" stroke="#42e224" stroke-width="0.6" stroke-linejoin="round"/><path d="M275.5,413.7 L270.1,412.5 L264.6,412.5 L259.4,413.6 M273.2,418.2 L267.7,416.9 L262.1,416.8 L256.7,417.8" fill="none" stroke="#1c5a10" stroke-width="0.9" stroke-linejoin="round"/>
<path d="M189.4,519.8 L191.1,523.4 L211.3,533.6 L210.5,528.9Z" fill="#42e224" stroke="#42e224" stroke-width="0.6" stroke-linejoin="round"/><path d="M189.4,519.8 L191.1,523.4 M210.5,528.9 L211.3,533.6" fill="none" stroke="#1c5a10" stroke-width="0.9" stroke-linejoin="round"/>
<path d="M394.9,151.5 L396.7,155.1 L397.3,158.9 L401.3,177.2 L399.3,173.7 L396.1,170.6Z" fill="#1e6812" stroke="#1e6812" stroke-width="0.6" stroke-linejoin="round"/><path d="M394.9,151.5 L396.7,155.1 L397.3,158.9 M396.1,170.6 L399.3,173.7 L401.3,177.2" fill="none" stroke="#1c5a10" stroke-width="0.9" stroke-linejoin="round"/>
<path d="M396.5,215.6 L391.9,219.1 L386.8,222.1 L381.6,224.6 L376.4,226.6 L371.7,227.9 L382.6,249.2 L387.8,247.1 L393.0,244.4 L398.0,241.3 L402.5,237.7 L406.1,233.9Z" fill="#4dff2a" stroke="#4dff2a" stroke-width="0.6" stroke-linejoin="round"/><path d="M396.5,215.6 L391.9,219.1 L386.8,222.1 L381.6,224.6 L376.4,226.6 L371.7,227.9 M406.1,233.9 L402.5,237.7 L398.0,241.3 L393.0,244.4 L387.8,247.1 L382.6,249.2" fill="none" stroke="#1c5a10" stroke-width="0.9" stroke-linejoin="round"/>
<path d="M289.4,423.0 L285.4,419.1 L280.7,415.9 L275.5,413.7 L273.2,418.2 L278.3,420.5 L282.9,423.9 L286.7,427.9Z" fill="#4af628" stroke="#4af628" stroke-width="0.6" stroke-linejoin="round"/><path d="M289.4,423.0 L285.4,419.1 L280.7,415.9 L275.5,413.7 M286.7,427.9 L282.9,423.9 L278.3,420.5 L273.2,418.2" fill="none" stroke="#1c5a10" stroke-width="0.9" stroke-linejoin="round"/>
<path d="M201.3,472.5 L199.1,476.2 L196.7,480.8 L221.7,490.1 L223.8,486.6 L225.5,484.2Z" fill="#4af628" stroke="#4af628" stroke-width="0.6" stroke-linejoin="round"/><path d="M201.3,472.5 L199.1,476.2 L196.7,480.8 M225.5,484.2 L223.8,486.6 L221.7,490.1" fill="none" stroke="#1c5a10" stroke-width="0.9" stroke-linejoin="round"/>
<path d="M188.5,515.3 L189.4,519.8 L210.5,528.9 L210.6,523.5Z" fill="#4af628" stroke="#4af628" stroke-width="0.6" stroke-linejoin="round"/><path d="M188.5,515.3 L189.4,519.8 M210.6,523.5 L210.5,528.9" fill="none" stroke="#1c5a10" stroke-width="0.9" stroke-linejoin="round"/>
<path d="M355.5,188.2 L353.2,188.0 L352.1,187.3 L358.6,211.1 L361.2,211.2 L364.8,210.9Z" fill="#42e224" stroke="#42e224" stroke-width="0.6" stroke-linejoin="round"/><path d="M355.5,188.2 L353.2,188.0 L352.1,187.3 M364.8,210.9 L361.2,211.2 L358.6,211.1" fill="none" stroke="#1c5a10" stroke-width="0.9" stroke-linejoin="round"/>
<path d="M397.3,158.9 L396.6,163.0 L402.2,181.0 L401.3,177.2Z" fill="#32b21c" stroke="#32b21c" stroke-width="0.6" stroke-linejoin="round"/><path d="M397.3,158.9 L396.6,163.0 M401.3,177.2 L402.2,181.0" fill="none" stroke="#1c5a10" stroke-width="0.9" stroke-linejoin="round"/>
<path d="M196.7,480.8 L194.3,486.2 L192.2,492.0 L190.3,498.1 L189.0,504.2 L188.4,510.0 L188.5,515.3 L210.6,523.5 L211.4,517.6 L212.8,511.5 L214.7,505.5 L217.0,499.7 L219.4,494.5 L221.7,490.1Z" fill="#4dff2a" stroke="#4dff2a" stroke-width="0.6" stroke-linejoin="round"/><path d="M196.7,480.8 L194.3,486.2 L192.2,492.0 L190.3,498.1 L189.0,504.2 L188.4,510.0 L188.5,515.3 M221.7,490.1 L219.4,494.5 L217.0,499.7 L214.7,505.5 L212.8,511.5 L211.4,517.6 L210.6,523.5" fill="none" stroke="#1c5a10" stroke-width="0.9" stroke-linejoin="round"/>
<path d="M396.6,163.0 L394.7,167.1 L391.7,171.1 L400.2,189.1 L401.8,185.0 L402.2,181.0Z" fill="#42e224" stroke="#42e224" stroke-width="0.6" stroke-linejoin="round"/><path d="M396.6,163.0 L394.7,167.1 L391.7,171.1 M402.2,181.0 L401.8,185.0 L400.2,189.1" fill="none" stroke="#1c5a10" stroke-width="0.9" stroke-linejoin="round"/>
<path d="M363.0,187.2 L358.9,188.0 L355.5,188.2 L364.8,210.9 L369.1,210.0 L374.0,208.5Z" fill="#4af628" stroke="#4af628" stroke-width="0.6" stroke-linejoin="round"/><path d="M363.0,187.2 L358.9,188.0 L355.5,188.2 M374.0,208.5 L369.1,210.0 L364.8,210.9" fill="none" stroke="#1c5a10" stroke-width="0.9" stroke-linejoin="round"/>
<path d="M391.7,171.1 L387.8,174.9 L397.5,193.1 L400.2,189.1Z" fill="#4af628" stroke="#4af628" stroke-width="0.6" stroke-linejoin="round"/><path d="M391.7,171.1 L387.8,174.9 M400.2,189.1 L397.5,193.1" fill="none" stroke="#1c5a10" stroke-width="0.9" stroke-linejoin="round"/>
<path d="M387.8,174.9 L383.3,178.4 L378.2,181.4 L373.0,183.9 L367.8,185.9 L363.0,187.2 L374.0,208.5 L379.2,206.4 L384.4,203.7 L389.4,200.6 L393.8,197.0 L397.5,193.1Z" fill="#4dff2a" stroke="#4dff2a" stroke-width="0.6" stroke-linejoin="round"/><path d="M387.8,174.9 L383.3,178.4 L378.2,181.4 L373.0,183.9 L367.8,185.9 L363.0,187.2 M397.5,193.1 L393.8,197.0 L389.4,200.6 L384.4,203.7 L379.2,206.4 L374.0,208.5" fill="none" stroke="#1c5a10" stroke-width="0.9" stroke-linejoin="round"/></g>
<text x="228.8" y="193.0" font-family="'Liberation Sans',Arial,sans-serif" font-size="22" font-weight="bold" fill="#000" text-anchor="middle">α7</text>
<text x="304.7" y="195.7" font-family="'Liberation Sans',Arial,sans-serif" font-size="22" font-weight="bold" fill="#000" text-anchor="middle">α5</text>
<text x="349.3" y="294.2" font-family="'Liberation Sans',Arial,sans-serif" font-size="22" font-weight="bold" fill="#000" text-anchor="middle">α8</text>
<text x="372.5" y="367.4" font-family="'Liberation Sans',Arial,sans-serif" font-size="22" font-weight="bold" fill="#000" text-anchor="middle">α9</text>
<text x="153.0" y="396.6" font-family="'Liberation Sans',Arial,sans-serif" font-size="22" font-weight="bold" fill="#000" text-anchor="middle">α4</text>
<text x="303.3" y="467.0" font-family="'Liberation Sans',Arial,sans-serif" font-size="22" font-weight="bold" fill="#000" text-anchor="middle">α6</text>
<text x="738.2" y="207.7" font-family="'Liberation Sans',Arial,sans-serif" font-size="22" font-weight="bold" fill="#000" text-anchor="middle">α7</text>
<text x="815.3" y="206.4" font-family="'Liberation Sans',Arial,sans-serif" font-size="22" font-weight="bold" fill="#000" text-anchor="middle">α5</text>
<text x="851.3" y="307.5" font-family="'Liberation Sans',Arial,sans-serif" font-size="22" font-weight="bold" fill="#000" text-anchor="middle">α8</text>
<text x="879.8" y="382.0" font-family="'Liberation Sans',Arial,sans-serif" font-size="22" font-weight="bold" fill="#000" text-anchor="middle">α9</text>
<text x="663.6" y="416.6" font-family="'Liberation Sans',Arial,sans-serif" font-size="22" font-weight="bold" fill="#000" text-anchor="middle">α4</text>
<text x="811.3" y="477.8" font-family="'Liberation Sans',Arial,sans-serif" font-size="22" font-weight="bold" fill="#000" text-anchor="middle">α6</text>
<text x="1234.8" y="209.0" font-family="'Liberation Sans',Arial,sans-serif" font-size="22" font-weight="bold" fill="#000" text-anchor="middle">α7</text>
<text x="1310.7" y="211.7" font-family="'Liberation Sans',Arial,sans-serif" font-size="22" font-weight="bold" fill="#000" text-anchor="middle">α5</text>
<text x="1355.3" y="310.2" font-family="'Liberation Sans',Arial,sans-serif" font-size="22" font-weight="bold" fill="#000" text-anchor="middle">α8</text>
<text x="1378.5" y="383.4" font-family="'Liberation Sans',Arial,sans-serif" font-size="22" font-weight="bold" fill="#000" text-anchor="middle">α9</text>
<text x="1159.0" y="412.6" font-family="'Liberation Sans',Arial,sans-serif" font-size="22" font-weight="bold" fill="#000" text-anchor="middle">α4</text>
<text x="1309.3" y="483.0" font-family="'Liberation Sans',Arial,sans-serif" font-size="22" font-weight="bold" fill="#000" text-anchor="middle">α6</text>
<text x="1754.9" y="158.5" font-family="'Liberation Sans',Arial,sans-serif" font-size="22" font-weight="bold" fill="#000" text-anchor="middle">α7</text>
<text x="1816.3" y="210.7" font-family="'Liberation Sans',Arial,sans-serif" font-size="22" font-weight="bold" fill="#000" text-anchor="middle">α5</text>
<text x="1850.0" y="315.1" font-family="'Liberation Sans',Arial,sans-serif" font-size="22" font-weight="bold" fill="#000" text-anchor="middle">α8</text>
<text x="1874.7" y="396.5" font-family="'Liberation Sans',Arial,sans-serif" font-size="22" font-weight="bold" fill="#000" text-anchor="middle">α9</text>
<text x="1650.5" y="418.0" font-family="'Liberation Sans',Arial,sans-serif" font-size="22" font-weight="bold" fill="#000" text-anchor="middle">α4</text>
<text x="1796.3" y="490.2" font-family="'Liberation Sans',Arial,sans-serif" font-size="22" font-weight="bold" fill="#000" text-anchor="middle">α6</text>
<path d="M272.0,310.0 L266.5,319.5 L255.5,319.5 L250.0,310.0 L255.5,300.5 L266.5,300.5ZM275.0,331.0 L269.5,340.5 L258.5,340.5 L253.0,331.0 L258.5,321.5 L269.5,321.5ZM278.0,352.0 L272.5,361.5 L261.5,361.5 L256.0,352.0 L261.5,342.5 L272.5,342.5Z" fill="none" stroke="#5a5ad0" stroke-width="4.2" stroke-linejoin="round"/>
<path d="M272.0,310.0 L266.5,319.5 L255.5,319.5 L250.0,310.0 L255.5,300.5 L266.5,300.5ZM275.0,331.0 L269.5,340.5 L258.5,340.5 L253.0,331.0 L258.5,321.5 L269.5,321.5ZM278.0,352.0 L272.5,361.5 L261.5,361.5 L256.0,352.0 L261.5,342.5 L272.5,342.5Z" fill="none" stroke="#7d7de6" stroke-width="2.6" stroke-linejoin="round"/>
<path d="M253,331 L244,329" stroke="#7d7de6" stroke-width="3"/>
<path d="M782.0,322.0 L776.5,331.5 L765.5,331.5 L760.0,322.0 L765.5,312.5 L776.5,312.5ZM785.5,347.5 L776.0,353.0 L766.5,347.5 L766.5,336.5 L776.0,331.0 L785.5,336.5ZM781.0,362.0 L775.5,371.5 L764.5,371.5 L759.0,362.0 L764.5,352.5 L775.5,352.5ZM785.8,376.5 L778.0,381.0 L770.2,376.5 L770.2,367.5 L778.0,363.0 L785.8,367.5Z" fill="none" stroke="#b85e10" stroke-width="4.6" stroke-linejoin="round"/>
<path d="M782.0,322.0 L776.5,331.5 L765.5,331.5 L760.0,322.0 L765.5,312.5 L776.5,312.5ZM785.5,347.5 L776.0,353.0 L766.5,347.5 L766.5,336.5 L776.0,331.0 L785.5,336.5ZM781.0,362.0 L775.5,371.5 L764.5,371.5 L759.0,362.0 L764.5,352.5 L775.5,352.5ZM785.8,376.5 L778.0,381.0 L770.2,376.5 L770.2,367.5 L778.0,363.0 L785.8,367.5Z" fill="none" stroke="#e8872c" stroke-width="3" stroke-linejoin="round"/>
<path d="M766,312 L764,300 M780,316 L778,306 M759,343 L752,342" stroke="#e05050" stroke-width="2.5"/>
<path d="M1275.7,344.0 L1267.0,349.0 L1258.3,344.0 L1258.3,334.0 L1267.0,329.0 L1275.7,334.0ZM1290.7,380.0 L1282.0,385.0 L1273.3,380.0 L1273.3,370.0 L1282.0,365.0 L1290.7,370.0ZM1270,350 L1268,360 L1276,366" fill="none" stroke="#a020a0" stroke-width="4.4" stroke-linejoin="round"/>
<path d="M1275.7,344.0 L1267.0,349.0 L1258.3,344.0 L1258.3,334.0 L1267.0,329.0 L1275.7,334.0ZM1290.7,380.0 L1282.0,385.0 L1273.3,380.0 L1273.3,370.0 L1282.0,365.0 L1290.7,370.0ZM1270,350 L1268,360 L1276,366" fill="none" stroke="#e040e0" stroke-width="2.8" stroke-linejoin="round"/>
<path d="M1258,336 L1252,334 M1290,386 L1298,390" stroke="#e04040" stroke-width="2.5"/>
<g opacity="0.85">
<ellipse cx="1750" cy="300" rx="18" ry="14" fill="#e4e4e4" stroke="#d0d0d0" stroke-width="1"/>
<ellipse cx="1752" cy="322" rx="22" ry="16" fill="#e4e4e4" stroke="#d0d0d0" stroke-width="1"/>
<ellipse cx="1748" cy="345" rx="24" ry="18" fill="#e4e4e4" stroke="#d0d0d0" stroke-width="1"/>
<ellipse cx="1744" cy="368" rx="26" ry="18" fill="#e4e4e4" stroke="#d0d0d0" stroke-width="1"/>
<ellipse cx="1740" cy="390" rx="26" ry="18" fill="#e4e4e4" stroke="#d0d0d0" stroke-width="1"/>
<ellipse cx="1742" cy="410" rx="22" ry="16" fill="#e4e4e4" stroke="#d0d0d0" stroke-width="1"/>
<ellipse cx="1750" cy="424" rx="14" ry="10" fill="#e4e4e4" stroke="#d0d0d0" stroke-width="1"/>
</g>
<path d="M1770.0,316.0 L1765.0,324.7 L1755.0,324.7 L1750.0,316.0 L1755.0,307.3 L1765.0,307.3ZM1773.0,336.0 L1768.0,344.7 L1758.0,344.7 L1753.0,336.0 L1758.0,327.3 L1768.0,327.3ZM1776.0,356.0 L1771.0,364.7 L1761.0,364.7 L1756.0,356.0 L1761.0,347.3 L1771.0,347.3Z" fill="none" stroke="#8a8ae8" stroke-width="2.6" opacity="0.9"/>
<path d="M1764.7,327.0 L1756.0,332.0 L1747.3,327.0 L1747.3,317.0 L1756.0,312.0 L1764.7,317.0ZM1770.7,349.0 L1762.0,354.0 L1753.3,349.0 L1753.3,339.0 L1762.0,334.0 L1770.7,339.0ZM1766.7,369.0 L1758.0,374.0 L1749.3,369.0 L1749.3,359.0 L1758.0,354.0 L1766.7,359.0Z" fill="none" stroke="#e8a050" stroke-width="2.6" opacity="0.9"/>
<path d="M1770,360 L1772,380 L1780,392 L1790,396" fill="none" stroke="#e040e0" stroke-width="3"/>
<text x="0" y="0" font-family="'Liberation Serif','Times New Roman',serif" font-size="100" font-weight="bold" fill="#000" transform="translate(5.6 712) scale(1.026 1)">b</text>
<line x1="194.9" y1="766.6" x2="194.9" y2="1213.3" stroke="#000" stroke-width="3.6"/>
<line x1="181.3" y1="768.1" x2="194.9" y2="768.1" stroke="#000" stroke-width="3.6"/>
<line x1="183.0" y1="878.9" x2="194.9" y2="878.9" stroke="#000" stroke-width="3.6"/>
<line x1="183.0" y1="989.7" x2="194.9" y2="989.7" stroke="#000" stroke-width="3.6"/>
<line x1="183.0" y1="1100.5" x2="194.9" y2="1100.5" stroke="#000" stroke-width="3.6"/>
<line x1="181.3" y1="1211.3" x2="194.9" y2="1211.3" stroke="#000" stroke-width="3.6"/>
<line x1="193.1" y1="1100.5" x2="673.8" y2="1100.5" stroke="#000" stroke-width="3.6"/>
<line x1="314.0" y1="1100.5" x2="314.0" y2="1113.0" stroke="#000" stroke-width="3.6"/>
<line x1="434.0" y1="1100.5" x2="434.0" y2="1113.0" stroke="#000" stroke-width="3.6"/>
<line x1="552.8" y1="1100.5" x2="552.8" y2="1113.0" stroke="#000" stroke-width="3.6"/>
<line x1="672.2" y1="1100.5" x2="672.2" y2="1113.0" stroke="#000" stroke-width="3.6"/>
<text x="166.5" y="779.1" font-family="'Liberation Serif','Times New Roman',serif" font-size="33.5" font-weight="bold" fill="#000" text-anchor="end">0.015</text>
<text x="166.5" y="889.9" font-family="'Liberation Serif','Times New Roman',serif" font-size="33.5" font-weight="bold" fill="#000" text-anchor="end">0.010</text>
<text x="166.5" y="1000.7" font-family="'Liberation Serif','Times New Roman',serif" font-size="33.5" font-weight="bold" fill="#000" text-anchor="end">0.005</text>
<text x="166.5" y="1111.5" font-family="'Liberation Serif','Times New Roman',serif" font-size="33.5" font-weight="bold" fill="#000" text-anchor="end">0.000</text>
<text x="166.5" y="1222.3" font-family="'Liberation Serif','Times New Roman',serif" font-size="33.5" font-weight="bold" fill="#000" text-anchor="end">-0.005</text>
<text x="313.1" y="1146.8" font-family="'Liberation Serif','Times New Roman',serif" font-size="33.5" font-weight="bold" fill="#000" text-anchor="middle">50</text>
<text x="415.5" y="1146.8" font-family="'Liberation Serif','Times New Roman',serif" font-size="33.5" font-weight="bold" fill="#000" text-anchor="middle">60</text>
<text x="547.9" y="1146.8" font-family="'Liberation Serif','Times New Roman',serif" font-size="33.5" font-weight="bold" fill="#000" text-anchor="middle">70</text>
<text x="673.3" y="1146.8" font-family="'Liberation Serif','Times New Roman',serif" font-size="33.5" font-weight="bold" fill="#000" text-anchor="middle">80</text>
<text x="310.0" y="1232.9" font-family="'Liberation Serif','Times New Roman',serif" font-size="37.2" font-weight="bold" fill="#000" text-anchor="start">Temperature (°C)</text>
<text x="58.8" y="1068.0" font-family="'Liberation Serif','Times New Roman',serif" font-size="47" font-weight="bold" fill="#000" text-anchor="start" transform="rotate(-90 58.8 1068.0)">1st. Derivative</text>
<line x1="226.3" y1="681.6" x2="255.4" y2="681.6" stroke="#000" stroke-width="4"/>
<circle cx="241.0" cy="681.6" r="3.2" stroke="#000" stroke-width="3" fill="#000"/>
<line x1="226.3" y1="722.4" x2="255.4" y2="722.4" stroke="#3f8c96" stroke-width="4"/>
<circle cx="241.0" cy="722.4" r="3.2" stroke="#3f8c96" stroke-width="3" fill="#3f8c96"/>
<line x1="226.3" y1="763.0" x2="255.4" y2="763.0" stroke="#8c58ad" stroke-width="4"/>
<circle cx="241.0" cy="763.0" r="3.2" stroke="#8c58ad" stroke-width="3" fill="#8c58ad"/>
<text x="272.0" y="690.5" font-family="'Liberation Serif','Times New Roman',serif" font-size="33.5" font-weight="bold" fill="#000" text-anchor="start">MexL</text>
<text x="272.0" y="730.4" font-family="'Liberation Serif','Times New Roman',serif" font-size="33.6" font-weight="bold" fill="#4aa3ae" text-anchor="start">MexL+250 μM TET</text>
<text x="272.0" y="770.7" font-family="'Liberation Serif','Times New Roman',serif" font-size="33.6" font-weight="bold" fill="#7a3d9e" text-anchor="start">MexL+250 μM TCS</text>
<line x1="415.7" y1="799.0" x2="415.7" y2="1174.0" stroke="#3aa2b0" stroke-width="2.4" stroke-dasharray="2.4 5.6"/>
<line x1="439.5" y1="799.0" x2="439.5" y2="1174.0" stroke="#7a3d9e" stroke-width="2.4" stroke-dasharray="2.4 5.6"/>
<line x1="471.7" y1="799.0" x2="471.7" y2="1174.0" stroke="#000" stroke-width="2.4" stroke-dasharray="2.4 5.6"/>
<path d="M194.1,1096.6 C198.4,1096.2 211.6,1095.4 220.0,1094.5 C228.4,1093.6 236.9,1092.7 244.5,1091.3 C252.1,1089.9 258.5,1087.9 265.5,1086.0 C272.5,1084.1 280.5,1082.0 286.6,1079.7 C292.7,1077.4 297.1,1075.7 302.3,1072.4 C307.6,1069.1 312.9,1065.4 318.1,1059.8 C323.4,1054.2 328.6,1047.5 333.8,1038.8 C339.1,1030.0 344.4,1018.8 349.6,1007.3 C354.8,995.8 359.9,981.6 365.0,970.0 C370.1,958.4 375.0,947.9 380.0,937.4 C385.0,926.9 390.8,915.1 395.0,907.0 C399.2,898.9 402.0,893.7 405.5,889.0 C409.0,884.3 412.4,879.3 416.2,879.0 C419.9,878.7 424.0,882.0 428.0,887.0 C432.0,892.0 435.6,898.8 440.3,908.8 C445.0,918.8 451.4,932.7 456.2,947.0 C460.9,961.3 464.6,980.0 468.8,994.5 C473.0,1009.0 477.3,1022.6 481.5,1034.0 C485.7,1045.4 489.9,1055.5 494.2,1062.7 C498.4,1069.9 502.2,1073.4 507.0,1077.0 C511.8,1080.6 517.5,1083.4 522.8,1084.2 C528.1,1085.0 533.2,1083.1 538.6,1081.8 C544.0,1080.5 549.7,1078.3 555.0,1076.5 C560.3,1074.7 565.2,1073.1 570.4,1070.7 C575.6,1068.3 580.7,1064.7 586.0,1062.0 C591.3,1059.3 596.7,1056.5 602.0,1054.8 C607.3,1053.1 611.7,1052.3 618.0,1051.6 C624.3,1050.9 630.8,1051.3 640.0,1050.5 C649.2,1049.7 667.9,1047.5 673.5,1046.9" stroke="#3f8c96" stroke-width="5" fill="none" stroke-linejoin="round"/>
<path d="M194.1,1098.7 C199.2,1098.5 214.8,1097.7 225.0,1097.2 C235.2,1096.7 245.6,1096.1 255.0,1095.5 C264.4,1094.9 272.5,1095.0 281.3,1093.4 C290.1,1091.8 300.6,1089.0 307.6,1086.0 C314.6,1083.0 318.1,1079.9 323.3,1075.5 C328.6,1071.1 334.7,1065.0 339.1,1059.8 C343.5,1054.5 345.3,1050.0 349.6,1044.0 C353.9,1038.0 359.9,1030.9 365.0,1024.0 C370.1,1017.1 374.9,1011.9 380.0,1002.5 C385.1,993.1 390.6,978.9 395.9,967.5 C401.2,956.1 406.9,942.7 411.7,934.2 C416.4,925.8 420.7,920.6 424.4,916.8 C428.1,913.0 429.8,910.4 434.0,911.2 C438.2,912.0 445.1,915.0 449.8,921.5 C454.6,928.0 458.3,937.8 462.5,950.0 C466.7,962.2 471.0,979.7 475.2,994.5 C479.4,1009.3 483.7,1025.8 487.9,1039.0 C492.1,1052.2 496.1,1064.3 500.6,1073.8 C505.1,1083.3 510.4,1090.7 514.9,1096.0 C519.4,1101.3 523.3,1104.3 527.5,1105.6 C531.7,1106.9 535.7,1106.1 540.2,1104.0 C544.7,1101.9 548.1,1097.9 554.5,1092.9 C560.9,1087.9 570.4,1079.3 578.3,1073.8 C586.2,1068.2 592.8,1063.8 602.1,1059.6 C611.4,1055.4 622.0,1051.3 633.9,1048.5 C645.8,1045.7 666.9,1043.8 673.5,1042.9" stroke="#7b3f9f" stroke-width="7" fill="none" stroke-linejoin="round"/>
<path d="M194.0,1102.5 C197.5,1102.2 208.3,1101.3 215.0,1100.8 C221.7,1100.3 227.3,1099.6 234.0,1099.4 C240.7,1099.2 248.0,1099.3 255.0,1099.8 C262.0,1100.3 269.0,1102.3 276.0,1102.3 C283.0,1102.3 290.0,1101.0 297.0,1099.9 C304.0,1098.8 311.0,1097.5 318.0,1095.5 C325.0,1093.5 332.0,1091.5 339.0,1088.2 C346.0,1084.9 353.2,1080.0 360.0,1075.5 C366.8,1071.0 374.0,1066.1 380.0,1061.2 C386.0,1056.3 390.7,1051.7 396.0,1046.0 C401.3,1040.3 407.0,1033.3 411.7,1027.0 C416.4,1020.7 419.8,1015.2 424.0,1008.0 C428.2,1000.8 432.4,992.6 437.0,984.0 C441.6,975.4 447.1,964.4 451.4,956.4 C455.6,948.4 458.8,940.5 462.5,935.8 C466.2,931.0 469.4,927.1 473.6,927.9 C477.8,928.7 483.4,933.5 487.9,940.6 C492.4,947.7 496.4,958.3 500.6,970.7 C504.8,983.1 509.6,1001.6 513.3,1015.1 C517.0,1028.6 519.6,1040.2 522.8,1051.6 C526.0,1063.0 529.1,1074.9 532.3,1083.4 C535.5,1091.9 538.6,1098.4 541.8,1102.4 C545.0,1106.4 547.6,1107.2 551.3,1107.2 C555.0,1107.2 558.2,1106.9 564.0,1102.4 C569.8,1097.9 578.6,1086.6 586.3,1080.2 C594.0,1073.8 600.9,1068.8 610.1,1064.3 C619.4,1059.8 631.2,1056.1 641.8,1053.2 C652.4,1050.3 668.2,1048.0 673.5,1046.9" stroke="#000" stroke-width="5.5" fill="none" stroke-linejoin="round"/>
<text x="303.2" y="866.7" font-family="'Liberation Serif','Times New Roman',serif" font-size="33.3" font-weight="bold" fill="#4aa3ae" text-anchor="start">59.5°C</text>
<text x="446.6" y="883.5" font-family="'Liberation Serif','Times New Roman',serif" font-size="33.3" font-weight="bold" fill="#7a3d9e" text-anchor="start">60.5°C</text>
<text x="498.2" y="929.5" font-family="'Liberation Serif','Times New Roman',serif" font-size="33.3" font-weight="bold" fill="#000" text-anchor="start">62.6°C</text>
<text x="0" y="0" font-family="'Liberation Serif','Times New Roman',serif" font-size="111" font-weight="bold" fill="#000" transform="translate(801.2 713.7) scale(0.985 1)">c</text>
<line x1="963.5" y1="763.8" x2="963.5" y2="1122.6" stroke="#000" stroke-width="3.8"/>
<line x1="948.6" y1="1120.8" x2="963.5" y2="1120.8" stroke="#000" stroke-width="3.8"/>
<text x="941.0" y="1131.8" font-family="'Liberation Serif','Times New Roman',serif" font-size="33.3" font-weight="bold" fill="#000" text-anchor="end">0.00</text>
<line x1="948.6" y1="1049.8" x2="963.5" y2="1049.8" stroke="#000" stroke-width="3.8"/>
<text x="941.0" y="1060.8" font-family="'Liberation Serif','Times New Roman',serif" font-size="33.3" font-weight="bold" fill="#000" text-anchor="end">0.02</text>
<line x1="948.6" y1="978.7" x2="963.5" y2="978.7" stroke="#000" stroke-width="3.8"/>
<text x="941.0" y="989.7" font-family="'Liberation Serif','Times New Roman',serif" font-size="33.3" font-weight="bold" fill="#000" text-anchor="end">0.04</text>
<line x1="948.6" y1="907.7" x2="963.5" y2="907.7" stroke="#000" stroke-width="3.8"/>
<text x="941.0" y="918.7" font-family="'Liberation Serif','Times New Roman',serif" font-size="33.3" font-weight="bold" fill="#000" text-anchor="end">0.06</text>
<line x1="948.6" y1="836.6" x2="963.5" y2="836.6" stroke="#000" stroke-width="3.8"/>
<text x="941.0" y="847.6" font-family="'Liberation Serif','Times New Roman',serif" font-size="33.3" font-weight="bold" fill="#000" text-anchor="end">0.08</text>
<line x1="948.6" y1="765.6" x2="963.5" y2="765.6" stroke="#000" stroke-width="3.8"/>
<text x="941.0" y="776.6" font-family="'Liberation Serif','Times New Roman',serif" font-size="33.3" font-weight="bold" fill="#000" text-anchor="end">0.10</text>
<line x1="961.6" y1="1120.8" x2="1421.0" y2="1120.8" stroke="#000" stroke-width="3.8"/>
<line x1="1002.6" y1="1120.8" x2="1002.6" y2="1135.7" stroke="#000" stroke-width="3.8"/>
<line x1="1053.4" y1="1120.8" x2="1053.4" y2="1135.7" stroke="#000" stroke-width="3.8"/>
<line x1="1104.4" y1="1120.8" x2="1104.4" y2="1135.7" stroke="#000" stroke-width="3.8"/>
<line x1="1155.4" y1="1120.8" x2="1155.4" y2="1135.7" stroke="#000" stroke-width="3.8"/>
<line x1="1206.5" y1="1120.8" x2="1206.5" y2="1135.7" stroke="#000" stroke-width="3.8"/>
<line x1="1257.4" y1="1120.8" x2="1257.4" y2="1135.7" stroke="#000" stroke-width="3.8"/>
<line x1="1308.6" y1="1120.8" x2="1308.6" y2="1135.7" stroke="#000" stroke-width="3.8"/>
<line x1="1359.8" y1="1120.8" x2="1359.8" y2="1135.7" stroke="#000" stroke-width="3.8"/>
<text x="1002.6" y="1166.5" font-family="'Liberation Serif','Times New Roman',serif" font-size="31" font-weight="bold" fill="#000" text-anchor="middle">0</text>
<text x="1053.4" y="1166.5" font-family="'Liberation Serif','Times New Roman',serif" font-size="31" font-weight="bold" fill="#000" text-anchor="middle">0</text>
<text x="1104.4" y="1166.5" font-family="'Liberation Serif','Times New Roman',serif" font-size="31" font-weight="bold" fill="#000" text-anchor="middle">20</text>
<text x="1155.4" y="1166.5" font-family="'Liberation Serif','Times New Roman',serif" font-size="31" font-weight="bold" fill="#000" text-anchor="middle">30</text>
<text x="1206.5" y="1166.5" font-family="'Liberation Serif','Times New Roman',serif" font-size="31" font-weight="bold" fill="#000" text-anchor="middle">40</text>
<text x="1257.4" y="1166.5" font-family="'Liberation Serif','Times New Roman',serif" font-size="31" font-weight="bold" fill="#000" text-anchor="middle">110</text>
<text x="1308.6" y="1166.5" font-family="'Liberation Serif','Times New Roman',serif" font-size="31" font-weight="bold" fill="#000" text-anchor="middle">220</text>
<text x="1359.8" y="1166.5" font-family="'Liberation Serif','Times New Roman',serif" font-size="31" font-weight="bold" fill="#000" text-anchor="middle">440</text>
<text x="1058.0" y="1232.0" font-family="'Liberation Serif','Times New Roman',serif" font-size="37.2" font-weight="bold" fill="#000" text-anchor="start">Antibiotics (μM)</text>
<text x="797.0" y="1092.0" font-family="'Liberation Serif','Times New Roman',serif" font-size="46" font-weight="bold" fill="#000" text-anchor="start" transform="rotate(-90 797.0 1092.0)">PYO production</text>
<text x="0" y="0" font-family="'Liberation Serif','Times New Roman',serif" font-weight="bold" font-size="55.5" transform="translate(860.5 1094.8) rotate(-90)"><tspan font-size="50" dy="-8">(</tspan><tspan dy="8">OD</tspan><tspan font-size="34" dy="0">520</tspan><tspan dy="0">/OD</tspan><tspan font-size="34">600</tspan><tspan font-size="50" dy="-8"> )</tspan></text>
<rect x="980.5" y="674" width="29" height="20.6" rx="2" fill="none" stroke="#e8403f" stroke-width="2.8"/>
<text x="1024.0" y="695.8" font-family="'Liberation Serif','Times New Roman',serif" font-size="33.2" font-weight="bold" fill="#000" text-anchor="start">PAO1</text>
<rect x="1182.9" y="674.8" width="28" height="20.2" rx="2" fill="none" stroke="#2e4fae" stroke-width="2.8"/>
<text x="1227.5" y="696.2" font-family="'Liberation Serif','Times New Roman',serif" font-size="34.8" font-weight="bold" fill="#000" text-anchor="start">Δ<tspan font-style="italic">mexL</tspan></text>
<rect x="984.7" y="1104.4" width="35.8" height="16.4" fill="#fff" stroke="#2e4fae" stroke-width="2.8"/>
<rect x="1035.5" y="829.9" width="35.8" height="290.9" fill="#fff" stroke="#e8403f" stroke-width="2.8"/>
<rect x="1086.5" y="1007.1" width="35.8" height="113.7" fill="#f3dcdf" stroke="#e8403f" stroke-width="2.8"/>
<rect x="1137.5" y="1087.7" width="35.8" height="33.1" fill="#e8969b" stroke="#e8403f" stroke-width="2.8"/>
<rect x="1188.6" y="1111.9" width="35.8" height="8.9" fill="#e88a8e" stroke="#e8403f" stroke-width="2.8"/>
<rect x="1239.2" y="994.7" width="36.4" height="126.1" fill="#e34749" stroke="#000" stroke-width="2.2"/>
<rect x="1290.4" y="1029.9" width="36.4" height="90.9" fill="#ec2520" stroke="#000" stroke-width="2.2"/>
<rect x="1341.6" y="1080.3" width="36.4" height="40.5" fill="#9b2027" stroke="#000" stroke-width="2.2"/>
<circle cx="989.2" cy="1097.0" r="5.0" stroke="#000" stroke-width="2.8" fill="none"/>
<circle cx="1002.2" cy="1101.0" r="5.0" stroke="#000" stroke-width="2.8" fill="none"/>
<circle cx="1015.5" cy="1108.8" r="5.0" stroke="#000" stroke-width="2.8" fill="none"/>
<line x1="1002.6" y1="1095.3" x2="1002.6" y2="1108.6" stroke="#2e4fae" stroke-width="2.2"/>
<line x1="993.1" y1="1095.3" x2="1012.1" y2="1095.3" stroke="#2e4fae" stroke-width="2.6"/>
<line x1="993.1" y1="1108.6" x2="1012.1" y2="1108.6" stroke="#2e4fae" stroke-width="2.6"/>
<circle cx="1043.6" cy="820.2" r="5.0" stroke="#000" stroke-width="2.8" fill="none"/>
<circle cx="1063.4" cy="822.3" r="5.0" stroke="#000" stroke-width="2.8" fill="none"/>
<circle cx="1053.5" cy="838.0" r="5.0" stroke="#000" stroke-width="2.8" fill="none"/>
<line x1="1053.4" y1="817.0" x2="1053.4" y2="837.0" stroke="#e8403f" stroke-width="2.2"/>
<line x1="1043.9" y1="817.0" x2="1062.9" y2="817.0" stroke="#e8403f" stroke-width="2.6"/>
<line x1="1043.9" y1="837.0" x2="1062.9" y2="837.0" stroke="#e8403f" stroke-width="2.6"/>
<circle cx="1091.5" cy="1001.4" r="5.0" stroke="#000" stroke-width="2.8" fill="none"/>
<circle cx="1104.3" cy="1003.7" r="5.0" stroke="#000" stroke-width="2.8" fill="none"/>
<circle cx="1117.6" cy="1004.6" r="5.0" stroke="#000" stroke-width="2.8" fill="none"/>
<line x1="1104.4" y1="1002.6" x2="1104.4" y2="1005.0" stroke="#e8403f" stroke-width="2.2"/>
<line x1="1094.9" y1="1002.6" x2="1113.9" y2="1002.6" stroke="#e8403f" stroke-width="2.6"/>
<line x1="1094.9" y1="1005.0" x2="1113.9" y2="1005.0" stroke="#e8403f" stroke-width="2.6"/>
<circle cx="1142.5" cy="1082.7" r="5.0" stroke="#000" stroke-width="2.8" fill="none"/>
<circle cx="1155.4" cy="1084.4" r="5.0" stroke="#000" stroke-width="2.8" fill="none"/>
<circle cx="1168.6" cy="1086.9" r="5.0" stroke="#000" stroke-width="2.8" fill="none"/>
<line x1="1155.4" y1="1083.5" x2="1155.4" y2="1087.5" stroke="#e8403f" stroke-width="2.2"/>
<line x1="1145.9" y1="1083.5" x2="1164.9" y2="1083.5" stroke="#e8403f" stroke-width="2.6"/>
<line x1="1145.9" y1="1087.5" x2="1164.9" y2="1087.5" stroke="#e8403f" stroke-width="2.6"/>
<circle cx="1193.6" cy="1105.6" r="5.0" stroke="#000" stroke-width="2.8" fill="none"/>
<circle cx="1205.8" cy="1110.6" r="5.0" stroke="#000" stroke-width="2.8" fill="none"/>
<circle cx="1219.4" cy="1113.5" r="5.0" stroke="#000" stroke-width="2.8" fill="none"/>
<line x1="1206.5" y1="1106.0" x2="1206.5" y2="1114.0" stroke="#e8403f" stroke-width="2.2"/>
<line x1="1197.0" y1="1106.0" x2="1216.0" y2="1106.0" stroke="#e8403f" stroke-width="2.6"/>
<line x1="1197.0" y1="1114.0" x2="1216.0" y2="1114.0" stroke="#e8403f" stroke-width="2.6"/>
<circle cx="1247.3" cy="995.3" r="5.0" stroke="#000" stroke-width="2.8" fill="none"/>
<circle cx="1257.4" cy="982.4" r="5.0" stroke="#000" stroke-width="2.8" fill="none"/>
<circle cx="1267.4" cy="1003.2" r="5.0" stroke="#000" stroke-width="2.8" fill="none"/>
<line x1="1257.4" y1="984.5" x2="1257.4" y2="1003.2" stroke="#000" stroke-width="2.2"/>
<line x1="1247.9" y1="984.5" x2="1266.9" y2="984.5" stroke="#000" stroke-width="2.6"/>
<line x1="1247.9" y1="1003.2" x2="1266.9" y2="1003.2" stroke="#000" stroke-width="2.6"/>
<circle cx="1299.4" cy="1018.9" r="5.0" stroke="#000" stroke-width="2.8" fill="none"/>
<circle cx="1318.7" cy="1018.9" r="5.0" stroke="#000" stroke-width="2.8" fill="none"/>
<circle cx="1308.7" cy="1047.6" r="5.0" stroke="#000" stroke-width="2.8" fill="none"/>
<line x1="1308.6" y1="1011.5" x2="1308.6" y2="1043.7" stroke="#000" stroke-width="2.2"/>
<line x1="1299.1" y1="1011.5" x2="1318.1" y2="1011.5" stroke="#000" stroke-width="2.6"/>
<line x1="1299.1" y1="1043.7" x2="1318.1" y2="1043.7" stroke="#000" stroke-width="2.6"/>
<circle cx="1346.9" cy="1077.7" r="5.0" stroke="#000" stroke-width="2.8" fill="none"/>
<circle cx="1359.8" cy="1077.0" r="5.0" stroke="#000" stroke-width="2.8" fill="none"/>
<circle cx="1372.7" cy="1079.1" r="5.0" stroke="#000" stroke-width="2.8" fill="none"/>
<line x1="1359.8" y1="1077.5" x2="1359.8" y2="1079.5" stroke="#000" stroke-width="2.2"/>
<line x1="1350.3" y1="1077.5" x2="1369.3" y2="1077.5" stroke="#000" stroke-width="2.6"/>
<line x1="1350.3" y1="1079.5" x2="1369.3" y2="1079.5" stroke="#000" stroke-width="2.6"/>
<path d="M1053.5,803.4 V786.6 H1162.1 V935" stroke="#000" stroke-width="3.2" fill="none"/>
<path d="M1051.8,763.4 V745 H1309.2 V920" stroke="#000" stroke-width="3.2" fill="none"/>
<text x="1111.5" y="790.0" font-family="'Liberation Serif','Times New Roman',serif" font-size="40" font-weight="bold" fill="#000" text-anchor="middle">***</text>
<text x="1201.8" y="749.0" font-family="'Liberation Serif','Times New Roman',serif" font-size="40" font-weight="bold" fill="#000" text-anchor="middle">***</text>
<line x1="1094.5" y1="984.5" x2="1219.4" y2="984.5" stroke="#000" stroke-width="3.2"/>
<line x1="1246.6" y1="961.9" x2="1382.0" y2="961.9" stroke="#000" stroke-width="3.2"/>
<text x="1164.0" y="979.5" font-family="'Liberation Serif','Times New Roman',serif" font-size="34.5" font-weight="bold" fill="#000" text-anchor="middle">TET</text>
<text x="1314.5" y="958.0" font-family="'Liberation Serif','Times New Roman',serif" font-size="34.5" font-weight="bold" fill="#000" text-anchor="middle">TCS</text>
<text x="0" y="0" font-family="'Liberation Serif','Times New Roman',serif" font-size="107.6" font-weight="bold" fill="#000" transform="translate(1441.4 713.7) scale(1.048 1)">d</text>
<text x="1576.0" y="683.0" font-family="'Liberation Serif','Times New Roman',serif" font-size="34.5" font-weight="bold" font-style="italic" fill="#000" text-anchor="start">phzA1</text>
<text x="1675.0" y="683.0" font-family="'Liberation Serif','Times New Roman',serif" font-size="34.8" font-weight="bold" font-style="italic" fill="#000" text-anchor="start">phzA2</text>
<rect x="1582" y="702" width="85.5" height="64.5" fill="#3650a8"/>
<rect x="1667" y="702" width="85" height="64.5" fill="#3650a8"/>
<rect x="1582" y="766" width="85.5" height="63.5" fill="#9295cd"/>
<rect x="1667" y="766" width="85" height="63.5" fill="#8487c6"/>
<rect x="1582" y="829" width="85.5" height="63.5" fill="#bebfe3"/>
<rect x="1667" y="829" width="85" height="63.5" fill="#a3a5d4"/>
<rect x="1582" y="892" width="85.5" height="64.5" fill="#d8d9ef"/>
<rect x="1667" y="892" width="85" height="64.5" fill="#dfe0f2"/>
<rect x="1582" y="956" width="85.5" height="64.5" fill="#adafdc"/>
<rect x="1667" y="956" width="85" height="64.5" fill="#9597cc"/>
<rect x="1582" y="1020" width="85.5" height="64.5" fill="#d8d8ef"/>
<rect x="1667" y="1020" width="85" height="64.5" fill="#afb0dc"/>
<rect x="1582" y="1084" width="85.5" height="63.5" fill="#d8d9ef"/>
<rect x="1667" y="1084" width="85" height="63.5" fill="#c8c8e6"/>
<rect x="1582" y="1147" width="85.5" height="62.5" fill="#ffffff"/>
<rect x="1667" y="1147" width="85" height="62.5" fill="#eeeef7"/>
<rect x="1583" y="703" width="168.5" height="505" fill="none" stroke="#000" stroke-width="3"/>
<text x="1572.0" y="745.5" font-family="'Liberation Serif','Times New Roman',serif" font-size="33.3" font-weight="bold" fill="#000" text-anchor="end">0</text>
<text x="1572.0" y="809.0" font-family="'Liberation Serif','Times New Roman',serif" font-size="33.3" font-weight="bold" fill="#000" text-anchor="end">20</text>
<text x="1572.0" y="873.0" font-family="'Liberation Serif','Times New Roman',serif" font-size="33.3" font-weight="bold" fill="#000" text-anchor="end">30</text>
<text x="1572.0" y="937.0" font-family="'Liberation Serif','Times New Roman',serif" font-size="33.3" font-weight="bold" fill="#000" text-anchor="end">40</text>
<text x="1572.0" y="1001.0" font-family="'Liberation Serif','Times New Roman',serif" font-size="33.3" font-weight="bold" fill="#000" text-anchor="end">110</text>
<text x="1572.0" y="1065.0" font-family="'Liberation Serif','Times New Roman',serif" font-size="33.3" font-weight="bold" fill="#000" text-anchor="end">220</text>
<text x="1572.0" y="1129.0" font-family="'Liberation Serif','Times New Roman',serif" font-size="33.3" font-weight="bold" fill="#000" text-anchor="end">440</text>
<text x="1572.0" y="1192.5" font-family="'Liberation Serif','Times New Roman',serif" font-size="33.3" font-weight="bold" fill="#000" text-anchor="end">0</text>
<text x="1763.0" y="746.0" font-family="'Liberation Serif','Times New Roman',serif" font-size="33.3" font-weight="bold" fill="#000" text-anchor="start">PAO1</text>
<path d="M1759,797.5 H1771 V925.5 H1759" stroke="#000" stroke-width="2.6" fill="none"/>
<path d="M1759,989.5 H1772 V1117.5 H1759" stroke="#000" stroke-width="2.6" fill="none"/>
<text x="1778.0" y="851.0" font-family="'Liberation Serif','Times New Roman',serif" font-size="33.3" font-weight="bold" fill="#000" text-anchor="start">PAO1</text>
<text x="1778.0" y="890.0" font-family="'Liberation Serif','Times New Roman',serif" font-size="33.3" font-weight="bold" fill="#000" text-anchor="start">+TET</text>
<text x="1780.0" y="1042.0" font-family="'Liberation Serif','Times New Roman',serif" font-size="33.3" font-weight="bold" fill="#000" text-anchor="start">PAO1</text>
<text x="1780.0" y="1081.0" font-family="'Liberation Serif','Times New Roman',serif" font-size="33.3" font-weight="bold" fill="#000" text-anchor="start">+TCS</text>
<text x="1763.0" y="1194.0" font-family="'Liberation Serif','Times New Roman',serif" font-size="35" font-weight="bold" fill="#000" text-anchor="start">Δ<tspan font-style="italic">mexL</tspan></text>
<text x="1498.0" y="1088.5" font-family="'Liberation Serif','Times New Roman',serif" font-size="47" font-weight="bold" fill="#000" text-anchor="start" transform="rotate(-90 1498.0 1088.5)">Antibiotic (μM)</text>
<defs><linearGradient id="cb" x1="0" y1="0" x2="0" y2="1"><stop offset="0" stop-color="#3650a8"/><stop offset="0.35" stop-color="#4a5aac"/><stop offset="0.6" stop-color="#8c8fc8"/><stop offset="0.8" stop-color="#c9c9e6"/><stop offset="1" stop-color="#ffffff"/></linearGradient></defs>
<rect x="1896" y="697" width="41.5" height="510.5" fill="url(#cb)" stroke="#000" stroke-width="3"/>
<line x1="1896.0" y1="707.0" x2="1902.0" y2="707.0" stroke="#000" stroke-width="2.8"/>
<line x1="1931.0" y1="707.0" x2="1937.5" y2="707.0" stroke="#000" stroke-width="2.8"/>
<text x="1952.0" y="718.0" font-family="'Liberation Serif','Times New Roman',serif" font-size="33.3" font-weight="bold" fill="#000" text-anchor="start">1.0</text>
<line x1="1896.0" y1="809.0" x2="1902.0" y2="809.0" stroke="#000" stroke-width="2.8"/>
<line x1="1931.0" y1="809.0" x2="1937.5" y2="809.0" stroke="#000" stroke-width="2.8"/>
<text x="1952.0" y="820.0" font-family="'Liberation Serif','Times New Roman',serif" font-size="33.3" font-weight="bold" fill="#000" text-anchor="start">0.8</text>
<line x1="1896.0" y1="912.0" x2="1902.0" y2="912.0" stroke="#000" stroke-width="2.8"/>
<line x1="1931.0" y1="912.0" x2="1937.5" y2="912.0" stroke="#000" stroke-width="2.8"/>
<text x="1952.0" y="923.0" font-family="'Liberation Serif','Times New Roman',serif" font-size="33.3" font-weight="bold" fill="#000" text-anchor="start">0.6</text>
<line x1="1896.0" y1="1015.0" x2="1902.0" y2="1015.0" stroke="#000" stroke-width="2.8"/>
<line x1="1931.0" y1="1015.0" x2="1937.5" y2="1015.0" stroke="#000" stroke-width="2.8"/>
<text x="1952.0" y="1026.0" font-family="'Liberation Serif','Times New Roman',serif" font-size="33.3" font-weight="bold" fill="#000" text-anchor="start">0.4</text>
<line x1="1896.0" y1="1117.0" x2="1902.0" y2="1117.0" stroke="#000" stroke-width="2.8"/>
<line x1="1931.0" y1="1117.0" x2="1937.5" y2="1117.0" stroke="#000" stroke-width="2.8"/>
<text x="1952.0" y="1128.0" font-family="'Liberation Serif','Times New Roman',serif" font-size="33.3" font-weight="bold" fill="#000" text-anchor="start">0.2</text>
<text x="0" y="0" font-family="'Liberation Serif','Times New Roman',serif" font-size="95.8" font-weight="bold" fill="#000" transform="translate(8.7 1335) scale(1.266 1)">e</text>
<line x1="195.8" y1="1344.2" x2="195.8" y2="1775.2" stroke="#000" stroke-width="3.8"/>
<line x1="179.8" y1="1346.0" x2="195.8" y2="1346.0" stroke="#000" stroke-width="3.8"/>
<text x="177.0" y="1357.5" font-family="'Liberation Serif','Times New Roman',serif" font-size="34.2" font-weight="bold" fill="#000" text-anchor="end">100</text>
<line x1="179.8" y1="1488.5" x2="195.8" y2="1488.5" stroke="#000" stroke-width="3.8"/>
<text x="177.0" y="1500.0" font-family="'Liberation Serif','Times New Roman',serif" font-size="34.2" font-weight="bold" fill="#000" text-anchor="end">80</text>
<line x1="179.8" y1="1630.9" x2="195.8" y2="1630.9" stroke="#000" stroke-width="3.8"/>
<text x="177.0" y="1642.4" font-family="'Liberation Serif','Times New Roman',serif" font-size="34.2" font-weight="bold" fill="#000" text-anchor="end">60</text>
<line x1="179.8" y1="1773.4" x2="195.8" y2="1773.4" stroke="#000" stroke-width="3.8"/>
<text x="177.0" y="1784.9" font-family="'Liberation Serif','Times New Roman',serif" font-size="34.2" font-weight="bold" fill="#000" text-anchor="end">40</text>
<line x1="699.0" y1="1344.2" x2="699.0" y2="1775.2" stroke="#000" stroke-width="3.8"/>
<line x1="699.0" y1="1346.0" x2="714.0" y2="1346.0" stroke="#000" stroke-width="3.8"/>
<text x="722.0" y="1357.5" font-family="'Liberation Serif','Times New Roman',serif" font-size="34.2" font-weight="bold" fill="#e84446" text-anchor="start">9</text>
<line x1="699.0" y1="1488.5" x2="714.0" y2="1488.5" stroke="#000" stroke-width="3.8"/>
<text x="722.0" y="1500.0" font-family="'Liberation Serif','Times New Roman',serif" font-size="34.2" font-weight="bold" fill="#e84446" text-anchor="start">6</text>
<line x1="699.0" y1="1630.9" x2="714.0" y2="1630.9" stroke="#000" stroke-width="3.8"/>
<text x="722.0" y="1642.4" font-family="'Liberation Serif','Times New Roman',serif" font-size="34.2" font-weight="bold" fill="#e84446" text-anchor="start">3</text>
<line x1="699.0" y1="1773.4" x2="714.0" y2="1773.4" stroke="#000" stroke-width="3.8"/>
<line x1="194.0" y1="1773.4" x2="700.9" y2="1773.4" stroke="#000" stroke-width="3.8"/>
<line x1="241.5" y1="1773.4" x2="241.5" y2="1790.3" stroke="#000" stroke-width="3.8"/>
<line x1="310.4" y1="1773.4" x2="310.4" y2="1790.3" stroke="#000" stroke-width="3.8"/>
<line x1="378.7" y1="1773.4" x2="378.7" y2="1790.3" stroke="#000" stroke-width="3.8"/>
<line x1="448.0" y1="1773.4" x2="448.0" y2="1790.3" stroke="#000" stroke-width="3.8"/>
<line x1="516.3" y1="1773.4" x2="516.3" y2="1790.3" stroke="#000" stroke-width="3.8"/>
<line x1="584.8" y1="1773.4" x2="584.8" y2="1790.3" stroke="#000" stroke-width="3.8"/>
<line x1="653.5" y1="1773.4" x2="653.5" y2="1790.3" stroke="#000" stroke-width="3.8"/>
<text x="260.5" y="1807.0" font-family="'Liberation Serif','Times New Roman',serif" font-size="34.8" font-weight="bold" fill="#000" text-anchor="end" transform="rotate(-45 260.5 1807.0)">PAO1</text>
<text x="329.4" y="1807.0" font-family="'Liberation Serif','Times New Roman',serif" font-size="34.8" font-weight="bold" fill="#000" text-anchor="end" transform="rotate(-45 329.4 1807.0)">TET pretreated PAO1</text>
<text x="397.7" y="1807.0" font-family="'Liberation Serif','Times New Roman',serif" font-size="34.8" font-weight="bold" fill="#000" text-anchor="end" transform="rotate(-45 397.7 1807.0)">TCS pretreated PAO1</text>
<text x="467.0" y="1807.0" font-family="'Liberation Serif','Times New Roman',serif" font-size="34.8" font-weight="bold" fill="#000" text-anchor="end" transform="rotate(-45 467.0 1807.0)">Δ<tspan font-style="italic">mexL</tspan></text>
<text x="535.3" y="1807.0" font-family="'Liberation Serif','Times New Roman',serif" font-size="34.8" font-weight="bold" fill="#000" text-anchor="end" transform="rotate(-45 535.3 1807.0)">TET pretreated Δ<tspan font-style="italic">mexL</tspan></text>
<text x="603.8" y="1807.0" font-family="'Liberation Serif','Times New Roman',serif" font-size="34.8" font-weight="bold" fill="#000" text-anchor="end" transform="rotate(-45 603.8 1807.0)">TCS pretreated Δ<tspan font-style="italic">mexL</tspan></text>
<text x="672.5" y="1807.0" font-family="'Liberation Serif','Times New Roman',serif" font-size="34.8" font-weight="bold" fill="#000" text-anchor="end" transform="rotate(-45 672.5 1807.0)">Δ<tspan font-style="italic">phz</tspan></text>
<path d="M241.5,1357.0 L249.5,1370.0 L233.5,1370.0 Z" fill="none" stroke="#e84446" stroke-width="2.8"/>
<path d="M241.5,1365.0 L249.5,1378.0 L233.5,1378.0 Z" fill="none" stroke="#e84446" stroke-width="2.8"/>
<path d="M241.5,1375.0 L249.5,1388.0 L233.5,1388.0 Z" fill="none" stroke="#e84446" stroke-width="2.8"/>
<line x1="218.5" y1="1373.8" x2="264.5" y2="1373.8" stroke="#e84446" stroke-width="4"/>
<line x1="230.5" y1="1362.0" x2="252.5" y2="1362.0" stroke="#e84446" stroke-width="2.6"/>
<line x1="230.5" y1="1386.0" x2="252.5" y2="1386.0" stroke="#e84446" stroke-width="2.6"/>
<line x1="241.5" y1="1362.0" x2="241.5" y2="1386.0" stroke="#e84446" stroke-width="2.4"/>
<path d="M310.0,1357.0 L318.0,1370.0 L302.0,1370.0 Z" fill="none" stroke="#e84446" stroke-width="2.8"/>
<path d="M310.0,1365.0 L318.0,1378.0 L302.0,1378.0 Z" fill="none" stroke="#e84446" stroke-width="2.8"/>
<path d="M310.0,1373.0 L318.0,1386.0 L302.0,1386.0 Z" fill="none" stroke="#e84446" stroke-width="2.8"/>
<path d="M310.0,1379.0 L318.0,1392.0 L302.0,1392.0 Z" fill="none" stroke="#e84446" stroke-width="2.8"/>
<line x1="287.0" y1="1371.8" x2="333.0" y2="1371.8" stroke="#e84446" stroke-width="4"/>
<line x1="299.0" y1="1362.0" x2="321.0" y2="1362.0" stroke="#e84446" stroke-width="2.6"/>
<line x1="299.0" y1="1390.0" x2="321.0" y2="1390.0" stroke="#e84446" stroke-width="2.6"/>
<line x1="310.0" y1="1362.0" x2="310.0" y2="1390.0" stroke="#e84446" stroke-width="2.4"/>
<path d="M379.0,1355.0 L387.0,1368.0 L371.0,1368.0 Z" fill="none" stroke="#e84446" stroke-width="2.8"/>
<path d="M379.0,1359.0 L387.0,1372.0 L371.0,1372.0 Z" fill="none" stroke="#e84446" stroke-width="2.8"/>
<path d="M379.0,1362.0 L387.0,1375.0 L371.0,1375.0 Z" fill="none" stroke="#e84446" stroke-width="2.8"/>
<line x1="356.0" y1="1365.0" x2="402.0" y2="1365.0" stroke="#e84446" stroke-width="4"/>
<line x1="368.0" y1="1360.0" x2="390.0" y2="1360.0" stroke="#e84446" stroke-width="2.6"/>
<line x1="368.0" y1="1373.0" x2="390.0" y2="1373.0" stroke="#e84446" stroke-width="2.6"/>
<line x1="379.0" y1="1360.0" x2="379.0" y2="1373.0" stroke="#e84446" stroke-width="2.4"/>
<path d="M448.0,1353.0 L456.0,1366.0 L440.0,1366.0 Z" fill="none" stroke="#e84446" stroke-width="2.8"/>
<path d="M448.0,1356.0 L456.0,1369.0 L440.0,1369.0 Z" fill="none" stroke="#e84446" stroke-width="2.8"/>
<path d="M448.0,1358.0 L456.0,1371.0 L440.0,1371.0 Z" fill="none" stroke="#e84446" stroke-width="2.8"/>
<line x1="425.0" y1="1362.6" x2="471.0" y2="1362.6" stroke="#e84446" stroke-width="4"/>
<line x1="437.0" y1="1358.0" x2="459.0" y2="1358.0" stroke="#e84446" stroke-width="2.6"/>
<line x1="437.0" y1="1369.0" x2="459.0" y2="1369.0" stroke="#e84446" stroke-width="2.6"/>
<line x1="448.0" y1="1358.0" x2="448.0" y2="1369.0" stroke="#e84446" stroke-width="2.4"/>
<path d="M516.3,1349.0 L524.3,1362.0 L508.3,1362.0 Z" fill="none" stroke="#e84446" stroke-width="2.8"/>
<path d="M516.3,1355.0 L524.3,1368.0 L508.3,1368.0 Z" fill="none" stroke="#e84446" stroke-width="2.8"/>
<path d="M516.3,1359.0 L524.3,1372.0 L508.3,1372.0 Z" fill="none" stroke="#e84446" stroke-width="2.8"/>
<line x1="493.3" y1="1358.4" x2="539.3" y2="1358.4" stroke="#e84446" stroke-width="4"/>
<line x1="505.3" y1="1354.0" x2="527.3" y2="1354.0" stroke="#e84446" stroke-width="2.6"/>
<line x1="505.3" y1="1370.0" x2="527.3" y2="1370.0" stroke="#e84446" stroke-width="2.6"/>
<line x1="516.3" y1="1354.0" x2="516.3" y2="1370.0" stroke="#e84446" stroke-width="2.4"/>
<path d="M584.8,1352.0 L592.8,1365.0 L576.8,1365.0 Z" fill="none" stroke="#e84446" stroke-width="2.8"/>
<path d="M584.8,1356.0 L592.8,1369.0 L576.8,1369.0 Z" fill="none" stroke="#e84446" stroke-width="2.8"/>
<path d="M584.8,1359.0 L592.8,1372.0 L576.8,1372.0 Z" fill="none" stroke="#e84446" stroke-width="2.8"/>
<line x1="561.8" y1="1361.3" x2="607.8" y2="1361.3" stroke="#e84446" stroke-width="4"/>
<line x1="573.8" y1="1357.0" x2="595.8" y2="1357.0" stroke="#e84446" stroke-width="2.6"/>
<line x1="573.8" y1="1370.0" x2="595.8" y2="1370.0" stroke="#e84446" stroke-width="2.6"/>
<line x1="584.8" y1="1357.0" x2="584.8" y2="1370.0" stroke="#e84446" stroke-width="2.4"/>
<path d="M653.5,1352.0 L661.5,1365.0 L645.5,1365.0 Z" fill="none" stroke="#e84446" stroke-width="2.8"/>
<path d="M653.5,1359.0 L661.5,1372.0 L645.5,1372.0 Z" fill="none" stroke="#e84446" stroke-width="2.8"/>
<path d="M653.5,1365.0 L661.5,1378.0 L645.5,1378.0 Z" fill="none" stroke="#e84446" stroke-width="2.8"/>
<line x1="630.5" y1="1364.7" x2="676.5" y2="1364.7" stroke="#e84446" stroke-width="4"/>
<line x1="642.5" y1="1357.0" x2="664.5" y2="1357.0" stroke="#e84446" stroke-width="2.6"/>
<line x1="642.5" y1="1376.0" x2="664.5" y2="1376.0" stroke="#e84446" stroke-width="2.6"/>
<line x1="653.5" y1="1357.0" x2="653.5" y2="1376.0" stroke="#e84446" stroke-width="2.4"/>
<circle cx="241.5" cy="1684.9" r="7.6" stroke="#8b7d3a" stroke-width="3.4" fill="none"/>
<circle cx="241.5" cy="1712.0" r="7.6" stroke="#8b7d3a" stroke-width="3.4" fill="none"/>
<circle cx="241.5" cy="1718.5" r="7.6" stroke="#8b7d3a" stroke-width="3.4" fill="none"/>
<circle cx="241.5" cy="1724.8" r="7.6" stroke="#8b7d3a" stroke-width="3.4" fill="none"/>
<circle cx="241.5" cy="1731.0" r="7.6" stroke="#8b7d3a" stroke-width="3.4" fill="none"/>
<circle cx="241.5" cy="1737.4" r="7.6" stroke="#8b7d3a" stroke-width="3.4" fill="none"/>
<circle cx="241.5" cy="1745.8" r="7.6" stroke="#8b7d3a" stroke-width="3.4" fill="none"/>
<line x1="241.5" y1="1700.4" x2="241.5" y2="1762.6" stroke="#8b7d3a" stroke-width="2.4"/>
<line x1="231.5" y1="1700.4" x2="251.5" y2="1700.4" stroke="#8b7d3a" stroke-width="2.6"/>
<line x1="231.5" y1="1762.6" x2="251.5" y2="1762.6" stroke="#8b7d3a" stroke-width="2.6"/>
<line x1="218.5" y1="1732.0" x2="264.5" y2="1732.0" stroke="#000" stroke-width="4"/>
<circle cx="310.4" cy="1581.9" r="7.6" stroke="#8b7d3a" stroke-width="3.4" fill="none"/>
<circle cx="310.4" cy="1596.6" r="7.6" stroke="#8b7d3a" stroke-width="3.4" fill="none"/>
<circle cx="310.4" cy="1603.0" r="7.6" stroke="#8b7d3a" stroke-width="3.4" fill="none"/>
<circle cx="310.4" cy="1615.5" r="7.6" stroke="#8b7d3a" stroke-width="3.4" fill="none"/>
<circle cx="310.4" cy="1626.0" r="7.6" stroke="#8b7d3a" stroke-width="3.4" fill="none"/>
<circle cx="310.4" cy="1672.3" r="7.6" stroke="#8b7d3a" stroke-width="3.4" fill="none"/>
<line x1="310.4" y1="1590.3" x2="310.4" y2="1644.1" stroke="#8b7d3a" stroke-width="2.4"/>
<line x1="300.4" y1="1590.3" x2="320.4" y2="1590.3" stroke="#8b7d3a" stroke-width="2.6"/>
<line x1="300.4" y1="1644.1" x2="320.4" y2="1644.1" stroke="#8b7d3a" stroke-width="2.6"/>
<line x1="287.4" y1="1616.8" x2="333.4" y2="1616.8" stroke="#000" stroke-width="4"/>
<circle cx="378.7" cy="1472.7" r="7.6" stroke="#8b7d3a" stroke-width="3.4" fill="none"/>
<circle cx="378.7" cy="1522.3" r="7.6" stroke="#8b7d3a" stroke-width="3.4" fill="none"/>
<circle cx="378.7" cy="1542.0" r="7.6" stroke="#8b7d3a" stroke-width="3.4" fill="none"/>
<circle cx="378.7" cy="1546.2" r="7.6" stroke="#8b7d3a" stroke-width="3.4" fill="none"/>
<circle cx="378.7" cy="1581.9" r="7.6" stroke="#8b7d3a" stroke-width="3.4" fill="none"/>
<circle cx="378.7" cy="1611.3" r="7.6" stroke="#8b7d3a" stroke-width="3.4" fill="none"/>
<circle cx="378.7" cy="1617.6" r="7.6" stroke="#8b7d3a" stroke-width="3.4" fill="none"/>
<line x1="378.7" y1="1509.2" x2="378.7" y2="1602.1" stroke="#8b7d3a" stroke-width="2.4"/>
<line x1="368.7" y1="1509.2" x2="388.7" y2="1509.2" stroke="#8b7d3a" stroke-width="2.6"/>
<line x1="368.7" y1="1602.1" x2="388.7" y2="1602.1" stroke="#8b7d3a" stroke-width="2.6"/>
<line x1="355.7" y1="1555.5" x2="401.7" y2="1555.5" stroke="#000" stroke-width="4"/>
<circle cx="448.0" cy="1505.5" r="7.6" stroke="#8b7d3a" stroke-width="3.4" fill="none"/>
<circle cx="448.0" cy="1525.2" r="7.6" stroke="#8b7d3a" stroke-width="3.4" fill="none"/>
<circle cx="448.0" cy="1529.4" r="7.6" stroke="#8b7d3a" stroke-width="3.4" fill="none"/>
<circle cx="448.0" cy="1535.7" r="7.6" stroke="#8b7d3a" stroke-width="3.4" fill="none"/>
<circle cx="448.0" cy="1544.1" r="7.6" stroke="#8b7d3a" stroke-width="3.4" fill="none"/>
<circle cx="448.0" cy="1553.4" r="7.6" stroke="#8b7d3a" stroke-width="3.4" fill="none"/>
<circle cx="448.0" cy="1593.7" r="7.6" stroke="#8b7d3a" stroke-width="3.4" fill="none"/>
<line x1="448.0" y1="1516.0" x2="448.0" y2="1568.5" stroke="#8b7d3a" stroke-width="2.4"/>
<line x1="438.0" y1="1516.0" x2="458.0" y2="1516.0" stroke="#8b7d3a" stroke-width="2.6"/>
<line x1="438.0" y1="1568.5" x2="458.0" y2="1568.5" stroke="#8b7d3a" stroke-width="2.6"/>
<line x1="425.0" y1="1542.0" x2="471.0" y2="1542.0" stroke="#000" stroke-width="4"/>
<circle cx="516.3" cy="1498.7" r="7.6" stroke="#8b7d3a" stroke-width="3.4" fill="none"/>
<circle cx="516.3" cy="1549.2" r="7.6" stroke="#8b7d3a" stroke-width="3.4" fill="none"/>
<circle cx="516.3" cy="1556.7" r="7.6" stroke="#8b7d3a" stroke-width="3.4" fill="none"/>
<circle cx="516.3" cy="1563.0" r="7.6" stroke="#8b7d3a" stroke-width="3.4" fill="none"/>
<circle cx="516.3" cy="1569.3" r="7.6" stroke="#8b7d3a" stroke-width="3.4" fill="none"/>
<circle cx="516.3" cy="1575.6" r="7.6" stroke="#8b7d3a" stroke-width="3.4" fill="none"/>
<line x1="516.3" y1="1531.5" x2="516.3" y2="1586.1" stroke="#8b7d3a" stroke-width="2.4"/>
<line x1="506.3" y1="1531.5" x2="526.3" y2="1531.5" stroke="#8b7d3a" stroke-width="2.6"/>
<line x1="506.3" y1="1586.1" x2="526.3" y2="1586.1" stroke="#8b7d3a" stroke-width="2.6"/>
<line x1="493.3" y1="1558.8" x2="539.3" y2="1558.8" stroke="#000" stroke-width="4"/>
<circle cx="584.8" cy="1485.3" r="7.6" stroke="#8b7d3a" stroke-width="3.4" fill="none"/>
<circle cx="584.8" cy="1491.6" r="7.6" stroke="#8b7d3a" stroke-width="3.4" fill="none"/>
<circle cx="584.8" cy="1502.1" r="7.6" stroke="#8b7d3a" stroke-width="3.4" fill="none"/>
<circle cx="584.8" cy="1512.6" r="7.6" stroke="#8b7d3a" stroke-width="3.4" fill="none"/>
<circle cx="584.8" cy="1544.1" r="7.6" stroke="#8b7d3a" stroke-width="3.4" fill="none"/>
<circle cx="584.8" cy="1551.7" r="7.6" stroke="#8b7d3a" stroke-width="3.4" fill="none"/>
<line x1="584.8" y1="1483.2" x2="584.8" y2="1539.9" stroke="#8b7d3a" stroke-width="2.4"/>
<line x1="574.8" y1="1483.2" x2="594.8" y2="1483.2" stroke="#8b7d3a" stroke-width="2.6"/>
<line x1="574.8" y1="1539.9" x2="594.8" y2="1539.9" stroke="#8b7d3a" stroke-width="2.6"/>
<line x1="561.8" y1="1511.8" x2="607.8" y2="1511.8" stroke="#000" stroke-width="4"/>
<circle cx="653.5" cy="1587.4" r="7.6" stroke="#8b7d3a" stroke-width="3.4" fill="none"/>
<circle cx="653.5" cy="1594.5" r="7.6" stroke="#8b7d3a" stroke-width="3.4" fill="none"/>
<circle cx="653.5" cy="1611.3" r="7.6" stroke="#8b7d3a" stroke-width="3.4" fill="none"/>
<circle cx="653.5" cy="1619.7" r="7.6" stroke="#8b7d3a" stroke-width="3.4" fill="none"/>
<circle cx="653.5" cy="1642.9" r="7.6" stroke="#8b7d3a" stroke-width="3.4" fill="none"/>
<circle cx="653.5" cy="1678.6" r="7.6" stroke="#8b7d3a" stroke-width="3.4" fill="none"/>
<line x1="653.5" y1="1593.7" x2="653.5" y2="1665.1" stroke="#8b7d3a" stroke-width="2.4"/>
<line x1="643.5" y1="1593.7" x2="663.5" y2="1593.7" stroke="#8b7d3a" stroke-width="2.6"/>
<line x1="643.5" y1="1665.1" x2="663.5" y2="1665.1" stroke="#8b7d3a" stroke-width="2.6"/>
<line x1="630.5" y1="1629.4" x2="676.5" y2="1629.4" stroke="#000" stroke-width="4"/>
<text x="314.7" y="1579.0" font-family="'Liberation Serif','Times New Roman',serif" font-size="42" font-weight="bold" fill="#000" text-anchor="middle" letter-spacing="1">***</text>
<text x="384.5" y="1470.0" font-family="'Liberation Serif','Times New Roman',serif" font-size="42" font-weight="bold" fill="#000" text-anchor="middle" letter-spacing="1">****</text>
<text x="655.5" y="1590.0" font-family="'Liberation Serif','Times New Roman',serif" font-size="42" font-weight="bold" fill="#000" text-anchor="middle" letter-spacing="1">****</text>
<text x="524.0" y="1418.0" font-family="'Liberation Serif','Times New Roman',serif" font-size="42" font-weight="bold" fill="#000" text-anchor="middle" letter-spacing="1">****</text>
<line x1="444.1" y1="1408.8" x2="605.9" y2="1408.8" stroke="#000" stroke-width="3.4"/>
<text x="505.3" y="1441.2" font-family="'Liberation Serif','Times New Roman',serif" font-size="40" font-weight="bold" fill="#000" text-anchor="middle">ns</text>
<path d="M450.4,1464.3 V1445.4 H551.3 V1464.3" stroke="#000" stroke-width="3.4" fill="none"/>
<line x1="508.4" y1="1469.7" x2="603.8" y2="1469.7" stroke="#000" stroke-width="3.4"/>
<text x="57.0" y="1747.3" font-family="'Liberation Serif','Times New Roman',serif" font-size="49.3" font-weight="bold" fill="#000" text-anchor="start" transform="rotate(-90 57.0 1747.3)">A549 cell viability</text>
<text x="0" y="0" font-family="'Liberation Serif','Times New Roman',serif" font-weight="bold" font-size="49.7" transform="translate(101 1729) rotate(-90)">( % of control )</text>
<text x="0" y="0" font-family="'Liberation Serif','Times New Roman',serif" font-weight="bold" font-size="48" fill="#e84446" transform="translate(762.4 1390.6) rotate(90) scale(0.955 1)">Log<tspan font-size="33" dy="15">10</tspan><tspan dy="-15"> CFU/mL</tspan></text>
<text x="0" y="0" font-family="'Liberation Serif','Times New Roman',serif" font-size="108.6" font-weight="bold" fill="#000" transform="translate(809.6 1336.3) scale(1.191 1)">f</text>
<line x1="962.6" y1="1336.5" x2="962.6" y2="1777.0" stroke="#000" stroke-width="3.8"/>
<line x1="945.6" y1="1775.0" x2="962.6" y2="1775.0" stroke="#000" stroke-width="3.8"/>
<line x1="945.6" y1="1556.5" x2="962.6" y2="1556.5" stroke="#000" stroke-width="3.8"/>
<line x1="945.6" y1="1338.0" x2="962.6" y2="1338.0" stroke="#000" stroke-width="3.8"/>
<line x1="953.6" y1="1709.2" x2="962.6" y2="1709.2" stroke="#000" stroke-width="3.8"/>
<line x1="953.6" y1="1670.7" x2="962.6" y2="1670.7" stroke="#000" stroke-width="3.8"/>
<line x1="953.6" y1="1643.4" x2="962.6" y2="1643.4" stroke="#000" stroke-width="3.8"/>
<line x1="953.6" y1="1622.3" x2="962.6" y2="1622.3" stroke="#000" stroke-width="3.8"/>
<line x1="953.6" y1="1605.0" x2="962.6" y2="1605.0" stroke="#000" stroke-width="3.8"/>
<line x1="953.6" y1="1590.3" x2="962.6" y2="1590.3" stroke="#000" stroke-width="3.8"/>
<line x1="953.6" y1="1577.7" x2="962.6" y2="1577.7" stroke="#000" stroke-width="3.8"/>
<line x1="953.6" y1="1566.5" x2="962.6" y2="1566.5" stroke="#000" stroke-width="3.8"/>
<line x1="953.6" y1="1490.7" x2="962.6" y2="1490.7" stroke="#000" stroke-width="3.8"/>
<line x1="953.6" y1="1452.2" x2="962.6" y2="1452.2" stroke="#000" stroke-width="3.8"/>
<line x1="953.6" y1="1424.9" x2="962.6" y2="1424.9" stroke="#000" stroke-width="3.8"/>
<line x1="953.6" y1="1403.8" x2="962.6" y2="1403.8" stroke="#000" stroke-width="3.8"/>
<line x1="953.6" y1="1386.5" x2="962.6" y2="1386.5" stroke="#000" stroke-width="3.8"/>
<line x1="953.6" y1="1371.8" x2="962.6" y2="1371.8" stroke="#000" stroke-width="3.8"/>
<line x1="953.6" y1="1359.2" x2="962.6" y2="1359.2" stroke="#000" stroke-width="3.8"/>
<line x1="953.6" y1="1348.0" x2="962.6" y2="1348.0" stroke="#000" stroke-width="3.8"/>
<text x="942.6" y="1350.0" font-family="'Liberation Serif','Times New Roman',serif" font-size="36" font-weight="bold" fill="#000" text-anchor="end">100</text>
<text x="942.6" y="1568.5" font-family="'Liberation Serif','Times New Roman',serif" font-size="36" font-weight="bold" fill="#000" text-anchor="end">10</text>
<text x="942.6" y="1787.0" font-family="'Liberation Serif','Times New Roman',serif" font-size="36" font-weight="bold" fill="#000" text-anchor="end">1</text>
<line x1="945.6" y1="1775.0" x2="1378.0" y2="1775.0" stroke="#000" stroke-width="3.8"/>
<line x1="1014.0" y1="1775.0" x2="1014.0" y2="1791.0" stroke="#000" stroke-width="3.8"/>
<line x1="1092.0" y1="1775.0" x2="1092.0" y2="1791.0" stroke="#000" stroke-width="3.8"/>
<line x1="1169.0" y1="1775.0" x2="1169.0" y2="1791.0" stroke="#000" stroke-width="3.8"/>
<line x1="1246.0" y1="1775.0" x2="1246.0" y2="1791.0" stroke="#000" stroke-width="3.8"/>
<line x1="1324.0" y1="1775.0" x2="1324.0" y2="1791.0" stroke="#000" stroke-width="3.8"/>
<text x="1032.0" y="1808.0" font-family="'Liberation Serif','Times New Roman',serif" font-size="35.5" font-weight="bold" fill="#000" text-anchor="end" transform="rotate(-45 1032.0 1808.0)">PAO1</text>
<text x="1110.0" y="1808.0" font-family="'Liberation Serif','Times New Roman',serif" font-size="35.5" font-weight="bold" fill="#000" text-anchor="end" transform="rotate(-45 1110.0 1808.0)">TET pretreated PAO1</text>
<text x="1187.0" y="1808.0" font-family="'Liberation Serif','Times New Roman',serif" font-size="35.5" font-weight="bold" fill="#000" text-anchor="end" transform="rotate(-45 1187.0 1808.0)">TCS pretreated PAO1</text>
<text x="1264.0" y="1808.0" font-family="'Liberation Serif','Times New Roman',serif" font-size="35.5" font-weight="bold" fill="#000" text-anchor="end" transform="rotate(-45 1264.0 1808.0)">Δ<tspan font-style="italic">mexL</tspan></text>
<text x="1342.0" y="1808.0" font-family="'Liberation Serif','Times New Roman',serif" font-size="35.5" font-weight="bold" fill="#000" text-anchor="end" transform="rotate(-45 1342.0 1808.0)">Δ<tspan font-style="italic">phz</tspan></text>
<text x="1184.5" y="1360.5" font-family="'Liberation Serif','Times New Roman',serif" font-size="46" font-weight="bold" fill="#000" text-anchor="middle">CIP</text>
<circle cx="1000.5" cy="1498.9" r="8.2" stroke="#e8822c" stroke-width="3.2" fill="none"/>
<circle cx="1014.0" cy="1489.2" r="8.2" stroke="#e8822c" stroke-width="3.2" fill="none"/>
<circle cx="1027.4" cy="1514.4" r="8.2" stroke="#e8822c" stroke-width="3.2" fill="none"/>
<line x1="1014.0" y1="1489.2" x2="1014.0" y2="1513.5" stroke="#e8822c" stroke-width="2.4"/>
<line x1="1001.5" y1="1489.2" x2="1026.5" y2="1489.2" stroke="#e8822c" stroke-width="2.6"/>
<line x1="1001.5" y1="1513.5" x2="1026.5" y2="1513.5" stroke="#e8822c" stroke-width="2.6"/>
<line x1="988.5" y1="1500.8" x2="1039.5" y2="1500.8" stroke="#e8822c" stroke-width="4.2"/>
<circle cx="1078.7" cy="1622.6" r="8.2" stroke="#48c03e" stroke-width="3.2" fill="none"/>
<circle cx="1104.5" cy="1630.7" r="8.2" stroke="#48c03e" stroke-width="3.2" fill="none"/>
<circle cx="1091.8" cy="1662.3" r="8.2" stroke="#48c03e" stroke-width="3.2" fill="none"/>
<line x1="1092.0" y1="1619.1" x2="1092.0" y2="1659.1" stroke="#48c03e" stroke-width="2.4"/>
<line x1="1079.5" y1="1619.1" x2="1104.5" y2="1619.1" stroke="#48c03e" stroke-width="2.6"/>
<line x1="1079.5" y1="1659.1" x2="1104.5" y2="1659.1" stroke="#48c03e" stroke-width="2.6"/>
<line x1="1066.5" y1="1637.1" x2="1117.5" y2="1637.1" stroke="#48c03e" stroke-width="4.2"/>
<circle cx="1168.8" cy="1602.9" r="8.2" stroke="#8244a8" stroke-width="3.2" fill="none"/>
<circle cx="1156.1" cy="1637.6" r="8.2" stroke="#8244a8" stroke-width="3.2" fill="none"/>
<circle cx="1182.2" cy="1654.5" r="8.2" stroke="#8244a8" stroke-width="3.2" fill="none"/>
<line x1="1169.0" y1="1605.9" x2="1169.0" y2="1661.2" stroke="#8244a8" stroke-width="2.4"/>
<line x1="1156.5" y1="1605.9" x2="1181.5" y2="1605.9" stroke="#8244a8" stroke-width="2.6"/>
<line x1="1156.5" y1="1661.2" x2="1181.5" y2="1661.2" stroke="#8244a8" stroke-width="2.6"/>
<line x1="1143.5" y1="1629.5" x2="1194.5" y2="1629.5" stroke="#8244a8" stroke-width="4.2"/>
<circle cx="1246.2" cy="1595.3" r="8.2" stroke="#2f50a8" stroke-width="3.2" fill="none"/>
<circle cx="1233.0" cy="1622.6" r="8.2" stroke="#2f50a8" stroke-width="3.2" fill="none"/>
<circle cx="1258.9" cy="1636.4" r="8.2" stroke="#2f50a8" stroke-width="3.2" fill="none"/>
<line x1="1246.0" y1="1597.6" x2="1246.0" y2="1640.6" stroke="#2f50a8" stroke-width="2.4"/>
<line x1="1233.5" y1="1597.6" x2="1258.5" y2="1597.6" stroke="#2f50a8" stroke-width="2.6"/>
<line x1="1233.5" y1="1640.6" x2="1258.5" y2="1640.6" stroke="#2f50a8" stroke-width="2.6"/>
<line x1="1220.5" y1="1616.8" x2="1271.5" y2="1616.8" stroke="#2f50a8" stroke-width="4.2"/>
<circle cx="1323.0" cy="1583.3" r="8.2" stroke="#000" stroke-width="3.2" fill="none"/>
<circle cx="1323.0" cy="1608.2" r="8.2" stroke="#000" stroke-width="3.2" fill="none"/>
<circle cx="1323.0" cy="1642.9" r="8.2" stroke="#000" stroke-width="3.2" fill="none"/>
<line x1="1324.0" y1="1583.3" x2="1324.0" y2="1642.9" stroke="#000" stroke-width="2.4"/>
<line x1="1311.5" y1="1583.3" x2="1336.5" y2="1583.3" stroke="#000" stroke-width="2.6"/>
<line x1="1311.5" y1="1642.9" x2="1336.5" y2="1642.9" stroke="#000" stroke-width="2.6"/>
<line x1="1298.5" y1="1608.2" x2="1349.5" y2="1608.2" stroke="#000" stroke-width="4.2"/>
<line x1="1074.0" y1="1564.1" x2="1336.4" y2="1564.1" stroke="#000" stroke-width="3.4"/>
<text x="1205.2" y="1568.0" font-family="'Liberation Serif','Times New Roman',serif" font-size="50" font-weight="bold" fill="#000" text-anchor="middle" letter-spacing="4">**</text>
<text x="0" y="0" font-family="'Liberation Serif','Times New Roman',serif" font-weight="bold" font-size="48" transform="translate(892.5 1644) rotate(-90) scale(0.851 1)">Survival ( % )</text>
<line x1="1580.8" y1="1336.5" x2="1580.8" y2="1777.0" stroke="#000" stroke-width="3.8"/>
<line x1="1563.8" y1="1775.0" x2="1580.8" y2="1775.0" stroke="#000" stroke-width="3.8"/>
<line x1="1563.8" y1="1556.5" x2="1580.8" y2="1556.5" stroke="#000" stroke-width="3.8"/>
<line x1="1563.8" y1="1338.0" x2="1580.8" y2="1338.0" stroke="#000" stroke-width="3.8"/>
<line x1="1571.8" y1="1709.2" x2="1580.8" y2="1709.2" stroke="#000" stroke-width="3.8"/>
<line x1="1571.8" y1="1670.7" x2="1580.8" y2="1670.7" stroke="#000" stroke-width="3.8"/>
<line x1="1571.8" y1="1643.4" x2="1580.8" y2="1643.4" stroke="#000" stroke-width="3.8"/>
<line x1="1571.8" y1="1622.3" x2="1580.8" y2="1622.3" stroke="#000" stroke-width="3.8"/>
<line x1="1571.8" y1="1605.0" x2="1580.8" y2="1605.0" stroke="#000" stroke-width="3.8"/>
<line x1="1571.8" y1="1590.3" x2="1580.8" y2="1590.3" stroke="#000" stroke-width="3.8"/>
<line x1="1571.8" y1="1577.7" x2="1580.8" y2="1577.7" stroke="#000" stroke-width="3.8"/>
<line x1="1571.8" y1="1566.5" x2="1580.8" y2="1566.5" stroke="#000" stroke-width="3.8"/>
<line x1="1571.8" y1="1490.7" x2="1580.8" y2="1490.7" stroke="#000" stroke-width="3.8"/>
<line x1="1571.8" y1="1452.2" x2="1580.8" y2="1452.2" stroke="#000" stroke-width="3.8"/>
<line x1="1571.8" y1="1424.9" x2="1580.8" y2="1424.9" stroke="#000" stroke-width="3.8"/>
<line x1="1571.8" y1="1403.8" x2="1580.8" y2="1403.8" stroke="#000" stroke-width="3.8"/>
<line x1="1571.8" y1="1386.5" x2="1580.8" y2="1386.5" stroke="#000" stroke-width="3.8"/>
<line x1="1571.8" y1="1371.8" x2="1580.8" y2="1371.8" stroke="#000" stroke-width="3.8"/>
<line x1="1571.8" y1="1359.2" x2="1580.8" y2="1359.2" stroke="#000" stroke-width="3.8"/>
<line x1="1571.8" y1="1348.0" x2="1580.8" y2="1348.0" stroke="#000" stroke-width="3.8"/>
<text x="1560.8" y="1350.0" font-family="'Liberation Serif','Times New Roman',serif" font-size="36" font-weight="bold" fill="#000" text-anchor="end">100</text>
<text x="1560.8" y="1568.5" font-family="'Liberation Serif','Times New Roman',serif" font-size="36" font-weight="bold" fill="#000" text-anchor="end">10</text>
<text x="1560.8" y="1787.0" font-family="'Liberation Serif','Times New Roman',serif" font-size="36" font-weight="bold" fill="#000" text-anchor="end">1</text>
<line x1="1563.8" y1="1775.0" x2="1989.0" y2="1775.0" stroke="#000" stroke-width="3.8"/>
<line x1="1632.0" y1="1775.0" x2="1632.0" y2="1791.0" stroke="#000" stroke-width="3.8"/>
<line x1="1708.0" y1="1775.0" x2="1708.0" y2="1791.0" stroke="#000" stroke-width="3.8"/>
<line x1="1784.0" y1="1775.0" x2="1784.0" y2="1791.0" stroke="#000" stroke-width="3.8"/>
<line x1="1860.0" y1="1775.0" x2="1860.0" y2="1791.0" stroke="#000" stroke-width="3.8"/>
<line x1="1936.0" y1="1775.0" x2="1936.0" y2="1791.0" stroke="#000" stroke-width="3.8"/>
<text x="1650.0" y="1808.0" font-family="'Liberation Serif','Times New Roman',serif" font-size="35.5" font-weight="bold" fill="#000" text-anchor="end" transform="rotate(-45 1650.0 1808.0)">PAO1</text>
<text x="1726.0" y="1808.0" font-family="'Liberation Serif','Times New Roman',serif" font-size="35.5" font-weight="bold" fill="#000" text-anchor="end" transform="rotate(-45 1726.0 1808.0)">TET pretreated PAO1</text>
<text x="1802.0" y="1808.0" font-family="'Liberation Serif','Times New Roman',serif" font-size="35.5" font-weight="bold" fill="#000" text-anchor="end" transform="rotate(-45 1802.0 1808.0)">TCS pretreated PAO1</text>
<text x="1878.0" y="1808.0" font-family="'Liberation Serif','Times New Roman',serif" font-size="35.5" font-weight="bold" fill="#000" text-anchor="end" transform="rotate(-45 1878.0 1808.0)">Δ<tspan font-style="italic">mexL</tspan></text>
<text x="1954.0" y="1808.0" font-family="'Liberation Serif','Times New Roman',serif" font-size="35.5" font-weight="bold" fill="#000" text-anchor="end" transform="rotate(-45 1954.0 1808.0)">Δ<tspan font-style="italic">phz</tspan></text>
<text x="1803.0" y="1360.5" font-family="'Liberation Serif','Times New Roman',serif" font-size="46" font-weight="bold" fill="#000" text-anchor="middle">TOB</text>
<circle cx="1616.3" cy="1467.8" r="8.2" stroke="#e8822c" stroke-width="3.2" fill="none"/>
<circle cx="1631.4" cy="1473.4" r="8.2" stroke="#e8822c" stroke-width="3.2" fill="none"/>
<circle cx="1647.2" cy="1481.3" r="8.2" stroke="#e8822c" stroke-width="3.2" fill="none"/>
<line x1="1632.0" y1="1468.5" x2="1632.0" y2="1478.5" stroke="#e8822c" stroke-width="2.4"/>
<line x1="1619.5" y1="1468.5" x2="1644.5" y2="1468.5" stroke="#e8822c" stroke-width="2.6"/>
<line x1="1619.5" y1="1478.5" x2="1644.5" y2="1478.5" stroke="#e8822c" stroke-width="2.6"/>
<line x1="1606.5" y1="1473.4" x2="1657.5" y2="1473.4" stroke="#e8822c" stroke-width="4.2"/>
<circle cx="1693.1" cy="1482.4" r="8.2" stroke="#48c03e" stroke-width="3.2" fill="none"/>
<circle cx="1708.9" cy="1493.3" r="8.2" stroke="#48c03e" stroke-width="3.2" fill="none"/>
<circle cx="1723.1" cy="1505.0" r="8.2" stroke="#48c03e" stroke-width="3.2" fill="none"/>
<line x1="1708.0" y1="1483.1" x2="1708.0" y2="1505.2" stroke="#48c03e" stroke-width="2.4"/>
<line x1="1695.5" y1="1483.1" x2="1720.5" y2="1483.1" stroke="#48c03e" stroke-width="2.6"/>
<line x1="1695.5" y1="1505.2" x2="1720.5" y2="1505.2" stroke="#48c03e" stroke-width="2.6"/>
<line x1="1682.5" y1="1493.3" x2="1733.5" y2="1493.3" stroke="#48c03e" stroke-width="4.2"/>
<circle cx="1771.0" cy="1588.6" r="8.2" stroke="#8244a8" stroke-width="3.2" fill="none"/>
<circle cx="1796.5" cy="1598.7" r="8.2" stroke="#8244a8" stroke-width="3.2" fill="none"/>
<circle cx="1783.9" cy="1656.3" r="8.2" stroke="#8244a8" stroke-width="3.2" fill="none"/>
<line x1="1784.0" y1="1581.8" x2="1784.0" y2="1649.5" stroke="#8244a8" stroke-width="2.4"/>
<line x1="1771.5" y1="1581.8" x2="1796.5" y2="1581.8" stroke="#8244a8" stroke-width="2.6"/>
<line x1="1771.5" y1="1649.5" x2="1796.5" y2="1649.5" stroke="#8244a8" stroke-width="2.6"/>
<line x1="1758.5" y1="1610.0" x2="1809.5" y2="1610.0" stroke="#8244a8" stroke-width="4.2"/>
<circle cx="1860.2" cy="1607.3" r="8.2" stroke="#2f50a8" stroke-width="3.2" fill="none"/>
<circle cx="1847.3" cy="1638.3" r="8.2" stroke="#2f50a8" stroke-width="3.2" fill="none"/>
<circle cx="1872.6" cy="1660.8" r="8.2" stroke="#2f50a8" stroke-width="3.2" fill="none"/>
<line x1="1860.0" y1="1610.0" x2="1860.0" y2="1666.0" stroke="#2f50a8" stroke-width="2.4"/>
<line x1="1847.5" y1="1610.0" x2="1872.5" y2="1610.0" stroke="#2f50a8" stroke-width="2.6"/>
<line x1="1847.5" y1="1666.0" x2="1872.5" y2="1666.0" stroke="#2f50a8" stroke-width="2.6"/>
<line x1="1834.5" y1="1633.7" x2="1885.5" y2="1633.7" stroke="#2f50a8" stroke-width="4.2"/>
<circle cx="1935.8" cy="1463.2" r="8.2" stroke="#000" stroke-width="3.2" fill="none"/>
<circle cx="1920.0" cy="1490.3" r="8.2" stroke="#000" stroke-width="3.2" fill="none"/>
<circle cx="1949.4" cy="1503.9" r="8.2" stroke="#000" stroke-width="3.2" fill="none"/>
<line x1="1936.0" y1="1467.1" x2="1936.0" y2="1505.7" stroke="#000" stroke-width="2.4"/>
<line x1="1923.5" y1="1467.1" x2="1948.5" y2="1467.1" stroke="#000" stroke-width="2.6"/>
<line x1="1923.5" y1="1505.7" x2="1948.5" y2="1505.7" stroke="#000" stroke-width="2.6"/>
<line x1="1910.5" y1="1484.7" x2="1961.5" y2="1484.7" stroke="#000" stroke-width="4.2"/>
<text x="1706.0" y="1466.6" font-family="'Liberation Serif','Times New Roman',serif" font-size="50" font-weight="bold" fill="#000" text-anchor="middle" letter-spacing="3">ns</text>
<text x="1940.4" y="1447.4" font-family="'Liberation Serif','Times New Roman',serif" font-size="50" font-weight="bold" fill="#000" text-anchor="middle" letter-spacing="3">ns</text>
<text x="1784.0" y="1581.0" font-family="'Liberation Serif','Times New Roman',serif" font-size="50" font-weight="bold" fill="#000" text-anchor="middle" letter-spacing="4">**</text>
<text x="1862.5" y="1605.0" font-family="'Liberation Serif','Times New Roman',serif" font-size="50" font-weight="bold" fill="#000" text-anchor="middle" letter-spacing="3">***</text>
<text x="0" y="0" font-family="'Liberation Serif','Times New Roman',serif" font-weight="bold" font-size="48" transform="translate(1495 1661) rotate(-90) scale(0.928 1)">Survival ( % )</text>
</svg></body></html>
